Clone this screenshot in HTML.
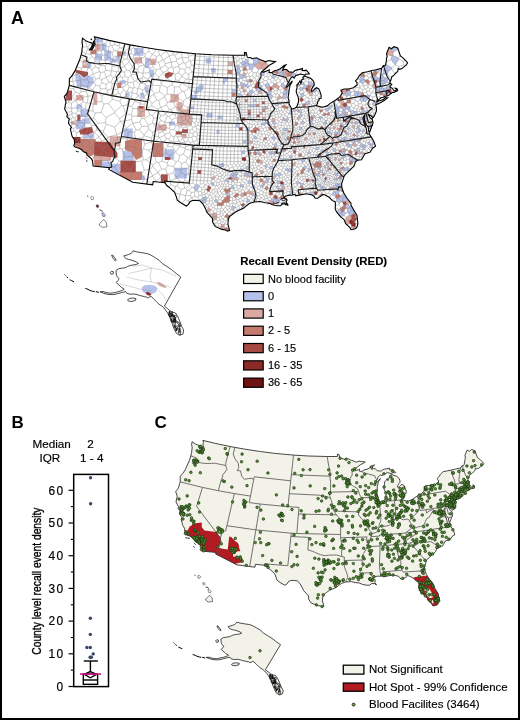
<!DOCTYPE html>
<html><head><meta charset="utf-8"><style>html,body{margin:0;padding:0;background:#fff;width:520px;height:720px;overflow:hidden}</style></head>
<body><svg width="520" height="720" viewBox="0 0 520 720" style="position:absolute;left:0;top:0;will-change:transform">
<rect x="1" y="1" width="518" height="718" fill="#fff" stroke="#000" stroke-width="2"/>
<g font-family="Liberation Sans, sans-serif">
<text x="11" y="23.7" font-size="18" font-weight="bold">A</text>
<text x="11.5" y="428.2" font-size="17" font-weight="bold">B</text>
<text x="154.5" y="428.2" font-size="17" font-weight="bold">C</text>
</g>
<path d="M82.5 38.3 84.7 39.9 86.3 41.1 88.7 42.1 90.5 42.6 92.3 43.1 92.4 44.4 92.1 46.3 90.6 48.6 88.9 50.3 90.5 49.8 92.1 49.4 93.1 47.7 94.1 46.0 95.0 44.7 94.8 42.3 94.7 40.3 95.2 38.9 94.4 36.7 109.0 40.4 124.9 43.8 130.2 44.9 140.9 46.8 157.5 49.5 173.9 51.6 195.5 53.7 212.3 54.7 233.0 55.3 244.5 55.3 244.5 52.4 246.3 52.8 247.0 56.4 247.5 57.3 250.9 57.8 252.0 58.7 253.9 58.2 256.7 57.9 258.7 59.1 260.4 59.8 263.2 60.8 265.5 61.8 268.5 60.5 271.6 61.1 275.5 61.6 273.4 63.1 270.1 64.7 267.4 67.0 264.4 69.5 261.9 71.7 263.6 72.1 265.9 71.3 268.1 70.6 269.2 69.9 269.1 72.4 271.7 72.6 274.4 70.7 277.5 70.0 279.7 68.9 282.2 67.2 284.0 65.5 285.9 64.9 284.4 66.7 283.1 68.3 282.7 70.3 284.6 69.3 286.6 69.5 288.8 71.7 291.7 72.1 293.2 72.2 295.0 70.5 296.8 69.9 299.5 69.4 302.5 68.6 302.2 70.5 304.5 70.6 306.2 70.2 307.6 71.6 309.0 73.3 309.3 73.9 307.6 74.0 305.9 74.2 304.7 75.2 302.4 74.5 300.0 74.0 298.1 74.9 295.8 75.5 294.1 78.0 292.8 76.6 291.4 77.4 290.1 79.1 288.6 82.6 287.2 84.4 286.5 87.1 288.1 86.1 289.4 84.2 291.0 82.4 292.3 80.8 291.6 83.1 290.1 84.8 289.7 87.4 289.0 90.3 288.9 92.9 288.2 96.4 288.2 98.4 289.1 100.7 289.0 102.4 289.1 104.0 290.7 107.0 291.4 108.5 292.5 108.9 295.2 107.9 296.9 106.7 297.5 104.8 298.5 102.2 298.6 99.3 297.9 96.1 296.5 93.4 296.2 90.7 297.1 87.6 296.8 85.0 298.4 83.3 300.0 80.8 300.8 83.4 301.5 81.8 301.8 79.7 303.5 78.9 302.8 77.5 304.7 75.9 306.4 76.7 308.6 77.6 310.3 78.0 312.9 80.4 314.1 83.0 314.2 85.2 313.1 86.6 311.6 89.1 311.7 91.4 313.6 90.4 314.9 88.7 316.6 87.7 318.8 88.9 320.2 92.2 321.1 95.3 321.1 98.3 319.3 98.5 318.9 100.5 317.8 101.4 317.5 103.3 316.3 105.6 318.5 106.3 321.1 107.1 323.6 107.0 327.2 105.9 329.9 103.6 332.2 102.1 336.1 99.7 338.0 98.3 340.3 96.3 342.3 92.9 340.9 90.3 344.0 89.0 349.4 88.8 353.5 87.7 355.6 86.0 357.2 85.0 356.9 82.4 355.5 80.9 357.6 78.7 359.3 75.7 362.3 72.7 367.4 71.7 371.1 70.8 376.0 69.7 381.6 68.3 383.4 65.6 384.9 65.8 385.7 64.3 386.5 60.1 386.4 58.6 387.2 56.4 386.5 53.9 389.1 47.3 391.4 48.8 394.0 46.7 397.7 48.0 400.4 56.0 403.2 58.1 406.1 61.0 407.6 62.9 406.3 65.0 403.9 66.9 401.9 68.6 399.7 69.3 398.2 68.5 397.8 71.3 395.9 73.0 394.0 75.1 391.8 76.9 390.7 80.7 390.0 81.5 390.0 83.1 391.8 84.4 390.1 86.3 390.2 87.5 391.9 87.9 393.2 89.5 394.0 90.8 395.5 90.7 396.7 89.4 395.2 88.2 396.8 88.4 397.7 90.5 395.9 91.4 393.8 92.5 392.2 92.5 391.3 93.6 390.1 94.1 389.4 94.8 387.1 96.0 385.6 96.3 383.3 97.3 380.8 97.8 379.4 99.1 377.0 101.0 376.4 102.1 378.0 101.2 381.0 100.3 383.3 99.6 385.1 97.8 387.6 97.8 384.2 100.6 380.3 102.8 378.0 103.9 375.9 104.4 375.8 105.2 376.3 107.2 376.4 108.8 376.5 110.7 375.2 114.1 374.0 116.4 372.7 118.0 371.6 116.1 369.1 115.0 367.8 113.7 368.9 115.8 370.5 118.3 372.1 119.2 372.9 121.7 373.0 122.6 372.5 125.3 371.8 126.2 370.9 128.7 369.7 132.1 369.3 132.8 368.7 130.7 368.2 126.9 365.9 124.2 364.5 120.6 364.3 116.8 364.8 114.7 363.1 117.4 363.2 120.9 364.7 124.5 365.8 126.6 366.6 130.4 367.1 133.8 369.5 134.2 371.1 136.9 373.9 141.4 375.5 146.3 372.6 148.2 369.9 152.3 364.9 153.7 361.5 159.7 357.5 160.3 355.4 161.9 354.1 166.0 349.9 170.2 346.3 173.4 344.8 175.2 344.0 176.5 342.6 180.9 341.6 183.8 341.8 187.2 342.5 189.4 343.8 193.0 346.8 198.0 351.0 203.1 350.9 205.0 353.3 209.2 357.0 215.5 357.9 223.7 357.0 226.9 355.7 228.6 352.8 229.5 350.9 229.7 349.7 227.3 345.7 223.7 343.9 219.4 340.9 217.1 337.7 213.4 336.3 211.6 335.2 208.7 335.4 204.9 335.3 201.9 332.1 200.4 329.2 197.3 325.2 195.1 323.0 194.4 321.7 195.5 319.7 196.9 317.6 198.2 315.1 198.3 314.2 196.7 312.2 195.0 306.3 193.8 301.4 194.6 298.9 195.3 295.7 195.9 294.9 194.3 292.8 195.0 291.7 195.3 289.2 195.1 286.1 196.0 284.3 197.1 283.7 198.1 285.9 198.3 287.1 200.1 286.1 202.1 288.2 205.4 285.9 203.6 282.6 203.9 280.5 205.6 276.9 205.7 272.5 204.8 268.8 203.0 265.2 202.8 260.1 201.5 254.0 202.0 249.3 203.6 247.1 205.2 243.5 208.2 238.4 210.5 235.5 212.0 232.5 214.3 229.5 216.5 228.3 219.5 227.9 224.1 228.9 227.8 229.6 230.4 227.7 231.2 225.4 230.0 221.7 229.4 218.7 228.0 215.1 226.4 212.6 222.2 212.5 218.4 209.7 215.3 206.9 212.2 205.6 209.1 203.0 204.1 199.7 200.7 195.4 200.3 192.5 200.5 190.2 201.5 188.5 204.4 186.2 206.0 184.1 204.7 180.7 202.7 177.3 200.2 176.3 196.7 174.6 192.3 170.7 188.6 166.9 185.5 164.9 182.8 153.2 181.5 152.7 184.9 132.7 182.3 108.7 169.4 109.7 167.8 93.1 166.1 92.8 163.5 92.5 160.7 91.0 158.4 87.6 155.6 86.9 155.2 86.7 153.2 83.2 151.6 82.0 150.0 79.7 148.5 74.7 146.9 73.8 145.7 74.7 143.3 74.2 139.5 72.1 136.4 71.5 133.8 70.4 128.8 71.5 127.4 70.5 126.0 68.6 123.5 68.7 121.2 69.4 119.1 67.8 117.7 66.8 116.7 67.5 114.5 64.7 108.9 65.3 105.1 66.0 102.0 64.3 96.4 66.4 94.1 67.3 92.4 68.8 87.2 69.3 85.4 69.4 78.7 72.2 75.4 75.0 70.9 76.7 66.7 79.5 60.3 81.1 54.8 82.0 51.4 82.0 49.5 82.6 45.3 82.0 42.0 82.5 38.3Z" fill="#fff"/>
<path d="M242.6 140.1l0 0l0 3.2l3.6 0l0-0.1l0-3.1zM246.2 130.4l3.3 0l0.1-2.6l-0.6-0.6l-2.9 0l0 0zM235.7 127.2l3.4 0.1l0.1-0.1l0-3.1l-1.6-0.8l-1.9 0.8zM239 109.8l0.3 0l0.3-0.1l0.9-2.6l-1.3-0.5l-0.7 0.6l0.4 2.6zM237 117.5l-0.7 2.6l1.3 0.8l1.3-0.8l-0.6-2.6zM250.8 117.4l-0.1-2.6l-2.9 0.1l0 0l0.1 2.5l2.9 0zM262.2 109.3l2.9-0.1l0 0l-0.1-2.6l-2.9 0.1l0 0zM250.6 107l0 0l0-2.6l-2.8 0.1l-0.1 0l0.1 2.6zM250.6 104.4l0 0l0 2.6l2.9 0l0 0l0-2.6zM253.5 104.4l0 2.6l2.9-0.1l0 0l-0.1-2.6l-2.8 0.1zM238.4 102l0.8-2.6l0 0l-2.8 0l0.9 2.6zM253.4 99.2l0 2.6l2.9-0.1l0 0l-0.1-2.6l-2.8 0.1zM235.9 93.1l0.3-0.3l0.3-1.7l-1.2-1.8l-3.5-0.1l0 0l0 3.8zM227.6 81.6l0.1-0.1l0-3.6l-0.2-0.3l-4.1 0.5l-0.1 3.3zM341.1 213.2l0.4-0.9l-1.4-3.6l-1.7 0.5l-1.4 3.3l0.7 0.9l0.8 0.9zM331.8 105.7l0-0.1l-1.6-0.2l-2 1.7l-0.1 1l0.8 0.9l1.5 0.1l1.6-2.3zM344.9 110.4l1.1-1.5l-0.4-1.7l-2.2-0.6l-1.3 1.7l0.8 2zM256.2 152.1l0.5 2.1l1.7 0.2l1-1.8l-0.4-1.1zM203.1 203l2.6-0.1l0.7-2.1l-0.3-0.9l-1.3-0.4l-2.4 1zM388.1 71.5l3.6-2.4l0.2-1.3l-5.5-3.1l-2.1 4.8zM313.8 114.7l-1.9 1.4l1.7 2l1.9-0.8l0-0.7zM248.3 59.4l-2.5-0.2l-1.9 2.4l1.1 1.5l3.4-0.2zM253.7 64l0.9 0.7l4.1-2l0.3-3.5l-0.3-0.1l-2-1.2l-2.8 0.3l-0.9 0.3zM364.3 79.3l-0.2-2.1l-3.5-1.2l-1.1 3.8l0.4 0.7zM324.4 172.6l-1 0.4l1 2.3l0.5 0.2l1.4-1.9zM296.1 110.1l-2.6-1.5l-0.5 2.6l1.8 0.8l1.3-1.4zM242.4 78.3l0.4-0.6l0-2.3l-0.4-0.6l-2.5-0.7l-0.4 0.6l0.1 3.7zM384.3 100.5l3.3-2.7l-2.5 0l-1.5 1.5zM295.7 74.1l-3.2-1.1l-1.7 3.3l0.8 1l1.2-0.7l1.3 1.4l1.7-2.5l0.7-0.2zM283.1 98.5l2.4-0.1l0.7-0.6l0.3-3.6l-3.1 0l-1.1 3.3l0.1 0.4zM360.2 153.6l0.2-1.5l-1-1.1l-1.9 0.1l-0.3 0.6l0.4 2.1l2 0.4zM255.3 187.7l-0.8-2.8l-1.6-0.1l-1.3 2.3l1.3 1.7l1.5-0.1zM379.9 89.1l3-1l-0.5-2.1l-3.1-0.8l-1 0.7zM300.8 97.2l0.1 0.2l1.1 0.1l2.5-2l-1-2.3l-2.8 0.3zM346.4 135l1.9-0.3l0.5-1.1l-0.5-0.8l-1.8-0.7l-1 0.9l-0.1 0.7zM277.3 174.4l-2.7-0.9l-0.3 0.1l-0.6 2.5l1.5 1.5l2.3-2.3zM240.6 93l-2.3 0.8l0.5 2.7l0.4 0.3l2.8-0.7l0.4-0.4zM346.5 96.8l3.1-1.5l-3.1-3.6l-1.7 3.1zM363.8 101.1l1.7 0.7l2.1-2.4l-2.9-2.5l-1.4 0.9zM271 94.3l-2.9 0.6l-0.4 0.4l1 3.3l0.4 0.5l2.2 0l1.2-2.3l-0.2-1.4zM254.7 66.1l-0.1-1.4l-0.9-0.7l-4.5-0.2l-0.6 1.4l0.9 4.1l2.2 1zM372.6 141.4l-0.7 2.8l0.4 0.2l2.5-0.1l-0.9-2.9l-0.2-0.3zM244.2 64.7l-2 0.3l-0.6 1.4l1.5 1.9l2.2-1.5zM356.3 123.9l0.9 0.4l1.5-1.5l-0.3-0.6l-1.8-0.8l-0.7 0.4zM341.1 149.6l0.8 2.2l2-0.4l0.2-3.1l-2.7 0.6zM310.2 191.9l-0.5 1l0.1 1.6l2.4 0.5l1.4 1.2l1.1-1.2l-0.8-3l-0.5-0.3zM317 178.3l-0.8 0.3l-0.6 1.8l0.4 0.4l2.3-0.4l0-1.2zM373.5 101.8l-1.2 2.2l1.1 1.8l0.1 0l2.3-0.8l0.1-0.6l0.4-0.1l-0.1-0.7zM327.5 131l-0.2 2.3l1.5 0.6l0.1-0.1l0.9-2.6l0 0zM237.8 174.3l0.3-1.2l-2.3-1.9l-1.5 1.9l0.4 1.5l2.1 0.5zM301 122.3l0 1.1l1.9 1l2.2-1.7l-2.5-2.4zM321.9 156.9l-0.8-1.2l-1.2 0.4l-0.3 1.7l1.3 0.7zM393.5 52l4.6-2.9l-0.4-1.1l-3.7-1.3l-2.6 2.1l-2.3-1.5l-0.2 0.3zM257.9 92.1l2.2-1.6l-0.8-2.4l-1.2-0.4l-2 1.4l-0.2 1.5zM352.9 158.3l-1.1 2.8l1.2 1l2.3-0.2l0.1-3.3l0-0.1zM380.9 81.6l0.4-1l-0.6-2.1l-0.9-0.7l-1.7 0.2l-1.2 2l0.8 1.5l2.7 0.4zM381.3 80.6l2.8-0.3l1.2-2.3l-1.9-1.1l-2.7 1.6zM297.5 136.6l-0.9-1.5l-1.3-0.1l-1.2 1.3l0 0.6l1.3 1.4l0.3 0l1.6-1.2zM338.7 194.1l0.7-3.1l-1.1-0.8l-3.5 1.2l1.5 3.3zM339.3 107.9l-0.2-1l-2.9-1.9l-1.2 3.5l1.2 1.2l2.8-1.3zM390.6 88.3l0.1-0.2l-0.5-0.6l0 0l0 0l-1.2-1.3l-2.4 0.3l-0.6 1.2l1.6 2.3zM346.9 125.7l1.8-1.7l-0.4-1.2l-2.5-0.2l-0.1 0l-0.4 1.5zM302.5 159.2l2.3 1.3l1.5-2.1l-2.5-1.9l-0.7 0.2zM343.8 128.6l-0.3-2l-0.4-0.5l-0.2 0l-1.7 1.7l0.7 1.7zM351.7 114.4l0.8-0.1l1.6-1.3l0.1-1.5l-0.9-1.1l-2.6 0.5l-0.6 0.7l0.8 2.4zM258.1 87.7l1.2 0.4l2.4-1.2l0.2-0.7l-2.2-2.4l-2 1.8zM308.8 100.8l-2.7 1.3l-0.4 1.3l0.6 1.1l1.6 0.8l2.1-1.4l-0.3-2.5zM193.7 187.7l1.7 3.3l1.6 0l2.4-4.7l-0.3-0.9l-2.6-0.9l-1.1 0.4zM345.1 170.5l2.5 0.3l0.3-3.3l-0.1-0.2l-0.3-0.1l-2.9 0.7zM269.5 86.2l-0.3-2.3l-1.7-1l-2.8 2.1l1.5 2.5zM390.2 87.5l-0.1-1.2l1.7-1.9l-1.8-1.3l0-0.4l-0.4 0.1l-0.6 3.4zM390.7 88.1l0.6-0.3l-1.1-0.3zM359.7 145.6l0.5 1.6l2.6-0.3l0.1-0.1l0-2l-0.9-1.2l-1 0zM265 122.8l0.7 0.9l1.1 0l1.4-2l-0.6-1.5l-2.1-0.3l-0.1 0.1zM315.8 173.4l-1.4 0.9l0.6 1.9l1.6-0.5l-0.3-2zM364.6 118.3l2.5 0.2l0.4-0.8l-0.5-1.6l-2.4 0.3l-0.3 0.6l0 0.6zM364.7 96.9l2.9 2.5l0.7-0.1l1.8-3.6l0-0.1l-2.5-0.8l-2.8 1.9zM270 166.6l-0.6 1l0.3 1.3l0.5 0.3l3.3-0.6l0.1-0.5l-1.1-2zM342.3 201.5l1-3.7l-2-1.8l-0.3 0l-2.3 2.5l2.5 3.2l1-0.1zM361.9 135.5l-1.1 1.6l0 0.8l0.5 0.5l2.3-0.9l0.4-1.5zM324.8 152l1.7 2.5l1.5-0.5l0.5-1.5l-1.2-1.3l-2.1-0.1zM274.7 146.4l1.4 0.3l1-0.6l-0.4-3.1l-0.2-0.1l-3 1.3zM350.7 110.9l-0.7-3.5l-2.5 1.9l1.3 2.3l1.3 0zM311.1 86.6l1.6 0.7l0.4-0.7l1.1-1.4l-0.1-1.3l-1.5-0.1l-1.7 2zM229.7 195.2l-0.6-3l-0.4 0l-2.8 1.6l-0.1 0.3l1 2.2l2.7-0.7zM336.6 114.5l1.7-1.9l0-0.1l-2.1-2.3l-1.9 2.4l0.6 1.2zM288.1 130.7l-0.3-2.1l-0.9-0.5l-1.2 0.4l-0.2 1.9l0 0.1l2.2 0.7zM335.4 183.7l0 1.2l1.4 1.2l1.4-2.4l-0.3-0.4l-1.6-0.4zM352.2 140.1l-1.3 1.4l1.9 2.1l1.9-1.1l0-0.1l-0.5-1.6l-0.9-0.7zM340.8 114.6l-2.3 1.8l0.2 0.7l2.3 0.9l1.1-0.6l0.4-0.8l-1.5-2zM312.2 92.1l0.3 0.2l2.8-0.1l1.3-1.4l-0.1-0.4l-2-1.2l-0.9 1.2l-1.4 0.7zM348.9 213.4l2.9-3.4l-2.3-2.1l-2.1 0.9l0.1 3.9zM344.1 137.7l0.4 1.7l0.5 0.3l1.7-0.4l0.8-1l-0.2-0.8l-1.4-0.8l-1.5 0.3zM370.8 77l1.8 3.5l0.3 0.1l1.1-0.8l0.9-3.5l-3-1.6zM240.2 66.7l-1.6-1.4l-1.6 0l-0.5 0.6l0.6 3.2l2.2 0.1zM386 82.8l-1.9-2.5l-2.8 0.3l-0.4 1l2.6 2.6l1.8-0.4zM249.5 91.6l-1.5 0.7l-0.2 1l1.7 2.7l1 0.1l0.7-0.4l0.5-2.2zM270.8 90.9l-1.1-0.4l-1.3 0.3l-0.3 4.1l2.9-0.6l0.3-2.5zM248.6 65.2l0.6-1.4l-0.8-0.9l-3.4 0.2l-0.8 1.6l1.1 2.1l0.4 0.1zM249.4 184.1l2.3-1.1l0-0.9l-0.7-1l-1.7-0.7l-1.4 0.4l-0.1 2.2zM328.9 154.8l-0.9-0.8l-1.5 0.5l-0.6 1.3l0.7 1.2l2.1-0.2zM349.5 214.9l1.3 0.8l2.7-2.1l-0.2-3.5l-1.5-0.1l-2.9 3.4zM311.2 124.6l2.1-0.6l-1.1-2.6l-2.6 1.1l-0.1 0.6zM336.7 180.2l0.5 0l1.5-1.2l-0.5-1.1l-1.4-0.4l-0.6 0.6l0.2 1.9zM274.1 78.7l1.3-2.1l-2.2-1.7l-1.6 1.2l0.5 2zM351.4 138.6l-1.4-0.2l-0.6 0.4l0 2.7l1.5 0l1.3-1.4zM278.1 106l0.5-1.7l-1-2.2l-2.8 2.1l0.7 1.6zM337.6 137.2l-0.9 1.1l0.9 1.8l1.2 0.2l0.3-0.3l-0.1-2.6zM360.7 120.1l1.2-0.6l0.3-2.3l-0.6-0.4l-1.8 0.3l-0.2 0.4l0.3 2.3zM377 90.4l-1.2 3.5l0.1 0.2l3.4-0.4l0.8-2.1l-0.7-1.5zM341.3 139.6l0.8 0.9l0.5 0.1l1.9-1.2l-0.4-1.7l-2.5 0.2zM369.9 128.9l0.2-2.5l-1.5-0.5l-0.9 0.5l0.5 0.5l0.3 1.9zM320.6 119.3l1.9-1l-0.4-1.8l-3 0.2l-0.3 0.8l0.3 1.1zM357.3 127.4l1.8 0.3l1.3-1.6l-0.7-0.8l-2.1 0.1l-0.5 1.2zM324.7 186.6l-2-0.1l-0.4 2.1l1.4 2.2l0.6-0.1l1.9-1.6l-0.2-0.8zM323.8 180.2l-0.1 1.7l0.8 0.5l1.4-0.5l-0.2-2l-0.9-0.4zM204.1 197.5l0.7 2l1.3 0.4l1.4-2.2l-2.2-1.5zM325.8 128.4l-0.4-1.6l-2.3 0.5l0 1.3l1.9 0.7zM302.6 185.9l1.1-1.8l-0.2-0.4l-3.3-0.6l0.5 2.9zM301.6 81.4l-0.1 0.4l-0.7 1.6l-0.1-0.4l-0.4 1.4l3.9 0.5l0.1-0.1l-0.1-2.4zM362.1 109.9l-0.1 1.7l1.1 0.9l0.4 0l1.4-1.2l-1.1-2.2zM359.7 81.9l3.2 2l2.1-2.4l-0.1-1.5l-0.6-0.7l-4.4 1.2zM281.1 142.9l-0.6 0.9l0.1 0.7l2.2 0.4l1-1.2l-0.1-1l-0.1-0.1zM373.5 114.4l-1.3 1.2l-0.2 1.1l0.7 1.3l1.3-1.6l0.7-1.4zM289.5 191.4l0.4 3.1l2.6-1.1l0.3-0.8l-2.6-1.8zM337.1 132.4l-1.7-1l-0.9 0.9l0.2 2l2.8-0.3l0-0.1zM254.2 91.7l-2.2-1.9l-2.1 0.7l-0.4 1.1l2.2 1.9l2.2-1zM287.2 121.9l1.2-2.4l-0.6-1.7l-0.1-0.1l-2.4 1.5l-0.2 1.3l0.9 1.6zM271.1 154.4l0.6-0.5l0.1-2.3l-1.3-0.4l-1.6 0.9l-0.1 1.5l0.9 0.8zM274.1 202.4l2.2-0.2l0.7-2.5l-0.2-0.6l-2.1-0.4l-1.7 2.9zM342.9 126.1l0.2 0l0.7-1.4l-1.2-1.6l-1.6 0l-0.5 0.6l0.1 1.1zM273 201.6l1.7-2.9l-1.1-1.3l-2.3 1l-0.3 1.5l1.9 1.7zM247 170.1l1.2-0.5l0.6-2.5l-0.9-0.8l-1.7 0.3l-0.8 1.7zM312.8 140.4l-1.6 1.4l1.7 1.8l1.7-1.8zM275.7 138.7l-0.1-1.2l-2.1-1.6l-1.8 1.6l0 0.2l0.5 1.4l2 0.9zM278.6 172.7l-1.3 1.7l0.2 0.9l1.6 1.4l2.5-2.1l-1.1-1.8zM241.6 82.3l-0.8 0.1l-0.7 2.8l1.1 0.8l1.3-0.1l1.2-2.2zM232.2 185.2l-2.2 2.9l0.3 0.3l3.7 0.6l0.3-0.9l-1-2.6zM245.5 86.4l1.7 1.5l1.3-0.3l1.1-1.4l-2.1-2.2l-1.9 0.6zM283.4 88.7l0.3 0.1l1.3-2.8l-1.9-2.9l-1.3 0.2l-1 2.6zM344.1 211.5l-2.6 0.8l-0.4 0.9l2.1 2.4l1 0l1.6-2.7zM303.2 88.9l-0.4-1l-2.6-1l-0.9 2.2l1 1.4l2.4-0.6zM282.2 159l0.4 2.2l2.7-0.9l0.3-1.6l-1.9-0.7zM300.1 117.4l1.7-1l0.4-1.7l-0.9-1.2l-2.8 2.1l0.2 0.9zM364.3 131.6l0.1-1.6l-0.9-0.9l-1.8 2l0.8 1.3zM298.5 139l1.2-0.1l0.6-1l-0.8-1.6l-2 0.3l-0.2 0.5zM338.3 190.2l1.1 0.8l0.9-0.2l1.8-2.7l-0.3-0.9l-0.1-0.7l-1.5-0.1l-2.5 1.2zM383.4 76.9l-0.5-2.9l-2.7 0.3l-0.4 3.5l0.9 0.7zM236.4 77.8l-0.6 0.4l0.1 3.5l0.7 0.6l2.5-1l0.4-2.8zM343.3 197.8l3.1-0.5l-2.6-4.3l-0.1-0.2l-0.3 0l-2.1 3.2zM314.5 186.3l0.9-2.2l-0.2-0.4l-1-0.3l-1.7 1.8l0.8 1.3zM335 120.1l0.9-1.7l-0.6-1l-1.9-0.2l-0.4 1.5l0.7 1zM336.2 178.1l-1.7-0.1l-0.8 1l-0.2 0.8l0.5 0.4l2.4-0.2zM318.3 167.5l-0.5 0.4l0 1l2.4 1l0.2-2.1zM353.3 210.1l0.4-0.2l-0.4-0.7l-1.9-3.4l-1.7 0.9l-0.2 1.2l2.3 2.1zM272.7 123.6l1.8 1.4l1.9-1.7l-1.7-2.1l-2.2 0.5zM217.9 200.3l-2-1l-1.4 1l0.3 1.8l2.6 0.4l0.3-0.3zM268.3 180.4l-1.9-0.3l-1.5 1.3l0.7 1.2l1.7 0.7l1.5-1.3zM253.8 138.3l1.2 0.8l1.9-0.8l-0.3-1.2l-2.3-1.2l-0.3 0.1zM271.8 151.6l-0.1 2.3l2.9 0.7l0.3-0.5l-1-2.3l-1.7-0.4zM284.5 89.7l-1.8 3.4l0.7 1.1l3.1 0l0.2-0.2l-0.4-3.8zM345.6 142.4l0.7 3l2.6-1.6l0-1.9l-0.9-0.2zM360.5 129.1l-0.8-0.1l-1.1 1.1l0 1.1l0.6 0.7l2.1-1zM290.1 110.8l-1.4 2.6l0.2 0.5l2.1 0.8l1.1-1l0.1-2zM337.2 173.6l0-0.1l-1.7-1.1l-1.2 0.5l-0.2 1.2l1.4 0.6zM279 186.5l-1.6-0.9l-1.7 1.1l0.5 1.1l2.1 1.1l0.5-0.4zM341.7 186.5l-0.1-2l-1.2-1.3l-2 0.6l1.8 2.6zM305.3 88.9l1.7-2.2l-0.1-1l-2.6-0.9l-0.1 0.1l-1.4 3l0.4 1zM278.5 73.3l1.2 2.5l2.9 0.7l0.6-3.5l-0.8-1.1zM263.1 89.1l-1.4-2.2l-2.4 1.2l0.8 2.4l1.3 0.4zM342.1 113l-1.1 1.6l1.5 2l1.5-0.2l0.8-1.8l-0.3-1zM317.8 176.2l0 0l2 0.6l0.9-2l-0.8-1.1l-1.2 0zM385.5 91.6l-1.8-0.8l-1.2 1.2l0.3 2.8l0.3 0.1l2.8-0.8zM308.6 82.1l-0.1 0.1l-0.5 2.6l2.9 1l1.7-2l-1.4-1.9zM324.4 122.2l2 1.5l0.1 0l0.4-3.4l-1.7 0zM266.4 164.3l-2.2 1.5l1.6 2.6l1.6-1.4l-0.5-2.6zM318.1 173.1l-1.8 0.6l0.3 2l1.2 0.5l0.9-2.5zM312.5 127.7l-1.9-1.2l-1.1 0.3l-0.5 0.9l1.5 1.9l2-1.6zM359.7 119.9l-1.3 2.3l0.3 0.6l1.3 0.6l1.3-0.6l0.1-0.2l-0.7-2.5l-0.8-0.3zM309 167.9l-1.2 0.8l0 2.4l0.9 0.5l0.2 0l1.4-1l0.3-1.8zM264.8 71.7l-1.2 0.4l-1.5-0.3l-1.2 2.1l1.5 1.5l1.5 0zM263 70.2l-0.6 1.1l1.1-1zM352.2 157.5l-2.5 0l-0.8 2.1l0.9 1.5l2 0l1.1-2.8zM289.1 157.8l2.1 1.5l1-1.2l-0.2-2.2l-0.6-0.6l-1.9 0.4zM246.4 201.8l0.4 0.6l0.5 0.1l2.2-1.1l0-1.6l-2.3-1.3zM347.5 153.8l0.4 2.3l1.6 0.8l1.3-3l-2.2-1.3zM354.4 137.6l-0.6 0.4l-0.5 2.1l0.9 0.7l1.7-1.7zM307.6 152.8l0.3 1.3l2.4-0.2l0.3-1.5l-1.6-1.3zM322.3 188.6l0.4-2.1l-0.1-0.2l-1.8-0.5l-0.8 0.7l0.2 1.7zM340 180.5l1.7-0.7l-0.5-2l-2.1 1.3zM346.3 208.5l1.1 0.3l2.1-0.9l0.2-1.2l-1.2-2l-1.9-0.3l-1.4 1.1zM362.9 146.8l2.4 0.6l1.3-0.9l0-0.4l-1.3-1.6l-2.4 0.3zM319 148.7l-0.1-0.9l-2.5-0.6l-1.4 1.4l0.4 0.8l2.3 0.6zM262.7 122.7l-1.1 1l-0.1 0.5l0.2 0.7l3.1 0.4l0.9-1.6l-0.7-0.9zM343.5 154.6l1.3-0.4l0.4-0.5l-0.4-1.7l-0.9-0.6l-2 0.4l-0.3 0.5l0.1 1.2zM346.3 145.4l-0.1 0.2l1.7 1.5l1.6-0.3l0.4-2l-1-1zM280 183.2l0.3-1.8l-0.3-0.4l-2.8-0.3l-0.5 2.4l1.1 0.8zM348.5 117.6l-1.4 0.4l-0.1 1.9l1.7 0.7l1.1-1.1zM239.7 73.1l-2.9-1.1l-1.5 2.2l1.3 1.2l2.9-0.7l0.4-0.6zM323.8 166.4l0.3 1.5l1.4 0.5l0.6-0.4l-0.8-2.5l-1 0zM379.9 89.1l-1.6-3.2l-0.9-0.1l-2.4 2.4l2 2.2l2.4-0.3zM231 174.3l2.6 1.5l1.1-1.2l-0.4-1.5l-1.6-0.6l-1.7 1.6zM283.8 186.1l0.1-1.4l-0.2-0.3l-3.2-0.5l-0.1 2l1.5 1.3zM296 149.7l-0.1-0.2l-1.7-1.5l-1.9 0.8l0.7 1.9l0.2 0.1l2.5-0.4zM341.3 157.8l0 0.7l2.2 1l0.7-2l-1.5-1.1l-0.7 0.2zM301.4 109.9l-0.4-0.4l-1.8 0.5l-0.7 2l2.8 1.4l0.1-0.3zM343.3 197.8l-1 3.7l3.6 0.1l2.1-2.2l-1.2-1.4l-0.4-0.7zM240.8 70.6l-1.5-1.4l-2.2-0.1l-0.9 0.9l0.6 2l2.9 1.1zM357.7 91.8l0.3 4l1.8 0.8l2.6-4l-0.1-0.1l-4.2-1zM277.5 203.7l0.6 0l1.6-1.6l0-1.5l-2.7-0.9l-0.7 2.5zM279.7 200.6l1.4-1.1l-1.2-2.1l-2.3 0.2l-0.8 1.5l0.2 0.6zM321.4 161.9l0.1-0.1l-1.7-1.6l-0.9 0.1l-0.4 1.3l0.4 1zM383.7 90.8l-0.3-2.4l-0.5-0.3l-3 1l-0.5 1l0.7 1.5l2.4 0.4zM342 169.6l0 0.3l2.1 1.5l0.3 0l0.7-0.9l-0.5-2.6l-0.3-0.2zM290.2 146.2l1.7 1l1.3-1.4l-0.2-0.8l-2.2-0.1zM278.4 73.2l0.1 0.1l3.9-1.4l0.1-0.8l-2.3-2.6l-0.5 0.4l-2.2 1.1l-0.1 0.1zM359.2 131.9l-0.6-0.7l-2.6 0.5l-0.1 0.5l1.7 2l1.7-1.8zM353.8 138l-1.5-0.3l-0.9 0.9l0.8 1.5l1.1 0zM286.9 90l-0.6 0.2l0.4 3.8l1.9 0.2l0.3-1.3l0.1-2.4zM236.8 175.1l-2.1-0.5l-1.1 1.2l-0.3 2l0.9 0.5l2.8-1.2zM320.8 185.8l-0.2-1.5l-0.3-0.4l-2.1 0.2l0 0.1l0.5 2.1l1.3 0.2zM344 116.4l1.1 0.9l1.2 0l1.1-2.4l-2.6-0.3zM382.4 86l1.1-1.8l-2.6-2.6l-0.5 0.3l-1.1 3.3zM283.1 149.4l-2.7-0.5l-0.4 0.2l0.8 3l2.2-0.2l0.5-0.5zM360.2 112.2l-0.1 1.7l1.7 0.8l1.3-2.2l-1.1-0.9zM228.1 178.5l-1.9 0.2l-1.6 2.2l3.6 1.3l0.2-0.3l0.3-2.4zM390 94.2l0.1-0.1l1.2-0.5l0.9-1.1l1.6 0l0.3-0.1l-0.2-0.3l-2.2-0.9l-2.4 1.6l-0.1 0.2zM354.2 140.8l0.5 1.6l2.8-1.2l0.3-0.8l-1.4-1.3l-0.5 0zM326.7 171.6l1.7 0.1l0.2-1.9l-0.5-0.5l-2.2 1.5zM392.7 55.3l-0.7 0.6l-1 3.7l4 5.1l0.3 0l3.5-5.5l-0.3-1.3zM368.2 144.6l1.9 0.1l0.9-0.5l-1.5-2.7l-2 1.2zM356.3 123.9l-0.4-2.1l-0.9-0.1l-1.3 1.1l1.1 1.8zM331.3 128.1l-0.7-0.8l-2.2 0.3l-0.1 0.5l1.9 2.2l0.3-0.2zM309 181l0.8 0.7l2-0.6l0-1.8l-2.5 0.1l-0.3 0.1zM357.7 91.8l-3.1-0.7l-0.6 4.2l2 1.3l2-0.8zM323.7 152.7l1.1-0.7l0.4-0.9l-0.4-1l-2.9-0.3l-0.9 0.6l-0.1 1.2zM342.6 140.6l1.2 2.1l1.7-0.4l-0.5-2.6l-0.5-0.3zM330.4 160l0.9-1.9l-1.2-1l-1 0.1l-0.3 2.4zM266.8 123.7l1.6 1.8l1.4-1l-0.1-2.2l-1.5-0.6zM330.9 142.2l0.1 1.3l1 0.9l0.8 0l0.7-2.8l-1.7-0.7zM304.7 165.7l-1.6 1.7l1.9 1.6l1.3-1.1l-0.1-1.5zM231 174.3l-0.8 0.9l0 1.5l2.2 1.3l0.9-0.2l0.3-2zM318.3 155.2l-0.1-0.7l-0.9-0.7l-2.3 1.1l1 2.1l0.4 0.2l0.9-0.4zM357.4 111.8l-0.7-0.8l-2.5 0.5l-0.1 1.5l1.8 1.3l1.4-1zM370.8 126.1l-0.7 0.3l-0.2 2.5l0.7 0.7l0.3-0.9l0.9-2.3zM288.4 169.1l-1.7-1.3l-1.4 1.4l0.2 1.2l2.5 0.7zM337.8 118.7l0.1 0l0.8-1.6l-0.2-0.7l-1.7-1.2l-1.5 2.2l0.6 1zM357.8 140.4l-0.3 0.8l0.8 1.8l2.2 0.1l-0.4-2.2l-2.1-0.6zM353.3 210.1l0.2 3.5l2.1 0.9l0.6-0.3l-2.5-4.3zM341.1 213.2l-2.6 1.1l2.4 2.8l0.6 0.5l1.7-2zM285.5 130.4l0.2-1.9l-1.3-0.7l-1.5 0.8l-0.1 1.6l0.4 0.4zM336.8 186.1l0.2 1.1l0.7 0.4l2.5-1.2l-1.8-2.6l-0.2-0.1zM297.1 184.7l3.1-1.6l0-0.1l-2.3-2.1l-1.5 0.8l-0.2 1.6zM235.4 207.6l-0.3-0.6l-2.3-1l-1.2 0.8l0.1 2.8l1.7 0.7l0-0.1zM367.5 120.4l-0.4-1.9l-2.5-0.2l-0.2 0.5l0.1 1.6l2.2 0.5zM359.4 151l0.8-1.7l-0.5-1.4l-2.6 0.1l-0.4 1.2l0.8 1.9zM236 87.8l2.3-0.3l0.7-2l-2.5-1.5l-1.3 1.5zM245.5 172.3l-1.5 1.1l-0.1 2.5l0.4 0.3l1.4-0.1l1.7-2.6l-1.2-1.3zM287.4 138.9l-0.5-0.4l-2.2 0.6l-0.1 0.1l0.2 0.9l1.3 0.8l1.4-0.8zM359.7 100l2.2 2.1l1.9-1l-0.5-3.3l-2.9-0.3zM335.6 170.5l0.1 0.2l1.6 0.4l0.9-1.6l-1.5-1.2zM357.7 137.1l0.9-1.7l-1-1l-2.2 1.2l-0.1 0.4l1.9 1.2zM312.2 121.4l0.3-1.3l-1.6-0.8l-2 0.7l-0.3 0.8l1 1.7zM333.6 185.8l-0.6 1.5l0.5 1l3.5-1.1l-0.2-1.1l-1.4-1.2zM323.2 122.6l0.3 2l1.7 0.2l1.2-1.1l-2-1.5zM337.4 153.1l-0.3 1.8l0.4 0.7l2.1-0.1l0.3-0.4l-1.4-2.2zM377.7 72.6l0.3 0l3.1-3.5l-0.3-0.6l-4.8 1.2l-1.4 0.3l0.1 0.3zM374 79.8l2.9 0.2l1.2-2l-2.3-2l-0.9 0.3zM253.6 193.9l-0.9 1.5l0.1 0.1l2.1 1.2l1.4-2.2l-0.1-0.6zM243.1 169.2l-2.1-0.6l-1.6 1.2l0.5 2l1.1 0.4l2.1-1.8zM338.5 130.7l-1.4 1.7l0.4 1.5l1.8 0.2l0.1 0l0.8-2.1l-0.3-1.2l-0.6-0.3zM288.4 171.8l2.1 0.3l0.7-0.7l-0.1-2.5l-1.5-0.5l-1.2 0.7l-0.4 2zM211.4 182l-0.7 1.7l1.8 1.9l1.6-0.2l-0.3-2.6zM349.9 144.8l-0.4 2l1.6 1.4l1.6-3l-0.2-0.7zM338.3 112.6l-1.7 1.9l0.2 0.7l1.7 1.2l2.3-1.8zM336.5 149.9l-1-1.6l-2.6 0.3l-0.3 0.9l0.7 1.6l2.2 0.7zM222.9 164.5l-3.7-0.2l-0.4 0.5l1.9 2.9l2.1-1.3l0.3-1.7zM301.9 127.1l-2.1-0.2l-0.3 0.1l0.1 2.7l0.8 0.2l1.7-0.9zM347.6 129.6l0.9 0.3l1.6-1.3l-1.2-1.5l-0.6 0l-0.9 2zM250.8 172.7l-2.9 1l1.3 3.1l0.5 0.2l1-0.2l0.7-0.8l-0.1-3.2zM198.5 199.6l-0.5 0.9l1.7 0.2l2.9 2.9l0.5-0.6l-0.7-2.5l-1.3-0.8zM369.8 147.6l2.8 0.7l0-0.1l0.1-0.1l-0.4-3.7l-0.4-0.2l-0.9 0l-0.9 0.5zM362.7 149.7l0.2 0.4l2.2-0.6l0.2-2.1l-2.4-0.6l-0.1 0.1zM358.7 159.4l-3.3-0.8l-0.1 3.3l0.1 0.1l0-0.1l2.1-1.6l1.5-0.2zM345.5 111.9l-0.6-1.5l-2-0.1l-1.1 1.2l0.3 1.5l2.4 0.6zM328.8 163.7l0.4-1.2l-1-0.9l-1.8 0.7l-0.2 0.7l0.2 0.4l2.1 0.5zM254.6 176.3l-0.1-0.2l-3.1-0.1l-0.7 0.8l1.7 2l1-0.1zM367 109.8l-1.3 1.5l0.7 1.1l1.6 0.3l0.9-0.6l-0.1-1.3zM356.4 139.1l1.4 1.3l0.2-0.1l1.1-1.9l-1.4-1.3l-0.5 0.1zM387.4 77.5l-2.1 0.5l-1.2 2.3l1.9 2.5l1.6-0.6zM334.8 191.4l-1-0.5l-2.1 3.7l3.7 1.6l0.9-1.5zM241.8 154l2.7-0.4l0.7-2.2l-1.1-1.1l-2.9 1zM202.8 197.3l-1.7 2.4l1.3 0.8l2.4-1l-0.7-2zM344.2 157.5l1.5-0.5l-0.9-2.8l-1.3 0.4l-0.8 1.8zM328 111.3l0.9-2.3l-0.8-0.9l-2.6 0.7l-0.6 0.8l0.8 1.2zM385.5 91.6l2-1.3l0.1-0.3l-1.6-2.3l-2.6 0.7l0.3 2.4zM331.6 153.1l-1.2 1.6l0.5 1.2l1.6 0.3l0.7-1.6l-1.6-1.5zM336.6 176.5l1.3-1.3l-0.5-1.4l-0.2-0.2l-1.7 1.1l0.1 1.2zM243.9 61.6l-1.1-0.4l-2.1 1.5l1.5 2.3l2-0.3l0.8-1.6zM243.5 186.8l0-1.7l-2.7-1.2l-1 1.7l0.6 1.3l2.6 0.3zM339 108.4l-2.8 1.3l0 0.5l2.1 2.3l1.6-1.5zM245.9 80.8l1.8 2l1.8-0.8l-0.3-2.3l-2.8 0.3zM242.8 75.4l0 2.3l3.2 0.1l0.5-0.9l-1-1.8zM347.9 167.5l-0.3 3.3l0.7 0.8l1.6-1.4l1.1-1zM329 141.5l-0.6 0.9l0.4 1.7l2.2-0.6l-0.1-1.3zM328.9 133.8l2.7 0.6l0.2-0.2l0.2-1.2l-2.2-1.8zM370.1 126.4l0.7-0.3l0.1-1.7l-1.6-1.2l-0.7 0.6l0 2.1zM338.7 198.5l-2.2 0.1l-0.1 2.5l2.9 2.3l1.9-1.7zM372.2 115.6l-1.8-1.7l-1.3 1.1l2.5 1.1l0.4 0.6zM387.6 74.4l0.5-2.9l-3.8-2l-0.7 0.3l-0.6 4.1zM320.6 172.3l2.2 0.2l-0.1-2.5l-2.4 0.1l-0.3 0.9zM354 229.1l1.7-0.5l1.1-1.4l-1.4-0.8l-1.3 0.7zM242.5 85.9l1.4 1.1l1.6-0.6l0.1-1.8l-1.3-0.9l-0.6 0zM305 161.3l-0.2-0.8l-2.3-1.3l-1.4 0.9l1 2.8zM260.8 186.9l2.2 0.7l0.7-2.6l-1-0.5l-2.5 1.1zM342.2 176l2.4-0.5l0.2-0.3l0.3-0.4l-2.2-1.1l-1.1 1.5zM266.5 177.9l-0.2 0.1l0.1 2.1l1.9 0.3l1.2-1.7l-0.4-0.9zM356.9 129l1.7 1.1l1.1-1.1l-0.6-1.3l-1.8-0.3l-0.6 0.9zM243 206.6l-0.7-0.1l-1.6 3l2.8-1.3l0.6-0.4zM347.4 114.9l-1.1 2.4l0.8 0.7l1.4-0.4l0.5-1l-0.5-1.3l-1-0.4zM278.8 188.5l-0.5 0.4l-0.1 1l1.8 2.2l0.2-0.2l1.3-3l0-0.1zM350 107.4l0.1-0.3l-3.1-1.4l-1.4 1.5l0.4 1.7l1.5 0.4zM314.3 163.5l-1.4-1l-1.7 1.4l2.1 1.1zM351 117l-2-0.4l-0.5 1l1.3 1.9l0.7-0.2zM282.6 161.2l-0.4-2.2l-1.6-0.7l-0.8 2.1l2.2 1.8zM283.8 134.8l1-1.9l-1.5-0.7l-0.8 0.5l-0.2 2.2zM316.5 90.4l0.8-2.3l-0.7-0.4l-1.7 1l-0.4 0.5zM349.6 90.5l-3.2 0.9l0.1 0.3l3.1 3.6l0.5 0.1l1.1-3.4zM337.4 173.8l2.7-0.3l0.2-0.5l-1.2-1.3l-1.4 0.3l-0.5 1.5l0 0.1zM95.8 37.3l0 5.4l6.9 0l0-3.9l-5.9-1.5zM100.4 43.5l0 6.9l6.1 0l0-6.9zM95 53.5l0 6.9l7 0l0-6.9zM104.2 50.4l0 10l7 0l0-10zM109.6 58.8l0 3.9l6.2 0l0-3.9zM115.8 55.8l0 5.4l3.8 0l0-5.4zM122.7 52l0 3.8l3.1 0l0-3.8zM85.8 62.7l0 5.3l5.4 0l0-5.3zM75.8 82l1.5 4.5l12.3 1.5l3.9-4.5l0-6.2l-5.5-1.5l-7.6 0l-5.4-3.1zM119.6 80.4l0 3.8l6.2 0l0-3.8zM125 92.7l0 4.6l4.6 0l0-4.6zM134.2 48l0 7.8l9.3 0l0-7.8zM140.4 92.7l0 5.3l3.8 0l0-5.3zM145 58l0 10l4.6 0l0-10zM149.6 69.6l0 7.7l4.6 0l0-7.7zM205.8 58l0 5.5l5.4 0l0-5.5zM211.2 68l0 4.7l4.6 0l0-4.7zM194.2 94.2l2.8 0l2-2.2l4-2l1.2-5l-3.2-0.8l-3 1.8l-3.8 5zM191.2 95l0 3.8l6.1 0l0-3.8zM222.7 79.6l0 4.6l2.3 0l0-4.6zM145 86.5l0 6.2l3.8 0l0-6.2zM76.5 104.6l0 4.6l5.5 0l0-4.6zM80.4 109.2l0 7.8l7.6 0l0-7.8zM75.8 120l0 9.2l9.2 0l0-9.2zM82 118.5l0 4.5l7.6 0l0-4.5zM83.5 133.5l0 5l10.7 0l0-5zM111.2 167.7l0-6.2l-9.2 0l0 5.5l6.6 0.7zM123.5 128.5l0 8.5l9.2 0l0-8.5zM122.7 150.8l0 12.2l10.8 0l0-12.2zM120.4 173.8l0-10l-9.2 0l0 7l5.6 3zM138.8 175.4l0 4.6l6.2 0l0-4.6zM125 129.2l0 7.8l7.7 0l0-7.8zM178.8 119.2l0 6.2l4.7 0l0-6.2zM168.8 121.5l0 3.9l6.2 0l0-3.9zM164.2 149.2l0 10l10 0l0-10zM178.8 167.7l0 7.7l8.5 0l0-7.7zM174.6 167.7l0 10.8l12.4 0l0-10.8zM206.5 113l0 4.7l6.2 0l0-4.7zM190.4 106.2l0 3l3.8 0l0-3zM217.3 115.4l0 3.8l5.4 0l0-3.8zM216.5 130l0 3.8l3.1 0l0-3.8zM220.4 163l0 4l3.8 0l0-4z" fill="#b4c1ea"/><path d="M262.8 120l2.6 0l0.1-0.1l-0.1-2.9l-2.9 0.1l0 0l0.1 2.7zM262.4 114.5l0 0l-0.1-2.6l-2.9 0.1l0 0l0.1 2.6zM267.7 109.1l0.3-0.5l-0.5-2.1l-2.5 0.1l0 0l0.1 2.6zM228 61.6l0 0.1l-0.1 4l4.7 0.2l0.1-0.1l0-4.1zM269.9 86.6l-0.4-0.4l-3.3 1.3l0 0.1l2 3.2l0.2 0l1.3-0.3zM213.7 216.5l0.5 0.3l2.7-0.6l0.2-1.7l-0.8-1.4l-2.3-0.2l0 0zM339.1 106.9l0.2 1l2.8 0.4l1.3-1.7l-0.9-2.4l-1.3-0.1zM243.9 72.1l-1.5 2.7l0.4 0.6l2.7-0.3l0.5-1.3zM266.1 62.8l-4 1.8l-0.5 4.2l1.4 1.4l0.5 0.1l0.9-0.8l3-2.5l1.6-1.3zM282.3 97.5l-3.1-2.4l-2.3 3l0.3 1.7l0.1 0.1l5.1-2zM345.9 217.5l0.1 2.3l3 1l2.3-1.7l0.3-1.3l-0.8-2.1l-1.3-0.8zM326.4 163.4l-0.6 1.7l2.2 1l0.2 0l0.3-2.2zM376.1 83.6l-2.2-0.5l-1.6 2.5l0.8 2l0.8 0.6l1.1 0l2.4-2.4zM344.8 114.6l2.6 0.3l0.1 0l0-2.5l-2-0.5l-1 1.7zM252.7 191.9l-0.9-0.5l-1.1 0.3l-0.8 2.3l2.8 1.4l0.9-1.5zM216.9 216.2l-2.7 0.6l0.5 2.9l1.6 0.2l1.1-2.9zM254.7 66.1l3.7 3.5l3.2-0.8l0.5-4.2l-3.4-1.9l-4.1 2zM271 199.9l-1.9 0.8l1 2.9l0.5 0.3l2.3-2.3zM392 55.9l0.7-0.6l0.8-3.3l-4.6-4.4l-2.4 6.3l0.1 0.6zM214.4 176.2l-3.2 1.5l-0.1 0l0.6 2l2.2 0l1.3-2.2l-0.3-1.1zM278.6 89.7l0.9-3.3l-2.4-1.3l-1.5 2l2.3 2.8zM352.8 143.6l-0.3 0.9l0.2 0.7l2 1.4l1.5-0.2l0.6-1.4l-2.1-2.5zM282.6 76.5l0.7 1.1l0.5 0.2l3.6-1.2l-0.4-3l-0.1-0.1l-3.7-0.5zM329.9 186.9l-1.7 2.6l1.2 1.1l3.9-0.5l0.2-1.8l-0.5-1l-1.1-0.4zM278.5 135.5l-0.4 0.2l0.8 2.9l1.9-0.5l-0.2-1.9zM351.9 126.8l1.5 1.7l0.8 0.1l0.3-0.2l0.1-2.5l-0.2-0.3l-1.9 0.1l-0.6 0.5zM211.1 209.8l-2.5-2.1l-0.5 0.3l-0.9 3.4l2.6 0.4l1.4-1.8zM346.1 91.1l-0.2-2.2l-1.9 0.1l-3.1 1.3l0.6 1.2zM238.3 178.3l-1.3-1.2l-2.8 1.2l0.4 1.3l2.8 1.2l1.1-1.8zM362.2 154.6l1.9-0.8l0-0.5l-1.4-1.9l-2.3 0.7l-0.2 1.5zM327.3 151.2l1.6-2.4l0-0.1l-2.1-1.1l-0.4 0l-1.2 1.1l-0.4 1.4l0.4 1zM224.1 226.8l-3.4 0.2l0 0.1l-0.5 1.6l1.5 0.7l2.6 0.5l0.4-2zM311.9 95.8l0.8-0.8l-0.2-2.7l-0.3-0.2l-3.6 0.8l1 2.5zM300.6 192.4l-1.9 0.7l-0.5 2.2l0 0.1l0.7-0.1l2.5-0.7l1.2-0.2l-0.4-0.9zM248.7 190.1l-2.6 2.3l0.7 1.1l3.1 0.5l0 0l0.8-2.3zM348.5 204.7l1.6-2.7l-2.1-2.6l-2.1 2.2l0.7 2.8zM336.4 157.5l-1.3-0.2l-0.4 0.2l-0.3 2.6l0.8 0.6l1.4-0.8zM281.5 188.8l0 0.1l2 1l1.4-0.8l-0.1-2.1l-1-0.9l-1.9 1.1zM353.3 122.8l-1.3-1.8l-1.2 1.2l0.2 1.1l1.3 0.4zM362.2 117.2l-0.3 2.3l1.3 0.4l-0.1-2.5l0.1-0.1zM364.6 118.3l-0.3-0.7l0.1 1.2zM322.6 136l-0.6 0.9l1.3 1.4l1.2-0.4l0.1-1.5l-0.4-0.4zM278.2 189.9l-2.5 1.5l0.6 1.2l3.3 0.4l0.4-0.9zM263 170.8l-2.9-0.2l-0.1 0.4l0.8 2.4l1.4 0.5l1.5-1.1l0.1-0.7zM247 177.5l2.2-0.7l-1.3-3.1l-0.5-0.2l-1.7 2.6zM351.9 153.7l-1.1 0.2l-1.3 3l0.2 0.6l2.5 0l0.9-3zM349.4 223.3l-0.4-2.5l-3-1l-1.5 1l1.2 2.9l1.4 1.3zM258.7 62.7l3.4 1.9l4-1.8l0.1-1.3l-0.7 0.3l-2.3-1l-2.8-1l-1.4-0.6zM354.1 227.1l-2.7-1.2l-1.3 2.1l0.8 1.7l1.9-0.2l1.2-0.4zM271.6 119.8l0.4 1.6l0.5 0.3l2.2-0.5l0.8-1.3l-0.5-1.5l-2.6-0.2zM271.8 179.3l2.5-0.2l0.9-1.5l0 0l-1.5-1.5l-1.4 0.4zM275.6 87.1l1.5-2l-0.2-1.5l-3.5-0.1l-0.3 2l2.4 1.6zM263.2 180.8l-1.1 0.9l0.6 2.8l1 0.5l0.5-0.1l1.4-2.3l-0.7-1.2zM258.2 93.7l3.8 0.1l0.4-0.6l-1-2.3l-1.3-0.4l-2.2 1.6zM221.1 224l-0.4 3l3.4-0.2l0.4-2.1zM275.5 87.1l-2.4-1.6l-1.7 1.2l1.5 2.2l0.6 0.1zM298.5 139l-1.2-1.9l-1.6 1.2l1.3 1.9l0.6 0.1zM283.2 73l3.7 0.5l-0.2-3.9l-0.1-0.1l-1.9-0.2l-2.2 1.8l-0.1 0.8zM291.8 165.4l0.9 1l2.4-0.8l0.3-2.6l-0.2-0.4l-3.6 1.2zM306 140.4l1.7-1.1l-0.6-1.8l-1.2-0.3l-1.1 0.5l-0.5 1.9l0.3 0.4zM332.6 121.5l0.1 0.5l1.9 0.4l0.9-1.4l-0.5-0.9l-1.3-0.4zM342.5 104.2l1.6-1.5l-1.2-2.8l-2.7 0.2l-1 1.2l0.1 0.9l1.9 1.9zM258.4 154.4l1.3 1.9l0.5 0l1.2-1l-0.1-2l-1.9-0.7zM338.4 160.6l1 0.4l1.3-0.7l0.3-1.4l-2.2 0l-0.6 1.4zM262.5 161.2l-1.5-1.1l-0.9 0.2l-1.6 2.3l2.7 1.4l0.8-0.2l0.7-1.6zM294.4 133.5l-2.1 0.4l-0.6 0.8l0 0.1l2.4 1.5l1.2-1.3zM310.9 134.9l-0.2-1.8l-2.3-0.3l-0.4 1.4l0.6 1.2zM233.5 181.6l1.1-2l-0.4-1.3l-0.9-0.5l-0.9 0.2l-1.1 1.5l0.7 2.2zM271.7 181.1l-1 1.3l0.4 1.6l1.2 0.4l2.2-1.3l-0.4-1.1zM313.1 170.3l1.8 0.8l0.7-1.6l-1-1.6l-0.1 0l-1.6 0.8zM243.8 195.8l-0.4-2.7l-1.7-0.2l-1.5 2.1l1.3 1.9l1.8-0.5zM319.9 173.7l0.7-1.4l-0.6-1.3l-2 0.6l0.1 1.5l0.6 0.6zM285.1 120.5l0.2-1.3l-1.7-1.6l-0.4 0.1l-1.2 2.2l0.3 0.7zM339.1 171.7l1.2 1.3l1-0.7l-0.1-1.5l-1.6-0.4zM355.6 214.5l-0.3 2.8l1.8 1.4l0.3 0l-0.4-3.2l-0.8-1.3zM355.2 152.1l2-0.4l0.3-0.6l-0.8-1.9l-2.5 0.5l-0.3 1.2zM339.6 170.4l1.6 0.4l0.8-0.9l0-0.3l-1.7-1.7l-0.1 0l-1.2 1.6zM343.4 121.8l0.8-0.2l0.4-2l-1.4-0.3l-1.1 1.3zM297.4 117.6l0 1.7l1.2 0.8l1.6-1.3l-0.1-1.4l-1.4-0.9zM297.2 176l0.5 0.4l1-0.3l1.1-2.2l-1.9-0.8l-1.3 1zM242.9 91.4l1.3 1l2.2-1l-0.4-1.9l-2.5-0.4l-0.2 0.1zM333.4 126.7l-0.5 1.5l0.8 1.1l0.7 0.2l1.2-1.6l-0.6-1.8zM213.6 220.4l1.1-0.7l-0.5-2.9l-0.5-0.3l-1.2 0.2l-0.8 0.9l0.8 0.8l0.1 1.9zM241 88.5l2.3 0.7l0.2-0.1l0.4-2.1l-1.4-1.1l-1.3 0.1zM295.8 146.2l-1.4 0.4l-0.2 1.4l1.7 1.5l0.7-2.7zM298 140.9l-0.3 1.6l0.6 0.8l1.2-0.4l0.6-1.8zM249.4 143.2l0.8 0.9l2.2-0.8l0.3-2.2l-0.2-0.2l-2.8-0.3zM287 73.6l4.1-1.6l-2.3-0.3l-2.1-2.1l0.2 3.9zM339.2 128.3l-1.4-0.6l-0.6 0.4l-0.2 1.5l1.5 1.1l0.8-0.2zM377.7 102.1l-1.5 1.5l0.1 0.7l1.7-0.4l1.1-0.5zM328 166.1l-1.1 1.9l1.2 1.3l1.1-1.5l-0.4-1.5l-0.6-0.2zM347.3 149.9l-3.2-1.7l0 0.1l-0.2 3.1l0.9 0.6l2.7-1.8zM343.4 95l1.4-0.2l1.7-3.1l-0.1-0.3l-0.3-0.3l-4.6 0.4l0.8 1.4l-0.2 0.4zM299.2 110l-1.7-1.5l-1.4 1.6l0 0.5l2 1.6l0.4-0.2zM319 158l0.6-0.2l0.3-1.7l-1.6-0.9l-1 1.6zM273.8 128.4l2.2-0.1l0.4-1.4l-1.9-1.4l-1.2 1.4zM210.5 214.2l2 2.5l1.2-0.2l0.3-3.6zM95 43.5l0 6.9l5.4 0l0-6.9zM82.7 59.6l0 3.9l3.8 0l0-3.9zM82.7 64.2l0 3.8l5.3 0l0-3.8zM134.2 57.3l0 6.2l7.8 0l0-6.2zM149.6 58.8l0 6.2l6.2 0l0-6.2zM170.4 94.2l0 7.8l8.4 0l0-7.8zM178 102l0 3l4 0l0-3zM75.8 95l0 5.4l7.7 0l0-5.4zM93.5 92.7l0 12.3l3.8 0l0-12.3zM71 121.5l0 3.1l5.5 0l0-3.1zM93.5 154.6l0 6.2l17.7 0l0-6.2zM109.6 136.2l0 10l10.8 0l0-10zM137.3 106l0 11l7.7 0l0-11zM169.6 100l0 2.3l8.4 0l0-2.3zM176.5 103l0 7.8l6.1 0l0-7.8zM180.4 109.2l0 4.6l8.4 0l0-4.6zM177.3 113.8l0 11.6l14.7 0l0-11.6zM157.3 124.6l0 6.2l9.2 0l0-6.2zM182 133.8l0 3.9l4.5 0l0-3.9z" fill="#dba9a3"/><path d="M239.2 103.3l-0.9 1.3l0.9 1.4l1.8-1.5zM250.7 112.2l0 0l0-2.6l-2.9 0.1l0 0l0 2.6zM265.2 111.8l0 0l-0.1-2.6l-2.9 0.1l0 0l0.1 2.6zM256.3 104.3l0.1 2.6l2.8-0.1l0.1 0l-0.1-2.6l-2.9 0.1zM244.9 101.9l2.8 0l0 0l0-2.6l-2.8 0l0 0zM235.9 93.1l-4.1-0.1l-0.1 0l0 3.8l3.6 0.1zM232.5 70l-4.7-0.1l-0.1 0.1l-0.1 4l4.8 0.2l0.1-0.1zM369.8 81.4l-1.8-1.9l-3.1 0.5l0.1 1.5l3.3 3l0.2-0.1zM237 196.6l0.7 0l1.7-1.7l-1.5-1.8l-2.1 0.5l-0.1 0.6zM347.2 100l-0.7 2.8l0.2 0.2l4 0.2l0.2-3.9zM349 116.6l2 0.4l0.2-0.2l0.5-2.4l-0.8-0.4l-2.4 1.3zM217.4 202.5l-0.3 2.7l0.5 0.5l3-0.2l-0.1-2.5l-2.8-0.8zM248.2 151.7l-0.5 2.9l2.9 0.5l0.9-2.3l-1.3-1.5zM281.1 195.3l-1.2 2.1l1.2 2.1l1 0.1l1.5-1.7l0.1-0.2l-1.6-2.3zM299.7 85.8l0.4-1.3l-1.9-1l-1.4 1.5l0.2 1.5zM352.3 164.2l0.7-2.1l-1.2-1l-2 0l-0.8 2.1l1.1 1.9l0 0zM287 73.6l0.4 3l0.2 0.1l3.2-0.4l1.7-3.3l-0.6-0.9l-0.2 0l-0.6-0.1zM281.5 188.9l-1.3 3l3.4 0.2l-0.1-2.2zM340.1 208.7l1.4 3.6l2.6-0.8l0.3-2.1l-3.2-1.8l-0.4 0.1zM335.7 142.8l-0.9 2.2l1.5 1.1l0.1 0l1.9-2l-0.2-1.1l-1.7-0.5zM249.2 79.7l0.3 2.3l1.1 0.6l2.2-1.4l-0.5-1.2l-2.4-1.1zM273.5 72.7l3.5 1.2l1.4-0.7l-1-3.1l-3 0.6l-1.4 1zM371.9 74.7l3 1.6l0.9-0.3l1.9-3.4l-3-2.3l-2.9 4.3zM318.9 162.8l-1.4 0.9l-0.1 1.2l1.6 0.6l0.4-0.2l0.4-1zM339.1 141.8l1.7 0.6l1.3-1.9l-0.8-0.9l-2.2 0.4l-0.3 0.3zM310.4 116.8l0.5 2.5l1.6 0.8l0.3-0.1l0.8-1.9l-1.7-2l-0.4-0.1zM272.3 147.9l0.6 1l2.9 0.9l0.3-3.1l-1.4-0.3zM294.1 136.9l-1.9 1.1l0.1 1.2l1.7 0.9l1.4-1.8zM268.4 188.1l-1.3-1.9l-0.9 0.1l-1.4 2.2l0.5 0.9l1.5 0.7l0.8-0.3zM299.5 136.3l0.7-1.1l-1-1.3l-2 0.1l-0.6 1.1l0.9 1.5zM301.7 170.2l-1.1 0.4l0.1 2.9l1.1 0.7l2-1l-0.5-2.3zM314.2 166.2l1.6-1l-0.8-1.8l-0.7 0.1l-1 1.5l0.2 0.7zM363.3 97.8l1.4-0.9l0.1-0.2l-1.5-3.7l-0.9-0.4l-2.6 4l0.6 0.9zM335.4 196.2l0.1 1.6l1 0.8l2.2-0.1l2.3-2.5l-2.3-1.9l-2.4 0.6zM332 125.3l0.6-0.9l-0.3-1.7l-2.4 0.3l0.2 1.7l1 0.8zM308 84.8l-1.1 0.9l0.1 1l1.9 2.4l1.1-0.2l1.1-2.3l-0.2-0.8zM383.1 94.9l0.2 2.4l0 0l2.3-1l1.3-0.3l-0.5-1.6l-0.5-0.3zM328.1 169.3l0.5 0.5l2.1 0.2l0.3-0.1l0.2-0.3l-0.4-1.5l-1.6-0.3l-1.1 1.5zM230.3 188.4l-0.3-0.3l-0.4-0.2l-2.4 1.5l-0.1 1.1l1.6 1.7l0.4 0l1.2-0.8zM265.6 136.8l-1.9 1.1l-0.2 2.3l3.1-0.4l0.1-2.1zM339.9 130.8l2-1.1l0-0.2l-0.7-1.7l-1-0.2l-1 0.7l0.1 2.2zM289.9 132.7l0.9-1.6l-0.6-0.6l-2.1 0.2l-0.4 0.5l0.1 1.3zM220.5 203l0.1 2.5l0.6 0.5l2.3-0.8l0.4-2.5l-1.7-1.2zM229.6 215.4l-0.9-0.2l-1.8 2.8l0.8 1.9l0.6 0.2l0-0.6l1.2-3l0.7-0.5zM246.8 193.5l-0.7-1.1l-1.4-0.3l-1.3 1l0.4 2.7l2.5 0zM295.7 142.5l-0.3-1l-1.3-0.9l-1.6 1.8l1 1.5l1.8-0.3zM287.7 86.3l-1.2 0.8l0.4-1.5l-1.9 0.4l-1.3 2.8l0.8 0.9l1.8 0.5l0.6-0.2l1.3-3.1zM224.7 227.9l-0.4 2l1.1 0.1l2.1 1.1l0.8-2l-1.3-1.5zM233.5 196.6l2.3 1.4l1.2-1.4l-1.3-2.4l-2.2 2.1zM323 176.2l1.4-0.9l-1-2.3l-0.3-0.1l-1.5 1.8zM247.1 69.8l-1.4-2.9l-0.4-0.1l-2.2 1.5l-0.3 1.9l0.9 0.7l3.2-0.9zM290.1 139.9l-0.7-1.7l-2 0.7l0.1 1.2l1 0.7zM227.8 199.1l-1.5 1.4l-0.2 1.7l0.5 0.4l2.2 0l1.3-2l-0.7-1.1zM320.7 138.9l-1-0.1l-1.2 2l0.2 0.7l1.3 0.2l1.1-0.6l0.1-1.8zM249.9 130.8l2.3 2.6l1.4-1.1l0.2-2.5l-0.3-0.3zM289.7 137.5l-0.6-1l-1.6-0.1l-0.7 0.7l0.1 1.4l0.5 0.4l2-0.7zM259.3 180.2l0.9 1.7l1.9-0.2l1.1-0.9l-0.2-1.2l-2.4-1.5zM275.3 161.6l0.8-1.6l-1-1.3l-1.8 0.4l-0.9 2.6zM363.9 72.4l-1.6 0.3l-2.2 2.2l0.5 1.1l3.5 1.2l0.8-1zM255.4 126.5l-2 2.3l0.1 0.7l0.3 0.3l2.5 0.3l0.8-2.1zM364.6 116.4l2.4-0.3l0.3-0.7l-1.5-1.5l-1.2 0.3l-0.4 1l0.1 0.3l0.5-0.8l-0.3 1.3zM277 152.8l0.3-1l-0.5-1.2l-0.9-0.6l-2 1.8l1 2.3zM258.5 162.6l1.6-2.3l-1.8-1.3l-1.8 1l0.2 2.2l1.5 0.5zM304.4 107.4l1.9-2.9l-0.6-1.1l-3.5 0.5l0.8 2.8zM343.7 166.8l-0.6-0.1l-2.8 1.2l1.7 1.7l2.3-1.9zM321.2 166.8l-1.8-1.5l-0.4 0.2l-0.7 2l2.1 0.3l0.9-0.7zM362.2 106.2l-1.4 1l0.1 2l1.2 0.7l1.7-0.8l0.1-0.4zM285.3 151.3l1-1.3l-0.8-1.5l-1.8-0.3l-0.6 1.2l0.4 2zM343.2 131.8l2.3 1.2l1-0.9l-0.1-1l-1.6-1l-1.6 1.3zM310 88.9l-1.1 0.2l-1.3 2.4l0.7 1.2l0.3 0.2l3.6-0.8l0-1l-0.5 0.3l0-1.3zM244.7 55.9l2.1-0.6l-0.5-2.5l-1.8-0.4l0 2.9l-0.5 0zM224.3 197.7l0 1l2 1.8l1.5-1.4l-1-2.7zM301.7 189.2l1.3-0.1l0.8-1l-1.2-2.2l-1.9 0.1l-0.7 1zM296.9 125.5l1.1-1.8l-0.7-1.2l-1.8-0.3l-0.2 0.2l-0.4 3l0.1 0.1zM222.2 201.5l1.7 1.2l2.2-0.5l0.2-1.7l-2-1.8l-2.2 2.2zM328.3 112.2l-1.8 1.9l0.1 0.5l1.2 1l1.9-0.2l-0.4-2.8zM359.1 138.4l-1.1 1.9l2.1 0.6l1.5-1.3l-0.3-1.2l-0.5-0.5zM313.9 174.1l0.5 0.2l1.4-0.9l-0.5-1.7l-0.2-0.2l-1.6 1.3zM341.2 177.7l0.8-0.6l0.2-1.1l-0.4-0.8l-1.3-0.5l-1.3 1.2l0 0.5zM368.9 131.2l0.4 1.6l0.4-0.7l0.5-1.4zM273.8 131.6l0.6 2.5l1.4-0.2l1.4-2.2l-0.6-1l-2.5 0.3zM256.7 154.2l-0.5-2.1l-1-0.8l-0.5 0l-1.5 1.6l0.7 1.8l2 0.5zM270.9 127.4l-2.4-0.4l0.4 3.1l1.8 0.2l0.6-0.9zM355.4 135.6l-0.9-2.2l-0.2 0l-1.4 1.1l-0.1 1.1l1.9 0.9l0.6-0.5zM348.6 152.6l2.2 1.3l1.1-0.2l0.4-2l-1.9-1.9l-1.9 1zM365.3 134l1.9-0.2l-0.1 0l-0.3-2.4l-1.6 0.9zM258.1 174.5l-0.9-1.4l-0.5-0.2l-2.1 1.9l-0.1 1.3l0.1 0.2l2.3 1zM339.1 179.1l2.1-1.3l0-0.1l-2-1.3l-1 1.5l0.5 1.1zM274.1 202.4l-1.1-0.8l-0.1 0l-2.3 2.3l1.9 0.9l1.4 0.3zM317.5 163.7l-1.7-1.3l-0.8 1l0.8 1.8l0.7 0.3l0.9-0.6zM328.8 159.6l0.3-2.4l-0.4-0.4l-2.1 0.2l0 0.3l0.9 2.2l0.9 0.2zM369.5 122.3l-0.2 0.9l1.6 1.2l1.4-0.9l-0.9-1.8l-0.6-0.1zM226.8 196.3l0 0.1l1 2.7l1.6 0.4l1-2.2l-0.9-1.7zM353 119.6l0.3-1.9l-2.1-0.9l-0.2 0.2l-0.5 2.3l1.6 0.8zM249.5 96l-1.7-2.7l-1.6 1.4l0.3 1.7l1.2 0.6zM228.3 229.1l-0.8 2l0.2 0.1l1.9-0.8l-0.4-1.6zM334.7 134.3l-0.3 0.3l0.3 1.8l2.3-0.5l0.5-1.9zM299.1 153.4l-0.8 1.5l0.7 1.8l3.2-0.4l-0.8-3zM314.5 167.9l0.1 0l2.2-0.7l-0.3-1.7l-0.7-0.3l-1.6 1zM224.3 191l0.6 0.3l2.2-0.8l0.1-1.1l-1.6-1.5l-1.6 1.6zM284 105l-1.9 1l-0.4 1.1l3 1.5l0.3-0.1l0.6-2.3l-0.5-0.9zM285 108.5l2.4 0.6l1.2-2l-0.5-0.7l-2.5-0.2zM340.6 164.9l0.8-0.2l1.4-1.8l-0.2-0.7l-2.6 0.1l-0.4 0.8zM227.3 214l-0.4-0.1l-2.2 2.3l0.2 0.8l2 1l1.8-2.8zM331.4 166.4l1-1.1l-0.8-1.9l-1.4 1.1l0 1.3zM331.5 139.5l0.3 1.4l1.7 0.7l0.4-0.1l0.8-1.5l0-0.3l-2.1-1zM323.7 113.2l-1.1 1.8l0.1 0.2l2.2 0.8l1.7-1.4l-0.1-0.5l-1.5-1.1zM340.4 120.5l0-0.1l-2.5-1.7l-0.1 0l-0.7 2.5l0.7 0.8zM333.8 168l0.1 0.1l2.2-0.2l-0.1-1.7l-1.9-0.8zM321.7 192.8l-2.7 3.2l0.3 1.1l0.4-0.2l2-1.4l1.1-1zM348.3 122.8l0.6-1.1l-0.2-1.1l-1.7-0.7l-0.3 0.2l-0.9 2.5zM334.4 154.5l0.5 0.6l2.2-0.2l0.3-1.8l-1.8-1.2zM318.9 162.6l-0.4-1l-2.3 0l-0.4 0.4l0 0.4l1.7 1.3l1.4-0.9zM313.8 188.9l-0.7-2l-1.9 0.9l0.3 1.3l1.8 0.4zM339 152.3l2.6 0l0.3-0.5l-0.8-2.2l-2.3 0.6zM315.7 134.3l0.1-0.3l-0.6-1.5l-2.3 0.2l-0.1 0.1l0.3 1.9l1.3 0.4zM321.9 164.6l-0.8-0.6l-1.3 0.3l-0.4 1l1.8 1.5zM382.5 92l-2.4-0.4l-0.8 2.1l1.1 1.2l2.4-0.1zM317.4 164.9l-0.9 0.6l0.3 1.7l1 0.7l0.5-0.4l0.7-2zM341.2 207.6l3.2 1.8l1.9-0.9l-1.1-3l-1.4-0.1zM263.6 176.5l0.4 1.4l2.3 0.1l0.2-0.1l-0.2-2.3l-0.7-0.6zM321.4 161.9l-2.5 0.7l0 0.2l0.9 1.5l1.3-0.3zM366.2 123.4l-0.6-0.1l0.3 0.9l0.2 0.2zM363.3 125.4l0.9 0.5l1-0.4l-0.5-1l-0.6-1.4zM340.3 190.8l3.1 2l0.3 0l-1.2-3.4l-0.4-1.3zM257.1 128l-0.8 2.1l0.3 0.4l2.7 0.4l0.1 0l0.2-1.3l-1.3-1.8zM366.1 127.8l-0.3-1.2l-0.6-1.1l-1 0.4l0.4 1.8zM319.2 110.2l1.2 2.2l2.2-0.9l0.3-1.4l-3.2-0.9zM303.1 167.4l-0.3 0.1l-1.1 2.7l1.6 0.7l1.7-1l0-0.9zM225.9 193.8l2.8-1.6l-1.6-1.7l-2.2 0.8zM90.4 54.2l6.1 0l0-4.6l-5.2 0l-0.8 0.2l-0.1 0zM117.3 51.2l0 5.3l4.3 0l0-5.3zM117.3 82.7l0 5.3l3.9 0l0-5.3zM89.6 157l5.4-3.2l0.8-14.6l-21.8-0.7l0.1 0.9l0.1 0.1l0.5 3.8l0 0.2l0.3 2.7l1 1.1l3.7 1.2l2.3 1.5l1.2 1.6l3.5 1.6l0.2 2l0.7 0.4l1.2 1zM94.2 160l0 6.2l7.8 0l0-6.2zM125 150l6 2l5 8l6-3l0-17.8l-11 0l-6 1.8zM142 180l0-8.5l-22.4 0l0 3.8l8.8 4.7zM152.7 143l0 14l10.8 0l0-14zM161.2 174.6l0 5.4l6.1 0l0-5.4z" fill="#c47a6c"/><path d="M242.6 127.2l-3.4 0l-0.1 0.1l0 3.1l3.5 0.1l0.1-0.1zM242 117.5l0 0l0 3.2l2.9-0.1l0-3.1zM259.5 114.6l-2.9 0.1l0 0l0 2.6l2.9-0.1l0.1 0zM247.8 112.3l0 2.6l2.9-0.1l0 0l0-2.6l-2.9 0.1zM261.9 101.5l0.1 2.6l2.9-0.1l0 0l-0.1-2.6l-2.8 0.1zM197.6 170.4l-0.1 0.1l-0.2 3.2l3.5 0.3l0.1-0.1l0.2-3.2zM321.1 155.7l0.4-0.9l-1.2-1.7l-2.1 1.4l0.1 0.7l1.6 0.9zM276.8 199.1l0.8-1.5l-0.5-1.8l-1.5-0.9l-1.8 0.6l-0.2 1.9l1.1 1.3zM231.3 179.5l1.1-1.5l-2.2-1.3l-2 1.6l-0.1 0.2l0.6 1zM324.8 179.5l0.9 0.4l1-0.4l0.3-1.6l-1.3-1.2l-1.2 1.7zM254 87.4l2.1 1.7l2-1.4l-0.4-2.1l-2.2-1zM269 193.4l0.3 1.2l0.8 0.6l2.7-0.5l-0.1-2.1l-2-1.3l-0.5 0.2zM306.1 179.1l-0.3 2l1.2 1.1l2-1.2l0-1.5l-0.9-0.7zM351.6 217.8l3.7-0.5l0.3-2.8l-2.1-0.9l-2.7 2.1zM343.4 106.6l2.2 0.6l1.4-1.5l-0.3-2.7l-0.2-0.2l-2.4-0.1l-1.6 1.5zM345.8 122.6l0.9-2.5l-2-0.6l-0.1 0.1l-0.4 2l1.5 1zM279.1 134.1l-1.2-2.2l-0.7-0.2l-1.4 2.2l1.9 1.8l0.4 0l0.4-0.2zM262.5 150.7l-0.2 1.7l2.3 1.4l0.8-0.3l0.4-1.8l-1.8-1.9zM346.1 91.1l0.3 0.3l3.2-0.9l0.5-1.9l-0.7 0.2l-3.5 0.1zM340.2 100.1l2.7-0.2l0.7-1.2l-1.1-2l-2.7 0l-0.1 0.1zM323.1 127.3l-1.1-1.2l-0.2-0.1l-1.6 1.1l-0.3 2.1l2.7 0l0.5-0.6zM304 148.4l0.6-0.2l1.2-2.8l-0.5-0.5l-0.7 0l-1.7 1.4zM306.9 91.4l0.7 0.1l1.3-2.4l-1.9-2.4l-1.7 2.2zM300.2 100.9l1.4 1l2.2-1.9l-1.8-2.5l-1.1-0.1l-0.9 1.3zM376.9 80l-2.9-0.2l-1.1 0.8l1 2.5l2.2 0.5l1.6-2.1zM293.2 150.8l0.2 2.3l1.9 0.8l0.9-2.7l-0.5-0.8zM210.1 189l-2.6-0.6l-1.3 0.9l1.5 2.3l1.6-0.1zM386.4 94.4l2.8-1.4l0.1-0.2l-1.8-2.5l-2 1.3l0.4 2.5zM357.6 153.8l-0.4-2.1l-2 0.4l-0.8 2.4l1.6 1.1zM351.3 219.1l3.5 3.1l2.3-3.5l-1.8-1.4l-3.7 0.5zM245.2 204.5l-2-1.3l-2.5 1.5l1.6 1.8l0.7 0.1l2.2-2zM342.9 126.1l-2.3-1.3l-0.8 0.9l0.4 1.9l1 0.2zM251.9 146.5l-0.5 2.6l1.6 0.2l1.6-1.9l-1.2-1.3zM255.5 84.6l2.2 1l2-1.8l0.1-1.2l-2.9-1.3l-1.5 3.1zM272.9 88.9l-1.5-2.2l-1.5-0.1l-0.2 3.9l1.1 0.4zM391.7 91.2l-1.1-2.9l-3 1.7l-0.1 0.3l1.8 2.5zM211 188.5l0-1l-2.1-1.9l-1 0.4l-0.4 2.4l2.6 0.6zM366.2 123.4l0.1-0.1l0.4-2.4l-2.2-0.5l0 0.2l1.1 2.7zM363.5 122.3l0.6 0.8l-0.5-1.3zM314.4 180.5l-0.8-1.1l-1.7-0.2l-0.1 0.1l0 1.8l1.3 0.9l0.1 0zM256.6 130.5l-0.3-0.4l-2.5-0.3l-0.2 2.5l2.5 1zM345.2 205.5l1.4-1.1l-0.7-2.8l-3.6-0.1l-0.1 0.1l1.6 3.8zM75.8 72.7l3.8 1.5l4.6 3.1l3.8-2.3l0-3l-12.5-2.3l-0.3 0.7zM165 77.5l3 0.5l4-2l1.5-3l-4.5-1l-4 1.5zM65.8 100.4l6.2 0l0-10l-4.1 0l-0.6 2l-0.9 1.7l-0.6 0.7zM77.3 114.6l0 6.2l3.1 0l0-6.2zM80.4 134.6l7.6 0l5.5-2.3l-1.5-5.3l-7 0.7l-6.2 2.8zM94.2 155.5l23.3 2.2l0-4.7l-7.5-11l-15.8-0.5zM120.4 160.8l0 11.5l15.4 0l0-11.5zM138.8 106.2l0 2.3l4.7 0l0-2.3zM175.8 131.5l0 3.1l6.2 0l0-3.1zM182 129.2l0 3.8l6 0l0-3.8zM165 157l0 3l5.4 0l0-3zM160.8 174.6l0 7.7l6.9 0l0-7.7zM198 157l0 3l4 0l0-3zM198 170l0 3l3.2 0l0-3z" fill="#a84a44"/><path d="M349 220.8l0.4 2.5l1.8 1.4l3.6-2.4l0-0.1l-3.5-3.1zM283.8 183l-1.7-2.1l-1.8 0.5l-0.3 1.8l0.5 0.7l3.2 0.5zM322.9 139.1l0.6 1.5l0.7 0.1l1.5-1.4l0-0.6l-1.2-0.8l-1.2 0.4zM242.1 157.5l-0.3 0.5l0.3 2.2l2 0.9l2.1-0.7l-0.6-3.4zM351.2 224.7l0.2 1.2l2.7 1.2l1.3-0.7l0.4-3l-1-1.1zM314.7 195l2.2-0.3l1-3.1l-2.7-0.4l-1.3 0.8zM80.4 143l0-6l-7.7 0l0 0.2l1.5 2.3l0.5 3.5z" fill="#8c2a27"/>
<path d="M68.1 97.6l-3.5 0M71.4 108.1l-6.5-0.4M68.9 102.2l-3.4 1.7M71.7 111.7l-5.3 0.6M68.7 115.6l-1.3-0.8M67.5 91.7l2.1 4.4M68.1 97.6l0.8 4.6M69.6 96.1l-1.5 1.5M68.3 88.8l5.3-0.2M68.5 118.3l0.2-2.7M68.6 122.6l3.4-0.2M68.7 118.5l2.4 0.3M71.9 114l-3.2 1.6M71.5 103.2l-2.6-1M69.4 81.7l3.5-0.4M69.6 96.1l2.6 0M71 126.7l1.4-3.3M72.2 122l-1.1-3.2M71.1 118.8l1.3-1.4M71.3 132.7l2.7-1.9M71.4 127.5l2.3 1.4M71.4 108.1l0.3 0.4M71.4 108.1l0.1-4.9M71.5 103.2l3.9-2.2M72.3 113l-0.6-1.3M71.7 108.5l0 3.2M71.7 108.5l5-0.9M72.4 117.4l-0.5-3.4M71.9 114l0.4-1M72 75.7l0.6 0.5M72 122.4l0.4 1M72 122.4l0.2-0.4M75.4 120.2l-3.2 1.8M72.2 96.1l3.2 4.9M75.2 92.1l-3 4M75.7 113.4l-3.4-0.4M76.9 125.4l-4.5-2M74.8 118.1l-2.4-0.7M72.6 76.2l0.3 5.1M77.5 74.5l-4.9 1.7M72.9 81.3l0.1 0M74.2 87.4l-1.2-6.1M80.3 80.1l-7.3 1.2M73.2 138.1l2.6-0.5M73.6 88.6l1.6 3.5M73.6 88.6l0.6-1.2M74 130.8l-0.3-1.9M73.7 128.9l3.2-3.5M74 130.8l2.9 1.8M80.5 85.4l-6.3 2M78.5 143.2l-4 3.4M75.4 120.2l-0.6-2.1M74.8 118.1l2.2-2.5M79.6 93.4l-4.4-1.3M78.8 121.8l-3.4-1.6M75.4 101l0.4 0.1M75.5 69.7l2 4.8M77 115.6l-1.3-2.2M75.7 113.4l2.2-2.7M75.8 137.6l1.7 1.2M75.8 137.6l1.1-5M75.8 101.1l2.5 3.4M75.8 101.1l4.6-4.5M81.2 68.1l-4.6-1.1M77.9 110.7l-1.2-3.1M76.7 107.6l1.6-3.1M76.9 132.6l3.3-1.4M77.2 125.4l-0.3 0M77 115.6l3.3 1.3M77.2 125.4l3.2 3.6M77.2 125.4l1.6-3.3M77.5 138.8l1 4.4M77.5 138.8l5.3-2M77.5 74.5l2.1 1M77.9 110.7l3.2 0.7M78.3 104.5l1.1 0.1M78.5 143.2l3.6 0.9M78.8 122.1l0-0.3M78.8 121.8l1.5-4.9M84.7 123.6l-5.9-1.5M83.5 108.6l-4.1-4M83.3 101.9l-3.9 2.7M79.6 93.4l0.8 3.2M79.6 93.4l1.4-1.5M79.6 60l3.4 2.4M79.6 75.5l0.8 4.5M81.9 73.3l-2.3 2.2M85 56.2l-5 2.4M80.2 131.2l3.4 2.8M80.4 129l-0.2 2.2M80.3 80.1l0.4 5.1M80.4 80l-0.1 0.1M82.1 116l-1.8 0.9M84.6 125.9l-4.2 3.1M82.3 97.6l-1.9-1M87.4 79.6l-7 0.4M81 91.9l-0.5-6.5M80.5 85.4l0.2-0.2M87.3 86.7l-6.6-1.5M86 91.2l-5 0.7M82.1 116l-1-4.6M83.5 108.6l-2.4 2.8M81.2 68.1l0.7 5.2M83 66.8l-1.8 1.3M81.7 149.7l1.5-4M81.9 73.3l3.8 0.1M85.7 53.6l-3.8-2.1M82.1 144.1l1.1 1.6M84.2 139.6l-2.1 4.5M85.4 41.2l-3.3 1.5M84.9 116.6l-2.8-0.6M83.3 101.9l-1-4.3M88 96.2l-5.7 1.4M86.9 46.6l-4.6 0.7M82.8 136.8l1.4 2.8M82.8 136.8l0.8-2.8M83 66.8l0-4.4M83 62.4l4.8-1.5M83 66.8l5.2 1.3M89 146.1l-5.8-0.4M86.7 103.2l-3.4-1.3M85.2 108.4l-1.7 0.2M83.6 134l2.1-0.7M88.4 140.3l-4.2-0.7M84.6 125.9l3.2 4.2M84.9 123.8l-0.3 2.1M84.7 123.6l0.2 0.2M85.2 117l-0.5 6.6M90 123.2l-5.1 0.6M84.9 116.6l0.3 0.4M88.7 111.1l-3.8 5.5M85 56.2l2.8 4.6M85.7 53.6l-0.7 2.6M91.4 119.3l-6.2-2.3M88.7 111.1l-3.5-2.7M85.2 108.4l1.5-5.2M85.4 41.2l1.5 5.4M85.7 40.6l-0.3 0.6M91 147.9l-5.4 4.8M85.7 73.4l2.6 3.1M88.2 68.1l-2.5 5.3M85.7 53.6l0 0M85.7 53.6l2.3-5.5M85.7 53.6l5.4 1M85.7 133.3l5.1 4.2M87.8 130.1l-2.1 3.2M88 96.2l-2-5M86 91.2l1.8-3.2M86.7 103.2l0.9-0.4M87.4 46.8l-0.5-0.2M87.8 88l-0.5-1.3M88.9 82.2l-1.6 4.5M88 48.1l-0.6-1.3M91.8 42.9l-4.4 3.9M88.9 82.2l-1.5-2.6M87.4 79.6l0.9-3.1M87.6 102.8l5.6 1.3M87.6 102.8l0.4-6.6M93 89.7l-5.2-1.7M90.4 129.5l-2.6 0.6M87.8 60.9l1.6 2.2M87.8 60.9l0-0.1M91.7 56.5l-3.9 4.3M88 96.2l0 0M92.5 95.9l-4.5 0.3M88 48.1l2.2 0.9M88.2 68.1l0.3-0.2M88.3 76.5l4.6-2M89 146.1l-0.6-5.8M88.4 140.3l2.4-2.6M88.5 67.9l3.2 1.6M89.4 63.1l-0.9 4.8M88.7 111.1l4.1-0.2M88.9 82.2l5.3 0.1M91 147.8l-2-1.7M89.4 63.1l5-0.5M90 123.2l1.6 2.4M91.4 119.3l-1.4 3.9M90.4 129.5l3.6 2.8M91.6 125.6l-1.2 3.9M90.8 137.7l0-0.2M94 132.3l-3.2 5.2M94.5 139.9l-3.7-2.2M95.2 156l-4.2-8.1M91 147.8l0 0.1M91 147.8l4.3-2.9M91.1 54.6l0.6 1.9M91.1 54.6l1.6-3.1M91.4 119.3l2.3-1.4M91.5 49.6l0.3 0.1M96.5 125.1l-4.9 0.5M93.1 73.9l-1.4-4.4M91.7 69.5l3.7-2.5M91.7 56.5l2.7 1.4M95.2 156l-3.5 3.5M91.8 49.7l0.9 1.8M92 49.4l-0.2 0.3M92 43l0.3 0.3M92.5 95.9l2.8 5.9M94.3 92.9l-1.8 3M92.7 51.5l4.2 0.2M92.8 110.9l2.3 2.1M92.8 110.9l0.4-6.8M95.9 79l-3-4.5M92.9 74.5l0.2-0.6M93 89.7l1.3 3.2M93 89.7l2.7-4.5M99.5 71.6l-6.4 2.3M93.2 104.1l2.1-2.3M98.1 123.2l-4.4-5.3M93.7 117.9l1.4-4.9M94 132.3l0.2 0M94.2 132.3l4.8 4.3M96.7 129.8l-2.5 2.5M94.2 82.3l1.5 2.9M94.2 82.3l1.7-3.3M99.1 92.9l-4.8 0M94.4 57.9l0.4 4.2M97.4 56.3l-3 1.6M95.4 67l-1-4.4M94.8 62.1l-0.4 0.5M95.3 144.9l-0.8-5M94.5 139.9l4.4-2.9M94.6 45.3l2.7 0.2M99.3 62l-4.5 0.1M94.9 39.7l3-0.5M101.3 112.4l-6.2 0.6M95.2 156l3.5-0.3M95.3 144.9l5.5 0.8M101.8 101.7l-6.5 0.1M95.4 67l3.1 1.1M95.7 85.2l3.6 0.8M95.9 79l3.7-0.6M96.5 125.1l0.2 4.7M96.5 125.1l1.6-1.9M96.7 129.8l6.8 1.2M96.9 51.7l0.5 4.6M97.8 50.9l-0.9 0.8M97.3 45.5l0.5 5.4M97.3 45.5l0.3-0.2M97.4 56.3l3.6 1.5M97.9 39.2l-0.3 6.1M97.6 45.3l5.6-0.1M97.8 50.9l3.5 0.3M97.9 39.2l1.2-1.3M105.5 122.6l-7.4 0.6M99.5 71.6l-1-3.5M100.6 65.5l-2.1 2.6M98.7 155.7l3.7 4.8M98.7 155.7l4.3-5.4M101.6 141l-2.7-4M98.9 137l0.1-0.4M103.6 132.4l-4.6 4.2M102 96l-2.9-3.1M99.1 92.9l1.5-4.1M100.6 88.8l-1.3-2.8M99.3 86l2.7-3.2M100.6 65.5l-1.3-3.5M101.3 58.9l-2 3.1M100.5 72.3l-1-0.7M99.6 78.4l1.8 1.2M99.6 78.4l0.9-6.1M100.2 166.8l2.2-6.3M104.2 72l-3.7 0.3M105.2 65.7l-4.6-0.2M100.6 88.8l5.4-0.1M100.8 145.7l2.4 2.6M101.6 141l-0.8 4.7M101 57.8l0.3 1.1M101 57.8l1.8-2.6M101.1 38.4l2.3 6.3M105.2 61.1l-3.9-2.2M106 117.6l-4.7-5.2M104.1 103.9l-2.8 8.5M102.8 55.2l-1.5-4M103.2 49.2l-1.9 2M102 82.8l-0.6-3.2M106.2 77.5l-4.8 2.1M107.7 137.9l-6.1 3.1M104.1 103.9l-2.3-2.2M102 96l-0.2 5.7M102 82.8l4.1 1.6M102 96l5.1-3.2M102.4 160.5l5.7 0.1M107 54.7l-4.2 0.5M103 150.3l8.4 5.9M103 150.3l0.2-2M108.6 145.5l-5.4 2.8M103.2 49.2l4.9 2.4M103.3 45.3l-0.1 3.9M103.2 45.2l0.1 0.1M103.4 44.7l-0.2 0.5M103.3 45.3l5.7 1.5M108.4 40.2l-5 4.5M103.5 131l0.1 1.4M106.4 124.1l-2.9 6.9M108.2 137l-4.6-4.6M104.1 103.9l4.2-0.3M106.4 76.8l-2.2-4.8M104.2 72l1.5-1.7M105.2 65.7l0.5 4.6M106.4 64.2l-1.2 1.5M105.2 61.1l1.2 3.1M108.2 57.3l-3 3.8M106.4 124.1l-0.9-1.5M106 117.6l-0.5 5M111.4 70.9l-5.7-0.6M114.6 112.7l-8.6 4.9M107.4 90.2l-1.4-1.5M106 88.7l0.1-4.3M106.1 84.4l2.7-2.2M106.2 77.5l2.6 4.7M106.4 76.8l-0.2 0.7M110.9 64.1l-4.5 0.1M106.4 124.1l8.2 3.1M106.4 76.8l4.3-1.5M108.2 57.3l-1.2-2.6M107 54.7l1.3-2.6M112.2 97.8l-5.1-5M107.1 92.8l0.3-2.6M111.7 88.7l-4.3 1.5M107.7 137.9l0.9 7.6M108.2 137l-0.5 0.9M108.3 52.1l-0.2-0.5M109 46.8l-0.9 4.8M109.9 166.4l-1.8-5.8M111.4 156.2l-3.3 4.4M108.2 137l8.4-2.1M112.6 59l-4.4-1.7M112.2 52.3l-3.9-0.2M108.3 103.6l6.5 8.1M108.3 103.6l4-4.4M110.1 145.7l-1.5-0.2M108.8 167.7l1.1-1.3M108.8 40.3l2.1 5.2M111 82.4l-2.2-0.2M110.9 45.5l-1.9 1.3M109.9 166.4l5.1 0.5M110.1 145.7l4.8 4.6M117.4 138.8l-7.3 6.9M113.1 77.5l-2.4-2.2M110.7 75.3l0.7-4.4M110.9 45.5l1 0.2M112.1 66l-1.2-1.9M112.8 60.1l-1.9 4M112.2 83.6l-1.2-1.2M111 82.4l2.1-4.9M111.7 70.7l-0.3 0.2M111.4 156.2l0.6-0.2M116.7 71.8l-5-1.1M112.1 66l-0.4 4.7M113.4 89.7l-1.7-1M112.2 83.6l-0.5 5.1M111.9 45.7l2.4 5M114.2 44.5l-2.3 1.2M112 156l7.2 5M114.9 150.3l-2.9 5.7M117.6 66.1l-5.5-0.1M112.3 99.2l-0.1-1.4M112.2 97.8l1.5-2.5M113.3 57.9l-1.1-5.6M112.2 52.3l2.1-1.6M116 83.5l-3.8 0.1M112.3 99.2l7.6 2.1M112.8 60.1l-0.2-1.1M113.3 57.9l-0.7 1.1M118.6 62.3l-5.8-2.2M115 77.2l-1.9 0.3M118.6 55.3l-5.3 2.6M113.7 95.3l-0.3-5.6M113.4 89.7l3.8-0.6M113.7 95.3l5.1-2.1M114.2 44.5l4.8 1.6M114.8 41.6l-0.6 2.9M116.8 50.9l-2.5-0.2M114.6 112.7l5.1 6M114.6 112.7l0.2-1M114.6 127.2l2 7.5M120.2 121.4l-5.6 5.8M114.8 111.7l7-6.1M114.9 150.3l5.2-1.9M118.4 173.8l-3.4-6.9M115 166.9l4.2-5.9M117.3 78.6l-2.3-1.4M115 77.2l1.7-5.4M117.9 88l-1.9-4.5M116 83.5l1.7-1.6M116.6 134.9l0.9 2M116.6 134.9l0-0.2M116.6 134.7l10-4.8M118.1 71.3l-1.4 0.5M118.6 55.3l-1.8-4.4M119.6 47.7l-2.8 3.2M118.8 93.2l-1.6-4.1M117.9 88l-0.7 1.1M117.7 81.9l-0.4-3.3M120.5 76.7l-3.2 1.9M117.4 138.8l2.7 9.6M117.5 136.9l-0.1 1.9M126.9 139.2l-9.4-2.3M117.6 66.1l1.1 2M118.6 62.3l-1 3.8M120.9 82.6l-3.2-0.7M117.9 88l4.4-0.9M118.1 174.5l0.3-0.7M119.3 72.1l-1.2-0.8M118.7 68.1l-0.6 3.2M127.3 168.9l-8.9 4.9M118.6 62.3l0.4-0.3M118.6 55.3l0.7 0.4M118.7 68.1l6-1.5M120 93.8l-1.2-0.6M119 46.1l0.6 1.6M119.7 42.7l-0.7 3.4M119 62l3.1 0.2M119.3 55.7l-0.3 6.3M119.2 161l3.2-0.5M120.5 76.7l-1.2-4.6M124.8 71.9l-5.5 0.2M121.2 55.5l-1.9 0.2M122 48.2l-2.4-0.5M119.7 118.7l0.5 2.7M119.7 118.7l6-5.1M121.8 105.6l-1.9-4.3M121.5 97.7l-1.6 3.6M121.5 97.7l-1.5-3.9M120 93.8l3.8-3.6M122.2 149.2l-2.1-0.8M120.2 121.4l0.3 0.1M120.5 121.5l6.2 6.4M131.4 119.6l-10.9 1.9M122.5 77.5l-2-0.8M122.3 87.1l-1.4-4.5M120.9 82.6l2.1-2M121.2 55.5l3.1 3.8M121.2 55.5l3.6-3.3M121.5 97.7l4.8-1.5M123.1 105.9l-1.3-0.3M122 48.2l2.7 3M122 48.2l3.6-4.2M124.7 65.9l-2.6-3.7M124.3 59.3l-2.2 2.9M122.2 149.2l2.4 7.8M127.9 145.7l-5.7 3.5M122.6 87.2l-0.3-0.1M127.3 168.9l-4.9-8.4M124.6 157l-2.2 3.5M123 80.6l-0.5-3.1M122.5 77.5l2.2-1.6M123.8 90.2l-1.2-3M122.6 87.2l4.9-3M123 80.6l4.6 1.6M125.7 113.6l-2.6-7.7M123.1 105.9l3.8-0.9M123.8 90.2l3 1.5M127.3 59l-3 0.3M131.9 156.4l-7.3 0.6M124.7 66.6l1.9 3.5M124.7 65.9l0 0.7M124.7 75.9l3.5 1.7M124.7 75.9l0.1-4M124.7 65.9l4.3-3.7M124.8 52.2l-0.1-1M124.7 51.2l3.8-2.6M127.5 54.5l-2.7-2.3M126.6 70.1l-1.8 1.8M125.7 113.6l5.6 1.4M126.3 96.2l2.8 2.2M126.3 96.2l0.5-4.5M126.6 129.9l1.8 1.9M126.7 127.9l-0.1 2M129.5 70.5l-2.9-0.4M126.7 127.9l6-4.8M126.8 91.7l0.2 0M131.6 106.7l-4.7-1.7M126.9 105l2.2-6.6M126.9 139.2l1 6.5M126.9 139.2l0.4-0.4M127 91.7l5 0.8M127 91.7l2.1-4.3M127.3 138.8l1.1-7M135.4 137.8l-8.1 1M127.3 59l1.8 1.5M127.3 59l0.2-4.5M130.5 170l-3.2-1.1M129.1 87.4l-1.6-3.2M127.5 84.2l0.4-1.6M127.5 54.5l3.8-1M127.6 82.2l0.3 0.4M128.2 77.6l-0.6 4.6M127.8 44.4l0.7 4.2M127.9 145.7l7.2 2.1M133.4 82.3l-5.5 0.3M131 75.5l-2.8 2.1M134.4 132.2l-6-0.4M131.1 49.4l-2.6-0.8M129 62.2l3.3 3.8M129 62.2l0.1-1.7M133.2 58.6l-4.1 1.9M133.2 88.1l-4.1-0.7M129.1 98.4l1.9-0.5M129.5 70.5l1.8 4.1M129.5 70.5l2.7-2.7M132.1 172.5l-1.8 8.5M132.1 172.5l-1.6-2.5M135.9 161.5l-5.4 8.5M134.5 99.6l-3.5-1.7M131 97.9l1.3-4.9M134.4 81.2l-3.4-5.7M131.3 74.6l-0.3 0.9M131.1 49.4l0.2 4.1M133.3 48l-2.2 1.4M133.7 55.1l-2.4-1.6M132 116.3l-0.7-1.3M132.9 108.5l-1.6 6.5M131.3 74.6l5-0.5M131.4 119.6l1.3 3.5M131.4 119.6l0.6-3.3M132.9 108.5l-1.3-1.8M131.6 106.7l3.4-5.4M135.9 161.5l-4-5.1M135.4 148.1l-3.5 8.3M132.3 93l-0.3-0.5M132 92.5l1.2-4.4M132 116.3l8.2-0.7M132.1 172.5l9.9 1M137.5 69.7l-5.3-1.9M132.2 67.8l0.1-1.8M136.1 62.8l-3.8 3.2M136.8 93.8l-4.5-0.8M132.7 123.1l0.3 0.2M138.6 108.6l-5.7-0.1M136 130l-3-6.7M139.8 122.1l-6.8 1.2M133.2 45.4l0.1 2.6M133.2 88.1l0.9-0.7M133.2 58.6l3 2.5M133.2 58.6l0.5-3.5M133.3 48l3.1 1.4M133.4 82.3l0.7 5.1M134.4 81.2l-1 1.1M137.5 53.1l-3.8 2M137.8 88.5l-3.7-1.1M136 80.8l-1.6 0.4M135.4 137.8l-1-5.6M136 130l-1.6 2.2M135 101.3l-0.5-1.7M137.9 95.8l-3.4 3.8M140.1 103.3l-5.1-2M135.1 147.8l0.3 0.3M136.3 138.7l-1.2 9.1M142.3 149.5l-6.9-1.4M136.3 138.7l-0.9-0.9M141.7 161.2l-5.8 0.3M139.4 129.7l-3.4 0.3M136 80.8l3.6 3.4M136 80.8l1.5-2M136.1 62.8l3.4 3.3M136.2 61.1l-0.1 1.7M140.5 58.8l-4.3 2.3M136.3 138.7l6.5-1M137.5 78.8l-1.2-4.7M136.3 74.1l2-2.1M136.4 49.4l1.1 3.7M138.9 46.5l-2.5 2.9M137.9 95.5l-1.1-1.7M136.8 93.8l1-5.3M137.5 78.8l4.5-0.6M137.9 53.2l-0.4-0.1M137.5 69.7l0.8 2.3M139.5 66.1l-2 3.6M137.8 88.5l0.6-0.3M137.9 95.8l3.2 3.4M137.9 95.5l0 0.3M140.7 58.4l-2.8-5.2M137.9 53.2l4.2-1.7M142.1 93.6l-4.2 1.9M143 73.3l-4.7-1.3M142.7 89.9l-4.3-1.7M139.6 84.2l-1.2 4M138.6 108.6l2.5 3.2M138.6 108.6l1.8-4.6M144 135l-4.6-5.3M141.8 126.4l-2.4 3.3M143.5 65l-4 1.1M139.6 84.2l3.2-1.2M139.8 122.1l2 4.3M141.8 118.2l-2 3.9M140.4 104l-0.3-0.7M140.1 103.3l1-4.1M141.8 118.2l-1.6-2.6M141.1 111.8l-0.9 3.8M140.4 104l4 0.2M140.5 58.8l3 6.2M140.5 58.8l0.2-0.4M144.9 56.8l-4.2 1.6M144.3 98.1l-3.2 1.1M141.1 111.8l6.4-2.2M144.2 170.1l-2.5-8.9M141.7 161.2l1.3-1.3M148.1 126.2l-6.3 0.2M141.8 183.5l2.3-4.4M141.8 118.2l2.4 0.4M144.1 179.1l-2.1-5.6M142 173.5l2.2-3.4M142.8 83l-0.8-4.8M142 78.2l1-1.4M142.1 93.6l2.4 2.1M142.1 93.6l0.6-3.7M145.2 54l-3.1-2.5M142.1 51.5l1.1-4.3M142.3 149.5l0.7 10.4M142.3 149.5l0.9-0.6M142.7 89.9l1.6-0.7M144.8 144.2l-2-6.5M144 135.8l-1.2 1.9M144.9 84l-2.1-1M146.3 159.8l-3.3 0.1M143 73.3l0 3.5M143.1 73.2l-0.1 0.1M148.1 79.1l-5.1-2.3M144.4 65.7l-1.3 7.5M149.1 72.7l-6 0.5M149 150.2l-5.8-1.3M143.2 148.9l1.6-4.7M143.5 65l0.7 0.2M144 135.8l7.1 2M144 135.8l0-0.8M144 135l4.6-5.7M144.1 179.1l1.9 0.1M144.2 65.2l0.2 0.5M149 60l-4.8 5.2M144.2 118.6l4.5 6.6M150.3 114.9l-6.1 3.7M149.5 169.4l-5.3 0.7M144.3 98.1l1.8 1.8M144.3 98.1l0.2-2.4M147.1 91.2l-2.8-2M144.3 89.2l1.3-3.7M148.1 107.9l-3.7-3.7M144.4 104.2l1.7-4.3M149.8 68.6l-5.4-2.9M144.5 95.7l2.5-1.4M144.8 144.2l6.5-2.5M145.6 85.5l-0.7-1.5M144.9 84l3.2-4.3M144.9 56.8l4.1 3.2M144.9 56.8l0.3-2.8M145.2 54l3.8-2.7M152.1 86.1l-6.5-0.6M152.8 184.3l-6.8-5.1M146 179.2l6.6-3.2M146.1 99.9l3.1-0.3M153.1 164.9l-6.8-5.1M152.1 155.3l-5.8 4.5M147 94.3l3.5 2M147.1 91.2l-0.1 3.1M147.1 91.2l4.8-1.4M147.5 109.6l2.8 5.3M148.1 107.9l-0.6 1.7M148.1 107.9l3.5-2.3M148.1 79.7l0-0.6M148.1 79.1l2.7-3.3M152.5 83.7l-4.4-4M148.6 129.3l-0.5-3.1M148.1 126.2l0.6-1M148.6 129.3l4 2.8M148.7 125.2l3.7-2.1M149 51.3l-0.3-3.2M152.1 155.3l-3.1-5.1M149 150.2l4.2-3M152.3 54.4l-3.3-3.1M149 60l0.1-0.1M149.1 72.7l1.8 2.2M149.8 68.6l-0.7 4.1M153.2 62.9l-4.1-3M152.3 54.4l-3.2 5.5M151.9 103.6l-2.7-4M150.5 96.3l-1.3 3.3M149.5 169.4l3.2 6.4M149.5 169.4l3.1-2.6M152.7 66.9l-2.9 1.7M152.3 115.8l-2-0.9M154 94.4l-3.5 1.9M154.3 79.6l-3.5-3.8M150.9 74.9l-0.1 0.9M155.2 73.4l-4.3 1.5M151.1 137.8l0.7 3M151.1 137.8l1.6-2.3M153.2 147.2l-1.9-5.5M151.3 141.7l0.5-0.9M151.6 105.6l6.3 3.7M151.6 105.6l0.3-2M151.8 140.8l4.2 0.2M154.3 93.7l-2.4-3.9M151.9 89.8l0.2-3.7M156.8 100l-4.9 3.6M152.8 85.3l-0.7 0.8M154.8 155.9l-2.7-0.6M152.3 115.8l1.2 2.2M157.8 109.6l-5.5 6.2M152.3 54.4l0.2 0M152.4 123.1l0.9 0.6M153.5 118l-1.1 5.1M156.4 56.5l-3.9-2.1M156.6 49.3l-4.1 5.1M152.8 85.3l-0.3-1.6M154.3 79.6l-1.8 4.1M152.6 166.8l5.6 5.1M152.6 166.8l0.5-1.9M152.6 132.1l0.1 3.4M152.6 132.1l3.8-1.8M152.6 176l3.3 5.1M152.7 175.8l-0.1 0.2M156.4 69.8l-3.7-2.9M153.2 62.9l-0.5 4M152.7 175.8l5.4-3.3M152.7 135.5l5.7 1.2M160.2 85.5l-7.4-0.2M156.3 162.3l-3.2 2.6M156.1 61.8l-2.9 1.1M153.2 147.2l4 0.7M153.3 123.7l5.4 0.1M153.3 123.7l3.4 5.6M159.5 118.2l-6-0.2M156.8 100l-2.8-5.6M154.3 93.7l-0.3 0.7M154.3 93.7l5.2-1.9M154.3 79.6l4.4-1.2M154.8 155.9l1.5 6.4M154.8 155.9l2.6-2.1M155.2 73.4l3.6 3.7M156.4 69.8l-1.2 3.6M155.8 181.8l0.1-0.7M155.9 181.1l5.1-4.1M159.1 146.3l-3.1-5.3M156 141l3-3.5M158.3 62.4l-2.2-0.6M156.1 61.8l0.3-5.3M156.3 162.3l2.1 0.4M159.7 55.2l-3.3 1.3M156.4 130.3l2.4 2.4M156.7 129.3l-0.3 1M156.4 69.8l3.8-1M160.3 127l-3.6 2.3M158.6 100.5l-1.8-0.5M157.4 153.8l-0.2-5.9M157.2 147.9l1.9-1.6M157.4 153.8l5.2 1.1M160.7 116.1l-2.9-6.5M157.8 109.6l0.1-0.3M160.6 107.6l-2.7 1.7M158 49.5l1.7 5.7M158.1 172.5l2.9 4.5M158.2 171.9l-0.1 0.6M158.2 171.9l3.5-3M158.3 62.4l2.2 5.7M158.3 62.4l4.5-2.7M158.4 162.7l3.3 6.2M158.4 162.7l3.6-1.7M158.4 136.7l0.6 0.8M158.8 132.7l-0.4 4M158.6 100.5l2 7M164.4 97l-5.8 3.5M161.3 82.8l-2.6-4.4M158.8 77.1l-0.1 1.3M158.7 123.8l1.6 3.2M160.8 120.4l-2.1 3.4M163.1 131.6l-4.3 1.1M162.9 73.4l-4.1 3.7M159 137.5l0.3 0.1M159.1 146.3l0.2-0.1M165.7 148.7l-6.4-2.5M159.3 146.2l2.6-4.7M161.9 141.5l-2.6-3.9M164.7 135.4l-5.4 2.2M159.5 91.8l5.1 3.9M159.5 91.8l0.7-6.3M159.5 118.2l1.3 2.2M160.7 116.1l-1.2 2.1M159.7 55.2l1.1 0.4M160.2 85.5l0.9-0.8M163 72.6l-2.8-3.8M160.2 68.8l0.3-0.7M160.8 127.1l-0.5-0.1M165.1 65.1l-4.6 3M165.8 113.7l-5.2-6.1M160.6 107.6l0-0.1M160.6 107.5l5.8-2.6M160.7 116.1l5.1-1.8M160.8 120.4l4 1.6M163.2 130.4l-2.4-3.3M164.7 123.9l-3.9 3.2M162.8 59.7l-2-4.1M160.8 55.6l5.2-4.4M161 177l1.2 0.3M167.4 87.6l-6.3-2.9M161.3 82.8l-0.2 1.9M167.5 78.5l-6.2 4.3M161.7 168.9l3.8 0.1M164.6 141.2l-2.7 0.3M162 161l5.1 1.9M162 161l0.6-6.1M164.1 181.1l-1.9-3.8M162.2 177.3l5.1-3.7M162.6 154.9l3.3-1.8M162.8 59.7l0.5 0.2M167.5 78.5l-4.6-5.1M162.9 73.4l0.1-0.8M167.6 70.5l-4.6 2.1M164.9 134.3l-1.8-2.7M163.2 130.4l-0.1 1.2M166.9 127.8l-3.7 2.6M163.3 59.9l2.2 3.6M163.3 59.9l6-3.9M163.3 182.6l0.8-1.5M164.1 181.1l5.8 0.4M164.4 97l3 5.4M164.6 95.7l-0.2 1.3M167.7 145.9l-3.1-4.7M166.1 138.5l-1.5 2.7M167 93.9l-2.4 1.8M166.1 138.5l-1.4-3.1M164.9 134.3l-0.2 1.1M164.7 123.9l2.2 3.9M164.7 123.9l0.3-1.6M164.8 122l0.2 0.3M167.3 116.1l-2.5 5.9M169.5 132.7l-4.6 1.6M165 122.3l5.9 0.5M168.1 68.5l-3-3.4M165.5 63.5l-0.4 1.6M165.5 63.5l5.8-1.4M165.5 169l1.8 4.6M165.5 169l2.3-3.5M165.7 148.7l0.2 4.4M165.7 148.7l2-2.3M165.8 114.3l1.5 1.8M165.8 113.7l0 0.6M165.8 113.7l3.5-4.5M169.7 155.6l-3.8-2.5M166 50.6l0 0.6M169.3 55.9l-3.3-4.7M168.6 138.8l-2.5-0.3M169.3 109.2l-2.9-4.3M166.4 104.9l1-2.5M166.9 127.8l2.6 0.8M167 93.9l7 0.7M167.4 87.6l-0.4 6.3M167.1 162.9l0.7 2.6M169.9 157.9l-2.8 5M167.3 116.1l1.8 0.4M167.3 173.6l1.4 0.7M167.4 87.6l4.7-2.9M173.3 101.7l-5.9 0.7M167.5 78.5l0.3 0M171.1 74.1l-3.5-3.6M167.6 70.5l0.5-2M167.7 145.9l0 0.5M170.2 141.4l-2.5 4.5M167.7 146.4l4.8 0.7M167.8 78.5l4.3 4.6M171.1 74.1l-3.3 4.4M173.6 166.6l-5.8-1.1M171.8 66.9l-3.7 1.6M170.2 141.4l-1.6-2.6M171.5 135.9l-2.9 2.9M168.7 186.9l1.9-2.3M170.2 181l-1.5-6.7M172.8 173.1l-4.1 1.2M169.1 116.5l2.7 3.6M172.8 114l-3.7 2.5M169.3 56l2 6.1M169.3 55.9l0 0.1M172.9 54.6l-3.6 1.3M171.4 109.5l-2.1-0.3M171.5 135.9l-2-3.2M169.5 132.7l1-3M169.5 128.6l1 1.1M170.9 122.8l-1.4 5.8M169.7 155.6l0.2 2.3M175.7 152.2l-6 3.4M176.2 161.8l-6.3-3.9M170.6 184.6l-0.7-3.1M169.9 181.5l0.3-0.5M177.4 178.1l-7.2 2.9M170.2 141.4l3.3-0.1M174.2 129.4l-3.7 0.3M170.6 184.6l4.8 1.8M171.6 122.3l-0.7 0.5M171.1 74.1l2.6-0.6M171.4 62.2l-0.1-0.1M171.4 62.2l0.4 4.7M176.2 61.2l-4.8 1M172.8 114l-1.4-4.5M171.4 109.5l4.2-2.6M174.1 136.6l-2.6-0.7M171.6 122.3l4.2 2.2M171.8 120.1l-0.2 2.2M173.2 67.9l-1.4-1M176 117.7l-4.2 2.4M172.1 84.7l0-1.6M175.5 80l-3.4 3.1M174.5 86.9l-2.4-2.2M172.5 147.1l3.2 4.8M172.5 147.1l1.7-2.7M177.4 177.4l-4.6-4.3M174.7 168.7l-1.9 4.4M172.8 114l2.5 0.7M172.9 54.6l1.9 0.7M172.9 54.6l0.3-3.1M173.2 67.9l0.5 5.6M173.2 67.9l5.5-1.5M175.6 106.9l-2.3-5.2M176 97.2l-2.7 4.5M173.5 141.3l0.6 0.8M174.1 136.6l-0.6 4.7M173.6 166.6l1.1 2.1M176.2 161.8l-2.6 4.8M175.1 74.1l-1.4-0.6M174 94.6l1.8 1.8M174 94.6l0.5-7.7M174.1 142.1l0.1 2.3M174.1 142.1l4.8-1M174.1 136.6l1.6-0.7M174.2 129.4l2.3 2.3M174.2 129.4l1.7-4.2M174.2 144.4l5.3 1.2M174.4 192.1l1-5.7M174.5 86.9l4.9 0M180.8 169.9l-6.1-1.2M174.8 55.3l2 4.2M179.8 52.2l-5 3.1M174.9 193.2l5 0.9M175.1 74.1l0.4 5.9M178.4 73.1l-3.3 1M175.3 114.7l0.7 3M179.4 110.6l-4.1 4.1M175.4 186.4l1.6-0.6M179.1 80.3l-3.6-0.3M179.5 108.5l-3.9-1.6M175.7 152.2l0-0.3M175.7 151.9l4.1-5.6M179.7 155.3l-4-3.1M175.7 135.9l1.7 0.9M175.7 135.9l0.8-4.2M175.8 124.5l0.1 0.7M177.8 122.2l-2 2.3M176 97.2l-0.2-0.8M175.8 96.4l6.2-5.1M180 127.2l-4.1-2M176 97.2l7.4 4M177.3 118.5l-1.3-0.8M176.2 61.2l2.7 3.9M176.2 61.2l0.6-1.7M178.3 160.9l-2.1 0.9M178.2 131.3l-1.7 0.4M182 57.4l-5.2 2.1M177 185.8l4.4 3.7M177 185.8l2.5-4.6M177.3 118.5l0.5 3.7M177.3 118.5l3.7-1.3M178.9 141.1l-1.5-4.3M177.4 136.8l3.8-0.9M177.4 178.1l0-0.7M181.2 172.7l-3.8 4.7M179.5 181.2l-2.1-3.1M177.8 122.2l4 0.6M181 132.2l-2.8-0.9M178.2 131.3l1.8-4.1M178.3 160.9l3.1 2.5M179.7 155.3l-1.4 5.6M178.4 73.1l3.4 2.6M178.4 73.1l1.4-4.5M178.6 201.2l1.3-7.1M179.8 68.6l-1.1-2.2M178.7 66.4l0.2-1.3M183.3 62.7l-4.4 2.4M178.9 141.1l0.4 0.2M179.1 80.3l2.3 3.5M179.1 80.3l2.8-4.2M179.9 142.6l-0.6-1.3M179.3 141.3l3.1-2.8M179.4 110.6l1.7 6.4M179.4 110.6l0.2-0.4M182 91.3l-2.6-4.4M179.4 86.9l2-3.1M179.6 110.2l-0.1-1.7M179.5 108.5l3.8-3.3M179.5 181.2l3.8 0.4M179.8 146.3l-0.3-0.7M179.5 145.6l0.4-3M179.6 110.2l5.8 3.4M179.7 155.3l3.7-0.9M185 148l-5.2-1.7M184.8 69.3l-5-0.7M179.9 194.1l0 0M179.9 142.6l4.7-0.4M185.3 195.7l-5.4-1.6M179.9 194.1l1.5-4.6M181.5 126.8l-1.5 0.4M181.2 172.7l-0.4-2.8M180.8 169.9l0.6-0.8M181 132.2l0.6 3M183.1 130.8l-2.1 1.4M182.6 120.8l-1.6-3.6M181.1 117l-0.1 0.2M181.1 117l4.2-1.1M181.2 135.9l1.2 2.6M181.6 135.2l-0.4 0.7M185.4 175l-4.2-2.3M184.6 188l-3.2 1.5M181.4 52.3l0.6 5.1M181.4 163.4l0 5.7M181.4 169.1l6.8-1M181.4 163.4l4.3-1.2M181.4 83.8l1.3-0.2M182.9 128l-1.4-1.2M181.5 126.8l0.5-3.6M181.6 203.3l3.7-3.6M184.9 135l-3.3 0.2M181.8 75.7l0.1 0.4M185.3 72.5l-3.5 3.2M181.8 122.8l0.2 0.4M182.6 120.8l-0.8 2M181.9 76.1l4.1 3.2M182 91.3l2 0.4M185.4 124l-3.4-0.8M182.4 57.8l-0.4-0.4M182.4 138.5l1.1 0.4M182.4 57.8l0.9 4.9M188.2 57.5l-5.8 0.3M182.6 120.8l3.3-1.1M182.7 83.6l6.1 3.9M186 79.3l-3.3 4.3M183.1 130.8l-0.2-2.8M182.9 128l3.3-1.1M183.1 130.8l2.5 1.1M183.3 181.6l1.3 6.4M184.6 180.8l-1.3 0.8M183.3 62.7l1.9 0.8M183.3 105.2l4.3 2.2M183.4 101.2l-0.1 4M183.4 101.2l3.2-3M183.4 154.4l4.3 3.3M183.4 154.4l1.9-5.3M183.5 138.9l1.1 3.3M183.5 138.9l2.7-1.8M184 91.7l2.6 6.5M188.9 87.8l-4.9 3.9M187.7 181.3l-3.1-0.5M184.6 180.8l0.8-5.8M185.7 188.4l-1.1-0.4M185.2 142.5l-0.6-0.3M185.3 72.5l-0.5-3.2M184.8 69.3l1.8-1.8M184.9 135l1.3 2.1M185.8 132.5l-0.9 2.5M185 148l0.3 1.1M185 148l0.5-1.1M186.6 67.5l-1.4-4M189.2 60.6l-4 2.9M185.5 146.9l-0.3-4.4M188 140.9l-2.8 1.6M185.9 119.7l-0.6-3.8M185.3 115.9l0.2-0.3M185.3 199.7l0-4M185.3 195.7l0.3-0.2M188.9 74.3l-3.6-1.8M190.9 150.4l-5.6-1.3M188.1 200.7l-2.8-1M185.4 113.6l0.1 2M185.4 113.6l2.8-2.9M188.2 174l-2.8 1M185.4 124l0.8 2.9M187.9 121.6l-2.5 2.4M185.5 115.6l3.3 0.6M185.5 146.9l4.6-2.1M185.6 131.9l0.2 0.6M185.6 131.9l2-2.6M190.4 196l-4.8-0.5M185.6 195.5l1.6-5.2M188.8 166.4l-3.1-4.2M185.7 162.2l2-4.5M185.7 188.4l1.5 1.9M189.6 184.7l-3.9 3.7M185.8 132.5l3.1 1M185.9 119.7l1.8 1.2M188.6 79.1l-2.6 0.2M186.2 126.9l0.9 0.5M188.1 137.7l-1.9-0.6M186.6 98.2l1.2-0.1M189.2 67.7l-2.6-0.2M187.6 129.3l-0.5-1.9M190.5 125.1l-3.4 2.3M189 190.5l-1.8-0.2M187.3 52.9l1.4 3.5M187.8 107.7l-0.2-0.3M190.6 104.6l-3 2.8M189.9 130.3l-2.3-1M187.7 157.7l0.7-0.1M187.7 120.9l0.2 0.7M187.7 120.9l1.8-2.6M187.7 181.3l1.9 2.7M189.4 179.8l-1.7 1.5M187.8 107.7l5.8 0.6M188.2 110.7l-0.4-3M190.5 101.1l-2.7-3M189.1 97.3l-1.3 0.8M187.9 121.6l2.4 1.7M190.6 142.7l-2.6-1.8M188 140.9l0.1-3.2M188.1 200.7l1.2 2.3M191.8 197.8l-3.7 2.9M188.9 137.2l-0.8 0.5M189.9 176.6l-1.7-2.6M188.2 174l0.5-0.8M188.2 57.5l1 3.1M188.7 56.4l-0.5 1.1M188.9 169.9l-0.7-1.8M188.2 168.1l0.6-1.5M188.2 110.7l0.8 0.6M188.4 157.6l2.5 2.5M189.5 156.7l-1.1 0.9M188.6 79.1l0.5 0.4M188.9 74.3l-0.3 4.8M194 54.7l-5.3 1.7M193.7 173.6l-5-0.4M188.7 173.2l0.2-3.3M188.8 87.5l0.1 0.3M189.1 79.5l-0.3 8M188.8 166.4l0 0.2M188.8 166.4l2.5-2.9M194.2 167l-5.4-0.4M189.5 118.3l-0.7-2.1M188.8 116.2l1.2-1.3M192 71.9l-3.1 2.4M188.9 133.5l0 3.7M190 132.6l-1.1 0.9M188.9 137.2l2.8 0.1M188.9 87.8l0.2 0M188.9 169.9l5.1 0.4M191.3 192.5l-2.3-2M192 187.6l-3 2.9M193.3 111.7l-4.3-0.4M189 111.3l1 3.6M191.1 91.2l-2-3.4M189.1 87.8l1.4-0.5M194.5 98.8l-5.4-1.5M190.9 95l-1.8 2.3M191.9 79.6l-2.8-0.1M190.3 61.1l-1.1-0.5M192 71.9l-2.8-4.2M189.2 67.7l2.2-2.5M189.4 179.8l3.7 0.3M189.9 176.6l-0.5 3.2M189.5 156.7l5.6 0.5M191.2 153.6l-1.7 3.1M189.5 118.3l3.1 0.3M192 187.6l-2.4-2.9M189.6 184.7l0-0.7M189.6 184l3.4-1M189.9 176.6l3.5 0.3M190 132.6l-0.1-2.3M192.2 128.9l-2.3 1.4M192.9 133.7l-2.9-1.1M190 114.9l2.9 0.3M190.1 144.8l1.3 1.6M190.1 144.8l0.5-2.1M191.4 65.2l-1.1-4.1M194.5 59.8l-4.2 1.3M190.3 123.3l0.2 1.8M192.4 121.9l-2.1 1.4M191.8 197.7l-1.4-1.7M190.4 196l0.9-3.5M190.5 125.1l2.2 2.2M190.5 87.3l5.9 0.6M193.7 83.8l-3.2 3.5M190.5 101.1l3.7 0.4M190.5 101.1l0.1 3.5M190.6 104.6l3.3 0.3M190.6 142.7l2.5-1.1M191.2 153.6l-0.3-3.2M190.9 150.4l0.3-0.2M190.9 160.1l3.9 0.4M190.9 160.1l0.4 3.4M190.9 95l4.8 0.5M190.9 95l0.2-3.8M191.1 91.2l5 0.5M191.4 146.4l-0.2 3.8M193.3 149.8l-2.1 0.4M195.3 153.9l-4.1-0.3M194.6 191.9l-3.3 0.6M191.3 163.5l3.2 0.3M191.4 146.4l2.9-0.5M194.1 65.5l-2.7-0.3M191.7 137.3l1.4 4.3M193.1 136.1l-1.4 1.2M193 200.4l-1.2-2.6M191.8 197.8l0-0.1M191.8 197.7l3-1.4M191.9 79.6l0.3 0.2M194.1 76.2l-2.2 3.4M192.3 72l-0.3-0.1M192 187.6l1.7 0.1M197.1 80.3l-4.9-0.5M192.2 79.8l1.5 4M194.3 132l-2.1-3.1M192.2 128.9l0.5-1.6M192.8 72.3l-0.5-0.3M192.3 72l2.9-3.6M194.6 122.5l-2.2-0.6M192.4 121.9l0.2-3.3M192.7 118.5l-0.1 0.1M195.6 126.5l-2.9 0.8M196.4 118.8l-3.7-0.3M192.7 118.5l0.2-3.3M192.8 72.3l5.6 0.6M192.8 72.3l1.3 3.9M192.9 133.7l0.2 2.4M192.9 133.7l1.4-1.7M193 115.1l-0.1 0.1M193 183l2.4 1.9M193.1 180.1l-0.1 2.9M196.7 115.4l-3.7-0.3M193.3 111.7l-0.3 3.4M193.1 136.1l3.3 0.8M193.2 180.1l-0.1 0M193.4 141.7l-0.3-0.1M196.7 180.3l-3.5-0.2M193.4 176.9l-0.2 3.2M193.4 111.7l-0.1 0M195.6 151l-2.3-1.2M193.3 149.8l1.6-2.7M193.4 111.7l3.6 0.3M193.4 111.7l0.2-3.4M193.4 141.7l1.3 2.6M193.4 141.7l3.1-1.6M193.4 176.9l0.1-0.1M193.5 176.8l3.5 0.3M193.5 176.8l0.2-3.2M193.6 108.3l0.1-0.1M196.8 84.1l-3.1-0.3M197.3 108.6l-3.6-0.4M193.9 104.9l-0.2 3.3M193.7 173.6l0.1-0.1M195.4 191l-1.7-3.3M193.7 187.7l1.7-2.8M197.3 173.8l-3.5-0.3M193.8 173.5l0.2-3.2M193.9 104.9l0.1-0.1M194 170.2l0 0.1M194 54.7l0.7 1.2M194.1 53.5l-0.1 1.2M194 104.8l3.6 0.3M194 104.8l0.2-3.3M197.5 170.5l-3.5-0.3M194.2 167l-0.2 3.2M195.2 68.4l-1.1-2.9M195.4 64.2l-1.3 1.3M194.1 76.2l3.3 0.6M194.3 167l-0.1 0M194.2 101.5l0.1-0.1M194.9 147.1l-0.6-1.2M194.7 144.3l-0.4 1.6M194.3 132l1.7-0.2M194.3 167l3.5 0.2M194.3 167l0.2-3.2M194.3 101.4l3.6 0.3M194.5 98.8l-0.2 2.6M194.5 98.8l1.1-1.1M194.5 163.8l0.1-0.1M194.7 60l-0.2-0.2M194.7 55.9l-0.2 3.9M194.8 196.3l-0.2-4.4M194.6 191.9l0.8-0.9M194.6 122.5l1.1 3.9M196.2 121.3l-1.6 1.2M194.6 163.7l3.4 0.3M194.8 160.5l-0.2 3.2M194.7 144.3l2.8 0M194.7 55.9l5.2 0.5M194.7 60l4.8 0.5M195.4 64.2l-0.7-4.2M194.9 160.4l-0.1 0.1M194.8 196.3l3.1 1.2M194.9 160.4l3.4 0.3M195.1 157.2l-0.2 3.2M197.1 147.7l-2.2-0.6M195.1 157.2l0-0.1M198.5 157.4l-3.4-0.3M195.3 153.9l-0.2 3.2M198.8 68.7l-3.6-0.3M195.3 153.9l0.1-0.1M197 191l-1.6 0M195.4 153.8l3.4 0.3M195.6 151l-0.2 2.8M196.5 184.5l-1.1 0.4M199.1 64.6l-3.7-0.4M195.6 97.7l2.5 1.6M195.6 97.7l0.1-2.2M195.6 151l1.7-0.9M195.6 126.5l1.4 2.5M195.7 126.4l-0.1 0.1M195.7 126.4l1.9-1M195.7 95.5l0.1-0.1M195.8 95.4l4.4 0.3M195.8 95.4l0.3-3.7M196 131.8l1.3 1.2M197 129l-1 2.8M196.1 91.7l0.1-0.1M196.2 91.6l4.3 0.3M196.2 91.6l0.2-3.7M196.2 121.3l2.1 1.3M196.4 118.8l-0.2 2.5M196.4 118.8l0 0M196.4 136.9l0.7 2.2M196.4 136.9l1.1-1.5M196.4 87.9l0.1-0.1M200.1 119.1l-3.7-0.3M196.4 118.8l0.3-3.4M199.1 185.4l-2.6-0.9M196.7 180.3l-0.2 4.2M200.8 88.2l-4.3-0.4M196.8 84.1l-0.3 3.7M196.5 140.1l1.9 3.2M196.5 140.1l0.6-1M196.7 115.4l0-0.1M200.4 115.6l-3.7-0.3M196.7 115.3l0.3-3.3M196.8 180.3l-0.1 0M196.9 84l-0.1 0.1M196.8 180.3l3.6 0.2M196.8 180.3l0.2-3.2M196.9 84l4.2 0.4M197.1 80.3l-0.2 3.7M197 111.9l0 0.1M200.4 129.3l-3.4-0.3M197 177.1l0.1-0.1M200.7 112.2l-3.7-0.3M197 111.9l0.3-3.3M198.1 191.7l-1.1-0.7M199.4 186.3l-2.4 4.7M199.9 139.2l-2.8-0.1M200.6 177.3l-3.5-0.3M197.3 173.8l-0.2 3.2M197.1 147.7l0.2 2.4M197.1 147.7l0.6-0.6M197.2 80.2l-0.1 0.1M197.2 80.2l4.3 0.4M197.4 76.8l-0.2 3.4M197.3 173.7l0 0.1M197.3 108.6l0-0.1M197.5 135.4l-0.2-2.4M200.2 131.9l-2.9 1.1M197.3 150.1l1.8 0.8M200.8 174l-3.5-0.3M197.3 173.7l0.2-3.2M200.9 108.8l-3.6-0.3M197.3 108.5l0.3-3.4M198.2 76.1l-0.8 0.7M197.5 144.3l0.2 2.8M197.5 144.3l0.9-1M197.5 135.4l3 0.3M197.5 170.5l0.1-0.1M197.6 105.1l0-0.1M197.6 170.4l3.5 0.3M197.6 170.4l0.2-3.2M197.6 125.4l3.1 0.9M197.6 125.4l0.7-2.8M197.6 105l3.6 0.3M197.6 105l0.3-3.3M199.6 147.1l-1.9 0M197.8 167.2l0 0M201.3 167.4l-3.5-0.2M198 164l-0.2 3.2M197.9 101.6l0 0.1M198.5 199.6l-0.6-2.1M198.8 196l-0.9 1.5M201.5 101.9l-3.6-0.3M198.1 99.3l-0.2 2.3M198 200.5l0.5-0.9M198.1 163.9l-0.1 0.1M198.1 99.3l2-1.5M201.5 164.2l-3.4-0.3M198.3 160.7l-0.2 3.2M198.1 191.7l0.7 4.3M198.1 191.7l2.8-0.3M198.2 76.1l3.6 1.2M198.4 72.9l-0.2 3.2M198.4 160.6l-0.1 0.1M198.3 122.6l1.6-0.6M201.8 160.9l-3.4-0.3M198.5 157.4l-0.1 3.2M198.4 72.9l0.1-0.1M198.4 143.3l0.7 0.1M198.5 199.6l2.6 0.1M198.5 72.8l4.7 0.4M198.5 72.8l0.3-4.1M198.5 157.4l0.1-0.1M198.6 157.3l3.4 0.3M198.6 157.3l0.2-3.2M198.8 68.7l0.1-0.1M198.9 154.1l-0.1 0M198.8 196l2.9-0.7M203.6 69l-4.7-0.4M199.1 64.6l-0.2 4M202.3 154.3l-3.4-0.2M198.9 154.1l0.2-3.2M199.1 150.9l1-0.5M199.4 186.3l-0.3-0.9M199.1 185.4l1.1-1.2M199.2 64.5l-0.1 0.1M199.1 143.4l1.4 2M200.5 142.3l-1.4 1.1M199.2 64.5l4.7 0.4M199.2 64.5l0.3-4M199.4 186.3l1.9 1.2M199.5 60.5l0.1-0.1M200.6 148.4l-1-1.3M200.5 145.4l-0.9 1.7M199.6 60.4l4.7 0.4M199.9 56.4l-0.3 4M200 56.3l-0.1 0.1M200.5 142.3l-0.6-3.1M199.9 139.2l0.3-0.2M199.9 122l1.5 1M200.1 119.1l-0.2 2.9M200 56.3l4.6 0.4M200.2 53.9l-0.2 2.4M200.1 97.8l1.6 1.7M200.1 97.8l0.1-2.1M200.1 119.1l0.1-0.1M202.5 151.4l-2.4-1M200.6 148.4l-0.5 2M200.4 180.5l-0.2 3.7M200.2 184.2l3.6-0.5M200.2 119l3.6 0.3M200.2 119l0.2-3.4M200.3 95.6l-0.1 0.1M200.9 132.6l-0.7-0.7M200.4 129.4l-0.2 2.5M200.2 139l3.1 0.3M200.6 135.8l-0.4 3.2M204.7 96l-4.4-0.4M200.3 95.6l0.2-3.7M200.4 180.5l0 0M200.5 115.6l-0.1 0M200.4 129.3l0 0.1M200.7 126.3l-0.3 3M200.4 129.4l3.6 0.2M204 180.7l-3.6-0.2M200.4 180.5l0.2-3.2M204.1 115.8l-3.6-0.2M200.5 115.6l0.2-3.4M200.5 135.7l0.1 0.1M200.5 135.7l0.4-3.1M200.6 91.9l-0.1 0M203.1 142.5l-2.6-0.2M203 145.3l-2.5 0.1M200.6 177.3l0.1-0.1M202.5 147.9l-1.9 0.5M205 92.2l-4.4-0.3M200.8 88.2l-0.2 3.7M200.6 135.8l3 0.2M200.7 126.3l0.2-0.1M200.7 112.1l0 0.1M204.2 177.4l-3.5-0.2M200.8 174l-0.1 3.2M200.7 112.1l3.7 0.3M200.7 112.1l0.2-3.3M200.9 88.1l-0.1 0.1M200.8 174l0.1-0.1M204.3 126.4l-3.4-0.2M200.9 126.2l0.5-3.2M200.9 191.4l0.8 0.8M200.9 191.4l1-1.9M204.4 174.2l-3.5-0.3M200.9 173.9l0.2-3.2M205.2 88.4l-4.3-0.3M201.1 84.4l-0.2 3.7M200.9 132.6l2.9 0.2M200.9 108.8l0.1-0.1M201 108.7l3.6 0.3M201 108.7l0.2-3.4M202.4 200.5l-1.3-0.8M201.1 199.7l1.7-2.4M201.1 170.7l0-0.1M204.6 170.9l-3.5-0.3M201.3 167.4l-0.2 3.2M201.2 84.3l-0.1 0.1M201.2 105.3l0.1 0M201.2 84.3l4.3 0.3M201.5 80.6l-0.3 3.7M201.3 187.5l0.6 2M204.4 186.5l-3.1 1M201.3 105.3l3.6 0.2M201.5 101.9l-0.2 3.4M201.4 167.4l-0.1 0M203.7 122.5l-2.3 0.5M201.4 167.4l3.4 0.2M201.5 164.2l-0.1 3.2M201.5 80.6l0.1-0.1M201.5 101.9l0.1-0.1M201.5 164.2l0.1-0.1M201.6 80.5l4.2 0.3M201.8 77.3l-0.2 3.2M205.1 102.1l-3.5-0.3M201.6 101.8l0.1-2.3M205.1 164.3l-3.5-0.2M201.8 160.9l-0.2 3.2M204.3 192.2l-2.6 0M201.7 192.2l0.2 2.8M204.5 98.2l-2.8 1.3M201.7 195.3l1.1 2M201.7 195.3l0.2-0.3M203.1 76.2l-1.3 1.1M201.9 160.8l-0.1 0.1M205.3 161l-3.4-0.2M201.9 160.8l0.1-3.2M201.9 189.5l3 0.3M201.9 195l3.3-0.6M202 157.6l0.1-0.1M202.1 157.5l3.4 0.3M202.3 154.3l-0.2 3.2M202.3 154.3l0-0.1M202.3 154.2l3.4 0.3M202.3 154.2l0.2-2.8M203.1 203l-0.7-2.5M204.8 199.5l-2.4 1M202.5 151.4l2-1.3M202.5 147.9l2.1 2.1M202.5 147.9l0.5-2.5M203.1 203l-0.5 0.6M202.8 197.3l1.3 0.2M203 145.3l0 0.1M203.1 142.5l-0.1 2.8M203 145.4l2 0.5M203.1 76.2l3 1.5M203.2 73.2l-0.1 3M205.7 202.9l-2.6 0.1M203.1 142.5l0.1-0.1M203.2 142.4l3.5 0.2M203.2 142.4l0.1-3.1M203.3 73.1l-0.1 0.1M203.3 73.1l4.8 0.3M203.6 69l-0.3 4.1M203.3 139.3l0.1-0.1M203.4 139.2l3.5 0.2M203.6 136l-0.2 3.2M203.7 68.9l-0.1 0.1M203.6 136l0 0M207.1 136.2l-3.5-0.2M203.6 136l0.2-3.2M203.7 68.9l4.7 0.4M203.9 64.9l-0.2 4M203.7 122.5l0.8 0.6M203.8 119.3l-0.1 3.2M203.8 132.8l0.1 0M203.8 183.7l1.1 1.1M203.8 183.7l0.2-3M203.8 119.3l0.1-0.1M207.3 133l-3.4-0.2M204 129.6l-0.1 3.2M203.9 64.9l0.1-0.1M203.9 119.2l3.7 0.3M204.1 115.8l-0.2 3.4M204 180.6l0 0.1M204 64.8l4.7 0.4M204 64.8l0.3-4M204 206l1.5-0.1M204.1 129.6l-0.1 0M204 180.6l3.6 0.3M204.2 177.4l-0.2 3.2M204.1 115.8l0.1 0M204.1 129.6l3.4 0.2M204.3 126.4l-0.2 3.2M204.8 199.5l-0.7-2M204.1 197.5l1.2-1.3M204.2 115.8l3.6 0.2M204.4 112.4l-0.2 3.4M204.3 177.4l-0.1 0M204.3 60.8l0.1-0.1M204.3 177.4l3.5 0.2M204.3 177.4l0.1-3.2M204.3 126.4l0 0M205.4 193.9l-1.1-1.7M204.3 192.2l0.6-2.4M204.3 126.4l3.5 0.2M204.5 123.1l-0.2 3.3M209 61l-4.6-0.3M204.6 56.7l-0.2 4M204.4 112.4l0-0.1M204.4 186.5l1.2 2.7M204.9 184.8l-0.5 1.7M204.4 174.2l0.1-0.1M204.4 112.3l3.7 0.3M204.4 112.3l0.2-3.3M208 174.3l-3.5-0.2M204.6 170.9l-0.1 3.2M204.5 123.1l2.9-0.4M205.3 99.4l-0.8-1.2M204.7 96l-0.2 2.2M205.9 151.3l-1.4-1.2M204.5 150.1l0.1-0.1M205.6 148.4l-1 1.6M204.7 56.6l-0.1 0.1M204.6 109l0.1-0.1M204.7 170.8l-0.1 0.1M204.8 95.9l-0.1 0.1M204.7 108.9l3.6 0.3M204.7 108.9l0.2-3.4M204.7 56.6l4.6 0.3M204.8 54.2l-0.1 2.4M208.2 171l-3.5-0.2M204.8 167.6l-0.1 3.2M204.8 95.9l4.4 0.3M205 92.2l-0.2 3.7M206.1 199.9l-1.3-0.4M204.9 167.5l-0.1 0.1M204.9 105.5l0 0M204.9 189.8l0.7-0.6M204.9 167.5l3.5 0.3M204.9 167.5l0.2-3.2M204.9 184.8l0.3 0M204.9 105.5l3.6 0.2M204.9 105.5l0.2-3.4M205 92.1l0 0.1M205 145.9l0.6 2.5M205 145.9l1.6-1M205 92.1l4.4 0.3M205.2 88.4l-0.2 3.7M205.1 164.3l0 0M205.1 102.1l0.1-0.1M208.6 164.5l-3.5-0.2M205.1 164.3l0.2-3.3M205.3 196.2l-0.1-1.8M205.4 193.9l-0.2 0.5M208.8 102.3l-3.6-0.3M205.3 99.4l-0.1 2.6M207.9 186l-2.7-1.2M205.2 184.8l2.3-2.3M205.2 88.4l0.1-0.1M205.3 161l0 0M207.5 197.7l-2.2-1.5M205.3 208.5l1.1-0.8M205.3 88.3l4.4 0.3M205.3 88.3l0.2-3.7M209 99l-3.7 0.4M205.3 161l3.5 0.2M205.3 161l0.2-3.2M206.7 193.6l-1.3 0.3M205.5 205.9l0.9 1.8M206.5 204l-1 1.9M205.6 157.7l-0.1 0.1M205.5 84.6l0.1-0.1M209 157.9l-3.4-0.2M205.7 154.5l-0.1 3.2M208.6 147.8l-3 0.6M206.2 189.3l-0.6-0.1M205.6 84.5l4.3 0.3M205.8 80.8l-0.2 3.7M205.7 154.5l0.1-0.1M205.7 202.9l0.8 1.1M205.7 202.9l0.7-2.1M205.8 154.4l3.4 0.2M205.8 154.4l0.1-3.1M205.8 80.8l0.1-0.1M205.9 80.7l4.3 0.3M206.1 77.7l-0.2 3M208.7 151l-2.8 0.3M206.1 77.7l1.8-1.3M206.4 200.8l-0.3-0.9M206.1 199.9l1.4-2.2M206.2 189.3l1.5 2.3M206.2 189.3l1.3-0.9M206.4 207.7l1.7 0.3M206.4 200.8l2.9 0.3M207.5 204.2l-1-0.2M209.2 146.7l-2.6-1.8M206.7 142.6l-0.1 2.3M206.7 211.7l0.5-0.3M206.7 193.6l2.5 1.7M206.7 193.6l1-2M206.7 142.6l0.1 0M206.8 142.6l3.5 0.2M206.8 142.6l0.1-3.2M207 139.4l-0.1 0M207 139.4l3.5 0.2M207.1 136.2l-0.1 3.2M207.2 136.2l-0.1 0M210.7 136.4l-3.5-0.2M207.2 136.2l0.1-3.2M207.2 211.4l2.6 0.4M207.2 211.4l0.9-3.4M207.3 133l0.1-0.1M207.4 132.9l3.5 0.3M207.4 132.9l0.1-3.1M207.4 122.7l0.6 0.5M207.6 119.5l-0.2 3.2M207.5 204.2l1.3 3M209.4 203.3l-1.9 0.9M207.5 197.7l0.5-0.2M207.5 182.5l1.9 1.8M207.5 182.5l0.1-1.6M207.5 188.4l2.6 0.6M207.9 186l-0.4 2.4M207.6 129.7l-0.1 0.1M207.7 180.8l-0.1 0.1M207.7 119.4l-0.1 0.1M211 129.9l-3.4-0.2M207.8 126.6l-0.2 3.1M207.7 180.8l3.3 0.2M207.8 177.6l-0.1 3.2M207.7 119.4l3.6 0.2M207.7 119.4l0.1-3.4M207.7 191.6l1.6-0.1M207.8 126.6l0-0.1M207.8 177.6l0.1-0.1M207.8 126.5l3.4 0.2M208 123.2l-0.2 3.3M207.8 116l0.1 0M207.9 177.5l3.2 0.2M207.9 177.5l0.1-3.2M208.9 185.6l-1 0.4M207.9 116l3.7 0.2M207.9 116l0.2-3.4M207.9 76.4l2.5 1.6M207.9 76.4l0.2-3M209.8 199.1l-1.8-1.6M209.2 195.3l-1.2 2.2M208 123.2l3.2-0.2M208.1 174.3l-0.1 0M210.8 174.4l-2.7-0.1M208.2 171l-0.1 3.3M208.1 112.5l0 0.1M208.1 208l0.5-0.3M208.1 73.4l0.1 0M211.8 112.8l-3.7-0.3M208.1 112.5l0.2-3.3M208.2 171l0.1 0M208.2 73.4l4.8 0.3M208.4 69.3l-0.2 4.1M208.3 171l2.8 0.1M208.3 171l0.1-3.2M208.3 109.2l0.1-0.1M212 109.3l-3.6-0.2M208.4 109.1l0.1-3.4M208.4 167.8l0-0.1M208.4 69.3l0.1-0.1M211.5 167.9l-3.1-0.2M208.6 164.5l-0.2 3.2M208.5 69.2l4.7 0.3M208.5 69.2l0.2-4M208.6 105.7l-0.1 0M208.6 164.4l0 0.1M212.2 105.9l-3.6-0.2M208.8 102.3l-0.2 3.4M211.1 209.8l-2.5-2.1M208.8 207.2l-0.2 0.5M208.7 151l-0.1-3.2M209.2 147l-0.6 0.8M208.6 164.4l3.5 0.2M208.6 164.4l0.2-3.2M208.8 65.1l-0.1 0.1M209.4 151.4l-0.7-0.4M208.8 102.2l0 0.1M208.8 161.2l0-0.1M208.8 65.1l4.7 0.3M209 61l-0.2 4.1M211.4 205.4l-2.6 1.8M212.4 102.5l-3.6-0.3M209 99l-0.2 3.2M212 161.3l-3.2-0.2M209 157.9l-0.2 3.2M208.9 185.6l2.1 1.9M208.9 185.6l0.5-1.3M209 98.9l0 0.1M209 157.8l0 0.1M209.1 60.9l-0.1 0.1M209 98.9l3.6 0.9M209 98.9l0.2-2.7M212.1 158l-3.1-0.2M209 157.8l0.2-3.2M209.1 60.9l4.6 0.4M209.1 60.9l0.2-4M209.2 96.1l0 0.1M209.2 195.3l0.3-0.1M209.2 154.6l0 0M209.2 147l0-0.3M210.2 145.4l-1 1.3M209.2 147l3.1 1.9M213.6 96.4l-4.4-0.3M209.4 92.4l-0.2 3.7M209.2 154.6l3.1 0.1M209.4 151.4l-0.2 3.2M210.4 192.5l-1.1-1M210.1 189l-0.8 2.5M209.4 203.3l-0.1-2.2M209.7 200.6l-0.4 0.5M209.3 56.9l0.1-0.1M209.3 214.9l1.1-0.8M209.4 151.4l2.9-0.6M209.4 203.3l2.2 1.3M209.4 56.8l4.6 0.3M209.5 54.5l-0.1 2.3M209.4 184.3l1.3-0.6M209.5 92.3l-0.1 0.1M209.5 195.2l1.4 0.5M210.4 192.5l-0.9 2.7M209.5 92.3l4.4 0.3M209.7 88.6l-0.2 3.7M209.7 88.6l0-0.1M209.7 88.5l4.4 0.3M209.7 88.5l0.2-3.7M211.9 201.1l-2.2-0.5M209.8 199.1l-0.1 1.5M212.1 197.7l-2.3 1.4M209.8 211.8l0.6 2.3M209.8 211.8l1.4-1.8M210 84.8l-0.1 0M210 84.8l4.3 0.2M210.2 81l-0.2 3.8M211 188.5l-0.9 0.5M210.2 81l0.1 0M210.2 145.4l3.6 0.5M210.2 145.4l0.1-2.6M210.3 81l4.2 0.2M210.3 81l0.1-3M210.3 142.8l0-0.1M213.9 142.9l-3.6-0.2M210.5 139.6l-0.2 3.1M211.8 192.2l-1.4 0.3M212.8 76.6l-2.4 1.4M210.4 214.1l0.1 0.1M210.5 139.5l0 0.1M212.5 216.7l-2-2.5M210.5 214.2l3.5-1.3M210.5 139.5l3.5 0.2M210.7 136.4l-0.2 3.1M210.7 136.4l0-0.1M210.7 183.7l1.8 1.9M210.7 183.7l0.7-1.7M210.7 136.3l3.5 0.2M210.7 136.3l0.2-3.1M211.2 177.7l-0.4-3.3M211 174.2l-0.2 0.2M210.9 133.2l0-0.1M212.1 197.7l-1.2-2M213.5 193.7l-2.6 2M214.4 133.3l-3.5-0.2M211 129.9l-0.1 3.2M211 174.2l2.5 0.2M211 174.2l0.3-2.9M211 188.5l1.5 1M211 187.5l0 1M211 181l0.4 1M211.7 179.7l-0.7 1.3M211 187.5l1.5-1.9M211 129.9l0.1 0M214.6 130.1l-3.5-0.2M211.1 129.9l0.1-3.2M211.1 209.8l0.1 0.2M212.6 207.8l-1.5 2M211.3 171.3l-0.2-0.2M211.7 168.2l-0.6 2.9M211.1 177.7l0.6 2M211.2 177.7l-0.1 0M211.2 210l2.2 1.2M211.2 177.7l3.2-1.5M211.4 123.2l-0.2-0.2M211.3 119.6l-0.1 3.4M211.3 126.7l-0.1 0M213.7 171.6l-2.4-0.3M214.7 126.9l-3.4-0.2M211.4 123.2l-0.1 3.5M211.4 119.6l-0.1 0M211.4 182l2.4 0.8M211.4 205.4l1.2 2.4M211.4 205.4l0.2-0.8M215.1 119.8l-3.7-0.2M211.4 119.6l0.2-3.4M214.9 123.3l-3.5-0.1M211.5 167.9l0.2 0.3M212.2 164.7l-0.7 3.2M211.6 116.1l0 0.1M215.3 116.3l-3.7-0.2M211.8 112.8l-0.2 3.3M211.6 204.6l1.2-0.7M211.7 179.7l2.2 0M212.5 216.7l-0.8 0.9M214.6 168.7l-2.9-0.5M211.8 112.7l0 0.1M213.5 193.7l-1.7-1.5M211.8 192.2l0.7-2.7M211.8 112.7l3.7 0.2M211.8 112.7l0.2-3.4M211.9 201.1l0.9 2.8M213.1 199.7l-1.2 1.4M212 109.3l0 0M212 161.3l0.1 3.3M212 161.3l0.4-0.3M215.7 109.5l-3.7-0.2M212.2 105.9l-0.2 3.4M212.5 197.8l-0.4-0.1M212.1 164.6l0.1 0.1M212.4 161l-0.3-3M212.1 158l0.5-0.5M212.2 105.8l0 0.1M212.2 105.8l3.6 0.2M212.2 105.8l0.2-3.3M214.4 164.9l-2.2-0.2M212.3 154.7l0.3 2.8M212.3 154.7l0.6-0.6M212.3 150.8l0.6 3.3M212.3 150.8l0.1-0.2M212.3 148.9l0.1 1.7M214.2 146.6l-1.9 2.3M212.4 102.5l0.1-0.1M215.6 161.1l-3.2-0.1M212.4 150.6l3.7 0.2M216 102.6l-3.5-0.2M212.6 99.8l-0.1 2.6M212.5 189.5l1.5-0.1M213.1 199.7l-0.6-1.9M212.5 197.8l2.7-1.4M213.7 216.5l-1.2 0.2M212.5 185.6l1.6-0.2M213.6 220.4l-1-0.1M213.6 98.6l-1 1.2M214.3 207.8l-1.7 0M212.6 157.5l3.2 0.2M213 203.9l-0.2 0M212.8 76.6l1.9 1.6M213 73.7l-0.2 2.9M212.9 154.1l3 0.2M213 73.6l0 0.1M214.9 205.4l-1.9-1.5M214.8 202.1l-1.8 1.8M213 73.6l4.8 0.3M213.2 69.5l-0.2 4.1M213.1 199.7l1.4 0.6M213.3 69.4l-0.1 0.1M213.3 69.4l4.7 0.3M213.5 65.4l-0.2 4M213.4 211.2l0.6 1.7M215.3 208.9l-1.9 2.3M213.5 65.4l0.1-0.1M214.4 176.2l-0.9-1.8M213.5 174.4l0.8-1.9M213.6 193.7l-0.1 0M214.4 223.3l-0.9 0.5M213.6 98.6l2.6 1.6M213.6 98.6l0-2.2M213.6 65.3l4.7 0.3M213.7 61.3l-0.1 4M214.4 223.3l-0.8-2.9M213.6 220.4l1.1-0.7M213.6 193.7l1.5 1.9M213.6 193.7l1.4-1.8M213.7 96.3l-0.1 0.1M214.3 172.5l-0.6-0.9M214.6 168.7l-0.9 2.9M214.2 216.8l-0.5-0.3M213.7 216.5l0.3-3.6M213.7 96.3l4.4 0.3M213.7 96.3l0.2-3.7M213.7 61.3l0.1-0.1M213.8 145.9l0.4 0.7M213.8 145.9l0.1-3M214.1 185.4l-0.3-2.6M215.3 181.4l-1.5 1.4M213.8 61.2l4.7 0.2M214 57.1l-0.2 4.1M213.9 92.6l0-0.1M213.9 142.9l0 0M213.9 179.7l1.4 1.7M213.9 179.7l1.3-2.2M213.9 142.9l3.6 0.1M214 139.7l-0.1 3.2M218.3 92.8l-4.4-0.3M213.9 92.5l0.2-3.7M214 212.9l0 0M214 57.1l0.1-0.1M216.3 213.1l-2.3-0.2M215 191.9l-1-2.5M214 189.4l0.8-0.7M214.1 139.7l-0.1 0M214.1 57l4.6 0.3M214.1 57l0.1-2.3M214.2 88.7l-0.1 0.1M214.1 139.7l3.5 0.1M214.1 139.7l0.1-3.2M214.1 185.4l1.1 0.6M218.5 89l-4.3-0.3M214.3 85l-0.1 3.7M216.3 147.1l-2.1-0.5M214.7 219.7l-0.5-2.9M216.9 216.2l-2.7 0.6M214.2 136.5l0.1-0.1M214.3 172.5l2 0M214.3 136.4l3.5 0.2M214.4 133.3l-0.1 3.1M215.3 208.9l-1-1.1M214.9 205.4l-0.6 2.4M214.3 85l0.1-0.1M214.4 133.3l0-0.1M214.4 84.9l4.3 0.3M214.4 84.9l0.1-3.7M214.4 176.2l0.5 0.2M215.6 223.6l-1.2-0.3M214.4 133.2l3.5 0.2M214.4 133.2l0.2-3.1M214.4 164.9l0.5 3.7M215.5 164.3l-1.1 0.6M214.5 200.3l0.3 1.8M214.5 200.3l1.4-1M214.5 81.2l0.1 0M214.6 130l0 0.1M214.6 81.2l4.3 0.2M214.7 78.2l-0.1 3M214.6 130l3.5 0.2M214.6 130l0.1-3.1M214.9 168.6l-0.3 0.1M214.7 219.7l1.6 0.2M217.7 76.9l-3 1.3M214.8 126.8l-0.1 0.1M214.8 188.7l2.4 0.8M215.2 186l-0.4 2.7M218.2 127l-3.4-0.2M214.9 123.3l-0.1 3.5M217.4 202.5l-2.6-0.4M214.9 168.6l1.2 0.2M215.2 177.5l-0.3-1.1M214.9 176.4l2.6-1.5M217.1 205.2l-2.2 0.2M214.9 123.3l0.1-0.1M218.4 123.5l-3.4-0.3M215 123.2l0.1-3.4M215 191.9l2.3 0.1M215.2 119.7l-0.1 0.1M215.1 195.6l0.1 0.8M215.1 195.6l2.6-2.2M215.2 186l1-0.4M215.2 177.5l2.2 1.6M218.9 119.9l-3.7-0.2M215.2 119.7l0.1-3.4M215.6 196.7l-0.4-0.3M216.8 209.1l-1.5-0.2M215.3 116.3l0.1 0M216 181.4l-0.7 0M219 116.4l-3.6-0.1M215.4 116.3l0.1-3.4M215.5 112.9l0-0.1M217.8 165.1l-2.3-0.8M215.6 161.1l-0.1 3.2M219.2 113l-3.7-0.2M215.7 109.5l-0.2 3.3M215.6 161.1l0.1 0M215.6 196.7l3 0.2M215.6 196.7l0.3 2.6M215.8 226.7l-0.2-3.1M215.6 223.6l1.5-0.8M215.7 109.5l0-0.1M215.7 161.1l3.6 0.1M215.7 161.1l0.1-3.4M219.3 109.6l-3.6-0.2M215.7 109.4l0.1-3.4M215.8 157.7l0-0.1M219.4 157.8l-3.6-0.2M215.8 157.6l0.1-3.3M215.9 106l-0.1 0M215.9 106l3.6 0.1M216 102.6l-0.1 3.4M215.9 154.3l0.1-0.1M215.9 199.3l2 1M216 154.2l3.6 0.2M216 154.2l0.1-3.4M216 181.4l0.8 0.9M216 181.4l1.4-2.3M216 102.6l0.1-0.1M219.7 102.7l-3.6-0.2M216.1 102.5l0.1-2.3M216.2 150.8l-0.1 0M216.1 168.8l0.9 2.5M217.1 168.2l-1 0.6M219.7 150.9l-3.5-0.1M216.3 147.1l-0.1 3.7M216.2 100.2l1.9-1.6M217 185.8l-0.8-0.2M216.8 182.3l-0.6 3.3M216.3 172.5l1.2 2.4M217 171.3l-0.7 1.2M217.4 146.6l-1.1 0.5M217.1 214.5l-0.8-1.4M217.1 211.8l-0.8 1.3M217.2 220.8l-0.9-0.9M216.3 219.9l1.1-2.9M216.5 227.1l1.8-1.3M216.8 209.1l0.3 2.7M217.5 208.6l-0.7 0.5M219.1 182.4l-2.3-0.1M216.9 216.2l0.5 0.8M217.1 214.5l-0.2 1.7M217 185.8l1.8 2.4M219.4 184.6l-2.4 1.2M217 171.3l2.2-0.1M220.4 211.7l-3.3 0.1M218.4 223.7l-1.3-0.9M217.1 222.8l0.1-2M219.8 214.2l-2.7 0.3M217.6 205.7l-0.5-0.5M217.1 205.2l0.3-2.7M217.1 168.2l2.5 0.7M217.8 165.1l-0.7 3.1M217.2 220.8l2.7-0.8M217.3 192l-0.1-2.5M217.2 189.5l1.6-1.1M217.3 192l0.4 0.4M217.4 146.6l2.5 0.6M217.4 146.6l0.1-3.6M217.4 179.1l0.9-0.2M217.4 202.5l0.3-0.3M218.8 217.4l-1.4-0.4M217.5 143l0 0M217.5 208.6l2.4 0.5M217.5 208.6l0.1-2.9M218.7 176.4l-1.2-1.5M217.5 174.9l0 0M220.1 173l-2.6 1.9M221 143.1l-3.5-0.1M217.6 139.8l-0.1 3.2M217.7 139.8l-0.1 0M217.6 205.7l3-0.2M217.7 139.8l3.5 0.1M217.8 136.6l-0.1 3.2M219.4 195.6l-1.7-2.2M217.7 193.4l0-1M219.1 78.2l-1.4-1.3M217.8 73.9l-0.1 3M220.5 203l-2.8-0.8M217.9 200.3l-0.2 1.9M217.7 192.4l2.9-0.9M217.8 136.6l0 0M218.8 164.8l-1 0.3M217.8 136.6l3.5 0.1M217.9 133.4l-0.1 3.2M217.9 73.8l-0.1 0.1M222.7 74l-4.8-0.2M218 69.7l-0.1 4.1M217.9 133.4l0.1-0.1M217.9 200.3l0.8-0.6M218 133.3l3.4 0.2M218 133.3l0.1-3.1M218 69.7l0.1-0.1M218.1 130.1l0 0.1M218.1 98.6l1.7 1.7M218.1 96.6l0 2M218.1 130.1l3.5 0.2M218.2 127l-0.1 3.1M218.1 69.6l4.8 0.3M218.1 69.6l0.2-4M218.1 96.6l0.1-0.1M218.2 96.5l4.4 0.2M218.3 92.8l-0.1 3.7M218.3 126.9l-0.1 0.1M218.3 65.5l0 0.1M218.3 126.9l3.4 0.2M218.4 123.5l-0.1 3.4M218.3 225.8l2.4 1.3M218.4 223.7l-0.1 2.1M220.1 179.9l-1.8-1M218.3 178.9l0.4-2.5M218.4 92.7l-0.1 0.1M223.1 65.7l-4.8-0.2M218.3 65.5l0.2-4.1M218.4 123.5l0.4-0.3M218.4 223.7l2.2-0.4M222.8 92.9l-4.4-0.2M218.4 92.7l0.1-3.7M218.6 61.4l-0.1 0M218.6 88.9l-0.1 0.1M223.2 61.6l-4.6-0.2M218.6 61.4l0.1-4.1M218.6 88.9l4.3 0.2M218.6 88.9l0.1-3.7M218.7 199.7l-0.1-2.8M218.6 196.9l0.8-0.7M218.7 199.7l2.4 0.2M221.1 176.2l-2.4 0.2M218.8 57.2l-0.1 0.1M218.7 85.2l0.1-0.1M218.8 123.2l3 0.6M218.8 123.2l0.1-3.3M223.1 85.3l-4.3-0.2M218.9 81.4l-0.1 3.7M223.4 57.5l-4.6-0.3M218.9 54.9l-0.1 2.3M220.6 190.1l-1.8-1.7M218.8 188.2l0 0.2M220.8 186.4l-2 1.8M218.8 164.8l1.9 2.9M218.8 164.8l0.4-0.5M219.9 220l-1.1-2.6M220.6 216.3l-1.8 1.1M218.9 119.8l0 0.1M219 81.3l-0.1 0.1M218.9 119.8l3.7 0.2M218.9 119.8l0.1-3.4M223.3 81.5l-4.3-0.2M219 81.3l0.1-3.1M219 116.4l0.1 0M222.6 77.2l-3.5 1M222.7 116.5l-3.6-0.1M219.1 116.4l0.1-3.4M219.4 184.6l-0.3-2.2M220.4 181l-1.3 1.4M219.2 112.9l0 0.1M219.2 164.3l3.7 0.2M219.2 164.3l0.1-3.1M220.2 172.4l-1-1.2M219.2 171.2l0.4-2.3M222.9 113.1l-3.7-0.2M219.2 112.9l0.1-3.3M219.3 161.2l0.1 0M219.3 109.6l0.1-0.1M219.4 161.2l3.6 0.1M219.4 157.8l0 3.4M221.4 197.2l-2-1M219.4 196.2l0-0.6M223 109.7l-3.6-0.2M219.4 109.5l0.1-3.4M221.9 193.3l-2.5 2.3M219.4 184.6l1.1 0.6M219.4 157.8l0.1-0.1M219.6 106.1l-0.1 0M223.1 157.9l-3.6-0.2M219.5 157.7l0.1-3.3M219.6 106.1l3.6 0.1M219.6 106.1l0.1-3.4M219.6 168.9l0.9-0.6M219.6 154.4l0-0.1M223.2 154.4l-3.6-0.1M219.7 150.9l-0.1 3.4M219.7 102.7l0 0M223.3 102.8l-3.6-0.1M219.7 102.7l0.1-2.4M219.8 150.9l-0.1 0M219.8 214.2l0.8 2.1M220.5 212.9l-0.7 1.3M219.8 100.3l2.8-1.3M223.4 151l-3.6-0.1M219.9 147.2l-0.1 3.7M219.9 220l0 0M219.9 209.1l0.5 2.5M219.9 209.1l1.4-1.2M221 146.7l-1.1 0.5M219.9 220l1.2 2M219.9 220l2.1-1.4M220.4 181l-0.3-1.1M220.1 179.9l1.4-1.8M220.1 173l1.7 2.3M220.1 173l0.1-0.6M220.2 228.7l0.5-1.6M220.2 172.4l2.4-1.1M220.4 211.7l0.1 1.2M220.4 211.7l0-0.1M220.4 211.6l3.4-0.9M220.4 181l0.9 0.4M220.5 185.2l0.3 1.2M222 183.8l-1.5 1.4M222.7 170.2l-2.2-1.9M220.7 167.7l-0.2 0.6M220.5 212.9l2.5 1.1M220.6 205.5l-0.1-2.5M220.5 203l1.7-1.5M220.6 191.5l0-1.4M222.4 188.7l-1.8 1.4M220.6 205.5l0.6 0.5M221.8 192.7l-1.2-1.2M220.6 223.3l0.5 0.7M221.1 222l-0.5 1.3M221.2 216.4l-0.6-0.1M220.7 227.1l0-0.1M220.7 167.7l2.1-1.3M220.7 227l0.4-3M220.7 227l3.4-0.2M220.8 186.4l1.4 0.6M223.5 147.3l-2.5-0.6M221 143.1l0 3.6M221.1 143.1l-0.1 0M222.1 200.9l-1-1M221.4 197.2l-0.3 2.7M222.8 221.5l-1.7 0.5M221.1 143.1l3.5 0.1M221.1 143.1l0.1-3.2M221.1 224l3.4 0.7M221.5 178.1l-0.4-1.9M221.8 175.3l-0.7 0.9M221.2 139.9l0 0M221.2 206l0.1 1.9M221.2 206l2.3-0.8M222 218.6l-0.8-2.2M223.2 215.2l-2 1.2M224.7 140l-3.5-0.1M221.2 139.9l0.1-3.2M221.3 207.9l2.3 1.3M221.3 136.7l0.1 0M221.3 181.4l0.7 2.4M221.3 181.4l2.8-0.6M224.9 136.8l-3.5-0.1M221.4 133.5l0 3.2M222.9 196.7l-1.5 0.5M221.5 133.4l-0.1 0.1M223.2 178.4l-1.7-0.3M225 133.6l-3.5-0.2M221.6 130.3l-0.1 3.1M221.6 130.2l0 0.1M221.6 130.2l3.5 0.2M221.6 130.2l0.1-3.1M221.8 127l-0.1 0.1M225.2 127.1l-3.4-0.1M221.8 123.8l0 3.2M221.8 175.3l0.7-0.1M221.9 193.3l-0.1-0.6M221.8 192.7l2.5-1.7M221.8 123.8l0.7-0.6M223 194.5l-1.1-1.2M223.3 219l-1.3-0.4M222 183.8l1.6 0.5M222.2 201.5l-0.1-0.6M224.3 198.7l-2.2 2.2M222.2 187l0.2 1.7M223.3 186.3l-1.1 0.7M223.9 202.7l-1.7-1.2M224 189.5l-1.6-0.8M222.5 175.2l2 1.2M224 172.5l-1.5 2.7M225.3 123.9l-2.8-0.7M222.5 123.2l0.1-3.2M224 172.5l-1.4-1.2M222.6 171.3l0.1-1.1M223.4 100.1l-0.8-1.1M222.6 99l0-2.3M222.7 119.9l-0.1 0.1M223.4 78.1l-0.8-0.9M222.7 74l-0.1 3.2M222.7 96.6l-0.1 0.1M222.7 170.2l1.9-1.6M226.4 120.1l-3.7-0.2M222.7 119.9l0-3.4M222.7 96.6l4.4 0.2M222.8 92.9l-0.1 3.7M222.8 73.9l-0.1 0.1M222.8 116.5l-0.1 0M227.6 74.1l-4.8-0.2M222.8 73.9l0.1-4M222.8 92.9l0-0.1M226.5 116.6l-3.7-0.1M222.9 113.1l-0.1 3.4M222.8 166.4l1.8 2.2M222.8 166.4l0.3-1.7M222.8 221.5l2 2M223.6 219.8l-0.8 1.7M227.2 93l-4.4-0.2M222.8 92.8l0.1-3.7M222.9 69.8l0 0.1M222.9 113.1l0-0.1M224.3 197.7l-1.4-1M222.9 196.7l0.1-2.2M222.9 164.5l0.2 0.2M222.9 164.5l0.1-3.2M222.9 113l3.7 0.2M222.9 113l0.1-3.3M222.9 89.1l0.1-0.1M227.7 70l-4.8-0.2M223.1 65.7l-0.2 4.1M225.8 194.1l-2.8 0.4M223.2 215.2l-0.2-1.2M224.7 211.7l-1.7 2.3M223 161.3l0.1 0M223 89l4.4 0.2M223 89l0.1-3.7M223 109.7l0.1-0.1M226.7 161.4l-3.6-0.1M223.1 161.3l0-3.4M223.1 65.7l0-0.1M223.1 109.6l3.6 0.1M223.1 109.6l0.1-3.4M223.2 85.2l-0.1 0.1M226.7 164.8l-3.6-0.1M223.1 157.9l0.1-0.1M227.8 65.8l-4.7-0.2M223.1 65.6l0.1-4M224.7 216.2l-1.5-1M223.2 106.2l0 0M227.5 85.4l-4.3-0.2M223.3 81.5l-0.1 3.7M226.8 157.9l-3.6-0.1M223.2 154.4l0 3.4M223.2 178.4l0.9 2.4M223.2 178.4l1.3-1.6M226.8 106.3l-3.6-0.1M223.3 102.8l-0.1 3.4M223.2 61.6l0.1-0.1M223.3 154.4l-0.1 0M223.3 81.4l0 0.1M223.3 102.8l0-0.1M223.3 219l0.3 0.8M224.9 217l-1.6 2M226.9 154.5l-3.6-0.1M223.4 151l-0.1 3.4M223.3 61.5l4.7 0.2M223.4 57.5l-0.1 4M227.6 81.6l-4.3-0.2M223.4 78.1l-0.1 3.3M225.6 187.2l-2.3-0.9M223.6 184.3l-0.3 2M223.3 102.7l3.6 0.2M223.4 100.1l-0.1 2.6M223.4 150.9l0 0.1M227.5 77.6l-4.1 0.5M223.4 100.1l3.6-0.5M223.5 57.4l-0.1 0.1M223.4 150.9l3.6 0.2M223.5 147.3l-0.1 3.6M223.5 57.4l4.6 0.2M223.5 55l0 2.4M224.6 146.7l-1.1 0.6M223.5 205.2l2.1 1.6M223.5 205.2l0.4-2.5M224.4 183.8l-0.8 0.5M223.8 210.7l-0.2-1.5M223.6 209.2l1.9-2.1M226.1 220.6l-2.5-0.8M224.7 211.7l-0.9-1M226.1 202.2l-2.2 0.5M225 172.6l-1-0.1M224.3 191l-0.3-1.5M225.6 187.9l-1.6 1.6M224.1 180.8l0.3 0.2M224.1 226.8l0.6 1.1M224.1 226.8l0.4-2.1M224.3 198.7l2 1.8M224.3 197.7l0 1M224.3 229.9l0.4-2M224.3 197.7l2.5-1.3M224.9 191.3l-0.6-0.3M224.4 183.8l0-2.8M224.6 180.9l-0.2 0.1M224.4 183.8l1.5 0.6M224.5 224.7l0.4-0.6M224.5 176.8l0-0.4M225.9 175.4l-1.4 1M226.2 178.7l-1.7-1.9M224.6 146.7l2.5 0.7M224.6 146.7l0-3.5M224.6 180.9l3.6 1.3M224.6 180.9l1.6-2.2M224.6 168.6l0.6 0M224.6 143.2l0.1 0M224.9 217l-0.2-0.8M224.7 216.2l2.2-2.3M224.7 211.7l0 0M224.7 211.7l2.7-1.7M228.2 143.3l-3.5-0.1M224.7 143.2l0-3.2M226.9 213.9l-2.2-2.2M224.7 227.9l2.3-0.3M224.8 140l-0.1 0M228.3 140.1l-3.5-0.1M224.8 140l0.1-3.2M224.8 223.5l0.1 0.6M226.1 220.6l-1.3 2.9M224.9 136.7l0 0.1M224.9 217l2 1M228.4 136.8l-3.5-0.1M225 133.6l-0.1 3.1M224.9 224.1l3 0.3M225.9 193.8l-1-2.5M227.1 190.5l-2.2 0.8M225 133.5l0 0.1M225 133.5l3.5 0.1M225.1 130.4l-0.1 3.1M225 172.6l0.9 2.8M225 172.6l1.2-0.9M225.1 130.4l0-0.1M225.1 130.3l3.5 0.1M225.2 127.1l-0.1 3.2M225.2 127.1l0 0M226.5 169.9l-1.3-1.3M227.1 165.3l-1.9 3.3M225.2 127.1l3.5 0.1M225.3 123.9l-0.1 3.2M225.3 123.9l1-0.7M225.5 207.1l2 2.4M225.5 207.1l0.1-0.3M225.6 206.8l1.1-0.9M227.2 189.4l-1.6-1.5M225.6 187.9l0-0.7M226.2 186.5l-0.6 0.7M225.8 194.1l1 2.2M225.9 193.8l-0.1 0.3M227.1 175.5l-1.2-0.1M225.9 184.4l0.3 2.1M225.9 184.4l2.2-1.3M228.7 192.2l-2.8 1.6M227.7 219.9l-1.6 0.7M226.6 202.6l-0.5-0.4M226.3 200.5l-0.2 1.7M228.4 186.5l-2.2 0M226.2 178.7l1.9-0.2M226.2 171.7l1.7 1M226.2 171.7l0.3-1.8M226.3 200.5l1.5-1.4M228.8 124l-2.5-0.8M226.4 120.1l-0.1 3.1M226.4 120l0 0.1M226.4 120l3.7 0.1M226.5 116.6l-0.1 3.4M229.1 169.1l-2.6 0.8M226.5 116.6l0 0M226.5 116.6l3.7 0.1M226.5 116.6l0.1-3.4M226.6 113.2l0-0.1M230.3 113.2l-3.7-0.1M226.6 113.1l0.1-3.4M228.8 202.6l-2.2 0M226.7 205.9l-0.1-3.3M227.1 165.3l-0.4-0.5M226.7 164.8l0-3.4M226.8 109.7l-0.1 0M226.8 161.3l-0.1 0.1M226.7 205.9l2.5 0.3M230.4 109.8l-3.6-0.1M226.8 106.3l0 3.4M230.4 161.4l-3.6-0.1M226.8 161.3l0-3.4M227.8 199.1l-1-2.7M226.8 196.3l0 0.1M226.9 157.9l-0.1 0M226.8 196.3l2.7-0.7M226.9 106.3l-0.1 0M230.5 158l-3.6-0.1M226.9 154.5l0 3.4M226.9 106.3l3.6 0.1M226.9 106.3l0-3.4M226.9 218l0.8 1.9M226.9 218l1.8-2.8M226.9 154.5l0.1 0M227.3 214l-0.4-0.1M226.9 102.9l0.1-0.1M230.6 154.6l-3.6-0.1M227 154.5l0-3.4M230.6 102.9l-3.6-0.1M227 102.8l0-3.2M227 151.1l0.1-0.1M228.3 229.1l-1.3-1.5M227 227.6l1.3-2M227 99.6l0.1-0.1M230.7 151.1l-3.6-0.1M227.1 151l0-3.6M230.6 100.3l-3.5-0.8M227.1 99.5l0-2.7M227.1 175.5l1.1 2.8M227.8 174.8l-0.7 0.7M227.1 190.5l1.6 1.7M227.1 190.5l0.1-1.1M227.7 165.5l-0.6-0.2M228.2 146.8l-1.1 0.6M227.1 96.8l0.1-0.1M231.6 96.9l-4.4-0.2M227.2 93l0 3.7M229.6 187.9l-2.4 1.5M227.2 93l0.1-0.1M227.3 92.9l4.4 0.1M227.3 92.9l0.1-3.7M227.3 214l1.4 1.2M227.3 214l1.5-2.3M227.4 89.1l0 0.1M228.8 211.7l-1.4-1.7M227.4 210l0.1-0.5M231.8 89.2l-4.4-0.1M227.5 85.4l-0.1 3.7M227.5 85.3l0 0.1M227.7 77.9l-0.2-0.3M227.5 77.6l0.1-3.5M227.5 209.5l1.5-0.9M227.5 231.1l0.8-2M227.5 85.3l4.4 0.2M227.5 85.3l0.1-3.7M227.6 74l0 0.1M227.6 81.6l0.1-0.1M232.4 74.2l-4.8-0.2M227.6 74l0.1-4M232 81.7l-4.3-0.2M227.7 77.9l0 3.6M229.4 168.4l-1.7-2.9M230.4 164.3l-2.7 1.2M227.8 69.9l-0.1 0.1M227.7 219.9l0.6 0.2M227.7 77.9l4.4 0.1M227.8 199.1l1.6 0.4M227.8 69.9l4.7 0.1M227.8 69.9l0-4.1M230.2 175.2l-2.4-0.4M227.8 174.8l0.1-2.1M227.8 65.8l0.1-0.1M227.9 172.7l1.6-0.5M227.9 65.7l4.7 0.2M228 61.7l-0.1 4M228 61.7l0-0.1M228 61.6l4.7 0.1M228 61.6l0.1-4M228.9 184.3l-0.8-1.2M228.2 182.2l-0.1 0.9M228.2 57.5l-0.1 0.1M228.1 178.5l0.6 1M228.1 178.5l0.1-0.2M228.2 182.2l0.2-0.3M230.7 147.4l-2.5-0.6M228.2 143.3l0 3.5M228.2 178.3l2-1.6M228.2 57.5l4.6 0.1M228.2 55.1l0 2.4M228.2 143.3l0.1-0.1M228.3 229.1l0.9-0.3M231.8 143.3l-3.5-0.1M228.3 143.2l0-3.1M228.3 140.1l0.1-0.1M231.9 140.1l-3.5-0.1M228.4 136.8l0 3.2M228.5 136.8l-0.1 0M228.4 181.9l3.3 0.1M228.4 181.9l0.3-2.4M229.6 187.9l-1.2-1.4M228.9 184.3l-0.5 2.2M232 136.9l-3.5-0.1M228.5 133.6l0 3.2M228.5 133.6l0 0M228.5 133.6l3.5 0.1M228.5 133.6l0.1-3.2M228.6 130.4l0 0M232.1 130.5l-3.5-0.1M228.7 127.2l-0.1 3.2M229.6 215.4l-0.9-0.2M228.7 127.2l0 0M231.3 179.5l-2.6 0M228.7 127.2l3.5 0M228.8 124l-0.1 3.2M228.7 192.2l0.4 0M228.8 211.7l1-0.1M228.8 124l1.3-0.7M229.8 204l-1-1.4M230.1 200.6l-1.3 2M228.9 184.3l2.8 0.4M231.1 209.8l-2.1-1.2M229 208.6l0.3-2.4M229.1 192.2l0.6 3M229.1 192.2l1.2-0.8M229.1 169.1l0.9 1.5M229.4 168.4l-0.3 0.7M229.2 206.2l0.1 0M229.8 204l-0.6 2.2M231.6 206.8l-2.3-0.6M232.4 167.1l-3 1.3M230.1 200.6l-0.7-1.1M229.4 199.5l1-2.2M231 174.1l-1.5-1.9M230 170.6l-0.5 1.6M230.4 197.3l-0.9-1.7M229.7 195.2l-0.2 0.4M230 188.1l-0.4-0.2M229.6 215.4l0.6 0.6M229.6 215.4l1.5-2.1M232.1 194.6l-2.4 0.6M232.5 203.7l-2.7 0.3M231.1 213.3l-1.3-1.7M229.8 211.6l1.3-1.8M230 188.1l0.3 0.3M230 188.1l2.2-2.9M232.2 170.8l-2.2-0.2M230.1 123.3l2.1 0.8M230.1 123.3l0-3.2M230.1 120.1l0.1 0M232.7 200.9l-2.6-0.3M233.9 120.1l-3.7 0M230.2 116.7l0 3.4M230.2 175.2l0 1.5M230.2 175.2l0.8-0.9M230.3 116.6l-0.1 0.1M230.2 176.7l2.2 1.3M230.3 188.4l3.7 0.6M230.3 188.4l0 3M230.3 191.4l1.4 0.4M230.3 116.6l3.6 0.1M230.3 113.2l0 3.4M230.3 113.2l0 0M230.3 113.2l3.7 0.1M230.3 113.2l0.1-3.4M232.5 197.6l-2.1-0.3M230.4 164.3l1.5 1M230.4 164.3l0-2.9M230.4 109.8l0-0.1M230.5 161.4l-0.1 0M230.4 109.7l3.7 0.1M230.4 109.7l0.1-3.3M234.1 161.5l-3.6-0.1M230.5 158l0 3.4M230.5 106.4l0-0.1M230.5 158l0-0.1M234.1 106.4l-3.6-0.1M230.5 106.3l0.1-3.4M230.5 157.9l3.7 0.1M230.5 157.9l0.1-3.3M230.6 102.9l0 0M230.6 154.6l0-0.1M234.2 103l-3.6-0.1M230.6 102.9l0-2.6M234.2 154.6l-3.6-0.1M230.6 154.5l0.1-3.4M231.6 99.1l-1 1.2M230.7 151.1l0 0M234.3 151.1l-3.6 0M230.7 151.1l0-3.7M231.8 146.8l-1.1 0.6M231 174.3l2.6 1.5M231 174.3l0-0.2M232.7 172.5l-1.7 1.6M231.1 213.3l1.8-0.2M231.7 209.6l-0.6 0.2M231.3 179.5l0.7 2.2M232.4 178l-1.1 1.5M231.7 209.6l-0.1-2.8M232.8 206l-1.2 0.8M234.3 100.6l-2.7-1.5M231.6 99.1l0-2.2M231.7 96.8l-0.1 0.1M231.7 96.8l3.6 0.1M231.7 93l0 3.8M231.7 182l0 2.7M232 181.7l-0.3 0.3M231.8 93l-0.1 0M232.2 185.2l-0.5-0.5M231.7 209.6l1.7 0.7M231.7 191.8l0.8 1.4M231.7 191.8l2.5-2M235.9 93.1l-4.1-0.1M231.8 89.2l0 3.8M231.8 146.8l2.6 0.7M231.8 146.8l0-3.5M231.8 89.2l0 0M231.8 143.3l0.1 0M231.8 89.2l3.5 0.1M231.8 89.2l0.1-3.7M231.9 165.3l0.5 1.8M234.1 163.5l-2.2 1.8M235.4 143.3l-3.5 0M231.9 140.1l0 3.2M231.9 140.1l0 0M231.9 85.5l0-0.1M235.5 140.1l-3.6 0M232 136.9l-0.1 3.2M231.9 85.4l3.3 0.1M232 81.7l-0.1 3.7M232 136.8l0 0.1M232 81.7l0-0.1M233.5 181.6l-1.5 0.1M235.5 136.9l-3.5-0.1M232 136.8l0-3.1M232 133.7l0.1-0.1M232 81.6l3.9 0.1M232 81.6l0.1-3.6M235.6 133.7l-3.5-0.1M232.1 130.5l0 3.1M232.4 77.6l-0.3 0.4M232.1 194.6l1.4 1.7M232.5 193.2l-0.4 1.4M232.1 130.5l0-0.1M235.6 130.5l-3.5-0.1M232.1 130.4l0.1-3.2M232.2 127.2l0 0M232.2 185.2l1.1 0.3M235.7 127.3l-3.5-0.1M232.2 124.1l0 3.1M232.2 170.8l0.5 1.7M233.7 169.1l-1.5 1.7M233.9 123.3l-1.7 0.8M233.3 167.7l-0.9-0.6M232.4 178l0.9-0.2M232.4 77.6l3.4 0.6M232.4 74.2l0 3.4M232.4 74.2l0.1-0.1M232.9 200.7l-0.4-3.1M232.5 197.6l1-1M232.5 74.1l2.8 0.1M232.5 70l0 4.1M232.5 203.7l0.3 2.3M233 203l-0.5 0.7M232.5 193.2l2.9 0M232.5 70l0.1 0M236.2 70l-3.6 0M232.6 65.9l0 4.1M232.7 65.8l-0.1 0.1M234.3 173.1l-1.6-0.6M236.5 65.9l-3.8-0.1M232.7 65.8l0-4.1M233 203l-0.3-2.1M232.7 200.9l0.2-0.2M232.8 61.7l-0.1 0M235.1 207l-2.3-1M236.5 61.8l-3.7-0.1M232.8 57.6l0 4.1M232.9 57.6l-0.1 0M233.4 213.6l-0.5-0.5M232.9 213.1l0.5-2.8M232.9 200.7l2.9-0.9M232.9 57.6l3 0M232.9 55.3l0 2.3M233 203l2.8 0.7M233.7 169.1l-0.4-1.4M236 165.9l-2.7 1.8M234.3 188.1l-1-2.6M233.3 185.5l0.8-0.6M233.3 177.8l0.9 0.5M233.3 177.8l0.3-2M233.4 210.3l0-0.1M236.2 211.7l-2.8-1.5M235.4 207.6l-2 2.6M235.8 198l-2.3-1.4M233.5 196.6l0-0.3M235.7 194.2l-2.2 2.1M234.5 182.7l-1-1.1M234.6 179.6l-1.1 2M233.6 175.8l1.1-1.2M233.7 169.1l2 1.1M235.7 124.1l-1.8-0.8M233.9 120.1l0 3.2M233.9 120.1l0 0M233.9 120.1l2.4 0M233.9 120.1l0-3.4M233.9 116.7l0.1 0M234 189l0.2 0.8M234 189l0.3-0.9M234 116.7l1.9 0M234 116.7l0-3.4M234 113.3l0.1-0.1M234.1 113.2l1.9 0.1M234.1 113.2l0-3.4M234.1 109.8l0 0M237 185.1l-2.9-0.2M234.5 182.7l-0.4 2.2M234.1 163.5l1.9 1.6M234.1 161.5l0 2M234.1 109.8l2.3 0M234.1 106.4l0 3.4M234.1 161.5l0.1-0.1M234.1 106.4l0.1 0M234.2 161.4l3.6 0.1M234.2 161.4l0-3.4M234.6 179.6l-0.4-1.3M234.2 178.3l2.8-1.2M234.2 158l0 0M234.2 189.8l0.8 0.7M236.1 106.4l-1.9 0M234.2 106.4l0-3.4M234.2 103l0-0.1M234.2 158l3.7 0M234.2 158l0-3.4M234.2 154.6l0.1-0.1M234.2 102.9l1.9 0M234.3 100.6l-0.1 2.3M236 99.1l-1.7 1.5M237.9 154.6l-3.6-0.1M234.3 151.1l0 3.4M234.3 151.1l0 0M236.9 187.2l-2.6 0.9M234.3 173.1l0.4 1.5M234.3 173.1l1.5-1.9M234.3 151.1l3.6 0M234.3 151.1l0.1-3.6M235.4 146.9l-1 0.6M237.3 182.2l-2.8 0.5M234.6 179.6l2.8 1.2M234.7 174.6l2.1 0.5M235.4 193.2l-0.4-2.7M238 189.9l-3 0.6M235.1 207l0.3 0.6M235.1 207l0.7-3.3M236 87.8l-0.8-2.3M236.5 84l-1.3 1.5M235.6 97.2l-0.3-0.3M235.9 93.1l-0.6 3.8M236.6 75.4l-1.3-1.2M236.8 72l-1.5 2.2M235.3 89.3l1.2 1.8M235.3 89.3l0.7-1.5M238 147.5l-2.6-0.6M235.4 143.3l0 3.6M235.4 143.3l0 0M235.8 193.6l-0.4-0.4M235.4 207.6l0.2 0M239 143.3l-3.6 0M235.4 143.3l0.1-3.2M235.5 140.1l0 0M239 140.1l-3.5 0M235.5 140.1l0-3.2M235.5 136.9l0 0M239.1 136.9l-3.6 0M235.6 133.7l-0.1 3.2M235.6 133.6l0 0.1M237.3 209.4l-1.7-1.8M238.7 206.1l-3.1 1.5M239.1 133.7l-3.5-0.1M235.6 133.6l0-3.1M235.6 130.4l0 0.1M235.6 97.2l0.4 1.9M238.8 96.5l-3.2 0.7M239.1 130.5l-3.5-0.1M235.7 127.3l-0.1 3.1M235.7 127.2l0 0.1M235.7 170.2l0.1 1M237.7 168.9l-2 1.3M239.1 127.3l-3.4-0.1M235.7 127.2l0-3.1M237.6 123.3l-1.9 0.8M237 196.6l-1.3-2.4M235.8 193.6l-0.1 0.6M235.8 199.8l0-1.8M235.8 198l1.2-1.4M235.8 193.6l2.1-0.5M235.9 81.7l-0.1-3.5M236.4 77.8l-0.6 0.4M238.1 173.1l-2.3-1.9M235.8 199.8l1 2.9M235.8 199.8l0 0M235.8 203.7l0.8-0.4M235.8 199.8l3-0.2M235.9 57.6l1.2 3.7M237.9 56.2l-2 1.4M235.9 81.7l0.7 0.6M235.9 93.1l0.3-0.3M237 117.5l-1.1-0.8M235.9 116.7l1.3-1.8M236.4 99.4l-0.4-0.3M236 113.3l1.2 1.6M236 113.3l1.1-1M236 87.8l2.3-0.3M236 165.9l0-0.8M237.8 163.4l-1.8 1.7M237.7 167.2l-1.7-1.3M237.4 104.5l-1.3-1.6M236.1 102.9l1.2-0.9M236.1 106.4l1 0.7M236.1 106.4l1.3-1.9M236.2 70l0.6 2M237.1 69.1l-0.9 0.9M236.2 92.8l2.1 1M236.2 92.8l0.3-1.7M237.6 120.9l-1.3-0.8M236.3 120.1l0.7-2.6M236.4 77.8l3.1 0.7M236.4 77.8l0.2-2.4M237.1 112.3l-0.7-2.5M236.4 109.8l0.1-0.1M239.2 99.4l-2.8 0M236.4 99.4l0.9 2.6M236.5 65.9l0.6 3.2M237 65.3l-0.5 0.6M236.5 91.1l2.9-1.2M236.5 61.8l0.5 3.5M236.5 61.8l0.6-0.5M239 85.5l-2.5-1.5M236.6 82.3l-0.1 1.7M236.5 109.7l2.4 0.1M237.1 107.1l-0.6 2.6M236.6 82.3l2.5-1M236.6 75.4l2.9-0.7M238.9 205.6l-2.3-2.3M236.6 203.3l0.2-0.6M236.8 72l2.9 1.1M236.8 202.7l2.6-0.9M236.8 175.1l0.2 2M237.8 174.3l-1 0.8M236.9 187.2l1.4 2.1M237.4 185.6l-0.5 1.6M237 117.5l1.3 0M237.3 209.4l-0.3 1.9M237 65.3l1.6 0M237 177.1l1.3 1.2M237.4 185.6l-0.4-0.5M237.3 182.2l-0.3 2.9M237.7 196.6l-0.7 0M237.1 107.1l1.4 0.1M238.5 61l-1.4 0.3M237.1 112.3l1.3 0M237.1 69.1l2.2 0.1M238.2 114.9l-1 0M239.9 209.1l-2.6 0.3M238.4 102l-1.1 0M237.5 181.9l-0.2 0.3M238.3 104.6l-0.9-0.1M237.4 185.6l2.4 0M237.5 181.9l-0.1-1.1M237.4 180.8l1.1-1.8M237.5 181.9l3.1 1M237.6 123.3l1.6 0.8M237.6 120.9l0 2.4M237.6 120.9l1.3-0.8M237.7 168.9l0-1.7M237.7 167.2l2.1-1.3M239.5 198.6l-1.8-2M239.4 194.9l-1.7 1.7M239.4 169.8l-1.7-0.9M237.8 174.3l2.8 1.7M237.8 174.3l0.3-1.2M237.8 163.4l0-1.9M237.8 161.5l0.1-0.1M237.8 163.4l1.9 1.5M237.9 161.4l0-3.4M237.9 158l0 0M240.9 161.4l-3 0M237.9 56.2l1.6 2.8M238.2 55.3l-0.3 0.9M237.9 154.6l0 3.4M237.9 154.6l0-0.1M241.8 158l-3.9 0M239.4 194.9l-1.5-1.8M238.7 191.7l-0.8 1.4M237.9 154.5l0-3.4M238 151.1l-0.1 0M241.5 154.6l-3.6-0.1M238 147.5l0 3.6M239 146.9l-1 0.6M241.1 151.1l-3.1 0M238.7 191.7l-0.7-1.8M238 189.9l0.3-0.6M239.9 171.8l-1.8 1.3M239.1 116.3l-0.9-1.4M238.2 114.9l0.9-1.3M239.6 89.3l-1.3-1.8M238.3 87.5l0.7-2M238.3 104.6l0.9 1.4M239.2 103.3l-0.9 1.3M239.7 188.7l-1.4 0.6M238.3 178.3l0.2 0.7M238.3 178.3l2.3-2.3M238.3 93.8l0.5 2.7M240.6 93l-2.3 0.8M238.9 120.1l-0.6-2.6M238.3 117.5l0.8-0.6M239.1 113l-0.7-0.7M238.4 112.3l0.6-2.5M239.2 102.7l-0.8-0.7M238.4 102l0.8-2.6M238.5 179l3.4 0.9M238.5 107.2l0.4 2.6M238.5 107.2l0.7-0.6M238.5 61l2.1 1.7M239.5 59l-1 2M240.2 66.7l-1.6-1.4M238.6 65.3l2-2.6M238.7 191.7l2.3 0.2M238.7 206.1l1.2 3M238.7 206.1l0.2-0.5M239.2 96.8l-0.4-0.3M238.8 199.6l0.6 2.2M239.5 198.6l-0.7 1M238.9 120.1l0.5 0M238.9 205.6l1.8-0.9M239 109.8l-0.1 0M239 146.9l0-3.6M239 143.3l0 0M239 146.9l2.1 0.4M240.1 85.2l-1.1 0.3M239.3 109.8l-0.3 0M239 143.3l0-3.2M239 140.1l0.1 0M242.6 143.3l-3.6 0M239.1 140.1l0-3.2M239.1 136.9l0 0M242.6 140.1l-3.5 0M239.1 116.3l0 0.6M239.1 116.3l1.8-1.4M239.1 116.9l1.4 0.6M239.1 81.3l1.7 1.1M239.1 81.3l0.4-2.8M239.1 133.7l0 3.2M239.1 133.7l0 0M242.6 136.9l-3.5 0M239.1 113.6l0-0.6M239.1 113l1.5-0.7M240.9 114.9l-1.8-1.3M239.1 130.5l0 3.2M239.1 130.4l0 0.1M242.6 133.7l-3.5 0M239.1 130.4l0-3.1M239.2 127.2l-0.1 0.1M239.1 130.4l3.5 0.1M239.2 106l0 0.6M239.2 106l1.8-1.5M239.2 106.6l1.3 0.5M239.2 124.1l0 3.1M241.3 123.3l-2.1 0.8M242.6 127.2l-3.4 0M239.2 103.3l0-0.6M240.8 102l-1.6 0.7M239.2 103.3l1.8 1.2M239.2 99.4l0 0M239.2 99.4l0 0M240.8 102l-1.6-2.6M239.2 99.4l0-2.6M239.2 96.8l2.8-0.7M242 99.4l-2.8 0M239.3 69.2l1.5 1.4M240.2 66.7l-0.9 2.5M240.6 112.3l-1.3-2.5M239.6 109.7l-0.3 0.1M241.7 120.9l-2.3-0.8M239.4 120.1l1.1-2.6M240.2 195l-0.8-0.1M239.4 201.8l0.6 0.3M239.4 169.8l0.5 2M241 168.6l-1.6 1.2M239.4 89.9l1.5 2.1M239.4 89.9l0.2-0.6M239.5 198.6l1.4-0.4M239.5 74.7l0.1 3.7M239.5 74.7l0.4-0.6M239.5 59l2.5-0.3M239.6 78.4l-0.1 0.1M242.4 78.3l-2.8 0.1M242 109.7l-2.4 0M239.6 109.7l0.9-2.6M241 88.5l-1.4 0.8M239.7 164.9l0.1 1M239.7 164.9l1.6-1.5M239.7 73.1l0.2 1M240.8 70.6l-1.1 2.5M239.7 188.7l1.8 1.2M239.7 188.7l0.7-1.8M240.8 166.6l-1-0.7M239.8 185.6l0.6 1.3M240.8 183.9l-1 1.7M241 172.2l-1.1-0.4M242.4 74.8l-2.5-0.7M240.6 209.5l-0.7-0.4M240.7 204.7l-0.7-2.6M242.6 200.6l-2.6 1.5M241.2 86l-1.1-0.8M240.1 85.2l0.7-2.8M240.2 195l1.3 1.9M240.2 195l1.5-2.1M241.6 66.4l-1.4 0.3M240.4 186.9l2.6 0.3M240.5 117.5l1.5 0M242 107.1l-1.5 0M240.6 176l0.6-0.1M240.6 93l1.8 2.7M240.9 92l-0.3 1M240.6 62.7l0.1 0M240.6 112.3l1.4 0M240.6 182.9l0.2 1M240.6 182.9l1.3-1.6M240.7 204.7l0 0M240.7 209.5l1.6-3M242.2 65l-1.5-2.3M242.8 61.2l-2.1 1.5M242.3 206.5l-1.6-1.8M243.2 203.2l-2.5 1.5M242 102l-1.2 0M240.8 70.6l2-0.4M243.5 185.1l-2.7-1.2M240.8 82.4l0.8-0.1M241 168.6l-0.2-2M240.8 166.6l2.1-0.6M240.9 198.2l1.7 2.4M240.9 198.2l0.6-1.3M242.9 91.4l-2 0.6M240.9 114.9l1.1 0M241.3 163.4l-0.4-2M242.1 160.2l-1.2 1.2M241 168.6l2.1 0.6M241 172.2l0.5 0.8M241 172.2l2.1-1.8M241 191.9l0.7 1M241.5 189.9l-0.5 2M243.3 89.2l-2.3-0.7M241 88.5l0.2-2.5M241 104.5l1 0.1M241.1 151.1l0.1 0.2M241.1 147.3l0 3.8M241.1 147.3l1.5-0.5M241.2 175.9l0 0.1M241.5 173l-0.3 2.9M242 179.7l-0.8-3.7M243.9 175.9l-2.7 0.1M242 58.7l-0.8-3.4M241.8 154l-0.6-2.7M244.1 150.3l-2.9 1M242.5 85.9l-1.3 0.1M241.3 163.4l2.3 1.2M241.3 123.3l1.3 1.1M241.3 123.3l0.4-2.4M241.5 173l2.5 0.4M241.5 189.9l1.2-0.4M242.1 157.5l-0.6-2.9M241.5 154.6l0.3-0.6M241.5 196.9l1.8-0.5M241.6 66.4l1.5 1.9M242.2 65l-0.6 1.4M241.6 82.3l2.1 1.4M243 80.1l-1.4 2.2M243.4 193.1l-1.7-0.2M241.7 120.9l0.3-0.2M242.1 160.2l-0.3-2.2M241.8 158l0.3-0.5M244.5 153.6l-2.7 0.4M241.9 181.3l0-1.4M241.9 179.9l0.1-0.2M241.9 181.3l2.6 1.2M242 58.7l0 0M242 120.7l0-3.2M242 117.5l0 0M242 114.9l0 2.6M242 114.9l0 0M242 120.7l2.9-0.1M242 114.9l0-2.6M242 112.3l0 0M242 117.5l2.9 0M242 112.3l0-2.6M242 109.7l0 0M244.9 114.9l-2.9 0M242 109.7l0-2.6M242 107.1l0 0M244.9 112.3l-2.9 0M242 104.6l0 2.5M242 104.5l0 0.1M244.9 109.7l-2.9 0M242 102l0 2.5M242 102l0.1-0.1M244 178.9l-2 0.8M244.9 107.1l-2.9 0M242 58.7l0.8 2.5M244.4 57.8l-2.4 0.9M242.1 101.9l-0.1-2.5M242 99.4l0.1-0.1M242 104.5l2.9 0M242.1 99.3l-0.1-3.2M242 96.1l0.4-0.4M244.9 101.9l-2.8 0M244.9 99.3l-2.8 0M244.1 161.1l-2-0.9M242.1 157.5l3.5-0.5M242.2 65l2-0.3M242.3 206.5l0.7 0.1M242.4 74.8l0.4 0.6M242.4 74.8l1.5-2.7M242.4 78.3l0.6 1.8M242.8 77.7l-0.4 0.6M242.5 95.7l-0.1 0M243.9 87l-1.4-1.1M242.5 85.9l1.2-2.2M244.9 97.3l-2.4-1.6M244.2 94.1l-1.7 1.6M242.6 143.3l0 3.5M242.6 143.3l0 0M242.6 143.3l0-3.2M242.6 140.1l0 0M242.6 200.6l0.5 0.1M242.6 140.1l0-3.2M242.6 136.9l0 0M242.6 146.8l1.5 0.7M242.6 133.7l0 3.2M242.6 133.6l0 0.1M242.6 143.3l3.6 0M242.6 133.6l0-3.1M242.6 130.5l0.1-0.1M242.6 140.1l3.6 0M242.6 127.2l0.1 3.2M242.6 127.2l0.1 0M242.6 136.9l3.6 0M242.7 127.2l-0.1-2.8M242.6 124.4l2.1-0.6M246.1 133.6l-3.5 0M246.1 130.4l-3.4 0M242.7 127.2l3.4 0M242.7 189.5l1.7 1.1M242.7 189.5l0.3-2.3M242.8 70.2l0.9 0.7M243.1 68.3l-0.3 1.9M242.8 61.2l1.1 0.4M242.8 77.7l3.2 0.1M242.8 75.4l0 2.3M242.8 75.4l2.7-0.3M244.2 92.4l-1.3-1M242.9 91.4l0.4-2.2M242.9 166l1.1 2.3M242.9 166l0.7-1.4M243 206.6l1.1 1.2M243 206.6l2.2-2M245.5 80.9l-2.5-0.8M243.5 186.8l-0.5 0.4M243.1 68.3l2.2-1.5M243.1 169.2l0 1.2M243.1 169.2l0.9-0.9M243.1 170.4l2.4 1.9M243.2 203.2l-0.1-2.5M243.1 200.7l0.4-0.1M245.2 204.5l-2-1.3M243.5 89.1l-0.2 0.1M243.3 196.4l1.3 2.3M243.8 195.8l-0.5 0.6M243.4 193.1l0.4 2.7M243.4 193.1l1.3-1M243.5 185.1l0 1.7M244.8 183.7l-1.3 1.4M246 89.5l-2.5-0.4M243.5 89.1l0.4-2.1M243.5 186.8l2.9 0.9M243.5 200.6l2.9 1.2M243.5 200.6l1.1-1.9M243.6 164.6l0.5-0.3M244.3 83.7l-0.6 0M243.9 72.1l-0.2-1.2M243.7 70.9l3.2-0.9M243.8 195.8l2.5 0M243.9 87l1.6-0.6M243.9 61.6l1.1 1.5M245.8 59.2l-1.9 2.4M244.3 176.2l-0.4-0.3M244 173.4l-0.1 2.5M243.9 72.1l2.1 1.7M246.3 179.9l-2.3-1M244 178.9l0.3-2.7M244 55.3l0.7 0.6M244 168.3l1.4 0M244 173.4l1.5-1.1M244.8 164.5l-0.7-0.2M244.1 164.3l0-3.2M245.2 151.4l-1.1-1.1M244.1 147.5l0 2.8M244.4 147.4l-0.3 0.1M246.2 160.4l-2.1 0.7M244.2 94.1l2 0.6M244.2 92.4l0 1.7M246.4 91.4l-2.2 1M244.2 64.7l1.1 2.1M244.2 64.7l0.8-1.6M245.7 176.1l-1.4 0.1M245.6 84.6l-1.3-0.9M245.5 80.9l-1.2 2.8M244.4 57.8l1.4 1.4M244.4 57.8l0.3-1.9M244.7 192.1l-0.3-1.5M244.4 190.6l2-2.6M244.4 147.4l2.9 1.2M246.2 145.2l-1.8 2.2M244.8 183.7l-0.3-1.2M246.4 180.1l-1.9 2.4M246.5 155.7l-2-2.1M245.2 151.4l-0.7 2.2M244.6 198.7l2.5-0.4M244.7 192.1l1.4 0.3M246.8 55.3l-2.1 0.6M246.1 124.9l-1.4-1.1M244.7 123.8l0.5-2.9M244.8 183.7l1.3 0.4M246.2 166.6l-1.4-2.1M247.2 163.3l-2.4 1.2M244.9 101.9l0-2.6M244.9 99.3l0 0M244.9 97.3l0 2M246.5 96.4l-1.6 0.9M244.9 101.9l0 2.6M244.9 101.9l0 0M244.9 107.1l0-2.6M244.9 104.5l0 0M244.9 109.7l0-2.6M244.9 107.1l0 0M244.9 109.7l0 2.6M244.9 109.7l0 0M244.9 112.3l0 2.6M244.9 112.3l0 0M247.7 99.3l-2.8 0M244.9 114.9l0 2.6M244.9 114.9l0 0M244.9 101.9l2.8 0M244.9 120.6l0-3.1M244.9 117.5l0 0M244.9 104.5l2.8 0M244.9 107.1l2.9 0M244.9 109.7l2.9 0M244.9 112.3l2.9 0M244.9 114.9l2.9 0M247.8 117.5l-2.9 0M244.9 120.6l0.3 0.3M245 63.1l3.4-0.2M245.2 151.4l2.1-0.3M245.2 204.5l0 0.1M245.2 204.5l1.6-2.1M245.2 204.6l1.1 1.3M246.6 120.9l-1.4 0M245.3 66.8l0.4 0.1M247 170.1l-1.6-1.8M246.2 166.6l-0.8 1.7M247.2 87.9l-1.7-1.5M245.5 86.4l0.1-1.8M245.9 80.8l-0.4 0.1M246.5 76.9l-1-1.8M245.5 75.1l0.5-1.3M245.5 172.3l0.7-0.1M246.2 160.4l-0.6-3.4M245.6 157l0.9-1.1M247.5 84l-1.9 0.6M245.7 66.9l1.4 2.9M248.6 65.2l-2.9 1.7M247 177.5l-1.3-1.4M247.4 173.5l-1.7 2.6M245.8 59.2l2.5 0.2M245.9 80.8l1.8 2M245.9 80.8l0.5-0.8M246 89.5l0.4 1.9M247.2 87.9l-1.2 1.6M246.4 80l-0.4-2.2M246 77.8l0.5-0.9M246 73.8l1.3-0.6M246.1 124.9l0 2.3M246.1 124.9l2.1-1.3M246.2 130.4l-0.1-3.2M246.1 127.2l0 0M246.2 133.6l-0.1-3.2M246.1 130.4l0.1 0M246.2 136.8l-0.1-3.2M246.1 133.6l0.1 0M246.1 184.1l0.9 2.3M246.1 184.1l1.7-1.1M249 127.2l-2.9 0M246.1 192.4l0.7 1.1M246.1 192.4l2.6-2.3M246.2 136.9l0 3.1M246.2 136.8l0 0.1M246.5 96.4l-0.3-1.7M246.2 94.7l1.6-1.4M249.5 130.4l-3.3 0M246.2 143.2l0-3.1M246.2 140l0 0.1M246.2 133.6l2.4 0M246.2 145.2l0-1.9M246.2 143.3l0-0.1M246.2 136.8l3 0M249.4 140l-3.2 0M248.7 146.6l-2.5-1.4M249.4 143.2l-3.2 0M247.2 160.9l-1-0.5M247.4 173.5l-1.2-1.3M246.2 172.2l0.8-2.1M247.9 166.3l-1.7 0.3M246.3 179.9l0.1 0.2M246.3 179.9l0.7-2.4M247.4 197l-1.1-1.2M246.8 193.5l-0.5 2.3M246.4 180.1l1.5 0.7M246.4 187.7l0 0.3M247 186.4l-0.6 1.3M249.2 79.7l-2.8 0.3M246.4 91.4l1.6 0.9M246.8 202.4l-0.4-0.6M246.4 201.8l0.8-3.3M248.6 189.9l-2.2-1.9M249.6 158.3l-3.1-2.4M246.5 155.9l0-0.2M246.5 96.4l1.2 0.6M246.5 76.9l2.8-0.5M247.7 154.6l-1.2 1.1M248.2 123.6l-1.6-2.7M246.6 120.9l1.3-1M246.8 202.4l0.5 0.1M249.9 194l-3.1-0.5M246.9 70l0.4 3.2M247.1 69.8l-0.2 0.2M249.2 176.8l-2.2 0.7M248.2 169.6l-1.2 0.5M249 185.8l-2 0.6M247.2 198.5l-0.1-0.2M247.1 198.3l0.3-1.3M249.5 69.3l-2.4 0.5M249.5 199.8l-2.3-1.3M247.2 160.9l0 2.4M249.3 160.2l-2.1 0.7M247.2 87.9l1.3-0.3M248.3 164.2l-1.1-0.9M248.2 151.7l-0.9-0.6M247.3 151.1l0-2.5M248.8 73.8l-1.5-0.6M247.3 202.5l1.2 1.7M249.5 201.4l-2.2 1.1M248.7 147.6l-1.4 1M249.3 196.3l-1.9 0.7M247.9 173.7l-0.5-0.2M247.5 84l2.1 2.2M247.7 82.8l-0.2 1.2M247.7 99.3l0-2.3M249.5 96l-1.8 1M247.7 82.8l1.8-0.8M247.7 99.3l0 2.6M247.7 99.3l0 0M247.8 104.5l-0.1-2.6M247.7 101.9l0 0M250.5 99.3l-2.8 0M247.7 104.5l0.1 2.6M247.8 104.5l-0.1 0M247.7 101.9l2.9 0M250.6 155.1l-2.9-0.5M247.7 154.6l0.5-2.9M249.4 184.1l-1.6-1.1M247.9 180.8l-0.1 2.2M247.8 109.7l0-2.6M247.8 107.1l0 0M247.8 104.5l2.8-0.1M247.8 109.7l0 2.6M247.8 109.7l0 0M250.6 107l-2.8 0.1M247.8 93.3l1.7 2.7M248 92.3l-0.2 1M247.8 114.9l0-2.6M247.8 112.3l0 0M250.7 109.6l-2.9 0.1M247.8 114.9l0.1 2.5M247.8 114.9l0 0M250.7 112.2l-2.9 0.1M247.9 119.9l-0.1-2.4M247.9 117.4l-0.1 0.1M250.7 114.8l-2.9 0.1M247.9 117.4l2.9 0M250 120.5l-2.1-0.6M249.2 176.8l-1.3-3.1M247.9 173.7l2.9-1M249.3 180.4l-1.4 0.4M248.8 167.1l-0.9-0.8M247.9 166.3l0.4-2.1M249.5 91.6l-1.5 0.7M249.7 170.2l-1.5-0.6M248.8 167.1l-0.6 2.5M248.2 151.7l2-0.4M249.4 123.8l-1.2-0.2M248.3 59.4l0.1 3.5M249.6 57.6l-1.3 1.8M248.3 164.2l1.7-0.3M248.4 62.9l0.8 0.9M249.9 90.5l-1.4-2.9M249.6 86.2l-1.1 1.4M249.6 134.6l-1-1M248.6 133.6l1.2-2.8M248.6 65.2l0.9 4.1M249.2 63.8l-0.6 1.4M248.7 190.1l-0.1-0.2M250.7 187.2l-2.1 2.7M248.7 190.1l2 1.6M251 149.3l-2.3-1.7M248.7 146.6l0 1M248.7 146.6l1.5-1.6M249.3 76.4l-0.5-2.6M251.9 70.9l-3.1 2.9M248.8 167.1l1.6-0.2M249 127.2l0.6 0.6M249.6 124l-0.6 3.2M249 185.8l1.7 1.4M249.4 184.1l-0.4 1.7M249.2 136.8l0.9 1M249.2 136.8l0.4-2.2M249.2 63.8l4.5 0.2M249.5 82l-0.3-2.3M249.2 79.7l0.7-0.8M249.7 177l-0.5-0.2M251.3 198l-2-1.7M249.3 196.3l0.6-2.3M249.3 180.4l1.7 0.7M249.7 177l-0.4 3.4M249.7 76.7l-0.4-0.3M250.5 161.9l-1.2-1.7M249.3 160.2l0.5-1.1M251.7 183l-2.3 1.1M249.4 140l0.3 0.6M250.1 137.8l-0.7 2.2M250.2 144.1l-0.8-0.9M249.4 143.2l0.3-2.6M249.6 124l-0.2-0.2M249.4 123.8l0.6-3.3M249.5 82l1.1 0.6M249.8 130.8l-0.3-0.4M249.5 130.4l0.1-2.6M249.5 91.6l2.2 1.9M249.9 90.5l-0.4 1.1M249.5 199.8l0 1.6M251.4 198.2l-1.9 1.6M249.5 96l1 0.1M251 202.3l-1.5-0.9M249.5 69.3l2.2 1M250.8 85.8l-1.2 0.4M251.8 127.3l-2.2 0.5M249.8 159.1l-0.2-0.8M250.8 155.6l-1.2 2.7M249.6 134.6l2.5-0.6M249.6 124l2.3 0.2M249.7 177l1-0.2M249.7 170.2l1.1 2.5M249.7 170.2l1.7-1.5M252.5 140.9l-2.8-0.3M249.9 78.9l-0.2-2.2M252.6 75.9l-2.9 0.8M249.9 130.8l-0.1 0M249.8 159.1l2.7-0.2M252.2 133.4l-2.3-2.6M249.9 130.8l3.6-1.3M252.3 80l-2.4-1.1M252 89.8l-2.1 0.7M249.9 194l0 0M249.9 194l2.8 1.4M249.9 194l0.8-2.3M251.5 165.3l-1.5-1.4M250 163.9l0.5-2M250.8 120.1l-0.8 0.4M250.1 137.8l0.7-0.1M251.9 146.5l-1.7-1.5M250.2 145l0-0.9M251.5 152.8l-1.3-1.5M250.2 151.3l0.8-2M250.2 144.1l2.2-0.8M251.4 168.7l-1-1.8M250.4 166.9l1.1-1.6M253.1 162.1l-2.6-0.2M250.6 99.2l-0.1-3.1M250.5 96.1l0.7-0.4M250.6 101.8l-0.1-2.5M250.5 99.3l0.1-0.1M250.9 85.4l-0.3-2.8M250.6 82.6l2.2-1.4M253.4 99.2l-2.8 0M250.6 101.9l0 2.5M250.6 101.9l0-0.1M250.6 101.8l2.8 0M250.8 155.6l-0.2-0.5M251.5 152.8l-0.9 2.3M250.6 104.4l0 2.6M250.6 104.4l0 0M250.6 104.4l2.9 0M250.7 109.6l-0.1-2.6M250.6 107l0 0M250.6 107l2.9 0M250.7 109.6l0 2.6M250.7 109.6l0 0M250.7 176.8l1.7 2M250.7 176.8l0.7-0.8M250.7 191.7l1.1-0.3M250.7 109.6l2.8 0M250.7 112.2l0 2.6M250.7 112.2l0 0M253.6 112.2l-2.9 0M250.8 117.4l-0.1-2.6M250.7 114.8l0 0M251.6 187.1l-0.9 0.1M253.6 114.8l-2.9 0M252.8 87.5l-2-1.7M250.8 85.8l0.1-0.4M250.8 117.4l0 2.7M250.8 117.4l0 0M250.8 117.4l2.9 0M250.8 137.7l1.8 1.2M250.8 137.7l2.2-2.2M252.5 120.7l-1.7-0.6M250.8 172.7l0.5 0.1M252.7 156.3l-1.9-0.7M250.9 85.4l2.8-1.7M251.4 149.1l-0.4 0.2M251 202.3l0.2 0.7M251 202.3l2.1-2.4M251 181.1l0.7 1M251 181.1l1.4-2.3M251.2 95.7l2.1 0.9M251.2 95.7l0.5-2.2M251.4 176l-0.1-3.2M251.3 172.8l0.9-0.3M251.4 198.2l-0.1-0.2M251.3 198l1.5-2.5M251.4 198.2l1.5 1.1M254.5 176.1l-3.1-0.1M251.4 168.7l1.4 0.3M251.4 149.1l1.6 0.2M251.4 149.1l0.5-2.6M251.5 165.3l0.9-0.1M253.2 152.9l-1.7-0.1M251.6 187.1l1.3 1.7M252.9 184.8l-1.3 2.3M251.7 183l1.2 1.8M251.7 182.1l0 0.9M251.7 93.5l2.2-1M251.7 182.1l2.5-0.9M251.9 70.9l-0.2-0.6M254.7 66.1l-3 4.2M251.8 191.4l0.9 0.5M251.8 191.4l1.1-2.6M251.8 127.3l1.6 1.5M252.3 124.6l-0.5 2.7M251.9 124.2l0.4 0.4M252.5 120.7l-0.6 3.5M251.9 146.5l1.5-0.4M253.2 72.4l-1.3-1.5M252 89.8l2.2 1.9M252 89.8l0.8-2.3M253 135.5l-0.9-1.5M252.2 133.4l-0.1 0.6M254.6 174.8l-2.4-2.3M252.3 172.4l-0.1 0.1M253.6 132.3l-1.4 1.1M254.5 124.6l-2.2 0M252.3 172.4l0.5-3.4M255.8 171.4l-3.5 1M252.8 81.2l-0.5-1.2M254.1 77.3l-1.8 2.7M253.9 144.1l-1.5-0.8M252.7 141.1l-0.3 2.2M252.4 178.8l1-0.1M252.4 165.2l1.1 0.6M252.4 165.2l0.7-3.1M252.5 140.9l0.2 0.2M252.6 138.9l-0.1 2M252.5 158.9l0.9 1.1M252.5 158.9l0.7-1.4M252.5 120.7l1.3-0.4M254.1 77.3l-1.5-1.4M252.6 75.9l0.6-3.5M252.6 138.9l1.2-0.6M254.7 141l-2 0.1M252.7 191.9l0.9 2M252.7 191.9l3.1-0.7M253.2 157.5l-0.5-1.2M253.9 154.7l-1.2 1.6M252.8 195.5l-0.1-0.1M252.7 195.4l0.9-1.5M253 81.4l-0.2-0.2M252.8 195.5l2.1 1.2M254 87.4l-1.2 0.1M253.5 168.7l-0.7 0.3M252.9 188.8l1.5-0.1M253.1 199.9l-0.2-0.6M252.9 199.3l2.1-1.9M252.9 184.8l1.6 0.1M253 135.5l1 0.5M253 81.4l0.7 2.3M256.4 80.6l-3.4 0.8M254.7 151.3l-1.7-2M254.6 147.4l-1.6 1.9M253 58.5l0.7 5.5M253.1 162.1l0.1-0.1M253.1 199.9l1 0.8M255.6 157.4l-2.4 0.1M256.2 72.8l-3-0.4M253.2 152.9l0.7 1.8M254.7 151.3l-1.5 1.6M255.7 162.8l-2.5-0.8M253.4 160l-0.2 2M253.4 99.2l-0.1-2.6M254.2 96.2l-0.9 0.4M253.4 178.7l1.1 1.1M254.6 176.3l-1.2 2.4M253.4 101.8l0-2.6M253.4 99.2l0 0M256.2 99.1l-2.8 0.1M253.4 160l2.5-0.5M253.4 101.8l0.1 2.6M253.4 101.8l0 0M254.6 147.4l-1.2-1.3M253.4 146.1l0.5-2M253.5 129.5l-0.1-0.7M253.4 128.8l2-2.3M253.4 101.8l2.9-0.1M253.8 168l-0.3-2.2M255.2 164.9l-1.7 0.9M253.5 107l0-2.6M253.5 104.4l0 0M255.8 171.2l-2.3-2.5M253.5 168.7l0.3-0.7M256.3 104.3l-2.8 0.1M253.8 129.8l-0.3-0.3M253.5 107l0.1 2.5M253.5 107l0 0M253.5 107l2.9-0.1M253.6 112.1l-0.1-2.5M253.6 109.5l-0.1 0.1M253.6 109.5l2.8 0M253.6 132.3l2.5 1M253.8 129.8l-0.2 2.5M253.6 112.2l0.1 2.5M253.6 112.1l0 0.1M253.6 112.1l2.9 0M253.6 193.9l2.6 0M253.6 114.8l0.1 2.5M253.7 114.7l-0.1 0.1M253.7 114.7l2.9 0M253.8 120.3l-0.1-2.9M253.7 117.3l0 0.1M253.7 117.3l2.9 0M253.7 83.7l1.7 0.7M254.6 64.7l-0.9-0.7M254.5 120.7l-0.7-0.4M253.8 129.8l2.5 0.3M253.8 138.3l1.2 0.8M253.8 138.3l0.2-2.3M253.8 168l3-0.2M253.9 92.5l1.1 1.8M254.2 91.7l-0.3 0.8M254.5 144l-0.6 0.1M253.9 154.7l2 0.5M254.3 135.9l-0.3 0.1M256.1 89.1l-2.1-1.7M254 87.4l1.5-2.8M254.1 200.7l0.2 1.3M254.1 200.7l2.3-0.7M254.4 77.3l-0.3 0M255.9 90.6l-1.7 1.1M256.2 97.2l-2-1M254.2 96.2l0.8-1.9M254.2 181.2l2 1.8M254.2 181.2l0.3-1.4M256.6 137.1l-2.3-1.2M256.2 133.5l-1.9 2.4M254.4 77.3l2 3.3M254.4 77.3l2-1.1M254.4 188.7l1.4 2.5M255.3 187.7l-0.9 1M254.5 144l1.8 0.9M255.4 141.6l-0.9 2.4M254.5 124.6l0.8 0.6M254.9 121.3l-0.4 3.3M254.5 184.9l0.8 2.8M255.7 184.1l-1.2 0.8M254.5 176.1l0.1 0.2M254.6 174.8l-0.1 1.3M254.9 121.3l-0.4-0.6M254.5 120.7l2.2-1.6M254.5 179.8l2.3-0.7M254.6 176.3l2.3 1M254.6 147.4l1.5 0M256.7 172.9l-2.1 1.9M254.7 66.1l-0.1-1.4M258.7 62.7l-4.1 2M258.4 69.6l-3.7-3.5M255.4 141.6l-0.7-0.6M255 139.1l-0.3 1.9M254.7 151.3l0.5 0M255 197.4l-0.1-0.7M254.9 196.7l1.4-2.2M254.9 121.3l2.9 1M257.8 94.5l-2.8-0.2M256.9 138.3l-1.9 0.8M256.9 198.4l-1.9-1M255.2 151.3l1 0.8M256.7 148.8l-1.5 2.5M255.2 164.9l2 1.5M255.2 164.9l0.5-2.1M255.3 125.2l0.1 1.3M257.6 124.3l-2.3 0.9M255.3 187.7l2.1 0.1M255.5 84.6l-0.1-0.2M256.9 81.3l-1.5 3.1M255.4 126.5l1.7 1.5M257.3 141.6l-1.9 0M257.7 85.6l-2.2-1M255.6 157.4l0.3 2.1M256.1 156.7l-0.5 0.7M255.7 184.1l2.3 2.1M255.7 184.1l0.5-1.1M255.7 162.8l1-0.6M256.1 191.4l-0.3-0.2M255.8 171.4l0.9 1.5M255.8 171.2l0 0.2M255.8 171.2l1.6-2M255.9 155.2l0.2 1.5M256.7 154.2l-0.8 1M255.9 159.5l0.6 0.5M257.9 92.1l-2-1.5M256.1 89.1l-0.2 1.5M256.1 89.1l2-1.4M256.2 133.5l-0.1-0.2M256.6 130.5l-0.5 2.8M256.6 147.8l-0.5-0.4M256.1 147.4l0.2-2.5M258.4 157.3l-2.3-0.6M256.1 191.4l0.6 1.2M258 189l-1.9 2.4M256.2 97.2l0 1.9M258 95.7l-1.8 1.5M256.7 154.2l-0.5-2.1M256.2 152.1l2.8-0.6M257.9 134.1l-1.7-0.6M256.4 76.2l-0.2-3.4M257.4 72.1l-1.2 0.7M256.3 101.7l-0.1-2.6M256.2 99.1l0 0M256.3 194.5l-0.1-0.6M256.7 192.6l-0.5 1.3M259 99l-2.8 0.1M256.2 183l0.3-0.2M256.3 104.3l0-2.6M256.3 101.7l0 0M259.1 101.6l-2.8 0.1M256.4 106.9l-0.1-2.6M256.3 104.3l0 0M257.3 144.3l-1 0.6M258.1 195.9l-1.8-1.4M259.2 104.2l-2.9 0.1M256.6 130.5l-0.3-0.4M256.3 130.1l0.8-2.1M256.4 106.9l0 2.6M256.4 106.9l0 0M256.4 106.9l2.8-0.1M258.6 77l-2.2-0.8M256.4 200l1.1 1.7M256.4 200l0.5-1.6M256.4 80.6l0.1 0M256.4 109.5l0.1 2.6M256.4 109.5l0 0M256.4 109.5l2.9-0.1M256.7 162.2l-0.2-2.2M258.3 159l-1.8 1M256.5 80.6l0.4 0.7M259.1 77.7l-2.6 2.9M256.5 112.1l0.1 2.6M256.5 112.1l0 0M256.5 112.1l2.9-0.1M259.3 183l-2.8-0.2M256.5 182.8l0.7-3.2M256.6 114.7l0 2.6M256.6 114.7l0 0M256.6 114.7l2.9-0.1M256.6 137.1l0.3 1.2M256.6 137.1l1.4-1.9M256.7 148.8l-0.1-1M256.6 147.8l2.2-0.8M256.7 119.1l-0.1-1.8M256.6 117.3l0 0M256.6 117.3l2.9-0.1M259.3 130.9l-2.7-0.4M256.7 172.9l0.5 0.2M258 120l-1.3-0.9M256.7 162.2l1.5 0.5M256.7 154.2l1.7 0.2M259.4 150.4l-2.7-1.6M259.1 192.5l-2.4 0.1M257.4 169.2l-0.6-1.4M256.8 167.8l0.4-1.4M257.2 179.6l-0.4-0.5M256.9 177.4l-0.1 1.7M256.9 138.3l0 0.1M256.9 198.4l0.1-0.1M259.8 82.6l-2.9-1.3M256.9 177.3l0 0.1M258.1 174.5l-1.2 2.8M256.9 138.4l0.6 3.1M259.9 138.2l-3 0.2M256.9 177.4l3.5 0M257 198.3l2.8 0.8M257 198.3l1.1-2.4M257.1 128l1.2-0.2M259.3 180.2l-2.1-0.6M258.1 174.5l-0.9-1.4M257.2 173.1l2.8-2.1M257.2 166.4l0.9-0.5M259.6 145.1l-2.3-0.8M257.3 141.6l0 2.7M257.3 141.6l0.2-0.1M257.4 187.8l0.6 1.2M258 186.2l-0.6 1.6M259.7 74l-2.3-1.9M258.4 69.6l-1 2.5M257.4 169.2l2.2 0.5M259.1 141.4l-1.6 0.1M257.6 124.3l1.3 2.5M257.6 124.3l0.2-0.3M258.1 87.7l-0.4-2.1M259.7 83.8l-2 1.8M257.8 124l0-1.7M257.8 122.3l0.4-0.6M258 95.7l-0.2-1.2M258.2 93.7l-0.4 0.8M261.5 124.2l-3.7-0.2M258 135.2l-0.1-1.1M257.9 134.1l0.6-0.4M258.2 93.7l-0.3-1.6M260.1 90.5l-2.2 1.6M259 96.6l-1-0.9M260.3 137.1l-2.3-1.9M258 186.2l1.8-0.8M259.7 189.4l-1.7-0.4M258 120l0.2 1.7M258 120l1.6-1.1M259.6 166.2l-1.5-0.3M258.1 165.9l0.1-3.2M258.1 87.7l1.2 0.4M259.5 195.7l-1.4 0.2M258.1 174.5l1.2 0.1M258.5 162.6l-0.3 0.1M262 93.8l-3.8-0.1M258.2 121.7l1.9-0.1M259.6 129.6l-1.3-1.8M258.3 127.8l0.6-1M260.1 160.3l-1.8-1.3M258.4 157.3l-0.1 1.7M261.6 68.8l-3.2 0.8M258.4 157.3l1.3-1M259.7 156.3l-1.3-1.9M258.4 154.4l1-1.8M261.2 164l-2.7-1.4M260.1 160.3l-1.6 2.3M261.8 134.3l-3.3-0.6M259.3 130.9l-0.8 2.8M259.1 77.7l-0.5-0.7M258.6 77l1.1-3M262.1 64.6l-3.4-1.9M258.7 62.7l0.3-3.5M260.3 148.7l-1.5-1.7M258.8 147l0.8-1.9M261.4 126.4l-2.5 0.4M259 96.6l0 2.4M261.8 96.1l-2.8 0.5M259.4 152.6l-0.4-1.1M259.4 150.4l-0.4 1.1M259.1 101.6l-0.1-2.6M259 99l0 0M261.9 98.9l-2.9 0.1M259.1 77.7l1.4 0.6M260.1 194.6l-1-2.1M259.1 192.5l1.5-1.9M259.1 141.4l1 1.3M260.4 139.5l-1.3 1.9M259.2 104.2l-0.1-2.6M259.1 101.6l0 0M259.1 101.6l2.8-0.1M259.3 106.8l-0.1-2.6M259.2 104.2l0 0M262 104.1l-2.8 0.1M259.3 109.4l-0.1-2.6M259.3 106.8l-0.1 0M262.1 106.7l-2.8 0.1M259.3 183l0.5 2.4M259.3 183l0.9-1.1M259.3 174.6l1.3 2.3M259.3 174.6l1.5-1.2M259.3 88.1l0.8 2.4M259.3 88.1l2.4-1.2M259.4 112l-0.1-2.6M259.3 109.4l0 0M259.4 130.9l-0.1 0M262.2 109.3l-2.9 0.1M260.2 181.9l-0.9-1.7M259.3 180.2l1.3-2.1M260.3 149.8l-0.9 0.6M259.4 112l0.1 2.6M259.4 112l0 0M259.4 112l2.9-0.1M261.3 153.3l-1.9-0.7M259.4 130.9l1.7 0.6M259.4 130.9l0.2-1.3M259.5 114.6l0.1 2.6M259.5 114.6l0 0M262.4 114.5l-2.9 0.1M260.8 197.8l-1.3-2.1M260.1 194.6l-0.6 1.1M259.5 117.2l0.1 1.7M259.5 117.2l0.1 0M259.6 117.2l2.9-0.1M259.6 145.1l0 0M259.6 118.9l1.4 1.1M259.6 145.1l2.2 0.6M260.1 142.7l-0.5 2.4M260.6 167.7l-1-1.5M259.6 166.2l1.6-2.2M259.6 169.7l0.5 0.9M259.6 169.7l1-2M262 127.9l-2.4 1.7M260.9 73.9l-1.2 0.1M260.6 190.6l-0.9-1.2M260.8 186.9l-1.1 2.5M259.7 156.3l0.5 0M261.9 86.2l-2.2-2.4M259.7 83.8l0.1-1.2M259.9 201.5l-0.1-2.4M259.8 199.1l1-1.3M259.8 82.6l0 0M259.8 185.4l0.4 0.2M259.8 82.6l0.8-4.2M263 82.2l-3.2 0.4M259.9 138.2l0.5 1.3M259.9 138.2l0.4-1.1M260.8 173.4l-0.8-2.4M260 171l0.1-0.4M262.7 194.2l-2.6 0.4M260.1 170.6l2.9 0.2M260.1 142.7l2.6-0.3M260.1 160.3l0.9-0.2M260.1 90.5l1.3 0.4M260.1 121.6l1.5 2.1M260.1 121.6l0.9-1.6M260.8 186.9l-0.6-1.3M262.7 184.5l-2.5 1.1M260.2 156.3l1.2 1.9M260.2 156.3l1.2-1M262.1 181.7l-1.9 0.2M260.3 149.8l2.2 0.9M260.3 149.8l0-1.1M261.7 136.1l-1.4 1M261.9 147.3l-1.6 1.4M260.4 139.5l2.9 0.8M260.4 177.4l0.2 0.7M260.6 176.9l-0.2 0.5M260.5 78.3l0.1 0.1M260.5 78.3l1.9-2.9M260.6 167.7l1.6-0.2M263 179.6l-2.4-1.5M260.6 78.4l2.8 1M260.6 176.9l1.7-1M261.3 190.7l-0.7-0.1M263 187.6l-2.2-0.7M260.8 173.4l1.4 0.5M261.6 197.8l-0.8 0M260.9 73.9l1.5 1.5M262.1 71.8l-1.2 2.1M261 120l1.6-0.2M262.5 161.2l-1.5-1.1M261.4 158.2l-0.4 1.9M261.1 131.5l0.7 2.8M261.1 131.5l2.2-1.1M261.2 164l0.8-0.2M263 192.1l-1.7-1.4M263.2 188l-1.9 2.7M261.4 155.3l-0.1-2M262.3 152.4l-1 0.9M262 127.9l-0.6-1.5M261.7 124.9l-0.3 1.5M263.7 155.6l-2.3-0.3M261.4 158.2l3-0.8M262.4 93.2l-1-2.3M263.1 89.1l-1.7 1.8M261.7 124.9l-0.2-0.7M261.5 124.2l0.1-0.5M261.6 68.8l1.4 1.4M262.1 64.6l-0.5 4.2M261.6 123.7l1.1-1M263.1 199.5l-1.5-1.7M263.4 196.1l-1.8 1.7M261.7 86.9l1.4 2.2M261.7 86.9l0.2-0.7M261.7 124.9l3.1 0.4M263.7 137.9l-2-1.8M261.7 136.1l0.4-1.5M261.9 98.9l-0.1-2.8M261.8 96.1l0.4-0.5M261.9 147.3l-0.1-1.6M263 144.8l-1.2 0.9M262.1 134.6l-0.3-0.3M261.9 98.9l0.1 2.6M261.9 98.9l0 0M264.7 98.8l-2.8 0.1M261.9 86.2l2.4-1.3M262 104.1l-0.1-2.6M261.9 101.5l0.1 0M263.9 148.5l-2-1.2M264.8 101.4l-2.8 0.1M263.1 128.6l-1.1-0.7M262 104.1l0.1 2.6M262 104.1l0 0M263.4 165.8l-1.4-2M262 163.8l0.7-1.6M262 104.1l2.9-0.1M262.2 95.6l-0.2-1.8M262.4 93.2l-0.4 0.6M262.1 64.6l4-1.8M262.7 184.5l-0.6-2.8M263.2 180.8l-1.1 0.9M264.2 133.9l-2.1 0.7M262.2 109.3l-0.1-2.6M262.1 106.7l0 0M265 106.6l-2.9 0.1M264.6 96.5l-2.4-0.9M262.2 109.3l0.1 2.6M262.2 109.3l0 0M262.2 167.5l1.3 2M262.2 167.5l1.2-1.7M262.2 173.9l0.1 2M262.2 173.9l1.5-1.1M262.2 109.3l2.9-0.1M263.1 199.5l-0.9 2.5M262.3 111.9l0.1 2.6M262.3 111.9l0 0M265.2 111.8l-2.9 0.1M262.3 175.9l1.3 0.6M264.6 153.8l-2.3-1.4M262.5 150.7l-0.2 1.7M263 70.2l-0.6 1.1M264.8 92.7l-2.4 0.5M262.5 117.1l-0.1-2.6M262.4 114.5l0 0M265.3 114.4l-2.9 0.1M262.4 75.4l1.5 0M262.5 150.7l1.5-0.9M262.5 161.2l0.2 1M262.5 161.2l1.9-1.7M262.5 117.1l0.1 2.7M262.5 117.1l0 0M262.5 117.1l2.9-0.1M262.8 120l-0.2-0.2M263.4 196.1l-0.7-1.9M262.7 194.2l0.6-1.6M263.7 185l-1-0.5M262.7 142.4l0.3 2.4M263.3 141.4l-0.6 1M262.7 122.7l2.3 0.1M262.7 122.7l0.1-2.7M265.6 162.7l-2.9-0.5M262.8 120l2.6 0M263.2 188l-0.2-0.4M263.7 185l-0.7 2.6M264.8 145.3l-1.8-0.5M263.2 180.8l-0.2-1.2M263 179.6l1-1.7M263 192.1l0.3 0.5M265.3 189.4l-2.3 2.7M263 82.2l1.3 2.7M263 82.2l0.9-1.7M263.5 70.3l-0.5-0.1M263 170.8l0.8 1.3M263 170.8l0.5-1.3M264.9 199.1l-1.8 0.4M263.1 128.6l0.2 1.8M265.5 127.3l-2.4 1.3M263.1 89.1l1.2 0.1M264.8 188.5l-1.6-0.5M263.2 180.8l1.7 0.6M263.3 192.6l2.6 0.5M263.3 141.4l0-1.1M263.3 140.3l0.2-0.1M263.3 141.4l2.7 1.5M264.4 131.4l-1.1-1M263.9 80.5l-0.5-1.1M265 76.5l-1.6 2.9M264 196.2l-0.6-0.1M263.4 165.8l0.8 0M263.5 140.2l0.2-2.3M266.6 139.8l-3.1 0.4M265.8 168.6l-2.3 0.9M264 177.9l-0.4-1.4M263.6 176.5l2-1.5M264.2 184.9l-0.5 0.1M263.7 137.9l1.9-1.1M263.7 155.6l0.7 1.8M263.7 155.6l0.9-1.8M265.5 174.5l-1.8-1.7M263.7 172.8l0.1-0.7M267.1 170.9l-3.3 1.2M263.9 148.5l0.2 0.7M263.9 148.5l1.2-2.7M266.9 80.8l-3-0.3M263.9 75.4l1.1 1.1M264.8 71.7l-0.9 3.7M265.8 151.7l-1.8-1.9M264 149.8l0.1-0.6M266.3 178l-2.3-0.1M264 196.2l1.2 2.5M266.1 195.5l-2.1 0.7M265.4 201.2l-1.4 1.3M264.1 149.2l3.3-0.7M265.8 168.4l-1.6-2.6M264.2 165.8l2.2-1.5M265.6 134.7l-1.4-0.8M264.2 133.9l0.2-2.5M264.2 184.9l2 1.4M264.2 184.9l1.4-2.3M265.2 91.8l-0.9-2.6M264.3 89.2l1.9-1.6M264.7 85l-0.4-0.1M264.4 157.4l0.2 0.2M264.4 159.5l1.9 1.4M264.6 157.6l-0.2 1.9M264.4 131.4l2.3-0.8M264.6 96.5l0.1 2.3M266.7 95.1l-2.1 1.4M265.4 153.5l-0.8 0.3M266.9 157.3l-2.3 0.3M264.7 85l1.5 2.5M264.7 85l2.8-2.1M264.7 98.8l0.1 2.6M264.7 98.8l0 0M268.7 98.6l-4 0.2M266.7 95.1l-1.9-2.4M265.2 91.8l-0.4 0.9M264.8 188.5l0.5 0.9M266.2 186.3l-1.4 2.2M264.9 104l-0.1-2.6M264.8 101.4l0 0M268 101.3l-3.2 0.1M265.5 127.3l-0.7-2M264.8 125.3l0.9-1.6M264.8 145.3l0.3 0.5M266 142.9l-1.2 2.4M264.9 104l0.1 2.6M264.9 104l0 0M268.3 103.8l-3.4 0.2M264.9 199.1l0.5 2.1M264.9 199.1l0.3-0.4M265.6 182.6l-0.7-1.2M264.9 181.4l1.5-1.3M266.9 76.5l-1.9 0M265 106.6l0.1 2.6M265 106.6l0 0M265.7 123.7l-0.7-0.9M265 122.8l0.4-2.8M267.5 106.5l-2.5 0.1M265.2 111.8l-0.1-2.6M265.1 109.2l0 0M267.7 109.1l-2.6 0.1M265.1 145.8l1 0.3M265.2 91.8l3-1M265.3 114.4l-0.1-2.6M265.2 111.8l0 0M265.2 198.7l2.2-0.5M265.2 111.8l2.3-0.1M265.3 189.4l1.5 0.7M265.3 114.4l0.1 2.6M265.3 114.4l0 0M268.2 114.2l-2.9 0.2M267.7 73l-2.3-1.5M265.5 119.9l-0.1-2.9M265.4 117l0 0M268.4 116.8l-3 0.2M265.4 201.2l1.8 0.2M265.4 153.5l1.3 0.8M265.4 153.5l0.4-1.8M265.5 119.9l-0.1 0.1M265.5 127.3l0.5 0.2M265.6 175l-0.1-0.5M267.8 172.3l-2.3 2.2M265.5 119.9l2.1 0.3M265.6 162.7l0.8 1.6M266.3 160.9l-0.7 1.8M265.6 134.7l0 2.1M265.6 134.7l0.9-0.3M266.3 175.6l-0.7-0.6M265.6 182.6l1.7 0.7M265.6 136.8l1.1 0.9M266.8 123.7l-1.1 0M267.4 151l-1.6 0.7M265.8 168.6l1.3 1.9M265.8 168.6l0-0.2M265.8 168.4l1.6-1.4M266.1 195.5l-0.2-2.4M265.9 193.1l0.7-0.5M266 142.9l0.8-0.2M266 127.5l0.7 3.1M266 127.5l2.3-0.8M266.1 146.1l1.3 2.4M268.8 144.6l-2.7 1.5M267 196l-0.9-0.5M266.1 62.8l2.9 2.9M266.2 61.5l-0.1 1.3M266.2 87.6l2 3.2M266.2 87.5l0 0.1M269.5 86.2l-3.3 1.3M266.2 186.3l0.9-0.1M266.5 177.9l-0.2-2.3M266.3 175.6l2-0.2M266.3 160.9l0.7-0.2M266.3 178l0.1 2.1M266.3 178l0.2-0.1M266.4 180.1l1.9 0.3M266.4 164.3l0.5 0.1M266.5 177.9l2.6-0.1M268.8 135.5l-2.3-1.1M266.5 134.4l1.4-2.2M269 193.4l-2.4-0.8M266.8 190.1l-0.2 2.5M266.6 139.8l0.7 0.7M266.6 139.8l0.1-2.1M266.7 130.6l0.9 0.4M266.7 154.3l0.4 2.8M266.7 154.3l2.1-0.7M266.7 137.7l1.5-0.4M266.7 95.1l1 0.2M266.8 142.7l2.1 1.5M267.3 140.5l-0.5 2.2M268.4 125.5l-1.6-1.8M266.8 123.7l1.4-2M266.8 190.1l0.8-0.3M266.9 76.5l0.9 0.9M267.7 73l-0.8 3.5M267.5 82.9l-0.6-2.1M268.2 79l-1.3 1.8M267.4 167l-0.5-2.6M268.4 164l-1.5 0.4M266.9 157.3l0.8 1.5M267.1 157.1l-0.2 0.2M267 196l0.4 2.2M269.3 194.6l-2.3 1.4M268.7 161.8l-1.7-1.1M267.7 158.8l-0.7 1.9M267.1 186.2l1.3 1.9M267.8 185l-0.7 1.2M267.1 157.1l1.9-0.7M267.8 172.3l-0.7-1.4M267.1 170.5l0 0.4M269.7 168.9l-2.6 1.6M267.2 202.9l0-1.5M268.4 200.5l-1.2 0.9M267.3 140.5l1.6-0.2M267.8 185l-0.5-1.7M267.3 183.3l1.5-1.3M269.4 167.6l-2-0.6M267.5 198.3l-0.1-0.1M268.9 152.1l-1.5-1.1M267.4 151l0.5-2.3M267.4 148.5l0.5 0.2M267.5 198.3l0.9 2.2M267.5 198.3l2.6-1.1M269.2 83.9l-1.7-1M268 108.6l-0.5-2.1M268.5 105.2l-1 1.3M268.3 114l-0.8-2.3M268.2 110.7l-0.7 1M267.6 131l0.3 1.2M267.6 131l1.3-0.9M267.6 189.8l2.6 1.7M268.4 188.1l-0.8 1.7M268.2 121.7l-0.6-1.5M268.9 118.7l-1.3 1.5M270.1 159.3l-2.4-0.5M269.6 72.7l-1.9 0.3M267.7 109.1l0.5 1.6M268 108.6l-0.3 0.5M267.7 95.3l1 3.3M267.7 95.3l0.4-0.4M267.8 77.4l0.4 1.6M270.5 75.8l-2.7 1.6M270.2 185.1l-2.4-0.1M268.7 172.8l-0.9-0.5M270.3 133.6l-2.4-1.4M268.2 148.6l-0.3 0.1M270.4 108.2l-2.4 0.4M268.4 103.7l-0.4-2.4M269.1 99.1l-1.1 2.2M268.4 90.8l-0.3 4.1M268.1 94.9l2.9-0.6M268.2 137.3l1.2 1.1M268.2 137.3l0.6-1.8M268.4 116.8l-0.2-2.6M268.2 114.2l0.1-0.2M270.3 79.6l-2.1-0.6M269.9 149.1l-1.7-0.5M269.4 145.6l-1.2 3M269.7 122.3l-1.5-0.6M268.2 90.8l0.2 0M268.2 110.7l2.6 0.4M269.3 176.7l-1-1.3M268.3 175.4l0.6-2.3M268.3 126.7l0.2 0.3M268.4 125.5l-0.1 1.2M268.3 180.4l0.5 1.6M268.3 180.4l1.2-1.7M268.5 105.2l-0.2-1.4M268.4 103.7l-0.1 0.1M268.3 114l3-0.6M268.8 117.2l-0.4-0.4M268.4 164l0.8 0.4M268.7 161.8l-0.3 2.2M268.4 200.5l0.7 0.2M268.4 103.7l2.8-0.5M268.4 90.8l1.3-0.3M269.9 187.9l-1.5 0.2M269.8 124.5l-1.4 1M271.3 106.9l-2.8-1.7M268.5 127l2.4 0.4M268.9 130.1l-0.4-3.1M268.7 172.8l0.2 0.3M268.7 172.8l1.9-1.6M270.3 160.9l-1.6 0.9M269.1 99.1l-0.4-0.5M269.6 135.1l-0.8 0.4M268.9 118.7l-0.1-1.5M271.8 116l-3 1.2M268.8 153.6l0.9 0.8M268.9 152.1l-0.1 1.5M270.7 182.4l-1.9-0.4M269.4 145.6l-0.6-1M268.9 144.2l-0.1 0.4M268.9 144.2l1.8-1.8M271.6 119.8l-2.7-1.1M268.9 130.1l1.8 0.2M268.9 140.3l1.6 1.2M268.9 140.3l0.5-1.9M268.9 173.1l2.1 1.1M268.9 152.1l1.6-0.9M269 156.4l2 1.4M269 156.4l0.7-2M269.3 194.6l-0.3-1.2M269 193.4l1.2-1.9M269.5 178.7l-0.4-0.9M269.1 177.8l0.2-1.1M269.1 200.7l1 2.9M269.1 200.7l1.9-0.8M269.1 99.1l2.2 0M270 166.6l-0.8-2.2M272.1 163.4l-2.9 1M269.2 83.9l0.3 2.3M269.2 83.9l2.4-1.7M269.3 194.6l0.8 0.6M271 175.8l-1.7 0.9M269.4 138.4l2.3-0.7M271.4 146.4l-2-0.8M269.7 168.9l-0.3-1.3M269.4 167.6l0.6-1M269.5 178.7l2.1 0.7M269.5 86.2l0.4 0.4M271.7 137.5l-2.1-2.4M270.3 133.6l-0.7 1.5M269.6 72.7l0.9 3.1M269.8 72.5l-0.2 0.2M269.7 168.9l0.5 0.3M271.1 154.4l-1.4 0M269.7 90.5l1.1 0.4M269.9 86.6l-0.2 3.9M269.7 122.3l0.1 2.2M269.7 122.3l2.3-0.9M269.8 124.5l1.6 0.4M269.9 149.1l0.6 2.1M269.9 149.1l2.2-1.3M269.9 187.9l1.3 2.1M270.5 187l-0.6 0.9M271.4 86.7l-1.5-0.1M270 166.6l2.5-0.5M270.1 159.3l0.2 1.6M271 157.8l-0.9 1.5M270.1 197.2l1.2 1.2M270.1 197.2l0-2M270.1 195.2l2.7-0.5M270.5 187l-0.3-1.9M271.1 184l-0.9 1.1M270.2 169.2l0.4 2M270.2 169.2l3.3-0.6M270.7 191.3l-0.5 0.2M270.8 133.4l-0.5 0.2M270.3 79.6l1.3 2.6M272.1 78.1l-1.8 1.5M272.2 161.9l-1.9-1M270.4 108.2l0.4 2.9M270.4 108.2l0.9-1.3M270.7 142.4l-0.2-0.9M270.5 141.5l1.7-2.4M270.5 151.2l1.3 0.4M271.6 76.1l-1.1-0.3M273.1 187.2l-2.6-0.2M270.6 203.9l2.3-2.3M272.2 171.9l-1.6-0.7M270.7 182.4l0.4 1.6M271.7 181.1l-1 1.3M270.7 130.3l0.6 1.5M270.7 130.3l0.6-0.9M270.7 142.4l1.5 0.6M272.7 192.6l-2-1.3M271.2 190l-0.5 1.3M270.8 133.4l2.8 1.6M270.8 133.4l0.5-1.6M270.8 111.1l0.3 0.3M270.8 90.9l0.5 0.9M272.9 88.9l-2.1 2M270.9 127.4l0.4 2M271.8 126.5l-0.9 0.9M271 199.9l1.9 1.7M271.3 198.4l-0.3 1.5M271 94.3l1.3 1.1M271 94.3l0.3-2.5M271 157.8l0.6-0.2M271 175.8l0-1.6M272.6 173l-1.6 1.2M272.3 176.5l-1.3-0.7M271.8 157l-0.7-2.6M271.7 153.9l-0.6 0.5M272.3 184.4l-1.2-0.4M271.3 113.4l-0.2-2M273.5 109.9l-2.4 1.5M273 189.1l-1.8 0.9M272.1 105.3l-0.9-2.1M272.6 101l-1.4 2.2M272.6 100.6l-1.3-1.5M271.3 99.1l1.2-2.3M271.4 113.5l-0.1-0.1M273.6 197.4l-2.3 1M271.6 106.8l-0.3 0.1M271.3 91.8l2.5 0.3M271.3 131.8l2.5-0.2M271.3 129.4l2.1-0.3M271.9 115.8l-0.5-2.3M274.4 113l-3 0.5M271.4 86.7l1.5 2.2M271.4 86.7l1.7-1.2M271.4 146.4l0.7 1.4M271.4 146.4l1.5-2.4M271.4 124.9l0.4 1.6M272.7 123.6l-1.3 1.3M273.3 159.1l-1.7-1.5M271.8 157l-0.2 0.6M272 121.4l-0.4-1.6M271.6 119.8l0.8-1.6M271.6 106.8l2.2 1.4M271.6 106.8l0.5-1.5M271.6 76.1l0.5 2M271.6 76.1l1.6-1.2M271.7 181.1l-0.1-1.7M271.6 179.4l0.2-0.1M271.6 82.2l0.8 0.2M271.7 137.7l0.5 1.4M271.7 137.5l0 0.2M271.7 181.1l2.4 0.9M271.7 153.9l2.9 0.7M271.7 153.9l0.1-2.3M273.5 135.9l-1.8 1.6M273.3 126.9l-1.5-0.4M271.8 179.3l0.5-2.8M271.8 179.3l2.5-0.2M271.8 116l0.6 2.2M271.9 115.8l-0.1 0.2M271.8 151.6l0.4-0.2M274.8 155.6l-3 1.4M275 115.7l-3.1 0.1M272 121.4l0.5 0.3M272.1 163.4l0.7 1M272.2 161.9l-0.1 1.5M274.1 78.7l-2-0.6M272.1 147.8l0.2 0.1M274.6 104.2l-2.5 1.1M272.4 161.7l-0.2 0.2M273.9 151.8l-1.7-0.4M272.9 148.9l-0.7 2.5M272.6 173l-0.4-1.1M273.6 169.2l-1.4 2.7M272.9 144l-0.7-1M272.2 143l2-2.2M272.2 139.1l2 0.9M272.3 184.4l1.2 2.4M272.3 184.4l2.2-1.3M272.5 96.8l-0.2-1.4M272.3 95.4l2.3-1.8M273.7 176.1l-1.4 0.4M272.9 148.9l-0.6-1M272.3 147.9l2.4-1.5M272.4 82.4l1 1.1M274.5 79.9l-2.1 2.5M273.3 159.1l-0.9 2.6M275.3 161.6l-2.9 0.1M275 118.4l-2.6-0.2M273.6 168.1l-1.1-2M272.8 164.4l-0.3 1.7M272.5 96.8l3.3 0.2M272.7 123.6l-0.2-1.9M274.7 121.2l-2.2 0.5M274.6 104.2l-2-3.2M272.6 100.6l0 0.4M272.6 100.6l4.6-0.8M272.6 173l1.7 0.6M272.7 192.6l0.1 2.1M272.7 192.6l2.2-1.6M272.7 123.6l1.8 1.4M272.8 63.4l0.1-2.1M272.8 164.4l2.9-0.2M273.8 195.5l-1-0.8M275.8 149.8l-2.9-0.9M272.9 144l0.6 0.2M272.9 88.9l0.6 0.1M273 201.6l-0.1 0M273 71.7l0.5 1M274.8 190.6l-1.8-1.5M273 189.1l0.1-1.9M274.1 202.4l-1.1-0.8M274.7 198.7l-1.7 2.9M273.1 85.5l2.4 1.6M273.4 83.5l-0.3 2M273.5 186.8l-0.4 0.4M273.2 74.9l2.2 1.7M273.2 74.9l0.3-2.2M273.8 128.4l-0.5-1.5M274.5 125.5l-1.2 1.4M275.1 158.7l-1.8 0.4M273.4 83.5l3.5 0.1M273.4 129.1l0.7 1.9M273.8 128.4l-0.4 0.7M273.5 168.6l0.1 0.6M273.5 168.6l0.1-0.5M273.5 72.7l3.5 1.2M273.5 186.8l1.7-0.3M275.6 137.5l-2.1-1.6M273.6 135l-0.1 0.9M274.7 146.4l-1.2-2.2M276.5 142.9l-3 1.3M273.5 109.9l1.5 1.6M273.5 109.9l0.3-1.7M273.5 89l1.1 1.6M275.5 87.1l-2 1.9M273.6 135l0.8-0.9M273.6 197.4l1.1 1.3M273.8 195.5l-0.2 1.9M273.6 168.1l3-1.3M275.5 170.8l-1.9-1.6M275.2 177.6l-1.5-1.5M274.3 173.6l-0.6 2.5M274.4 134.1l-0.6-2.5M273.8 131.6l0.3-0.6M275.6 194.9l-1.8 0.6M274.5 107.9l-0.7 0.3M276 128.3l-2.2 0.1M274.6 93.6l-0.8-1.5M273.8 92.1l0.8-1.5M273.9 205.1l0.2-2.7M273.9 151.8l1 2.3M275.9 150l-2 1.8M276.3 202.2l-2.2 0.2M274.1 78.7l0.4 1.2M275.4 76.6l-1.3 2.1M274.5 183.1l-0.4-1.1M274.1 182l0.9-1.5M276.6 130.7l-2.5 0.3M274.2 140.8l0-0.8M275.7 138.7l-1.5 1.3M276.5 142.9l-2.3-2.1M274.6 173.5l-0.3 0.1M275 180.5l-0.7-1.4M274.3 179.1l0.9-1.5M275.8 133.9l-1.4 0.2M275.4 114.7l-1-1.7M274.4 113l0.6-1.5M274.5 183.1l0.3 0.2M276 80.4l-1.5-0.5M274.5 125l0 0.5M274.5 125l1.9-1.7M276.4 126.9l-1.9-1.4M276.8 108.8l-2.3-0.9M275.5 105.8l-1 2.1M274.6 173.5l2.7 0.9M274.6 173.5l0.9-2.7M274.6 93.6l1.2 0.4M277.4 90.4l-2.8 0.2M274.6 154.6l0.2 1M274.9 154.1l-0.3 0.5M274.8 104.2l-0.2 0M276.8 199.1l-2.1-0.4M276.1 146.7l-1.4-0.3M276.4 123.3l-1.7-2.1M275.5 119.9l-0.8 1.3M274.8 155.6l0.7 0.9M274.8 104.2l0.7 1.6M277.6 102.1l-2.8 2.1M274.9 191l-0.1-0.4M274.8 190.6l1.4-2.8M275.2 186.5l-0.4-3.2M274.8 183.3l1.9-0.2M277 152.8l-2.1 1.3M274.9 191l0.8 0.4M275 180.5l2.1 0.1M275 115.7l0.6 1.5M275 115.7l0.4-1M275.5 119.9l-0.5-1.5M275.6 117.2l-0.6 1.2M276.5 111.3l-1.5 0.2M276.1 160l-1-1.3M275.1 158.7l0.4-2.2M275.2 186.5l0.5 0.2M275.2 177.6l0 0M275.2 177.6l2.3-2.3M277.1 178.8l-1.9-1.2M275.3 161.6l0.7 1.8M275.3 161.6l0.8-1.6M275.4 76.6l0.4-0.1M275.4 114.7l2.2-0.7M275.5 170.8l2-0.4M275.6 87.1l-0.1 0M277.8 120l-2.3-0.1M278.1 106l-2.6-0.2M277.9 156.4l-2.4 0.1M275.6 87.1l2.3 2.8M277.1 85.1l-1.5 2M277.1 195.8l-1.5-0.9M275.6 194.9l0.7-2.3M275.6 117.2l2.8 0M275.7 138.7l-0.1-1.2M277.7 135.7l-2.1 1.8M276.2 187.8l-0.5-1.1M275.7 186.7l1.7-1.1M275.7 164.2l1 1.8M276 163.4l-0.3 0.8M276.3 192.6l-0.6-1.2M275.7 191.4l2.5-1.5M275.7 138.7l2.4 1.1M275.8 97l1.1 1.1M275.8 97l0-3M275.8 94l1.2-0.6M275.9 150l-0.1-0.2M275.8 149.8l0.3-3.1M278.2 78l-2.4-1.5M277 73.9l-1.2 2.6M277.7 135.7l-1.9-1.8M275.8 133.9l1.4-2.2M276.8 150.6l-0.9-0.6M277.1 83.1l-1.1-2.7M276 80.4l2.3-1.7M276 163.4l2.3-0.9M276.8 129.7l-0.8-1.4M276.4 126.9l-0.4 1.4M277.3 160l-1.2 0M277.1 146.1l-1 0.6M276.2 187.8l2.1 1.1M277.5 203.7l-1.2-1.5M277 199.7l-0.7 2.5M279.6 193l-3.3-0.4M277.8 126.1l-1.4 0.8M277.6 123.5l-1.2-0.2M277.5 203.7l-1 1.9M276.5 142.9l0.2 0.1M276.5 111.3l0.2 0.1M276.8 108.8l-0.3 2.5M278.3 168.6l-1.7-1.8M276.7 166l-0.1 0.8M277.2 131.7l-0.6-1M276.8 129.7l-0.2 1M276.7 183.1l1.1 0.8M276.7 183.1l0.5-2.4M279.1 164.7l-2.4 1.3M276.7 143l0.4 3.1M277.7 142.3l-1 0.7M276.7 111.4l0.9 2.6M276.7 111.4l2.7-0.5M278.4 108.1l-1.6 0.7M276.8 199.1l0.2 0.6M277.6 197.6l-0.8 1.5M279.7 128.4l-2.9 1.3M277.3 151.8l-0.5-1.2M279.2 149l-2.4 1.6M276.9 83.6l0.2 1.5M277.1 83.1l-0.2 0.5M276.9 98.1l0.3 1.7M279.2 95.1l-2.3 3M278.5 154.8l-1.5-2M277.3 151.8l-0.3 1M277 93.4l2.1 1.2M277 93.4l0.4-3M277 73.9l1.4-0.7M279.7 200.6l-2.7-0.9M279.5 86.4l-2.4-1.3M277.8 146.3l-0.7-0.2M277.1 83.1l3.1-1.1M277.1 180.6l0.1 0.1M277.1 180.6l0-1.8M277.1 178.8l2.1-1.3M277.1 195.8l0.5 1.8M279.8 194l-2.7 1.8M277.2 99.8l0.1 0.1M280 181l-2.8-0.3M277.9 131.9l-0.7-0.2M277.3 174.4l0.2 0.9M278.6 172.7l-1.3 1.7M277.3 151.8l3.4 0.3M277.8 101.3l-0.5-1.4M277.3 99.9l5.1-2M278.3 160.8l-1-0.8M278.6 157.3l-1.3 2.7M277.4 70.1l1 3.1M277.4 90.4l0.5-0.5M277.4 185.6l1.6 0.9M277.4 185.6l0.4-1.7M279.1 176.7l-1.6-1.4M277.5 203.7l0.6 0M277.5 170.4l1.1 2.3M277.5 170.4l0.8-1.7M277.9 114.2l-0.3-0.2M277.6 123.5l0.6 1.2M278.7 121.7l-1.1 1.8M277.6 197.6l2.3-0.2M277.6 102.1l1 2.2M277.6 102.1l0.2-0.8M277.7 135.7l0.4 0M277.7 142.3l2.8 1.5M277.7 142.3l0.6-1.7M277.8 146.3l1.4 2.7M277.8 146.3l2.3-0.9M280 183.2l-2.2 0.7M277.8 101.3l3.9 0.8M277.8 126.1l1.9 2.3M277.8 126.1l0.4-1.4M277.8 120l0.8 0.9M278.4 117.2l-0.6 2.8M278.8 116.9l-0.9-2.7M279.5 113.3l-1.6 0.9M278.6 89.7l-0.7 0.2M278.6 157.3l-0.7-0.9M278.5 154.8l-0.6 1.6M277.9 131.9l1.2 2.2M277.9 131.9l2.5-1M280.4 205.6l-2.3-1.9M279.7 202.1l-1.6 1.6M278.3 140.6l-0.2-0.8M278.9 138.6l-0.8 1.2M278.1 135.7l0.8 2.9M278.1 135.7l0.4-0.2M278.1 106l0.7 1.3M278.6 104.3l-0.5 1.7M278.2 189.9l1.8 2.2M278.2 189.9l0.1-1M278.2 78l0.1 0.7M278.2 78l1.5-2.2M278.2 124.7l3 0.3M278.3 168.7l0-0.1M278.3 168.6l2.3-2.3M278.3 188.9l0.5-0.4M278.3 140.6l2.6 0.3M278.3 168.7l3.4 1.2M278.3 162.5l1 1M278.3 162.5l0-1.7M279.8 160.4l-1.5 0.4M278.3 78.7l1.8 1.4M278.4 108.1l1 2.8M278.8 107.3l-0.4 0.8M278.8 116.9l-0.4 0.3M278.4 73.2l0.1 0.1M279.7 75.8l-1.2-2.5M278.5 73.3l3.9-1.4M278.5 154.8l1.8-0.7M278.5 135.5l2.1 0.7M279.1 134.1l-0.6 1.4M279.8 90.2l-1.2-0.5M279.5 86.4l-0.9 3.3M278.6 104.3l2.4 0M278.6 172.7l1.9 0.1M280.3 157.7l-1.7-0.4M278.6 120.9l0.1 0.8M280.7 119.5l-2.1 1.4M278.7 121.7l2.9 0.9M281.4 107.3l-2.6 0M279.7 117l-0.9-0.1M278.8 188.5l2.7 0.3M279 186.5l-0.2 2M278.9 138.6l1.9-0.5M279 186.5l1.4-0.6M279.2 177.5l-0.1-0.8M279.1 176.7l2.5-2.1M279.1 164.7l1.5 1.6M279.3 163.5l-0.2 1.2M279.1 134.1l1.2-0.4M279.1 94.6l0.1 0.5M279.1 94.6l1.7-1.8M279.6 177.9l-0.4-0.4M279.2 95.1l3.1 2.4M279.2 149l0.8 0.1M282 162.6l-2.7 0.9M279.4 110.9l0.4 0.1M281.4 114.3l-1.9-1M279.8 111l-0.3 2.3M280.8 85.9l-1.3 0.5M282.1 177.9l-2.5 0M279.6 177.9l0.4 3.1M279.8 194l-0.2-1M279.6 193l0.4-0.9M279.7 200.6l0 1.5M279.7 200.6l1.4-1.1M279.7 128.4l0.7 2.5M279.7 128.4l0 0M279.7 128.4l1.2-0.8M282.1 203.5l-2.4-1.4M282.6 76.5l-2.9-0.7M279.7 117l1 2.5M279.7 117l1.3-0.7M281.5 110.6l-1.7 0.4M280.8 92.8l-1-2.6M283.4 88.7l-3.6 1.5M279.8 160.4l2.2 1.8M280.6 158.3l-0.8 2.1M279.8 194l1.3 1.3M279.9 197.4l1.2 2.1M279.9 197.4l1.2-2.1M280 181l0.3 0.4M280 192.1l0.2-0.2M280 149.1l0.8 3M280 149.1l0.4-0.2M280 183.2l0.5 0.7M280.3 181.4l-0.3 1.8M280.2 82l-0.1-1.9M283.3 77.6l-3.2 2.5M281.2 147.1l-1.1-1.7M280.1 145.4l0.5-0.9M280.2 191.9l3.4 0.2M280.2 191.9l1.3-3M281.8 83.3l-1.6-1.3M280.2 68.5l2.3 2.6M280.3 133.7l1.9 1.3M280.3 133.7l0.6-1.7M280.3 157.7l0.3 0.6M280.3 157.7l1.4-2M280.3 154.1l1.4 1.6M280.7 152.1l-0.4 2M280.3 181.4l1.8-0.5M280.4 148.9l2.7 0.5M280.4 148.9l0.8-1.8M280.4 185.9l1.5 1.3M280.5 183.9l-0.1 2M280.4 130.9l0.1 0.1M280.5 143.8l0.1 0.7M280.5 143.8l0.6-0.9M280.5 131l0.4 1M280.5 131l2.3-0.8M281.6 174.6l-1.1-1.8M280.5 172.8l1.4-2.1M280.5 183.9l3.2 0.5M280.8 138.1l-0.2-1.9M280.6 136.2l1.5-1M281.7 166.3l-1.1 0M280.6 144.5l2.2 0.4M280.6 158.3l1.6 0.7M280.7 119.5l1.3 0.4M280.7 152.1l0.1 0M280.8 152.1l2.2-0.2M280.8 138.1l0.9 0.5M282.7 93.1l-1.9-0.3M283.4 88.7l-2.6-2.8M281.8 83.3l-1 2.6M280.9 140.9l0.2 2M280.9 140.9l0.9-0.7M282.9 128.6l-2-1M280.9 127.6l0.5-2.3M280.9 132l1.6 0.7M283.2 117.7l-2.2-1.4M281 116.3l0.5-1.5M281 104.3l1.1 1.7M281 104.3l0.7-2.2M281.1 195.3l1 0.1M281.1 199.5l1 0.1M281.1 142.9l2.5-0.3M281.2 147.1l2.1-0.1M281.2 125l0.2 0.3M281.6 122.6l-0.4 2.4M281.4 107.3l0.1 3.3M281.4 107.3l0.3-0.2M281.5 114.8l-0.1-0.5M282.7 111.6l-1.3 2.7M284.2 125.6l-2.8-0.3M281.5 110.6l1.2 0.7M281.5 188.9l0-0.1M281.5 188.8l0.4-1.6M281.5 188.9l2 1M284.7 114.9l-3.2-0.1M281.9 174.8l-0.3-0.2M281.9 122.4l-0.3 0.2M281.9 139.1l-0.2-0.5M281.7 138.6l1.1-1.5M281.7 169.9l0.2 0.8M281.7 169.9l1.2-2.1M281.7 155.7l1.3-0.1M281.7 166.3l1.1 0.9M282.1 162.7l-0.4 3.6M281.7 107.1l3 1.5M281.7 107.1l0.4-1.1M281.7 102.1l1-0.6M283.5 141.6l-1.7-1.4M281.9 139.1l-0.1 1.1M281.8 83.3l1.3-0.2M281.9 170.7l2.3 1M285.2 123.4l-3.3-1M282.3 120.6l-0.4 1.8M283.8 186.1l-1.9 1.1M283 177l-1.1-2.2M281.9 174.8l2.7-1.5M284.6 139.2l-2.7-0.1M282 119.9l0.3 0.7M283.2 117.7l-1.2 2.2M282 162.6l0.1 0.1M282 162.2l0 0.4M282.6 161.2l-0.6 1M284.3 163.6l-2.2-0.9M282.1 180.9l1.7 2.1M282.4 180.5l-0.3 0.4M282.1 106l1.9-1M283.7 197.7l-1.6-2.3M284.3 193.3l-2.2 2.1M282.8 137.1l-0.7-1.9M282.1 135.2l0.1-0.2M282.1 199.6l1.1 2.1M282.1 199.6l1.5-1.7M282.1 203.5l0.1 0.7M282.1 203.5l1.1-1.8M282.1 177.9l0.3 2.6M282.1 177.9l0.9-0.9M282.2 135l0.1-0.1M282.6 161.2l-0.4-2.2M282.2 159l1.5-1M285.1 120.5l-2.8 0.1M282.5 132.7l-0.2 2.2M283.8 134.8l-1.5 0.1M282.3 97.5l0.1 0.4M283.4 94.2l-1.1 3.3M285.4 179.6l-3 0.9M283.1 98.5l-0.7-0.6M283.2 73l-0.8-1.1M282.5 71.1l-0.1 0.8M282.5 132.7l0.8-0.5M284.7 69.3l-2.2 1.8M283.3 77.6l-0.7-1.1M282.6 76.5l0.6-3.5M282.6 161.2l2.7-0.9M282.7 111.3l0 0.3M284.2 110.3l-1.5 1M282.7 93.1l0.7 1.1M282.7 93.1l1.8-3.4M285 113.9l-2.3-2.3M283.6 102.3l-0.9-0.8M282.7 101.5l0.4-3M283.4 146.7l-0.6-1.8M282.8 144.9l1-1.2M282.8 130.2l0.4 0.4M282.9 128.6l-0.1 1.6M282.8 137.1l1.6 0.1M282.8 167.2l0.1 0.6M284.2 166.2l-1.4 1M282.9 167.8l2.4 1.4M282.9 128.6l1.5-0.8M283 155.6l0.7 2.4M283 155.6l0.8-0.7M283.8 154.9l-0.8-3M283 151.9l0.5-0.5M283 177l1 0.1M283.1 83.1l1.9 2.9M284.7 81.7l-1.6 1.4M285.5 98.4l-2.4 0.1M283.1 149.4l0.4 2M283.1 149.4l0.6-1.2M283.2 117.7l0.4-0.1M286.9 73.5l-3.7-0.5M283.2 201.7l2 0M283.2 130.6l0.1 1.6M285.5 130.4l-2.3 0.2M284.8 132.9l-1.5-0.7M283.8 77.8l-0.5-0.2M283.7 148.2l-0.4-1.2M283.3 147l0.1-0.3M283.3 66.2l0.9 0.7M286.5 94.2l-3.1 0M285.4 145.7l-2 1M283.7 88.8l-0.3-0.1M285.3 151.3l-1.8 0.1M283.6 192.1l-0.1-2.2M284.9 189.1l-1.4 0.8M283.5 141.6l0.1 1M284.8 140.1l-1.3 1.5M286.8 102.3l-3.2 0M283.6 102.3l0.4 2.7M284.3 193.1l-0.7-1M285.3 119.2l-1.7-1.6M285 115.6l-1.4 2M283.7 142.7l-0.1-0.1M283.6 197.9l0.1 0.1M283.6 197.9l0.1-0.2M285.6 158.7l-1.9-0.7M284 197.5l-0.3 0.2M284.5 89.7l-0.8-0.9M283.7 88.8l1.3-2.8M283.8 143.7l-0.1-1M283.7 142.7l2.5-0.3M283.9 184.7l-0.2-0.3M283.8 183l-0.1 1.4M285.5 148.5l-1.8-0.3M283.8 134.8l1.1 1M284.8 132.9l-1 1.9M285.6 145.1l-1.8-1.4M284.8 187l-1-0.9M283.8 186.1l0.1-1.4M283.8 198.1l1.8 1.6M284.7 81.7l-0.9-3.9M287.4 76.6l-3.6 1.2M283.8 154.9l0.7 0M286.3 181l-2.5 2M286.6 184.2l-2.7 0.5M284 105l1.1 0.3M284 177.1l1.5 2M285.5 175.5l-1.5 1.6M284.4 127.8l-0.2-2.2M284.2 125.6l1-1M284.2 171.7l0.4 1.6M284.2 171.7l1.3-1.3M286.5 111.7l-2.3-1.4M284.2 110.3l0.5-1.7M286.6 166.5l-2.4-0.3M284.3 163.6l-0.1 2.6M286 196.1l-1.7-2.8M284.3 193.1l0 0.2M285.8 163.1l-1.5 0.5M284.3 193.1l2.2-0.8M285.7 128.5l-1.3-0.7M284.7 139.1l-0.3-1.9M284.4 137.2l0.6-0.7M284.5 89.7l1.8 0.5M284.5 154.9l1.7 1.8M284.5 154.9l2.3-1.6M284.8 140.1l-0.2-0.9M284.6 139.2l0.1-0.1M284.8 173.5l-0.2-0.2M284.7 139.1l2.2-0.6M284.7 81.7l3.4 0.4M284.7 108.6l0.3-0.1M285 115.6l-0.3-0.7M285 113.9l-0.3 1M285.1 132.8l-0.3 0.1M284.8 140.1l1.3 0.8M285.5 175.5l-0.7-2M284.8 173.5l2.9-0.7M284.8 187l0.1 2.1M284.8 187l2.9-0.4M284.9 135.8l0.1 0.7M286.1 134.7l-1.2 1.1M284.9 189.1l1.7 0.7M287.4 109.1l-2.4-0.6M285 108.5l0.6-2.3M286.8 137.1l-1.8-0.6M287.4 116.7l-2.4-1.1M285 86l1.9-0.4M286.7 112.6l-1.7 1.3M285.1 120.5l0.9 1.6M285.3 119.2l-0.2 1.3M285.6 106.2l-0.5-0.9M286.9 103.1l-1.8 2.2M285.1 132.8l0.6 0.3M285.5 130.5l-0.4 2.3M287.3 125.7l-2.1-1.1M285.2 124.6l0-1.2M286 122.1l-0.8 1.3M286.4 202.7l-1.2-1M285.6 199.7l-0.4 2M285.3 151.3l1.5 2M286.3 150l-1 1.3M287.7 117.7l-2.4 1.5M286.2 161.7l-0.9-1.4M285.3 160.3l0.3-1.6M285.5 170.4l-0.2-1.2M285.3 169.2l1.4-1.4M286.3 147.3l-0.9-1.6M285.4 145.7l0.2-0.6M285.4 179.6l0.9 1.4M285.5 179.1l-0.1 0.5M287.4 177.5l-1.9 1.6M285.5 130.4l0 0.1M285.7 128.5l-0.2 1.9M285.5 130.5l2.2 0.7M285.5 148.5l0.8 1.5M286.3 147.3l-0.8 1.2M285.5 175.5l1.3 0.3M285.5 170.4l2.5 0.7M287.2 101.5l-1.7-3.1M286.2 97.8l-0.7 0.6M286.5 199.3l-0.9 0.4M285.6 158.7l0.5-0.4M285.6 145.1l0.3-0.2M288.1 106.4l-2.5-0.2M286.1 134.7l-0.4-1.6M287.7 132.6l-2 0.5M286.9 128.1l-1.2 0.4M287.6 164.9l-1.8-1.8M285.8 163.1l0.4-1.4M285.9 144.9l2.1 0.3M285.9 144.9l0.5-2.2M286 203.7l0.4-1M287.2 121.9l-1.2 0.2M287.9 158.6l-1.8-0.3M286.1 158.3l0.1-1.6M286.1 134.7l1 0.3M286.1 140.9l0.1 1.5M286.1 140.9l1.4-0.8M286.2 142.4l0.2 0.3M288.3 161.3l-2.1 0.4M286.2 156.7l2.1-1.7M286.2 97.8l2 0M286.5 94.2l-0.3 3.6M286.3 150l1-0.1M286.7 181.2l-0.4-0.2M286.7 94l-0.4-3.8M286.3 90.2l0.6-0.2M286.3 147.3l0.9 0M286.4 202.7l0.1 0M288.2 142.8l-1.8-0.1M286.7 94l-0.2 0.2M286.7 112.6l-0.2-0.9M286.5 111.7l1.1-2M288.4 195.3l-1.9-3M286.5 192.3l0.6-0.8M287.1 191.5l-0.5-1.7M286.6 189.8l1.3-1.5M287.8 186.4l-1.2-2.2M287.3 182.7l-0.7 1.5M286.6 166.5l0.1 1.3M287.5 165.5l-0.9 1M286.7 94l1.9 0.2M286.7 167.8l1.7 1.3M286.7 69.6l0.2 3.9M287.3 182.7l-0.6-1.5M289.3 180l-2.6 1.2M286.7 112.6l2 0.8M287.7 153.5l-0.9-0.2M286.8 102.3l0.1 0.8M287.2 101.5l-0.4 0.8M286.9 138.5l-0.1-1.4M287.5 136.4l-0.7 0.7M286.8 175.8l0.6 1.7M286.8 175.8l1.2-1M288.4 104.7l-1.5-1.6M286.9 128.1l0.9 0.5M287.3 125.7l-0.4 2.4M287 73.6l-0.1-0.1M286.9 90l2.1 0.5M286.9 90l1.3-3.1M287.4 138.9l-0.5-0.4M287.4 76.6l-0.4-3M287 73.6l4.1-1.6M287.5 136.4l-0.4-1.4M287.1 135l0.9-0.9M287.1 191.5l2.4-0.1M287.2 121.9l1.3 0.8M288.4 119.5l-1.2 2.4M287.2 147.3l0.9 1.1M287.2 147.3l1-1.5M289.1 101.2l-1.9 0.3M289.2 151.6l-1.9-1.7M287.3 149.9l0.8-1.5M289.8 183.5l-2.5-0.8M287.3 125.7l1.6-0.5M287.4 116.7l0.3 1M287.4 116.7l1.5-2.8M287.4 138.9l0.1 1.2M287.4 138.9l2-0.7M288.3 177.8l-0.9-0.3M287.4 76.6l0.2 0.1M287.6 109.7l-0.2-0.6M288.6 107.1l-1.2 2M287.5 140.1l1 0.7M287.5 136.4l1.6 0.1M287.5 165.5l1.8 1M287.5 165.5l0.1-0.6M288.1 82.1l-0.6 1.9M287.6 164.9l1.6-1.5M288.8 81.4l-1.2-4.7M290.8 76.3l-3.2 0.4M287.6 109.7l2.5 1M287.7 186.6l0.2 1.7M287.7 186.6l0.1-0.2M287.7 132.6l0.3 1.5M287.8 132.5l-0.1 0.1M288.3 155l-0.6-1.5M289.2 151.6l-1.5 1.9M287.7 117.7l0.1 0.1M287.7 131.2l0.1 1.3M288.1 130.7l-0.4 0.5M288 174.8l-0.3-2M287.7 172.8l0.7-1M287.7 86.3l0.5 0.6M287.8 128.6l0.3 2.1M287.8 128.6l1.7-0.4M289.9 132.7l-2.1-0.2M288.7 186l-0.9 0.4M288.4 119.5l-0.6-1.7M287.8 117.8l3.6-0.6M287.9 188.3l2.4 1.1M288.6 160.8l-0.7-2.2M289.1 157.8l-1.2 0.8M288.4 171.8l-0.4-0.7M288.4 169.1l-0.4 2M288.2 145.8l-0.2-0.6M288 145.2l0.5-1.3M290 175.6l-2-0.8M288 134.1l1.7 0.9M288.1 106.4l0.5 0.7M288.4 104.7l-0.3 1.7M288.5 81.8l-0.4 0.3M288.1 148.4l1.4-0.1M290.2 130.5l-2.1 0.2M288.5 143.9l-0.3-1.1M288.2 142.8l0.4-0.6M288.2 145.8l1.6 0.7M289.8 86.8l-1.6 0.1M289.3 180l-1-2.2M290.2 176.3l-1.9 1.5M289.2 163.4l-0.9-2.1M288.3 161.3l0.3-0.5M289.5 155.7l-1.2-0.7M290.5 172.1l-2.1-0.3M289.3 104.3l-0.9 0.4M288.4 119.5l2 0.8M289.6 168.4l-1.2 0.7M288.6 142.2l-0.1-1.4M290.1 139.9l-1.6 0.9M288.5 143.9l2 0.3M288.9 125.2l-0.4-2.5M288.5 122.7l1.8-0.7M288.5 81.8l0.3 0.4M288.8 81.4l-0.3 0.4M288.6 107.1l0.4 0.1M288.6 160.8l2.6-0.5M291.3 142.2l-2.7 0M288.9 113.9l-0.2-0.5M288.7 113.4l1.4-2.6M290.8 186.8l-2.1-0.8M289.8 183.5l-1.1 2.5M289.2 81.3l-0.4 0.1M288.9 125.2l0.9 0.5M291 114.7l-2.1-0.8M289 107.2l1.7 1.9M289 107.2l1.4-0.8M289.1 136.5l0.6 1M289.7 135l-0.6 1.5M291.2 159.3l-2.1-1.5M289.1 157.8l0.4-2.1M289.2 151.6l0.4-0.1M289.2 163.4l2.1 0.1M289.3 166.5l0.3 1.9M291.8 165.4l-2.5 1.1M290.2 180.2l-0.9-0.2M289.4 138.2l0.7 1.7M289.7 137.5l-0.3 0.7M289.5 148.3l0.7 0.8M289.5 148.3l0.3-1.8M290 128.6l-0.5-0.4M289.5 128.2l0.3-2.5M289.9 194.5l-0.4-3.1M289.5 191.4l0.7-0.6M291.4 155.3l-1.9 0.4M289.6 168.4l1.5 0.5M289.6 195.1l0.3-0.6M289.6 151.5l0.7 0.3M289.6 151.5l0.6-2.4M289.7 137.5l1.8-0.1M290.5 134.5l-0.8 0.5M290.1 183.3l-0.3 0.2M289.8 146.5l0.4-0.3M290.9 125.5l-1.1 0.2M292.5 193.4l-2.6 1.1M290.5 134.5l-0.6-1.8M290.8 131.1l-0.9 1.6M290 128.6l0.2 1.9M290 128.6l2.5-0.5M290 83.5l0.6 0.8M290.2 176.3l-0.2-0.7M290 175.6l1.1-1.8M291 140.2l-0.9-0.3M291.9 184.3l-1.8-1M290.1 183.3l0.6-2.7M290.1 110.8l0-0.1M290.7 109.1l-0.6 1.6M290.1 110.8l2.1 0.9M291.3 177.2l-1.1-0.9M290.2 149.1l1.9-0.5M290.2 130.5l0.6 0.6M292.8 192.6l-2.6-1.8M290.5 189.9l-0.3 0.9M290.2 180.2l0.5 0.4M291.3 177.2l-1.1 3M291.9 147.2l-1.7-1M290.2 146.2l0.6-1.3M290.5 189.9l-0.2-0.5M290.8 186.8l-0.5 2.6M291.7 154.1l-1.4-2.3M290.3 151.8l2.7-1.1M292 123.2l-1.7-1.2M290.4 120.3l-0.1 1.7M290.4 120.3l1.3-0.9M293.5 189.2l-3 0.7M290.8 144.9l-0.3-0.7M290.5 144.2l0.8-2M291.7 134.7l-1.2-0.2M291.1 173.8l-0.6-1.7M290.5 172.1l0.7-0.7M290.7 109.1l1-0.5M290.7 180.6l2.4 0.2M291.6 77.3l-0.8-1M290.8 76.3l1.7-3.3M290.8 131.1l1.2 0M293 145l-2.2-0.1M291.4 186.5l-0.6 0.3M290.9 125.5l1.7 2.3M290.9 125.5l1.1-1.3M291 114.7l0.6 2.2M292.1 113.7l-1.1 1M291.4 142.2l-0.4-2M292.3 139.2l-1.3 1M293.6 174.6l-2.5-0.8M291.1 168.9l0.1 2.5M292.7 167.7l-1.6 1.2M291.2 160.3l0.3 0.4M291.2 160.3l0-1M292.2 158.1l-1 1.2M291.2 171.4l1.8 0M291.4 142.2l-0.1 0M291.3 163.5l0.3 0.3M291.5 160.7l-0.2 2.8M291.3 177.2l0.8 0M291.4 142.2l1.1 0.2M291.4 155.3l0.6 0.6M291.4 155.3l0.3-1.2M291.4 117.2l0.3 2.2M291.6 116.9l-0.2 0.3M291.4 186.5l2.5 1.2M291.4 186.5l0.5-2.2M291.5 137.4l0.7 0.6M291.7 134.8l-0.2 2.6M294.3 160.8l-2.8-0.1M291.6 116.9l3-0.2M291.8 165.4l-0.2-1.6M295.2 162.6l-3.6 1.2M291.7 119.4l1.1 0.6M291.7 134.7l0 0.1M291.7 134.7l0.6-0.8M291.7 154.1l1.7-1M291.7 134.8l2.4 1.5M291.8 165.4l0.9 1M291.9 184.3l1.3-0.5M291.9 147.2l0.2 1.4M291.9 147.2l1.3-1.4M292.5 73l-0.6-0.9M292 124.2l0-1M293.2 122l-1.2 1.2M294.9 125.4l-2.9-1.2M292 155.9l0.2 2.2M292 155.9l2.9 0M292 131.1l0.3 2.8M292 131.1l0.1-0.1M292.1 177.2l2.2 2.1M292.1 177.2l1.6-2.1M292.3 148.8l-0.2-0.2M292.1 113.7l3.1 0.6M292.1 113.7l0.1-2M294.8 132.1l-2.7-1.1M292.8 129.6l-0.7 1.4M292.3 139.2l-0.1-1.2M292.2 138l1.9-1.1M293 111.2l-0.8 0.5M295 158.7l-2.8-0.6M294 140.1l-1.7-0.9M293 150.7l-0.7-1.9M294.2 148l-1.9 0.8M294.4 133.5l-2.1 0.4M292.5 128.1l0.3 1.5M292.5 128.1l0.1-0.3M295.7 74.1l-3.2-1.1M293.2 194.9l-0.7-1.5M292.5 193.4l0.3-0.8M292.5 142.4l1 1.5M292.5 142.4l1.6-1.8M292.6 127.8l2-0.9M292.7 166.4l0 1.3M295.1 165.6l-2.4 0.8M294.5 169.2l-1.8-1.5M295.2 129.8l-2.4-0.2M293.3 192.3l-0.5 0.3M293.2 122l-0.4-2M294.6 119.2l-1.8 0.8M294.7 173.3l-1.7-1.9M294.5 169.2l-1.5 2.2M293 111.2l1.8 0.8M293 111.2l0.5-2.6M293 150.7l0.2 0.1M293.2 145.8l-0.2-0.8M293 145l0.5-1.1M293.3 183.6l-0.2-2.8M293.1 180.8l1-0.9M295.3 122.4l-2.1-0.4M293.2 183.8l1.7 3.1M293.2 183.8l0.1-0.2M293.4 153.1l-0.2-2.3M293.2 150.8l2.5-0.4M294.4 146.6l-1.2-0.8M295.6 193.2l-2.3-0.9M293.3 192.3l0.7-2.2M293.3 183.6l2.9-0.3M295.3 153.9l-1.9-0.8M293.5 108.6l0-0.1M296.1 110.1l-2.6-1.5M293.5 143.9l1.8-0.3M294 190.1l-0.5-0.9M293.9 187.7l-0.4 1.5M293.6 174.6l0.1 0.5M293.6 174.6l1.1-1.2M293.7 175.1l1.4 1.4M293.9 187.7l1-0.8M294 140.1l0.1 0.5M294 140.1l1.4-1.8M296.9 190.8l-2.9-0.7M294.1 140.6l1.3 0.9M294.1 136.9l1.3 1.4M294.1 136.3l0 0.6M294.1 136.3l1.2-1.3M296.4 181.7l-2.3-1.8M294.3 179.3l-0.2 0.6M294.2 148l1.7 1.5M294.2 148l0.2-1.4M294.3 179.3l0.3-0.3M294.3 160.8l0.9 1.8M295 158.7l-0.7 2.1M294.4 133.5l0.9 1.5M294.4 133.5l0.4-1.4M294.4 146.6l1.4-0.4M295 169.2l-0.5 0M294.6 179l0.5-2.5M297.5 178.5l-2.9 0.5M294.6 126.9l0.7 1.1M295 125.5l-0.4 1.4M294.6 116.7l0 2.5M294.6 116.7l0.1-0.1M295.7 119.9l-1.1-0.7M294.7 173.4l0-0.1M296.2 170.8l-1.5 2.5M296.6 174.1l-1.9-0.7M297.4 117.6l-2.7-1M294.7 116.6l0.6-2.2M295.2 114.3l-0.4-2.3M294.8 112l1.3-1.4M294.8 132.1l1-0.6M295.4 158.4l-0.5-2.5M295.7 154.7l-0.8 1.2M294.9 125.4l0.1 0.1M294.9 125.4l0.4-3M295.6 186.8l-0.7 0.1M295 158.7l0.4-0.3M296.9 125.5l-1.9 0M295 169.2l1.2 1.6M297 167l-2 2.2M297 167l-1.9-1.4M295.1 165.6l0.3-2.6M297.2 176l-2.1 0.5M295.2 114.3l0.1 0.1M295.2 194.8l0.5-0.6M295.9 130.8l-0.7-1M295.3 128l-0.1 1.8M295.4 163l-0.2-0.4M295.2 162.6l0 0M297.9 160.8l-2.7 1.8M296.6 135.1l-1.3-0.1M295.3 143.6l0.5 0.7M295.7 142.5l-0.4 1.1M295.7 154.7l-0.4-0.8M295.3 153.9l0.9-2.7M296.9 114.2l-1.6 0.2M295.3 122.4l0.2-0.2M297.1 128.1l-1.8-0.1M295.4 158.4l1.5 0.2M295.4 163l2.5 1.2M295.4 141.5l0.3 1M295.4 141.5l1.6-1.3M295.7 138.3l-0.3 0M297.3 122.5l-1.8-0.3M295.7 119.9l-0.2 2.3M295.6 186.8l2 3M297 185.6l-1.4 1.2M295.6 193.2l0.1 1M296.9 191.6l-1.3 1.6M295.7 119.9l1.7-0.6M295.7 138.3l1.3 1.9M295.7 138.3l1.6-1.2M295.7 154.7l2.6 0.2M295.7 74.1l0.8 1.2M295.7 74.1l2.2-4.4M295.7 142.5l2 0M296.2 151.2l-0.5-0.8M296 149.7l-0.3 0.7M298.2 195.3l-2.5-1.1M295.8 146.2l0.8 0.6M295.8 146.2l0-1.9M295.8 131.5l1.1 0.8M295.8 131.5l0.1-0.7M295.8 144.3l2.2 0.1M297.5 129.7l-1.6 1.1M295.9 149.5l0.1 0.2M295.9 149.5l0.7-2.7M296 149.7l2.6-0.7M296.1 110.1l0 0.5M296.1 110.1l1.4-1.6M298.1 112.2l-2-1.6M298.7 152.1l-2.5-0.9M297.6 171l-1.4-0.2M297.1 184.7l-0.9-1.4M296.4 181.7l-0.2 1.6M296.3 91.5l3.2 1.1M297.5 108.2l-1.2-1.1M297.9 180.9l-1.5 0.8M297.2 176l-0.6-1.9M297.9 173.1l-1.3 1M296.6 146.8l0.9-0.1M296.6 135.1l0.9 1.5M297.2 134l-0.6 1.1M299.3 89.1l-2.6 0M296.9 114.2l1.6 1.4M298.1 112.2l-1.2 2M296.9 191.6l0-0.8M297.6 189.8l-0.7 1M297.2 134l-0.3-1.7M296.9 132.3l1.7-0.4M296.9 125.5l1.2 1.4M298 123.7l-1.1 1.8M296.9 191.6l1.8 1.5M297.9 160.8l-1-2.2M296.9 158.6l2.1-1.9M297 140.2l0.6 0.1M297 185.6l2.5 1.4M297 185.6l0.1-0.9M299.7 85.8l-2.7 0.7M297.5 167l-0.5 0M297.1 128.1l0.4 1.6M298.1 126.9l-1 1.2M297.1 184.7l3.1-1.6M297.7 176.4l-0.5-0.4M297.2 134l2-0.1M297.3 122.5l0.7 1.2M297.3 122.5l1.3-1.9M298.5 139l-1.2-1.9M297.5 136.6l-0.2 0.5M297.4 119.3l0-1.7M297.4 117.6l1.3-1.1M297.4 119.3l1.2 0.8M297.5 108.5l1.7 1.5M297.5 108.2l0 0.3M299.5 106.7l-2 1.5M298.4 147.3l-0.9-0.6M297.5 146.7l0.7-1.9M298.4 179.5l-0.9-1M297.7 176.4l-0.2 2.1M299 130l-1.5-0.3M298.8 167.6l-1.3-0.6M297.5 167l0.4-2.8M297.5 95.4l2-2.6M299.5 136.3l-2 0.3M297.8 189.8l-0.2 0M298 140.9l-0.4-0.6M298.5 139l-0.9 1.3M297.6 171l0.3 2.1M299.4 169.9l-1.8 1.1M297.7 142.5l0.6 0.8M298 140.9l-0.3 1.6M298.7 176.1l-1 0.3M300.8 97.2l-3.1-1.4M297.8 104l1.6 0.8M297.8 189.8l2.6 0.8M299.5 187l-1.7 2.8M299.8 173.9l-1.9-0.8M297.9 164.2l1.2-0.7M297.9 180.9l2.3 2.1M298.4 179.5l-0.5 1.4M297.9 160.8l0.6 0.2M298.2 144.8l-0.2-0.4M298.3 143.3l-0.3 1.1M298 123.7l2.1 0.3M298 140.9l2.1 0.2M298.1 112.2l0.4-0.2M299.5 127l-1.4-0.1M298.2 195.4l0-0.1M298.7 193.1l-0.5 2.2M298.2 144.8l1.6 0.5M298.2 83.5l1.9 1M298.3 154.9l0.7 1.8M299.1 153.4l-0.8 1.5M298.3 143.3l1.2-0.4M298.4 179.5l1.7-0.4M298.6 149l-0.2-1.7M300.3 146.5l-1.9 0.8M298.5 139l1.2-0.1M299.1 163.5l-0.6-2.5M300.8 160l-2.3 1M300 98.7l-1.5 0.1M298.5 101.6l1.7-0.7M298.5 112l2.8 1.4M299.2 110l-0.7 2M298.5 115.6l0.2 0.9M301.3 113.5l-2.8 2.1M298.6 120.6l0-0.5M298.6 120.1l1.6-1.3M299.8 149.9l-1.2-0.9M298.6 131.9l0.8 0.8M299 130l-0.4 1.9M298.6 120.6l2.4 1.7M300.1 117.4l-1.4-0.9M300.6 192.4l-1.9 0.7M298.7 152.1l0.4 1.3M298.7 152.1l1.1-2.2M300.5 177.2l-1.8-1.1M298.7 176.1l1.1-2.2M298.8 167.6l0.6 2.3M300.9 166.2l-2.1 1.4M300.8 160l-1.8-3.3M299 156.7l0 0M299 156.7l3.2-0.4M299.6 129.7l-0.6 0.3M299.1 153.4l2.3-0.1M301.1 164.1l-2-0.6M299.2 110l1.8-0.5M300.2 135.2l-1-1.3M299.2 133.9l0.2-1.2M300.3 90.5l-1-1.4M299.3 89.1l0.9-2.2M299.4 169.9l1.2 0.7M299.5 106.7l-0.1-1.9M301.8 103.7l-2.4 1.1M301.4 132l-2 0.7M299.5 142.9l1.2 1.1M299.5 142.9l0.6-1.8M299.5 106.7l1.4 1.1M299.5 136.3l0.8 1.6M300.2 135.2l-0.7 1.1M299.5 187l0.5 0M299.5 92.8l0-0.2M300.3 90.5l-0.8 2.1M299.5 127l0.1 2.7M299.8 126.9l-0.3 0.1M300.7 93.5l-1.2-0.7M299.6 129.7l0.8 0.2M299.7 138.9l0.8 2M300.3 137.9l-0.6 1M300.2 86.9l-0.5-1.1M300.1 84.5l-0.4 1.3M299.8 126.9l2.1 0.2M300.1 124l-0.3 2.9M300.4 149.7l-0.6 0.2M300.7 173.5l-0.9 0.4M300.3 146.5l-0.5-1.2M299.8 145.3l0.9-1.3M301.7 189.2l-1.7-2.2M300.7 186l-0.7 1M300.2 100.9l-0.2-2.2M300.9 97.4l-0.9 1.3M300.2 118.8l-0.1-1.4M301.8 116.4l-1.7 1M300.1 84.5l0.2-0.1M300.5 140.9l-0.4 0.2M301.6 180.3l-1.5-1.2M300.1 179.1l0.4-1.9M301 123.4l-0.9 0.6M300.2 183l0 0.1M301.6 180.3l-1.4 2.7M300.2 183.1l0 0M300.2 100.9l1.4 1M302.6 120l-2.4-1.2M300.2 135.2l0.9-0.2M300.2 183.1l3.3 0.6M300.2 183.1l0.5 2.9M302.8 87.9l-2.6-1M300.3 90.5l2.4-0.6M301.7 138.1l-1.4-0.2M300.8 146.8l-0.5-0.3M304.2 84.9l-3.9-0.5M300.7 83l-0.4 1.4M302.6 152.1l-2.2-2.4M301.1 148.8l-0.7 0.9M300.6 192.4l-0.2-1.8M300.4 190.6l1.3-1.4M300.4 129.9l1 1.7M300.4 129.9l1.7-0.9M302.2 176.4l-1.7 0.8M300.5 140.9l0.8 0.1M300.6 170.6l0.1 2.9M300.6 170.6l1.1-0.4M300.6 192.4l1.6 1.1M301.8 174.2l-1.1-0.7M300.8 97.2l-0.1-3.7M303.5 93.2l-2.8 0.3M301.6 143.8l-0.9 0.2M302.6 185.9l-1.9 0.1M301.1 160.1l-0.3-0.1M300.8 97.2l0.1 0.2M300.8 146.8l0.3 2M300.8 146.8l1.3-0.7M300.9 107.8l0.1 1.7M300.9 107.8l2.1-1.1M302 97.5l-1.1-0.1M300.9 166.2l1.9 1.3M300.9 166.2l0.2-2.1M301 123.4l1.9 1M301 123.4l0-1.1M301 109.5l0.4 0.4M301 122.3l1.6-2M301 69l0 5.2M302.8 136.3l-1.7-1.3M301.1 135l1-1.8M301.1 164.1l0.8-0.6M301.1 148.8l2.7-0.1M301.1 160.1l1 2.8M301.1 160.1l1.4-0.9M301.3 113.4l0 0.1M301.3 113.4l0.1-0.3M302.2 114.7l-0.9-1.2M301.3 141l0.1 0.1M302.3 139.6l-1 1.4M301.4 132l0.7 1.2M301.4 132l0-0.4M301.4 109.9l0 3.2M301.4 109.9l2.6-0.2M301.4 131.6l1.8-1.1M303.7 142l-2.3-0.9M301.6 143.8l-0.2-2.7M302.2 156.3l-0.8-3M302.6 152.3l-1.2 1M301.4 113.1l3.2-1.7M301.6 81.4l2.6 1M301.8 103.7l-0.2-1.8M303.8 100l-2.2 1.9M301.8 143.9l-0.2-0.1M302.6 180.1l-1 0.2M303 189.1l-1.3 0.1M301.7 170.2l1.6 0.7M302.8 167.5l-1.1 2.7M301.7 138.1l0.6 1.5M302.9 136.7l-1.2 1.4M301.8 103.7l0.4 0.2M301.8 116.4l1.9 2.3M302.2 114.7l-0.4 1.7M302.1 146.1l-0.3-2.2M302.9 143.7l-1.1 0.2M302.2 176.4l-0.4-2.2M301.8 174.2l2-1M301.9 127.1l0.2 1.9M301.9 127.1l1.4-0.9M304.5 164.8l-2.6-1.3M301.9 163.5l0.2-0.6M303.8 100l-1.8-2.5M302 97.5l2.5-2M305 161.3l-2.9 1.6M302.1 129l1 0.5M302.1 133.2l1.2 0M302.1 146.1l0.8 0.2M302.2 176.4l0.2 0.1M304.1 114.9l-1.9-0.2M302.6 194.4l-0.4-0.9M303.8 190.8l-1.6 2.7M302.2 103.9l0.8 2.8M302.2 103.9l3.5-0.5M303.1 156.7l-0.9-0.4M302.3 139.6l2 0M303.1 179.2l-0.7-2.7M302.4 176.5l2.4-0.3M304.8 160.5l-2.3-1.3M302.5 159.2l0.6-2.5M303.8 188.1l-1.2-2.2M303.7 184.1l-1.1 1.8M302.6 152.1l0 0.2M304 150.1l-1.4 2M304.5 153.4l-1.9-1.1M305.1 122.7l-2.5-2.4M302.6 120.3l0-0.3M303.7 118.7l-1.1 1.3M302.6 180.1l1.2 1.2M302.6 180.1l0.5-0.9M303.8 92.4l-1.1-2.5M303.2 88.9l-0.5 1M302.8 136.3l0.1 0.4M302.8 136.3l1.2-1.5M302.8 167.5l0.3-0.1M302.8 87.9l0.4 1M302.8 87.9l1.4-3M302.9 136.7l1.9 1M302.9 124.4l0.4 1.8M302.9 124.4l2.2-1.7M304.6 144.9l-1.7-1.2M303.7 142l-0.8 1.7M304 148.4l-1.1-2.1M304.6 144.9l-1.7 1.4M304.9 79l-2 0.2M304.4 107.4l-1.4-0.7M303.8 190.8l-0.8-1.7M303 189.1l0.8-1M303.1 167.4l1.9 1.6M304.7 165.7l-1.6 1.7M303.1 129.5l0.1 1M304.5 128.3l-1.4 1.2M303.8 156.5l-0.7 0.2M303.1 179.2l2.3-0.8M305.3 88.9l-2.1 0M303.2 130.5l0.7 0.4M303.3 133.2l0.7 1.6M303.3 133.2l0.7-0.6M303.8 173.2l-0.5-2.3M305 169.9l-1.7 1M303.3 126.2l0.9 0.5M303.5 183.7l0.2 0.4M303.5 183.7l0.3-2.4M304.5 95.5l-1-2.3M303.5 93.2l0.3-0.8M304 141.9l-0.3 0.1M304.5 118.4l-0.8 0.3M303.7 184.1l0.9 0.2M304 150.1l-0.2-1.4M303.8 148.7l0.2-0.3M304.5 100.1l-0.7-0.1M306.3 158.4l-2.5-1.9M303.8 156.5l1.1-1.7M303.8 190.8l2.1 0.6M304.9 187.8l-1.1 0.3M306.9 91.4l-3.1 1M303.8 173.2l1.2 0.4M303.8 181.3l2-0.2M304 132.6l-0.1-1.7M303.9 130.9l1.9-0.6M304 109.7l0.6 1.7M304.7 108.1l-0.7 1.6M304.6 148.2l-0.6 0.2M305.9 151l-1.9-0.9M305.4 132.8l-1.4-0.2M304 134.8l1.6 0.2M305.6 143l-1.6-1.1M304.6 140l-0.6 1.9M304 76.5l0.9 2.5M305.4 74.3l-1.4 0.7M305.1 116.2l-1-1.3M304.1 114.9l1.4-1.8M304.2 84.9l0.1-0.1M304.2 126.7l0.3 1.6M304.2 126.7l1.9-0.8M304.3 84.8l-0.1-2.4M305.4 81.1l-1.2 1.3M304.3 139.6l0.3 0.4M304.8 137.7l-0.5 1.9M306.9 85.7l-2.6-0.9M304.7 108.1l-0.3-0.7M306.3 104.5l-1.9 2.9M304.9 154.8l-0.4-1.4M306 152l-1.5 1.4M305.6 118.9l-1.1-0.5M305.1 116.2l-0.6 2.2M306.1 102.1l-1.6-2M304.5 100.1l2.1-2.8M304.5 95.5l1 0.4M304.7 165.7l-0.2-0.9M304.5 164.8l1.6-1.9M304.5 128.3l1.1 0.8M305.8 186.4l-1.2-2.1M307 182.8l-2.4 1.5M305.3 144.9l-0.7 0M305.2 111.8l-0.6-0.4M306 140.4l-1.4-0.4M306.8 148.6l-2.2-0.4M304.6 148.2l1.2-2.8M306.6 108.5l-1.9-0.4M304.7 165.7l1.5 0.7M305.9 137.2l-1.1 0.5M304.8 176.2l0.6 0.6M305.2 173.8l-0.4 2.4M304.8 160.5l0.2 0.8M304.8 160.5l1.5-2.1M307.4 155l-2.5-0.2M305.1 79.2l-0.2-0.2M306.8 189.6l-1.9-1.8M304.9 187.8l0.9-1.4M306.7 171.2l-1.7-1.3M305 169.9l0-0.9M305 169l1.3-1.1M305 161.3l1 1M305 173.6l0.2 0.2M305 173.6l1.7-2.4M305.1 116.2l2.8-0.5M305.1 79.2l0.3 1.9M305.1 79.2l1.8-1M305.1 122.7l0.4 0M307.8 174.7l-2.6-0.9M305.2 111.8l0.3 1.3M307.5 110.6l-2.3 1.2M305.8 145.4l-0.5-0.5M305.6 143l-0.3 1.9M306.9 91.4l-1.6-2.5M307 86.7l-1.7 2.2M305.3 194l0.9-1.8M305.4 81.1l3.1 1.1M305.4 178.4l0.7 0.7M305.4 178.4l0-1.6M305.4 74.3l0.3 0.1M305.6 70.4l-0.2 3.9M305.4 176.8l2.5-0.6M305.9 134.6l-0.5-1.8M305.4 132.8l1.1-1M305.5 113.1l2.4 1.1M305.5 122.7l1.5 1.7M306.5 121.1l-1 1.6M305.5 95.9l1.1 1.4M308.3 92.7l-2.8 3.2M306.5 121.1l-0.9-2.2M307.9 117.9l-2.3 1M305.9 137.2l-0.3-2.2M305.6 135l0.3-0.4M305.8 130.3l-0.2-1.2M305.6 129.1l1.6-1.3M306.6 142.3l-1 0.7M305.7 103.4l0.6 1.1M305.7 103.4l0.4-1.3M305.8 181.1l1.2 1.1M305.8 181.1l0.3-2M306.5 145.5l-0.7-0.1M306.7 186.3l-0.9 0.1M305.8 130.3l0.4 0.3M307.1 137.5l-1.2-0.3M305.9 151l0.1 1M305.9 151l1.3-1.3M305.9 134.6l2.1-0.4M306.2 192.2l-0.3-0.8M306.8 189.6l-0.9 1.8M306 152l1.6 0.8M306 140.4l0.6 1.9M307.7 139.3l-1.7 1.1M306 162.3l0.1 0.6M308.1 160.9l-2.1 1.4M306.1 125.9l1.1 1.9M307 124.4l-0.9 1.5M306.1 102.1l2.7-1.3M306.1 179.1l2-0.3M307.8 164.1l-1.7-1.2M306.5 131.8l-0.3-1.2M306.2 130.6l1.8-0.8M306.3 167.9l-0.1-1.5M306.2 166.4l1.9-1M306.2 192.2l3.5 0.7M307.9 105.3l-1.6-0.8M306.6 158.4l-0.3 0M307.8 168.7l-1.5-0.8M306.5 145.5l1.1 1.5M306.5 145.5l2.3-1.7M308.6 120.8l-2.1 0.3M308.4 132.8l-1.9-1M308.3 160.3l-1.7-1.9M306.6 158.4l1.4-1.5M307.5 142.4l-0.9-0.1M306.6 108.5l1 1.8M308.3 106.8l-1.7 1.7M308 97.7l-1.4-0.4M306.7 171.2l1.1-0.1M306.7 186.3l2.1 1.4M306.7 186.3l1.2-2M306.8 148.6l0.4 1.1M307.6 147l-0.8 1.6M306.8 189.6l1.6-0.4M306.9 78.2l1.8 1.2M307.2 77l-0.3 1.2M307 86.7l-0.1-1M306.9 85.7l1.1-0.9M307.6 91.5l-0.7-0.1M307 182.8l0.9 1.5M307 182.8l0-0.6M307 124.4l0.6 0M308.9 89.1l-1.9-2.4M307 182.2l2-1.2M307.1 137.5l0.6 1.8M307.1 137.5l1.4-1M307.2 149.7l1.7 0.5M307.2 127.8l1 0.2M307.4 155l0.6 1.7M307.9 154.1l-0.5 0.9M307.5 142.4l1.3 1.4M308.8 140l-1.3 2.4M307.5 110.6l1.4 2.6M307.6 110.3l-0.1 0.3M307.6 91.5l0.7 1.2M307.6 91.5l1.3-2.4M309.7 146.9l-2.1 0.1M307.9 154.1l-0.3-1.3M307.6 152.8l1.4-1.7M307.6 110.3l1.9-0.7M307.6 124.4l1.9 2.4M309.5 123.1l-1.9 1.3M308.8 140l-1.1-0.7M307.8 164.1l0.3 1M307.8 164.1l1.5-1.8M308.7 171.6l-0.9-0.5M307.8 171.1l0-2.4M307.8 174.7l0.5 0.9M307.8 174.7l0.9-3.1M307.8 168.7l1.2-0.8M308.3 106.8l-0.4-1.5M307.9 105.3l2.1-1.4M308.4 116.6l-0.5-0.9M307.9 114.2l0 1.5M310.3 153.9l-2.4 0.2M308.1 178.8l-0.2-2.6M308.3 175.6l-0.4 0.6M309.1 184.5l-1.2-0.2M307.9 114.2l1-1M308.9 120l-1-2.1M307.9 117.9l0.5-1.3M309.1 130.8l-1.1-1M308 129.8l0.2-1.8M309.7 158.5l-1.7-1.6M308 156.9l0-0.2M308 134.2l0.6 1.2M308.4 132.8l-0.4 1.4M308 84.8l2.9 1M308 84.8l0.5-2.6M310.5 156.1l-2.5 0.6M308.8 98.8l-0.8-1.1M309.6 95.4l-1.6 2.3M308.1 165.4l0.9 1.4M308.1 165.1l0 0.3M309 179.5l-0.9-0.7M309.3 162.3l-1.2-1.4M308.3 160.3l-0.2 0.6M308.1 165.1l2.8-0.9M309 127.7l-0.8 0.3M308.3 160.3l1.3-0.6M309.8 175.7l-1.5-0.1M308.3 106.8l1.8 1M308.6 92.9l-0.3-0.2M308.4 132.8l0 0M308.4 132.8l0.7-2M308.4 189.2l1.6 2.1M308.8 187.7l-0.4 1.5M310.7 133.1l-2.3-0.3M310.4 116.8l-2-0.2M308.5 82.2l0.1-0.1M308.5 136.5l1.4 0.8M308.5 136.5l0.1-1.1M308.6 82.1l0.1-2.7M308.6 82.1l2.6-0.2M308.6 92.9l1 2.5M312.2 92.1l-3.6 0.8M310.9 134.9l-2.3 0.5M308.6 120.8l1 1.7M308.9 120l-0.3 0.8M308.7 171.6l0.2 0M308.7 79.4l1.9-1.2M308.8 98.8l0 2M308.8 98.8l3.1-0.9M308.8 143.8l0 0M308.8 143.8l0.9 3.1M308.8 143.8l0.9-0.4M308.8 187.7l1.1-0.6M308.8 100.8l0.9 0.6M309.4 140l-0.6 0M308.9 150.2l0.1 0.9M309.8 149.3l-0.9 0.9M310.6 112.9l-1.7 0.3M311.1 173.6l-2.2-2M308.9 171.6l1.4-1M310.9 119.3l-2 0.7M310 88.9l-1.1 0.2M309.8 181.7l-0.8-0.7M309 181l0-1.5M310.6 152.4l-1.6-1.3M309 167.9l1.6 0.9M309 167.9l0-1.1M309 127.7l1.5 1.9M309.5 126.8l-0.5 0.9M311.1 166.2l-2.1 0.6M309.3 179.4l-0.3 0.1M309.1 184.5l0.8 2M310.4 183.4l-1.3 1.1M309.1 130.8l1.3-0.5M309.3 179.4l1.3-2.6M311.8 179.3l-2.5 0.1M309.3 162.3l0.9 0.1M309.4 140l1.2 1.8M309.4 140l0.6-0.7M311.2 124.6l-1.7-1.5M309.6 122.5l-0.1 0.6M310.6 126.5l-1.1 0.3M309.5 109.6l1.4 1.6M310.1 107.8l-0.6 1.8M312.2 121.4l-2.6 1.1M309.6 159.7l1.2 0.6M309.7 158.5l-0.1 1.2M311.9 95.8l-2.3-0.4M309.7 192.9l0.1 1.6M309.7 192.9l0.5-1M309.7 158.5l1.7-1.1M310 103.9l-0.3-2.5M312.1 101l-2.4 0.4M311.9 144.8l-2.2-1.4M309.7 143.4l0.9-1.6M309.7 146.9l0.3 0.2M312.1 150.1l-2.3-0.8M310 147.1l-0.2 2.2M310.4 183.4l-0.6-1.7M309.8 181.7l2-0.6M309.8 175.7l0.8 1.1M311.1 174l-1.3 1.7M309.9 187.1l1.3 0.7M309.9 186.5l0 0.6M310 139.3l-0.1-2M309.9 137.3l1.7-0.7M312 185l-2.1 1.5M311.7 90.1l-1.7-1.2M310 88.9l1.1-2.3M310 139.3l1.8-0.3M310 103.9l1.5 0.8M310 147.1l0.9-0.3M310 191.3l0.2 0.6M311.5 189.1l-1.5 2.2M310.1 107.8l1.5-0.5M310.2 191.9l3.2-0.2M310.2 162.4l0.9 1.5M310.2 162.4l0.8-1.4M312.2 171.1l-1.9-0.5M310.3 170.6l0.3-1.8M310.3 153.9l0.6 0.9M310.3 153.9l0.3-1.5M311.2 183.7l-0.8-0.3M310.9 119.3l-0.5-2.5M310.4 116.8l1.1-0.8M310.8 130.7l-0.4-0.4M310.5 129.6l-0.1 0.7M310.5 129.6l2-1.6M311.4 157.4l-0.9-1.3M310.5 156.1l0.4-1.3M312.5 127.7l-1.9-1.2M311.2 124.6l-0.6 1.9M310.6 112.9l0.9 3.1M310.6 112.9l0.1-0.1M311.9 168.2l-1.3 0.6M312.5 151.6l-1.9 0.8M310.6 141.8l0.6 0M311.9 177.2l-1.3-0.4M310.7 133.1l0.2 1.8M311 132.8l-0.3 0.3M314.1 113.2l-3.4-0.4M310.7 112.8l0.2-1.6M310.8 160.3l0.2 0.7M312.3 159l-1.5 1.3M310.8 130.7l2.1 0M311 132.8l-0.2-2.1M311.7 135.5l-0.8-0.6M313.6 154.6l-2.7 0.2M311.1 86.6l-0.2-0.8M312.6 83.8l-1.7 2M310.9 164.2l0.2 2M311.1 163.9l-0.2 0.3M313.4 148.1l-2.5-1.3M311.9 144.8l-1 2M310.9 119.3l1.6 0.8M310.9 111.2l1.9-1.1M312.9 161.7l-1.9-0.7M311 132.8l1.8 0M311.1 163.9l0.1 0M311.1 174l0-0.4M311.1 173.6l1.2-1.1M311.1 86.6l1.6 0.7M311.1 174l1.5 0.8M311.1 166.2l0.6 0.5M312.6 83.8l-1.4-1.9M311.2 81.9l1-2.2M313.3 124l-2.1 0.6M311.2 187.8l0.3 1.3M311.2 187.8l1.9-0.9M311.2 183.7l0.8 1.3M311.2 183.7l1.9-1.7M311.2 141.8l1.7 1.8M311.2 141.8l1.6-1.4M311.2 163.9l2.1 1.1M312.9 162.5l-1.7 1.4M311.4 157.4l1.1 0.5M312 106.8l-0.5-2.1M311.5 104.7l1.5-1.3M311.5 189.1l1.8 0.4M311.9 116.1l-0.4-0.1M311.6 107.3l1.2 2.8M311.6 107.3l0.4-0.5M311.6 136.6l0.4 0.4M311.7 135.5l-0.1 1.1M311.7 166.7l0.2 1.5M311.7 166.7l1.8-1M313.1 134.7l-1.4 0.8M311.8 179.3l0 1.8M311.9 179.2l-0.1 0.1M311.8 139l1 0.8M311.8 139l0.2-2M311.8 181.1l1.3 0.9M311.9 144.8l0.9-0.4M313.6 118.1l-1.7-2M311.9 116.1l1.9-1.4M312.9 168.7l-1-0.5M313.6 179.4l-1.7-0.2M311.9 177.2l0 2M311.9 95.8l0 2.1M311.9 95.8l0.8-0.8M311.9 97.9l0.6 0.6M313 176.7l-1.1 0.5M312 137l2.5 0.4M312 185l0.5 0.2M312 106.8l1.6-0.1M312.5 151.6l-0.4-1.5M313.4 148.1l-1.3 2M312.1 101l0.7 0.5M312.5 98.5l-0.4 2.5M312.2 121.4l1.1 2.6M312.5 120.1l-0.3 1.3M312.2 92.1l0-1M312.3 172.5l-0.1-1.4M313.1 170.3l-0.9 0.8M312.5 92.3l-0.3-0.2M313.5 172.8l-1.2-0.3M312.3 159l1.4 1.8M312.3 159l0.2-1.1M312.7 95l-0.2-2.7M315.3 92.2l-2.8 0.1M313.7 152.3l-1.2-0.7M315.2 98.3l-2.7 0.2M312.5 157.9l0.4-0.2M312.8 120l-0.3 0.1M312.5 127.7l0 0.3M313.3 126.9l-0.8 0.8M312.5 185.2l0.8 1.3M312.5 185.2l1.7-1.8M312.5 128l1.3 1.7M314.1 83.9l-1.5-0.1M313 176.7l-0.4-1.9M312.6 174.8l1.3-0.7M315.6 95.9l-2.9-0.9M312.8 110.1l1.3 0.3M312.8 140.4l0-0.6M312.8 139.8l1.6-1.4M314 145.2l-1.2-0.8M312.8 144.4l0.1-0.8M312.8 132.8l0.3 1.9M312.9 132.7l-0.1 0.1M312.8 120l2.5 0.9M312.8 120l0.8-1.9M312.8 101.5l0.2 1.9M312.8 101.5l2.2-0.6M312.8 140.4l1.8 1.4M314.1 157.9l-1.2-0.2M313.6 154.6l-0.7 3.1M312.9 132.7l0-2M313.8 129.7l-0.9 1M312.9 161.7l0 0.8M313.7 160.8l-0.8 0.9M312.9 162.5l1.4 1M312.9 143.6l1.7-1.8M313.1 170.3l-0.2-1.6M314.5 167.9l-1.6 0.8M312.9 132.7l2.3-0.2M314.3 177l-1.3-0.3M313 103.4l1.9 0.7M314.9 171.1l-1.8-0.8M313.1 182l0.1 0M313.1 134.7l1.3 0.4M313.8 188.9l-0.7-2M313.3 186.5l-0.2 0.4M314.2 183.4l-1-1.4M314.4 180.5l-1.2 1.5M313.3 189.5l0.1 2.2M313.8 188.9l-0.5 0.6M313.3 126.9l1.9 0.1M313.3 126.9l0.1-2.9M313.3 124l0.1 0M313.3 165l0.2 0.7M314.3 163.5l-1 1.5M314.5 186.3l-1.2 0.2M313.4 124l1-0.1M313.5 148.1l-0.1 0M313.9 192l-0.5-0.3M314.2 166.2l-0.7-0.5M313.9 174.1l-0.4-1.3M315.1 171.5l-1.6 1.3M313.5 148.1l1.5 0.5M313.5 148.1l0.5-2.9M313.6 118.1l1.9-0.8M313.8 154.4l-0.2 0.2M313.6 106.7l1.8 2.4M313.6 106.7l1.5-1.4M313.6 196.2l1.1-1.2M313.6 179.4l0.8 1.1M314.3 177.1l-0.7 2.3M313.7 160.8l0.2 0M313.7 152.3l0.1 2.1M313.7 152.3l1.2-0.8M313.8 188.9l1.7 0M314.1 129.8l-0.3-0.1M313.8 114.7l1.7 1.9M313.8 114.7l0.3-1.5M313.8 154.4l1.2 0.5M314.4 174.3l-0.5-0.2M314.7 195l-0.8-3M315.2 191.2l-1.3 0.8M315.8 162l-1.9-1.2M314.8 159.4l-0.9 1.4M314.8 145.1l-0.8 0.1M314.6 112.8l-0.5-2.4M315.4 109.1l-1.3 1.3M314.1 129.8l1.5 1.1M314.1 129.8l1.5-1.8M314.1 113.2l0.5-0.4M314.1 157.9l0.7 1.5M314.1 157.9l1.9-0.9M314.5 167.9l-0.3-1.7M315.8 165.2l-1.6 1M315.2 183.7l-1-0.3M315 163.4l-0.7 0.1M314.3 177l0 0.1M314.3 177l0.7-0.8M316.2 178.6l-1.9-1.5M315.6 180.4l-1.2 0.1M315 176.2l-0.6-1.9M315.8 173.4l-1.4 0.9M314.4 135.1l0.1 2.3M315.7 134.3l-1.3 0.8M314.4 123.9l1.5 1.2M314.4 123.9l1.1-1.7M314.4 138.4l1.5 1.7M314.5 137.5l-0.1 0.9M314.5 137.5l0-0.1M315.3 186.8l-0.8-0.5M315.4 184.1l-0.9 2.2M316.5 90.4l-2-1.2M314.6 167.9l-0.1 0M317 137.2l-2.5 0.3M316.8 113.1l-2.2-0.3M314.6 167.9l1 1.6M314.6 167.9l2.2-0.7M314.6 141.8l0.4 0M316.9 194.7l-2.2 0.3M316.3 146.2l-1.5-1.1M314.8 145.1l1.1-1.8M314.8 159.4l1.7 0.1M317.1 152.4l-2.2-0.9M314.9 151.5l0.5-2.1M315.1 105.3l-0.2-1.2M316.1 102.6l-1.2 1.5M315.1 171.5l-0.2-0.4M314.9 171.1l0.7-1.6M315 100.9l1.1 1.7M315.7 99.1l-0.7 1.8M315 154.9l1 2.1M317.3 153.8l-2.3 1.1M315 163.4l0.8 1.8M315.8 162.4l-0.8 1M315.7 142.5l-0.7-0.7M315.9 140.1l-0.9 1.7M315 176.2l1.6-0.5M315 148.6l0.4 0.8M316.4 147.2l-1.4 1.4M316.9 106.1l-1.8-0.8M315.3 171.7l-0.2-0.2M315.2 191.2l2.7 0.4M315.2 191.2l0.3-2.3M315.8 134l-0.6-1.5M315.6 130.9l-0.4 1.6M315.2 183.7l0.2 0.4M316.3 182.4l-1.1 1.3M315.2 98.3l0.5 0.8M315.6 95.9l-0.4 2.4M315.2 127l0.4 1M315.2 127l0.8-1.2M315.3 120.9l0.2 1.3M316.3 119.9l-1 1M315.3 186.8l0.4 1.8M316.7 186.2l-1.4 0.6M316.4 95.4l-1.1-3.2M315.3 92.2l1.3-1.4M315.8 173.4l-0.5-1.7M315.3 171.7l2.3-0.4M315.4 149.4l2.3 0.6M315.4 184.1l1.3 0.7M315.4 109.1l0.2 0M315.5 122.2l2 0.4M315.5 117.3l0-0.7M315.5 116.6l2.1-2.6M315.5 117.3l0.1 0.1M315.7 188.8l-0.2 0.1M315.6 128l1.7 0.6M316.6 130.7l-1 0.2M316 180.8l-0.4-0.4M316.2 178.6l-0.6 1.8M315.6 169.5l1.9-0.2M315.6 95.9l0.8-0.5M315.6 109.1l2 1.7M317.1 107.4l-1.5 1.7M315.6 117.4l3.2 0.1M315.6 117.4l0.7 2.5M318.6 99.6l-2.9-0.5M318.6 190.9l-2.9-2.1M315.7 188.6l0 0.2M315.9 143.3l-0.2-0.8M315.7 142.5l2.9-0.8M317.2 136l-1.5-1.7M315.8 134l-0.1 0.3M317.6 187.6l-1.9 1M315.8 162.4l1.7 1.3M315.8 162l0 0.4M315.8 165.2l0.7 0.3M317.9 133.1l-2.1 0.9M315.8 173.4l0.5 0.3M315.8 162l0.4-0.4M317 139.7l-1.1 0.4M315.9 125.1l0.1 0.7M315.9 125.1l1.5-0.8M315.9 143.3l1.9 1.3M316 125.8l1.7 1M316.3 182.4l-0.3-1.6M318.3 180.4l-2.3 0.4M316 157l0.4 0.2M317.6 102.7l-1.5-0.1M316.2 178.6l0.8-0.3M316.2 161.6l2.3 0M316.5 159.5l-0.3 2.1M316.3 146.2l0.1 1M316.3 146.2l1.5-1.6M316.6 175.7l-0.3-2M316.3 173.7l1.8-0.6M316.3 119.9l1.6 0.2M317.8 182.8l-1.5-0.4M316.4 95.4l0.5-0.1M316.4 147.2l2.5 0.6M316.8 159.3l-0.4-2.1M316.4 157.2l0.9-0.4M316.5 90.4l0.1 0.4M317.3 88.1l-0.8 2.3M316.5 165.5l0.3 1.7M316.5 165.5l0.9-0.6M316.5 159.5l0.3-0.2M317.6 131.3l-1-0.6M316.6 130.7l0.7-2.1M316.6 90.8l1.6 0.6M316.6 175.7l1.2 0.5M316.7 184.8l0 1.4M318.2 184.2l-1.5 0.6M317.7 186.9l-1-0.7M316.8 159.3l1.4 0.2M317.6 114l-0.8-0.9M316.8 113.1l0.8-2.3M316.8 167.2l1 0.7M319 196l-2.1-1.3M316.9 194.7l1-3.1M316.9 95.3l2 1.9M316.9 95.3l1.9-1.6M316.9 106.1l0.2 1.3M317.2 105.9l-0.3 0.2M317 139.7l1.5 1.1M317.4 137.7l-0.4 2M317.4 137.7l-0.4-0.5M317.2 136l-0.2 1.2M317 178.3l1.3 0.9M317.8 176.2l-0.8 2.1M317.1 152.4l0.2 1.4M317.1 152.4l0.8-0.9M317.1 107.4l2.5 1.2M319.1 135l-1.9 1M317.3 153.8l0.9 0.7M317.4 128.5l-0.1 0.1M319 158l-1.7-1.2M318.3 155.2l-1 1.6M317.4 164.9l1.6 0.6M317.5 163.7l-0.1 1.2M319.9 129.2l-2.5-0.7M317.7 126.8l-0.3 1.7M317.4 124.3l1.2 0.6M317.5 122.6l-0.1 1.7M317.4 137.7l1.5 0.2M317.6 171.3l-0.1-2M317.8 168.9l-0.3 0.4M317.5 163.7l1.4-0.9M317.5 122.6l1.1-0.7M317.6 114l0.9 0.3M319 189.5l-1.4-1.9M317.6 187.6l0.1-0.7M317.6 171.3l0.4 0.3M317.6 110.8l1.6-0.6M317.6 131.3l0.3 1.8M319.7 130.6l-2.1 0.7M318.7 186.3l-1 0.6M318.6 126.3l-0.9 0.5M317.9 151.5l-0.2-1.5M319 148.7l-1.3 1.3M320.2 169.9l-2.4-1M317.8 167.9l0 1M317.8 176.2l0 0M317.8 176.2l0.9-2.5M317.8 167.9l0.5-0.4M317.8 176.2l2 0.6M317.8 144.6l0.5-0.1M318.2 184.1l-0.4-1.3M317.8 182.8l1.3-1.5M318.8 133.7l-0.9-0.6M318.6 190.9l-0.7 0.7M317.9 120.1l0.7 1.8M319.1 118.6l-1.2 1.5M317.9 151.5l2.6 0.5M318 171.6l0.1 1.5M320 171l-2 0.6M318.1 173.1l0.6 0.6M318.2 154.5l0.1 0.7M320.3 153.1l-2.1 1.4M318.2 184.2l0.5 2.1M318.2 184.1l0 0.1M318.2 91.4l0.6 2.3M318.2 91.4l1.3-0.8M318.2 184.1l2.1-0.2M318.9 160.3l-0.7-0.8M318.2 159.5l0.8-1.5M318.3 180.4l0-1.2M318.3 179.2l1.8-1.2M318.8 144.8l-0.5-0.3M318.6 141.7l-0.3 2.8M318.3 155.2l1.6 0.9M318.3 180.4l0.8 0.9M318.3 167.5l2.1 0.3M318.3 167.5l0.7-2M318.5 161.6l0.4 1M318.5 161.6l0.4-1.3M318.7 141.5l-0.2-0.7M319.7 138.8l-1.2 2M318.5 114.3l0.6 2.4M320 113.5l-1.5 0.8M318.6 126.3l0-1.4M320 124l-1.4 0.9M318.6 121.9l0 0M318.6 121.9l1.4 2.1M320.9 121.1l-2.3 0.8M320.2 127.1l-1.6-0.8M318.7 141.5l-0.1 0.2M319 100.1l-0.4-0.5M318.9 97.2l-0.3 2.4M318.8 190.8l-0.2 0.1M319.9 173.7l-1.2 0M320 141.7l-1.3-0.2M318.7 186.3l1.3 0.2M318.8 144.8l0.5 2.5M321 144.1l-2.2 0.7M318.8 93.7l2 0.5M321.8 192.3l-3-1.5M318.8 190.8l0.2-1.3M318.8 117.5l0.3 1.1M319.1 116.7l-0.3 0.8M318.8 133.7l0.3 1.3M320.5 132.3l-1.7 1.4M319.7 138.8l-0.8-0.9M318.9 137.9l1-1.9M318.9 162.8l0.9 1.5M318.9 162.6l0 0.2M319.8 160.2l-0.9 0.1M318.9 97.2l2.2-1.1M321.4 161.9l-2.5 0.7M318.9 147.8l0.1 0.9M319.3 147.3l-0.4 0.5M319.3 197.1l-0.3-1.1M319 196l2.7-3.2M319 148.7l2 1.7M319.4 165.3l-0.4 0.2M320.2 188.2l-1.2 1.3M319.6 157.8l-0.6 0.2M320.6 119.3l-1.5-0.7M319.1 135l0.7 0.5M319.2 181.3l-0.1 0M319.1 116.7l3-0.2M320.4 112.4l-1.2-2.2M319.2 110.2l0.5-1M320.4 182.3l-1.2-1M321.1 179.4l-1.9 1.9M322.1 146.8l-2.8 0.5M319.4 165.3l1.8 1.5M319.4 165.3l0.4-1M319.6 108.6l0.1 0.6M320.6 106.9l-1 1.7M319.6 157.8l1.3 0.7M319.9 156.1l-0.3 1.7M322.9 110.1l-3.2-0.9M319.7 130.6l0.8 1.1M319.9 129.2l-0.2 1.4M319.7 138.8l1 0.1M319.8 176.8l0.3 0.5M319.8 176.8l0.9-2M319.9 136l-0.1-0.5M319.8 135.5l2.1-1.2M319.8 160.2l1.7 1.6M320.9 158.7l-1.1 1.5M319.8 164.3l1.3-0.3M321.1 155.7l-1.2 0.4M320.7 174.8l-0.8-1.1M320.6 172.3l-0.7 1.4M319.9 129.2l0 0M319.9 129.2l2.7 0M320.2 127.1l-0.3 2.1M319.9 136l1.5 1.1M320 186.5l0.2 1.7M320.8 185.8l-0.8 0.7M320.5 124.1l-0.5-0.1M320.6 172.3l-0.6-1.3M320.3 170.1l-0.3 0.9M321 144.1l-1-2.4M320 141.7l1.1-0.6M320 113.5l2.6 1.5M320 113.5l0.4-1.1M320.1 178l0-0.7M322.8 176.8l-2.7 0.5M321.1 179.4l-1-1.4M322.3 188.6l-2.1-0.4M320.2 169.9l0.1 0.2M320.2 169.9l0.2-2.1M320.2 127.1l1.6-1.1M321.5 154.8l-1.2-1.7M320.5 152l-0.2 1.1M320.3 170.1l2.4-0.1M320.3 183.9l0.3 0.4M320.3 183.9l0.1-1.6M320.4 182.3l1.4-0.4M320.4 112.4l2.2-0.9M320.4 167.8l0.9-0.7M320.5 152l0.4-0.4M320.5 132.3l1.5 1.6M320.5 132.3l0-0.6M321.8 126l-1.3-1.9M322.1 122l-1.6 2.1M320.5 131.7l2.3-0.8M320.6 119.3l0.3 1.8M322.5 118.3l-1.9 1M322.8 172.5l-2.2-0.2M320.8 185.8l-0.2-1.5M320.6 184.3l2-0.6M320.7 138.9l0.5 0.4M320.7 138.9l0.7-1.8M321.6 174.7l-0.9 0.1M320.8 185.8l1.8 0.5M323.7 152.7l-2.8-1.1M321 150.4l-0.1 1.2M320.9 158.7l0-0.2M321.9 156.9l-1 1.6M322 121.9l-1.1-0.8M322.6 159.7l-1.7-1M321.9 149.8l-0.9 0.6M321 144.1l0.1 0.1M321.1 155.7l0.8 1.2M321.5 154.8l-0.4 0.9M321.1 164l0.8 0.6M321.4 161.9l-0.3 2.1M321.1 141.1l1.3 0.5M321.1 141.1l0.1-1.8M321.1 144.2l1.3 2.1M321.1 144.2l1.6-1.4M321.1 179.4l0.5 0.1M321.2 139.3l1.7-0.2M321.2 166.8l0.1 0.3M321.9 164.6l-0.7 2.2M321.4 167.1l-0.1 0M321.4 137.1l0.6-0.2M322.8 169l-1.4-1.9M323.8 166.4l-2.4 0.7M321.5 161.8l-0.1 0.1M323.2 154.4l-1.7 0.4M321.5 161.8l0.2 0M323 176.2l-1.4-1.5M323.1 172.9l-1.5 1.8M321.6 179.5l0.4 0.4M323.1 177.6l-1.5 1.9M321.7 161.8l1.7 1.7M321.7 161.8l1.1-1.3M321.7 192.8l1.1 1.7M321.8 192.3l-0.1 0.5M323.7 190.8l-1.9 1.5M321.8 126l0.2 0.1M321.8 181.9l0.8 0.5M321.8 181.9l0.2-2M323.5 157.1l-1.6-0.2M321.9 149.8l2.9 0.3M322.1 146.8l-0.2 3M322.6 136l-0.7-1.7M322 133.9l-0.1 0.4M323.3 164.4l-1.4 0.2M322 179.9l1.8 0.3M322.1 122l-0.1-0.1M323.6 119l-1.6 2.9M322 126.1l1.1 1.2M322 126.1l1.5-1.5M322 133.9l1.2-0.5M322 136.9l1.3 1.4M322 136.9l0.6-0.9M322.1 116.5l0.4 1.8M322.7 115.2l-0.6 1.3M322.1 122l1.1 0.6M322.3 146.7l-0.2 0.1M325.2 148.7l-2.9-2M322.3 146.7l0.1-0.4M322.3 188.6l1.4 2.2M322.3 188.6l0.4-2.1M322.4 146.3l1.1-0.7M322.4 107.1l1 2.6M322.7 142.8l-0.3-1.2M323.5 140.6l-1.1 1M323.6 119l-1.1-0.7M322.6 182.4l0 1.3M322.6 182.4l1.1-0.5M322.7 186.5l-0.1-0.2M322.6 186.3l0.6-2.1M322.6 159.7l0.2 0.8M322.6 159.7l1.1-1.7M323.7 113.2l-1.1-1.7M322.6 111.5l0.3-1.4M322.6 183.7l0.6 0.5M322.6 136l1.6 0M322.6 129.2l0.2 1.7M322.6 129.2l0.5-0.6M322.6 115l0.1 0.2M322.6 115l1.1-1.8M322.7 142.8l1.3 0.6M322.7 186.5l2 0.1M322.7 115.2l2.2 0.8M322.8 172.5l-0.1-2.5M322.7 170l0 0M325.2 170.2l-2.5-0.2M322.8 169l-0.1 1M322.8 169l1.3-1.1M323.1 172.9l-0.3-0.4M322.8 160.5l1.1 0.3M322.8 176.8l0.3 0.8M323 176.2l-0.2 0.6M322.8 130.9l0.2 0.1M323.5 140.6l-0.6-1.5M322.9 139.1l0.4-0.8M323.4 109.7l-0.5 0.4M323 131l0.2 2.4M323 131l2.2 0M323 176.2l1.4-0.9M323.4 173l-0.3-0.1M323.1 127.3l0 1.3M323.1 127.3l2.3-0.5M323.1 128.6l1.9 0.7M323.1 177.6l1.4 0.8M323.2 122.6l0.3 2M323.2 122.6l1.2-0.4M323.2 133.4l1.2 0.3M323.2 154.4l1.1 1.5M323.2 154.4l0.5-1.7M324.4 184.1l-1.2 0.1M323.3 164.4l1 1.1M323.3 164.4l0.1-0.9M324.5 137.9l-1.2 0.4M324.4 175.3l-1-2.3M323.4 173l1-0.4M323.4 109.7l1.5-0.1M323.4 163.5l0.9-0.8M323.5 124.6l1.7 0.2M323.5 157.1l0.2 0.9M324.3 155.9l-0.8 1.2M323.5 140.6l0.7 0.1M325.3 145.8l-1.8-0.2M324 143.4l-0.5 2.2M323.6 119l0 0M325.2 117.3l-1.6 1.7M323.6 119l1.6 1.3M323.7 113.2l1.3-0.2M323.7 158l1.3 0.6M323.7 152.7l1.1-0.7M323.7 190.8l0.6-0.1M324.5 182.4l-0.8-0.5M323.7 181.9l0.1-1.7M324.1 167.9l-0.3-1.5M323.8 166.4l0.5-0.9M323.8 180.2l1-0.7M323.9 160.8l0.4 1.9M325.4 160.3l-1.5 0.5M325.6 142.8l-1.6 0.6M324.1 167.9l1.4 0.5M324.6 136.4l-0.4-0.4M324.2 136l0.2-2.3M324.2 140.7l1.4 2M324.2 140.7l1.5-1.4M325.3 165.5l-1 0M324.3 155.9l1.6-0.1M324.3 162.7l1.9 0.3M324.3 190.7l2 3.1M324.3 190.7l1.9-1.6M324.4 172.6l1.9 1M324.4 172.6l1.1-2M326.4 123.7l-2-1.5M324.4 122.2l0.8-1.9M324.4 184.1l0.7 0.5M324.4 184.1l0.1-1.7M325.1 133.4l-0.7 0.3M324.4 175.3l0.5 0.2M324.8 179.5l-0.3-1.1M325.7 176.7l-1.2 1.7M325.7 138.7l-1.2-0.8M324.5 137.9l0.1-1.5M325.9 181.9l-1.4 0.5M324.6 136.4l1.9-0.6M324.7 186.6l1.3 1.7M325.1 184.6l-0.4 2M325.7 179.9l-0.9-0.4M324.8 150.1l0.4 1M325.2 148.7l-0.4 1.4M326.5 154.5l-1.7-2.5M324.8 152l0.4-0.9M324.9 109.6l0.8 1.2M325.5 108.8l-0.6 0.8M325.2 117.3l-0.3-1.3M326.6 114.6l-1.7 1.4M325.6 176.2l-0.7-0.7M324.9 175.5l1.4-1.9M324.9 106.6l0.6 2.2M325.3 130.9l-0.3-1.6M325.8 128.4l-0.8 0.9M325 158.6l0.4 1.7M325 158.6l1.6-1.3M326.5 114.1l-1.5-1.1M325 113l0.7-2.2M325.1 184.6l1.2-0.2M326.1 133.8l-1-0.4M325.2 131l-0.1 2.4M325.2 148.7l1.2-1.1M325.2 124.8l0.2 2M325.2 124.8l1.2-1.1M325.2 170.2l0.3 0.4M325.2 170.2l0.3-1.8M325.2 117.3l1.9 0.6M326.9 120.3l-1.7 0M327.3 151.2l-2.1-0.1M325.3 130.9l-0.1 0.1M325.3 165.5l0.8 2.5M325.8 165.1l-0.5 0.4M326.4 147.6l-1.1-1.8M326.2 144l-0.9 1.8M327.2 130.7l-1.9 0.2M325.4 126.8l0.4 1.6M325.4 126.8l0 0M325.4 126.8l2.5-0.3M325.4 160.3l0.4 0.1M325.5 108.8l2.6-0.7M325.5 168.4l0.6-0.4M325.9 170.8l-0.4-0.2M326.2 144l-0.6-1.2M325.6 142.8l0-0.1M326.2 142.2l-0.6 0.5M325.7 176.7l-0.1-0.5M325.6 176.2l2.3-0.7M325.7 176.7l1.3 1.2M328 111.3l-2.3-0.5M325.7 139.3l1 1.4M325.7 138.7l0 0.6M325.7 138.7l1.4-0.7M325.9 181.9l-0.2-2M325.7 179.9l1-0.4M326.3 193.8l-0.5 1.6M325.8 165.1l2.2 1M325.8 165.1l0.6-1.7M327.5 128.8l-1.7-0.4M325.8 160.4l0.6 1.9M325.8 160.4l1.7-0.9M325.9 155.8l0.7 1.2M326.5 154.5l-0.6 1.3M325.9 181.9l0.5 0.4M326.7 171.6l-0.8-0.8M328.1 169.3l-2.2 1.5M326.2 189.1l-0.2-0.8M326 188.3l1.2-2.4M326.9 168l-0.8 0M326.5 135.8l-0.4-2M327.3 133.3l-1.2 0.5M328.2 144.9l-2-0.9M326.2 189.1l2 0.4M326.4 163.4l-0.2-0.4M326.4 162.3l-0.2 0.7M328.4 142.4l-2.2-0.2M326.7 140.7l-0.5 1.5M326.3 184.4l0.5 0.3M326.3 184.4l0.1-2.1M326.3 173.6l0.1-0.1M326.3 193.8l2.8-0.6M326.4 163.4l2.1 0.5M326.4 147.6l0.4 0M327.7 174.1l-1.3-0.6M326.7 171.6l-0.3 1.9M326.5 123.7l-0.1 0M326.4 182.3l2-0.3M326.4 162.3l1.8-0.7M327 136.3l-0.5-0.5M326.6 114.6l-0.1-0.5M326.5 114.1l1.8-1.9M326.7 123.8l-0.2-0.1M326.5 123.7l0.4-3.4M326.5 154.5l1.5-0.5M326.6 157.3l0.9 2.2M326.6 157l0 0.3M326.6 114.6l1.2 1M326.6 157l2.1-0.2M327.4 179.8l-0.7-0.3M326.7 179.5l0.3-1.6M326.7 171.6l1.7 0.1M326.7 123.8l1.4 1.8M326.7 123.8l2.7-1.4M328.4 140.2l-1.7 0.5M326.8 147.6l2.1 1.1M326.8 147.6l1.4-2.7M327.2 185.9l-0.4-1.2M326.8 184.7l1.3-0.6M327.1 120.1l-0.2 0.2M326.9 168l1.2 1.3M326.9 168l1.1-1.9M327 136.3l0.1 1.7M328.5 135.7l-1.5 0.6M327 177.9l1-0.5M327.1 120.1l2.2 1.3M327.1 120.1l0.4-1.5M328.1 138.5l-1-0.5M327.1 105.9l1.1 1.2M327.1 117.9l0.4 0.7M327.1 117.9l0.7-2.3M327.2 130.7l0.3 0.3M327.5 128.8l-0.3 1.9M327.2 185.9l2.1 0.2M327.3 133.3l1.5 0.6M327.5 131l-0.2 2.3M327.3 151.2l1.2 1.3M328.9 148.8l-1.6 2.4M327.4 179.8l1.2 2.1M327.4 179.8l2.2-1M327.5 159.5l0.9 0.2M327.5 131l2.3 0.2M327.5 118.6l2.5-0.4M328.3 128.1l-0.8 0.7M327.7 174.1l0.3 1.2M327.7 174.1l1.4-1.5M327.8 115.6l1.9-0.2M328 177.4l-0.1-1.9M327.9 175.5l0.1-0.2M328.4 127.6l-0.5-1.1M327.9 126.5l0.2-0.9M328.3 112.2l-0.3-0.9M328.9 109l-0.9 2.3M328 177.4l1.4 0.6M328.9 154.8l-0.9-0.8M328.5 152.5l-0.5 1.5M328 166.1l0.2 0M328 175.3l1.9 0.3M330.1 124.7l-2 0.9M328.1 184.1l1.3 0.8M328.1 184.1l0.3-2.1M328.4 140.2l-0.3-1.7M328.1 138.5l1.7-0.9M328.1 169.3l0 0M329.2 167.8l-1.1 1.5M328.9 109l-0.8-0.9M328.2 107.1l-0.1 1M328.6 169.8l-0.5-0.5M330.2 105.4l-2 1.7M328.8 166.3l-0.6-0.2M328.2 166.1l0.3-2.2M328.2 161.6l1 0.9M328.4 159.7l-0.2 1.9M328.4 144.8l-0.2 0.1M328.2 189.5l1.2 1.1M328.2 189.5l1.7-2.6M328.3 112.2l1 0.4M328.3 128.1l1.9 2.2M328.3 128.1l0.1-0.5M329.1 172.6l-0.7-0.9M328.4 171.7l0.2-1.9M328.4 144.8l1.9 1.7M328.4 144.8l0.4-0.7M328.4 142.4l0.4 1.7M328.4 142.4l0.6-0.9M328.8 159.6l-0.4 0.1M328.6 181.9l-0.2 0.1M328.9 140.5l-0.5-0.3M330.6 127.3l-2.2 0.3M330.1 152.1l-1.6 0.4M328.5 135.7l1.5 1.1M328.5 135.7l0.3-1.8M328.8 163.7l-0.3 0.2M329 181.9l-0.4 0M328.6 169.8l2.1 0.2M329.1 157.2l-0.4-0.4M328.9 154.8l-0.2 2M329.2 167.8l-0.4-1.5M328.8 166.3l1.4-0.5M330.2 164.5l-1.4-0.8M329.2 162.5l-0.4 1.2M328.9 133.8l-0.1 0.1M330.4 160l-1.6-0.4M329.1 157.2l-0.3 2.4M328.8 144.1l2.2-0.6M328.9 140.5l0.1 1M328.9 140.5l2.3-1.1M328.9 148.8l0-0.1M328.9 148.7l1.5-2M331.6 134.4l-2.7-0.6M328.9 133.8l0.9-2.6M328.9 109l1.5 0.1M328.9 148.8l1.3 1M330.4 154.7l-1.5 0.1M329.9 182.7l-0.9-0.8M329.9 180.8l-0.9 1.1M329 141.5l1.9 0.7M329.1 172.6l0.6 0.1M330.6 195l-1.5-1.8M329.4 190.6l-0.3 2.6M330.1 157.1l-1 0.1M329.9 162.2l-0.7 0.3M330.8 168.1l-1.6-0.3M329.3 104.2l0.9 1.2M329.7 115.4l-0.4-2.8M329.3 112.6l2.8-0.8M329.3 121.4l0.1 1M329.3 121.4l1.3-1.2M329.3 186.1l0.6 0.8M329.3 186.1l0.1-1.2M329.4 190.6l3.9-0.5M330 184.3l-0.6 0.6M329.4 122.4l0.5 0.6M329.4 178l0.3 0.6M329.4 178l0.7-2.2M329.9 180.8l-0.3-2M329.6 178.8l0.1-0.2M330.6 116l-0.9-0.6M329.7 197.8l0.9-2.8M330.8 178.5l-1.1 0.1M330.2 173l-0.5-0.3M329.7 172.7l1-2.7M331.2 139.4l-1.4-1.8M329.8 137.6l0.2-0.8M329.8 131.2l0 0M329.8 131.2l0.4-0.9M332 133l-2.2-1.8M329.9 180.8l2 0M329.9 186.9l2 0M331.6 163.4l-1.7-1.2M329.9 162.2l0.8-1.8M329.9 175.6l0.2 0.2M330.2 173l-0.3 2.6M330 184.3l-0.1-1.6M331.9 182.5l-2 0.2M329.9 123l0.2 1.7M332.3 122.7l-2.4 0.3M330 118.2l0.7 1.2M330 118.2l0.6-2.2M331.4 135.8l-1.4 1M331.4 184.4l-1.4-0.1M330.1 152.1l1.5 1M330.2 149.8l-0.1 2.3M330.1 124.7l1 0.8M330.1 157.1l1.2 1M330.1 157.1l0.8-1.2M330.8 175.8l-0.7 0M330.2 164.5l0 1.3M331.6 163.4l-1.4 1.1M330.2 149.8l2.4-0.3M331.5 173.1l-1.3-0.1M330.2 130.3l0.3-0.2M331.4 166.4l-1.2-0.6M331.8 105.6l-1.6-0.2M330.3 146.5l0.1 0.2M330.3 146.5l1.7-2.1M332.7 148l-2.3-1.3M330.4 154.7l0.5 1.2M330.4 154.7l1.2-1.6M330.4 160l0.3 0.4M331.3 158.1l-0.9 1.9M332 111.1l-1.6-2M330.4 109.1l1.6-2.3M332.6 130.5l-2.1-0.4M331.3 128.1l-0.8 2M331.3 115.8l-0.7 0.2M331.3 128.1l-0.7-0.8M331.1 125.5l-0.5 1.8M330.6 195l1.1-0.4M330.6 120.2l2 1.3M330.7 119.4l-0.1 0.8M332.2 160.8l-1.5-0.4M330.7 119.4l2.3-0.7M331 169.9l-0.3 0.1M330.8 178.5l1.7 1.6M332 177.2l-1.2 1.3M332.1 177l-1.3-1.2M332.3 174.2l-1.5 1.6M331.2 169.6l-0.4-1.5M330.8 168.1l0.7-1.2M331 143.5l-0.1-1.3M330.9 142.2l0.9-1.3M330.9 155.9l1.6 0.3M332.5 171.7l-1.5-1.8M331 169.9l0.2-0.3M331 143.5l1 0.9M332 125.3l-0.9 0.2M331.2 169.6l2.5-0.7M331.2 139.4l0.3 0.1M331.3 158.1l1-0.2M331.3 128.1l1.6 0.1M332.8 116.3l-1.5-0.5M331.3 115.8l0.9-3.9M331.4 166.4l0.1 0.5M332.4 165.3l-1 1.1M331.9 186.9l-0.5-2.5M332.5 183.3l-1.1 1.1M331.4 135.8l1.5 1.4M331.6 134.4l-0.2 1.4M333.8 168l-2.3-1.1M331.8 140.9l-0.3-1.4M331.5 139.5l1.1-0.8M335.5 197.8l-4 1.9M331.5 173.1l0.8 1.1M332.5 171.7l-1 1.4M331.6 163.4l0.8 1.9M331.6 163.4l0 0M331.6 134.4l0.2-0.2M331.6 163.4l0.9-0.9M331.6 153.1l0 0M333.2 154.6l-1.6-1.5M331.6 153.1l1.7-2M331.7 194.6l3.7 1.6M333.8 190.9l-2.1 3.7M331.8 105.6l0 0.1M332.1 102.5l-0.3 3.1M334.4 134.6l-2.6-0.4M331.8 134.2l0.2-1.2M333.5 141.6l-1.7-0.7M331.8 105.7l0.2 1.1M335.9 104.7l-4.1 1M331.9 182.5l0.6 0.8M331.9 180.8l0 1.7M332.5 180.1l-0.6 0.7M333 187.3l-1.1-0.4M332.1 102.5l-0.2-0.2M332 133l0.7-0.8M332 111.1l0.1 0.7M332 111.1l2.3-2.6M332 125.3l1.4 1.4M332.6 124.4l-0.6 0.9M334.3 108.5l-2.3-1.7M332.8 144.4l-0.8 0M332 177.2l1.7 1.8M332 177.2l0.1-0.2M332.1 177l1.3-0.9M332.1 111.8l0.1 0.1M335 102.9l-2.9-0.4M334.3 112.6l-2.1-0.7M332.5 162.5l-0.3-1.7M332.2 160.8l0.9-0.7M332.6 124.4l-0.3-1.7M332.3 122.7l0.4-0.7M333.3 174.6l-1-0.4M333.1 160.1l-0.8-2.2M332.8 157.2l-0.5 0.7M332.4 165.3l1.7 0M332.5 180.1l1-0.3M332.5 183.3l0.5 0.1M333.3 171.6l-0.8 0.1M332.5 162.5l1.3 0.4M332.5 156.2l0.3 1M332.5 156.2l0.7-1.6M332.7 122l-0.1-0.5M332.6 121.5l1.1-1.8M334.7 139.7l-2.1-1M332.9 137.2l-0.3 1.5M332.6 149.5l0.7 1.6M332.9 148.6l-0.3 0.9M332.7 132.2l-0.1-1.7M333.7 129.3l-1.1 1.2M332.6 124.4l2.6-0.2M334.6 122.4l-1.9-0.4M332.7 132.2l1.8 0.1M332.9 148.6l-0.2-0.6M332.7 148l1.1-3M333.8 145l-1-0.6M332.8 144.4l0.7-2.8M332.8 116.3l0.6 0.9M332.8 116.3l2.1-2.5M334.7 157.5l-1.9-0.3M334.5 136.7l-1.6 0.5M332.9 128.2l0.8 1.1M332.9 128.2l0.5-1.5M335.5 148.3l-2.6 0.3M333.5 188.3l-0.5-1M333 187.3l0.6-1.5M333 183.4l0.6 2.4M333 183.4l0.3-0.2M333 118.7l0.7 1M333.4 117.2l-0.4 1.5M334.4 160.1l-1.3 0M333.2 154.6l1.2-0.1M334.3 172.9l-1-1.3M333.3 171.6l1-1.4M333.3 190.1l0.5 0.8M333.3 190.1l0.2-1.8M333.3 151.1l2.2 0.7M333.3 183.2l2.1 0.5M334.3 181.5l-1 1.7M333.3 174.6l0.1 1.5M334.1 174.1l-0.8 0.5M334.3 176.7l-0.9-0.6M333.4 126.7l1.6-0.6M335.3 117.4l-1.9-0.2M333.5 141.6l0.4-0.1M333.5 188.3l3.5-1.1M333.5 179.8l0.5 0.4M333.7 179l-0.2 0.8M333.6 185.8l1.8-0.9M334.3 170.2l-0.6-1.3M333.7 168.9l0.2-0.8M335 120.1l-1.3-0.4M334.5 178l-0.8 1M334.4 129.5l-0.7-0.2M333.8 162.9l0.8 1.3M333.8 162.9l1.5-1.8M334.8 191.4l-1-0.5M333.9 168.1l-0.1-0.1M333.8 168l0.3-2.6M334.8 145l-1 0M336.1 167.9l-2.2 0.2M335.7 142.8l-1.8-1.3M333.9 141.5l0.8-1.5M334 180.2l0.3 1.3M334 180.2l2.4-0.2M334.1 165.3l0 0.1M334.6 164.2l-0.5 1.1M334.1 174.1l1.4 0.6M334.3 172.9l-0.2 1.2M336 166.2l-1.9-0.8M335.6 170.5l-1.3-0.3M334.3 112.6l0.6 1.2M336.2 110.2l-1.9 2.4M334.3 172.9l1.2-0.5M335 108.5l-0.7 0M334.3 181.5l1.7 0.8M334.3 176.7l0.2 1.3M334.3 176.7l1.3-0.8M334.4 160.1l0.8 0.6M334.4 160.1l0.3-2.6M334.9 155.1l-0.5-0.6M334.4 154.5l1.2-2.6M334.4 129.5l0.9 0.9M334.4 129.5l1.2-1.6M334.7 136.4l-0.3-1.8M334.4 134.6l0.3-0.3M334.7 134.3l-0.2-2M335.4 131.4l-0.9 0.9M334.5 178l1.7 0.1M335.5 138.4l-1-1.7M334.7 136.4l-0.2 0.3M334.6 164.2l1.5-0.5M334.6 122.4l0.6 1.7M334.6 122.4l0.9-1.4M334.7 136.4l2.3-0.5M334.7 140l0-0.3M335.5 138.4l-0.8 1.3M335.1 157.3l-0.4 0.2M334.7 134.3l2.8-0.3M336.5 140.8l-1.8-0.8M334.8 191.4l1.5 3.3M338.3 190.2l-3.5 1.2M334.8 145l1.5 1.1M334.8 145l0.9-2.2M336.6 114.5l-1.7-0.7M335.1 157.3l-0.2-2.2M337.1 154.9l-2.2 0.2M335 108.5l1.2 1.2M335 108.5l1.2-3.5M335.6 127.9l-0.6-1.8M335.4 125.5l-0.4 0.6M335.5 121l-0.5-0.9M335.9 118.4l-0.9 1.7M335 102.9l0.9 1.8M335.7 100l-0.7 2.9M335.1 157.3l1.3 0.2M335.2 124.2l0.2 1.3M335.2 124.1l0 0.1M335.2 124.1l2.6-1.2M338.4 209.2l-3.2-1.5M335.2 160.7l0.1 0.4M335.2 160.7l1.4-0.8M335.3 161.1l1.1 1.5M335.3 130.4l0.1 1M335.3 130.4l1.7-0.8M336.4 201.1l-1.1 0.9M335.3 117.4l0.6 1M336.8 115.2l-1.5 2.2M339 204.3l-3.7 1.4M336.8 186.1l-1.4-1.2M335.4 184.9l0-1.2M335.4 131.4l1.7 1M335.5 197.8l-0.1-1.6M335.4 196.2l0.9-1.5M335.4 183.7l0.9-0.8M335.4 125.5l2.3 0.6M337.2 173.5l-1.7-1.1M335.7 170.7l-0.2 1.7M335.5 148.3l1 1.6M336.3 146.1l-0.8 2.2M337.1 121.2l-1.6-0.2M335.5 151.8l0.1 0.1M336.5 149.9l-1 1.9M335.5 174.7l0.1 1.2M337.2 173.6l-1.7 1.1M336.7 138.3l-1.2 0.1M335.5 197.8l1 0.8M335.7 170.7l-0.1-0.2M335.6 170.5l1.1-2.2M337.4 153.1l-1.8-1.2M335.6 127.9l1.6 0.2M336.6 176.5l-1-0.6M335.7 142.8l0.7-0.3M335.7 170.7l1.6 0.4M335.9 104.7l0.3 0.1M337.8 118.7l-1.9-0.3M336.1 167.9l-0.1-1.7M336 166.2l1.4-1.1M336 99.8l3.2 1.5M336.3 182.9l-0.3-0.6M336.7 180.2l-0.7 2.1M336.1 163.7l1.3 1.4M336.4 162.6l-0.3 1.1M336.1 167.9l0.6 0.4M336.2 178.1l0.2 1.9M336.8 177.5l-0.6 0.6M336.2 104.8l0 0.2M336.2 104.8l3.1-2.6M336.2 110.2l2.1 2.3M336.2 110.2l0-0.5M336.2 109.7l2.8-1.3M339.1 106.9l-2.9-1.9M337.9 183.3l-1.6-0.4M338.7 194.1l-2.4 0.6M336.4 146.1l-0.1 0M338.1 143l-1.7-0.5M336.5 140.8l-0.1 1.7M336.7 180.2l-0.3-0.2M336.4 157.5l0.2 2.4M336.4 157.5l0.7-0.3M336.4 146.1l2.2 1.3M336.4 146.1l1.9-2M336.4 201.1l2.9 2.3M336.5 198.6l-0.1 2.5M337.6 162.3l-1.2 0.3M336.5 149.9l1.5-0.2M336.5 140.8l1.1-0.7M336.5 198.6l2.2-0.1M336.6 159.9l1.6 0.4M336.6 114.5l0.2 0.7M336.6 114.5l1.7-1.9M336.6 176.5l0.2 1M337.9 175.2l-1.3 1.3M337.6 140.1l-0.9-1.8M336.7 138.3l0.9-1.1M337.2 180.2l-0.5 0M336.7 168.3l0 0M338 167l-1.3 1.3M338.2 169.5l-1.5-1.2M337 187.2l-0.2-1.1M336.8 186.1l1.4-2.4M336.8 177.5l1.4 0.4M336.8 115.2l1.7 1.2M337 135.9l0.6 1.3M337 135.9l0.5-1.9M337.7 187.6l-0.7-0.4M337 212.5l1.4-3.3M337 129.6l1.5 1.1M337.2 128.1l-0.2 1.5M337.1 154.9l0.4 0.7M337.1 154.9l0.3-1.8M337.1 132.4l0.4 1.5M337.1 132.4l1.4-1.7M337.1 121.2l0.7 0.8M337.8 118.7l-0.7 2.5M338.4 157.8l-1.3-0.6M337.5 155.6l-0.4 1.6M337.2 173.5l0 0.1M337.2 173.5l0.5-1.5M337.4 173.8l-0.2-0.2M338.4 181.7l-1.2-1.5M337.2 180.2l1.5-1.2M337.2 128.1l0.6-0.4M337.3 171.1l0.4 0.9M337.3 171.1l0.9-1.6M337.9 175.2l-0.5-1.4M340.1 173.5l-2.7 0.3M337.7 165.2l-0.3-0.1M337.4 153.1l1.1-0.2M339.6 155.5l-2.1 0.1M337.5 134l0-0.1M339.3 134.1l-1.8-0.2M337.6 162.3l0.9 1M338.4 160.6l-0.8 1.7M337.6 140.1l1.2 0.2M337.6 137.2l1.4 0.2M337.7 126.1l0.1 1.6M337.7 126.1l0.4-0.4M337.7 165.2l0 0M338.5 163.3l-0.8 1.9M337.7 172l1.4-0.3M340.1 165.4l-2.4-0.2M338 167l-0.3-1.8M338.3 190.2l-0.6-2.6M340.2 186.4l-2.5 1.2M337.8 127.7l1.4 0.6M337.8 122l0 0.9M340.4 120.5l-2.6 1.5M337.8 122.9l0.2 0.3M337.8 118.7l0.1 0M337.9 118.7l2.5 1.7M337.9 118.7l0.8-1.6M337.9 183.3l0.3 0.4M338.4 181.7l-0.5 1.6M339.2 175.9l-1.3-0.7M338.8 150.2l-0.8-0.5M338.6 147.4l-0.6 2.3M338 123.2l2.5 0.5M338 123.2l0.1 2.5M340.1 167.7l-2.1-0.7M338.1 125.7l1.7 0M338.3 144.1l-0.2-1.1M338.1 143l1-1.2M338.4 183.8l-0.2-0.1M338.2 177.9l0.5 1.1M339.2 176.4l-1 1.5M338.4 160.6l-0.2-0.3M338.8 158.9l-0.6 1.4M338.2 169.5l0.8 0M338.3 190.2l1.1 0.8M338.3 112.6l2.5 2M338.3 112.6l0-0.1M338.3 112.5l1.6-1.5M340 144.9l-1.7-0.8M338.4 183.8l1.8 2.6M340.4 183.2l-2 0.6M338.4 209.2l1.7-0.5M339.4 161l-1-0.4M339.9 181l-1.5 0.7M338.8 158.9l-0.4-1.1M339.6 157l-1.2 0.8M339.9 155.1l-1.4-2.2M339 152.3l-0.5 0.6M338.5 214.3l2.6-1.1M339.6 163.1l-1.1 0.2M338.5 130.7l0.8-0.2M338.5 116.4l0.2 0.7M338.5 116.4l2.3-1.8M340.2 147l-1.6 0.4M338.7 117.1l2.3 0.9M339.1 179.1l-0.4-0.1M338.7 194.1l2.3 1.9M339.4 191l-0.7 3.1M338.7 198.5l2.5 3.2M338.7 198.5l2.3-2.5M339 152.3l-0.2-2.1M341.1 149.6l-2.3 0.6M341 158.9l-2.2 0M339.1 141.8l-0.3-1.5M339.1 140l-0.3 0.3M341.6 152.3l-2.6 0M340.8 207.7l-1.8-3.4M339.3 203.4l-0.3 0.9M339 108.4l0.9 2.6M339.3 107.9l-0.3 0.5M339.6 170.4l-0.6-0.9M340.2 167.9l-1.2 1.6M339.1 140l-0.1-2.6M339 137.4l0.4-0.2M341.3 139.6l-2.2 0.4M339.1 141.8l1.7 0.6M339.3 107.9l-0.2-1M339.1 106.9l2.1-2.8M340 180.5l-0.9-1.4M341.2 177.8l-2.1 1.3M340.3 173l-1.2-1.3M339.1 171.7l0.5-1.3M339.2 128.3l0.1 2.2M339.2 128.3l1-0.7M339.2 175.9l0 0.5M340.5 174.7l-1.3 1.2M339.2 101.3l0.1 0.9M340.2 100.1l-1 1.2M341.2 177.7l-2-1.3M339.3 203.4l1.9-1.7M339.3 102.2l1.9 1.9M339.3 134.1l0.1 3.1M339.4 134.1l-0.1 0M339.3 107.9l2.8 0.4M339.9 130.8l-0.6-0.3M341.1 137.3l-1.7-0.1M341.9 134.9l-2.5-0.8M340.2 132l-0.8 2.1M340 162.3l-0.6-1.3M340.7 160.3l-1.3 0.7M340.3 190.8l-0.9 0.2M339.6 155.5l0 1.5M339.9 155.1l-0.3 0.4M341.2 170.8l-1.6-0.4M341.3 157.8l-1.7-0.8M340.6 164.9l-1-1.8M340 162.3l-0.4 0.8M339.7 96.8l0.5 3.3M339.8 125.7l0.4 1.9M339.8 125.7l0.8-0.9M339.8 96.7l2.7 0M339.9 111l1.9 0.5M340.2 132l-0.3-1.2M341.9 129.7l-2 1.1M340.7 182.1l-0.8-1.1M340 180.5l-0.1 0.5M339.9 155.1l0.6-0.1M342.6 162.2l-2.6 0.1M340.4 146.3l-0.4-1.4M340 144.9l1.3-1.6M341.7 179.8l-1.7 0.7M341.5 212.3l-1.4-3.6M340.1 208.7l0.7-1M340.2 167.9l-0.1-0.2M340.1 167.7l0-2.3M340.6 164.9l-0.5 0.5M340.1 173.5l0.4 1.2M340.1 173.5l0.2-0.5M341.4 148.9l-1.2-1.9M340.4 146.3l-0.2 0.7M341.7 186.5l-1.5-0.1M340.2 167.9l0.1 0M340.2 127.6l1 0.2M342.6 132.5l-2.4-0.5M342.9 99.9l-2.7 0.2M340.3 190.8l3.1 2M340.3 190.8l1.8-2.7M341.3 172.3l-1 0.7M340.3 167.9l1.7 1.7M343.1 166.7l-2.8 1.2M340.4 120.4l0 0.1M340.4 120.4l0.6-2.4M340.4 146.3l3.1-0.8M340.4 120.5l0.2 0.2M340.4 183.2l1.2 1.3M340.7 182.1l-0.3 1.1M342 156.6l-1.5-1.6M340.5 155l1.2-1.5M340.5 174.7l1.3 0.5M340.5 123.7l0.1 1.1M341 123.1l-0.5 0.6M341.4 164.7l-0.8 0.2M341 123.1l-0.4-2.4M340.6 120.7l1.5-0.1M342.9 126.1l-2.3-1.3M342.3 181.8l-1.6 0.3M340.7 160.3l1.9 1.6M340.7 160.3l0.3-1.4M340.8 114.6l0.2 0M341.3 143.3l-0.5-0.9M340.8 142.4l1.3-1.9M341.2 207.6l-0.4 0.1M341.3 196l-0.3 0M341 158.9l0.3-0.4M341 123.1l1.6 0M341 118l1.1-0.6M342.5 116.6l-1.5-2M341 114.6l1.1-1.6M341.6 137.9l-0.5-0.6M341.1 137.3l0.8-2.4M341.9 151.8l-0.8-2.2M341.1 149.6l0.3-0.7M341.1 213.2l2.1 2.4M341.1 213.2l0.4-0.9M341.2 201.7l1-0.1M341.7 179.8l-0.5-2M341.2 177.8l0-0.1M344.4 209.4l-3.2-1.8M341.2 207.6l2.6-2.2M342.5 104.2l-1.3-0.1M341.2 170.8l0.1 1.5M341.2 170.8l0.8-0.9M341.2 127.8l0.7 1.7M342.9 126.1l-1.7 1.7M342 177.1l-0.8 0.6M343 143.8l-1.7-0.5M341.3 157.8l0 0.7M341.3 157.8l0.7-1.2M341.3 139.6l0.8 0.9M341.3 139.6l0.3-1.7M341.3 172.3l1.4 0.4M341.3 158.5l2.2 1M343.3 197.8l-2-1.8M343.4 192.8l-2.1 3.2M344.1 148.3l-2.7 0.6M341.4 164.7l1.7 2M341.4 164.7l1.4-1.8M341.5 212.3l2.6-0.8M346.1 91.1l-4.6 0.4M341.5 217.6l1.7-2M344.1 137.7l-2.5 0.2M341.6 152.3l0.1 1.2M341.9 151.8l-0.3 0.5M342.7 180.3l-1-0.5M343.5 154.6l-1.8-1.1M342.2 176l-0.4-0.8M342.9 173.7l-1.1 1.5M341.8 111.5l0.3 1.5M341.8 111.5l1.1-1.2M341.9 134.9l0.5-0.2M343.9 151.4l-2 0.4M343.2 131.4l-1.3-1.7M341.9 129.7l0-0.2M343.8 128.6l-1.9 0.9M343.5 178l-1.5-0.9M342.2 176l-0.2 1.1M342.7 156.4l-0.7 0.2M342 169.6l0 0.3M342 169.6l2.3-1.9M344.1 171.4l-2.1-1.5M342.6 140.6l-0.5-0.1M342.1 93.3l1.3 1.7M342.1 113l2.4 0.6M342.1 108.3l0.8 2M343.4 106.6l-1.3 1.7M342.1 117.4l1.1 1.9M342.1 117.4l0.4-0.8M343.4 121.8l-1.3-1.2M343.2 119.3l-1.1 1.3M344.6 175.5l-2.4 0.5M342.2 201.6l1.6 3.8M342.3 201.5l-0.1 0.1M345.9 201.6l-3.6-0.1M343.3 197.8l-1 3.7M343.4 135.1l-1-0.4M342.4 134.7l0.2-2.2M343.6 98.7l-1.1-2M342.5 96.7l0.9-1.7M343.4 106.6l-0.9-2.4M344.1 102.7l-1.6 1.5M342.5 116.6l1.5-0.2M342.6 162.2l0.2 0.7M342.6 162.2l0-0.3M343.2 131.8l-0.6 0.7M342.6 161.9l1.1-1.8M343.8 124.7l-1.2-1.6M342.6 123.1l0.8-1.3M342.6 140.6l1.2 2.1M342.6 140.6l1.9-1.2M344.2 157.5l-1.5-1.1M343.5 154.6l-0.8 1.8M342.9 173.7l-0.2-1M344.1 171.4l-1.4 1.3M342.8 162.9l2.2 1.1M344.9 110.4l-2-0.1M343.1 126.1l-0.2 0M342.9 99.9l1.2 2.8M343.6 98.7l-0.7 1.2M345.1 174.8l-2.2-1.1M343.5 145.5l-0.5-1.7M343 143.8l0.8-1.1M343.1 126.1l0.4 0.5M343.8 124.7l-0.7 1.4M343.1 166.7l0.6 0.1M343.2 119.3l1.4 0.3M343.2 215.6l1 0M345.5 133l-2.3-1.2M343.2 131.8l0-0.4M344.8 130.1l-1.6 1.3M346.4 197.3l-3.1 0.5M344.2 121.6l-0.8 0.2M343.7 192.8l-0.3 0M344.4 137l-1-1.9M345.4 133.7l-2 1.4M343.4 106.6l2.2 0.6M344.8 94.8l-1.4 0.2M344.8 154.2l-1.3 0.4M344.5 146.4l-1-0.9M343.7 160.1l-0.2-0.6M343.5 159.5l0.7-2M345.9 126.9l-2.4-0.3M343.5 126.6l0.3 2M343.6 98.7l2.5-0.4M345.9 160.4l-2.2-0.3M343.7 166.8l0.6 0.9M345 164l-1.3 2.8M343.8 124.7l1.5-0.6M345.5 142.3l-1.7 0.4M345.2 205.5l-1.4-0.1M344.7 129.1l-0.9-0.5M343.9 151.4l0.9 0.6M344.1 148.3l-0.2 3.1M345.1 117.3l-1.1-0.9M344 116.4l0.8-1.8M344.5 139.4l-0.4-1.7M344.1 137.7l0.3-0.7M344.1 211.5l1.7 1.4M344.1 211.5l0.3-2.1M344.1 148.2l0 0.1M346.5 102.8l-2.4-0.1M344.4 171.4l-0.3 0M344.1 148.2l3.2 1.7M344.5 146.4l-0.4 1.8M344.2 215.6l1.7 1.9M344.2 215.6l1.6-2.7M344.2 157.5l1.5-0.5M344.2 121.6l1.5 1M344.6 119.6l-0.4 2M344.6 167.9l-0.3-0.2M346.3 208.5l-1.9 0.9M345.8 174l-1.4-2.6M344.4 171.4l0.7-0.9M345.9 136.7l-1.5 0.3M345 139.7l-0.5-0.3M344.5 146.4l1.7-0.8M344.5 220.8l1.5-1M344.8 114.6l-0.3-1M345.5 111.9l-1 1.7M344.7 119.5l-0.1 0.1M345.1 170.5l-0.5-2.6M347.5 167.2l-2.9 0.7M344.7 119.5l2 0.6M345.1 117.3l-0.4 2.2M344.8 130.1l-0.1-1M345.9 128.4l-1.2 0.7M344.8 152l0.4 1.7M344.8 152l2.7-1.8M346.5 96.8l-1.7-2M346.5 91.7l-1.7 3.1M346.4 131.1l-1.6-1M347.4 114.9l-2.6-0.3M344.8 154.2l0.9 2.8M344.8 154.2l0.4-0.5M344.9 110.4l0.6 1.5M346 108.9l-1.1 1.5M345.9 163.7l-0.9 0.3M345.5 142.3l-0.5-2.6M345 139.7l1.7-0.4M345.1 117.3l1.2 0M347.6 170.8l-2.5-0.3M345.2 153.7l2.3 0.1M346.3 208.5l-1.1-3M346.6 204.4l-1.4 1.1M346.9 125.7l-1.6-1.6M345.7 122.6l-0.4 1.5M346.4 135l-1-1.3M345.5 133l-0.1 0.7M346.5 132.1l-1 0.9M345.6 142.4l-0.1-0.1M347.5 112.4l-2-0.5M345.6 107.2l0.4 1.7M347 105.7l-1.4 1.5M345.6 142.4l0.7 3M345.6 142.4l2.4-0.7M345.8 122.6l-0.1 0M345.7 157l0.1 0M348.3 122.8l-2.5-0.2M346.7 120.1l-0.9 2.5M346.8 159.7l-1-2.7M345.8 157l2.1-0.9M345.8 212.9l1.7-0.2M345.9 163.7l1.6 3.5M346.3 163.4l-0.4 0.3M345.9 128.4l0-1.5M346.9 125.8l-1 1.1M347.3 137.5l-1.4-0.8M345.9 136.7l0.5-1.7M347.4 129.1l-1.5-0.7M345.9 201.6l0.7 2.8M348 199.4l-2.1 2.2M346 219.8l-0.1-2.3M345.9 217.5l3.6-2.6M346.3 163.4l-0.4-3M345.9 160.4l0.9-0.7M345.9 88.9l0.2 2.2M346 108.9l1.5 0.4M346 219.8l3 1M346.1 98.3l1.1 1.7M346.5 96.8l-0.4 1.5M346.1 91.1l0.3 0.3M346.2 145.6l1.7 1.5M346.2 145.6l0.1-0.2M346.3 163.4l2.7-0.2M347.1 118l-0.8-0.7M346.3 117.3l1.1-2.4M346.3 208.5l1.1 0.3M346.3 145.4l2.6-1.6M346.4 131.1l0.1 1M347.6 129.6l-1.2 1.5M346.5 91.7l-0.1-0.3M346.4 91.4l3.2-0.9M348.3 134.7l-1.9 0.3M346.5 91.7l3.1 3.6M348.3 132.8l-1.8-0.7M346.7 103l-0.2-0.2M346.5 102.8l0.7-2.8M349.6 95.3l-3.1 1.5M348.5 204.7l-1.9-0.3M347 119.9l-0.3 0.2M346.7 103l4 0.2M347 105.7l-0.3-2.7M348 141.7l-1.3-2.4M346.7 139.3l0.8-1M348.9 159.6l-2.1 0.1M346.9 125.7l0 0.1M346.9 125.7l1.8-1.7M348.3 127.1l-1.4-1.3M347 119.9l1.7 0.7M347 119.9l0.1-1.9M350.1 107.1l-3.1-1.4M348.5 117.6l-1.4 0.4M347.1 225l2.3-1.7M347.2 100l3.7-0.7M347.3 137.5l0.2 0.8M347.3 137.5l1.3-1.5M347.3 149.9l0.2 0.3M347.9 147.1l-0.6 2.8M347.6 129.6l-0.2-0.5M348.3 127.1l-0.9 2M347.4 208.8l0.1 3.9M349.5 207.9l-2.1 0.9M347.4 114.9l0.1 0M347.8 167.3l-0.3-0.1M349.4 138.8l-1.9-0.5M347.5 109.3l1.3 2.3M350 107.4l-2.5 1.9M348.5 150.8l-1-0.6M348.5 115.3l-1-0.4M347.5 112.4l0 2.5M348.8 111.6l-1.3 0.8M348.9 213.4l-1.4-0.7M347.9 156.1l-0.4-2.3M347.5 153.8l1.1-1.2M348.3 171.6l-0.7-0.8M347.6 170.8l0.3-3.3M347.6 129.6l0.9 0.3M347.9 167.5l-0.1-0.2M347.8 167.3l2.3-2.2M347.9 147.1l1.6-0.3M347.9 167.5l3.1 1.7M349.5 156.9l-1.6-0.8M348.9 141.9l-0.9-0.2M348.7 124l-0.4-1.2M348.9 121.7l-0.6 1.1M348.6 136l-0.3-1.3M348.3 134.7l0.5-1.1M348.3 132.8l0.5 0.8M348.3 132.8l0.8-1.9M348.9 127.1l-0.6 0M348.5 204.7l1.2 2M350.1 202l-1.6 2.7M349.1 130.9l-0.6-1M350.1 128.6l-1.6 1.3M348.5 117.6l1.3 1.9M349 116.6l-0.5 1M348.6 152.6l-0.1-1.8M350.4 149.8l-1.9 1M349 116.6l-0.5-1.3M350.9 114l-2.4 1.3M350.8 153.9l-2.2-1.3M350 136.7l-1.4-0.7M348.7 124l1.1 0.5M348.7 120.6l0.2 1.1M348.7 120.6l1.1-1.1M348.8 111.6l1.3 0M348.8 133.6l1.6 0M348.9 127.1l1.2 1.5M348.9 127.1l1.5-1.5M348.9 121.7l1.9 0.5M348.9 143.8l0-1.9M349.4 141.5l-0.5 0.4M349.5 214.9l-0.6-1.5M351.8 210l-2.9 3.4M348.9 159.6l0.9 1.5M349.7 157.5l-0.8 2.1M349.9 144.8l-1-1M349 163.2l1.1 1.9M349 163.2l0.8-2.1M351 117l-2-0.4M349.4 223.3l-0.4-2.5M349 220.8l2.3-1.7M350.5 131l-1.4-0.1M351.2 224.7l-1.8-1.4M350.9 141.5l-1.5 0M349.4 141.5l0-2.7M349.4 138.8l0.6-0.4M349.7 157.5l-0.2-0.6M349.5 156.9l1.3-3M349.5 207.9l2.3 2.1M349.7 206.7l-0.2 1.2M350.8 215.7l-1.3-0.8M349.5 146.8l1.6 1.4M349.9 144.8l-0.4 2M349.6 95.3l0.5 0.1M349.6 90.5l1.6 1.5M350.1 88.6l-0.5 1.9M349.7 206.7l1.7-0.9M349.7 157.5l2.5 0M349.8 119.5l0.7-0.2M350.4 125.6l-0.6-1.1M349.8 124.5l1.2-1.2M349.8 161.1l2 0M349.9 144.8l2.6-0.3M350.7 110.9l-0.7-3.5M350.1 107.1l-0.1 0.3M350 138.4l0-1.7M350 136.7l0.9-0.7M350 138.4l1.4 0.2M350.1 111.6l0.8 2.4M350.7 110.9l-0.6 0.7M350.1 228l1.3-2.1M350.1 165.1l0 0M350.1 165.1l2.1 2.9M352.3 164.2l-2.2 0.9M351.1 106.4l-1 0.7M350.1 128.6l0.4 0.1M350.7 96l-0.6-0.6M350.1 95.4l1.1-3.4M350.4 125.6l1.5 0.6M352.3 151.7l-1.9-1.9M350.4 149.8l0.8-1.5M350.9 136l-0.5-2.4M350.4 133.6l0.5-0.3M350.5 119.3l1.6 0.8M351 117l-0.5 2.3M350.5 131l0.7 1.6M351.3 129.7l-0.8 1.3M351.3 129.7l-0.8-1M350.5 128.7l1.4-1.9M353.3 110.4l-2.6 0.5M350.7 96l0.3 3.1M354 95.3l-3.3 0.7M351.5 104l-0.8-0.8M350.7 103.2l0.2-3.9M351.6 217.8l-0.8-2.1M353.5 213.6l-2.7 2.1M350.8 122.2l0.2 1.1M350.8 122.2l1.2-1.2M350.8 153.9l1.1-0.2M351 99.1l-0.1 0.2M350.9 141.5l1.9 2.1M350.9 141.5l1.3-1.4M352.9 134.5l-2-1.2M351.2 132.6l-0.3 0.7M351.7 114.4l-0.8-0.4M351.9 136.2l-1-0.2M351 117l0.2-0.2M355.1 100l-4.1-0.9M351 123.3l1.3 0.4M351.1 106.4l2.7 1.6M351.1 106.4l0.4-2.4M351.1 148.2l0.1 0.1M351.1 148.2l1.6-3M353.5 148.7l-2.3-0.4M351.2 92l3.2-1.1M351.4 225.9l-0.2-1.2M351.2 224.7l3.6-2.4M352.7 131.9l-1.5 0.7M351.2 116.8l2.1 0.9M351.2 116.8l0.5-2.4M354.8 222.2l-3.5-3.1M351.3 219.1l0.3-1.3M351.3 129.7l0.6 0.1M351.4 138.6l0.8 1.5M352.3 137.7l-0.9 0.9M351.4 225.9l2.7 1.2M351.5 104l2.4-0.7M355.3 217.3l-3.7 0.5M351.7 114.4l0.8-0.1M353 162.1l-1.2-1M351.8 161.1l1.1-2.8M353.3 210.1l-1.5-0.1M351.9 126.8l0-0.6M352.5 125.7l-0.6 0.5M353.4 128.5l-1.5-1.7M352.9 131.2l-1-1.4M351.9 129.8l1.5-1.3M351.9 88.1l2.4 2.5M351.9 153.7l1.2 0.8M352.3 151.7l-0.4 2M351.9 136.2l0.4 1.5M351.9 136.2l0.9-0.6M353.3 122.8l-1.3-1.8M352 121l0.1-0.9M353 119.6l-0.9 0.5M352.2 157.5l0.7 0.8M352.2 157.5l0.9-3M352.2 140.1l1.1 0M352.3 164.2l1.8 1.6M353 162.1l-0.7 2.1M352.3 137.7l1.5 0.3M352.3 123.7l0.2 2M353.3 122.8l-1 0.9M353.9 150.9l-1.6 0.8M352.5 114.3l1.7 2.2M354.1 113l-1.6 1.3M352.7 145.2l-0.2-0.7M352.8 143.6l-0.3 0.9M352.5 125.7l1.9-0.1M354.7 146.6l-2-1.4M354.3 133.4l-1.6-1.5M352.7 131.9l0.2-0.7M352.8 143.6l1.9-1.1M352.8 135.6l1.9 0.9M352.8 135.6l0.1-1.1M354.3 133.4l-1.4 1.1M352.9 158.3l2.5 0.2M354.6 130.5l-1.7 0.7M353 119.6l1 0.4M353.3 117.7l-0.3 1.9M355.3 161.9l-2.3 0.2M353.1 154.5l1.3 0M353.3 117.7l0.9-0.8M353.3 122.8l0.4 0M353.5 213.6l-0.2-3.5M353.3 210.1l0.4-0.2M354.2 140.8l-0.9-0.7M353.8 138l-0.5 2.1M353.3 110.4l0.9 1.1M353.8 108l-0.5 2.4M354.2 128.6l-0.8-0.1M353.5 148.7l0.7 1M353.5 148.7l1.2-2.1M353.5 213.6l2.1 0.9M353.7 122.8l1.1 1.8M355 121.7l-1.3 1.1M354.2 107.8l-0.4 0.2M353.8 138l0.6-0.4M355.7 105.5l-1.8-2.2M353.9 103.3l1.5-2.7M355.2 152.1l-1.3-1.2M354.2 149.7l-0.3 1.2M354 95.3l2 1.3M354.6 91.1l-0.6 4.2M354 229.1l0.1-2M354 120l1 1.7M356.4 118.6l-2.4 1.4M354.1 113l1.8 1.3M354.1 113l0.1-1.5M355.4 226.4l-1.3 0.7M354.2 149.7l2.5-0.5M356.4 118.4l-2.2-1.5M354.2 116.5l0 0.4M354.7 142.4l-0.5-1.6M354.2 140.8l1.7-1.7M356.7 111l-2.5 0.5M357.1 109.1l-2.9-1.3M355.7 105.5l-1.5 2.3M354.6 130.5l-0.4-1.9M354.5 128.4l-0.3 0.2M355.9 115l-1.7 1.5M354.5 133.4l-0.2 0M354.3 90.6l0.1 0.3M356 87l-1.7 3.6M354.6 125.9l-0.2-0.3M354.8 124.6l-0.4 1M354.6 91.1l-0.2-0.2M354.4 137.6l1.5 1.5M354.7 136.5l-0.3 1.1M354.4 154.5l1.6 1.1M355.2 152.1l-0.8 2.4M354.5 133.4l0.9 2.2M354.5 133.4l1.4-1.2M354.5 128.4l0.1-2.5M356.7 128.3l-2.2 0.1M357.1 126.6l-2.5-0.7M355.8 131.4l-1.2-0.9M357.7 91.8l-3.1-0.7M356.8 145l-2.1-2.5M354.7 142.4l0 0.1M354.7 142.4l2.8-1.2M354.7 136.5l0.6-0.5M354.7 146.6l1.5-0.2M356.3 123.9l-1.5 0.7M354.8 222.3l0-0.1M354.8 222.2l2.3-3.5M355.8 223.4l-1-1.1M355.9 121.8l-0.9-0.1M355.1 100l0.3 0.6M356 96.6l-0.9 3.4M357.2 151.7l-2 0.4M355.4 162l-0.1-0.1M355.3 161.9l0.1-3.3M355.3 136l1.9 1.2M355.4 135.6l-0.1 0.4M357.1 218.7l-1.8-1.4M355.3 217.3l0.3-2.8M355.4 158.6l0-0.1M355.4 158.5l0.8-2.2M358.7 159.4l-3.3-0.8M357.4 101.3l-2-0.7M356.8 227.2l-1.4-0.8M355.4 226.4l0.4-3M355.4 135.6l2.2-1.2M355.5 86.1l0.5 0.9M356.2 214.2l-0.6 0.3M357.9 105.4l-2.2 0.1M355.8 223.4l2.1 0.2M356 131.7l-0.2-0.3M355.8 131.4l1.1-2.4M355.9 132.2l1.7 2M355.9 132.2l0.1-0.5M355.9 114.3l0 0.7M355.9 114.3l1.4-1M356.3 123.9l-0.4-2.1M356.6 121.4l-0.7 0.4M355.9 115l1.1 1M356.4 139.1l-0.5 0M356 87l3.4 0.8M356 155.6l0.2 0.7M357.6 153.8l-1.6 1.8M358.6 131.2l-2.6 0.5M356 96.6l2-0.8M359.4 156.9l-3.2-0.6M357.1 148l-0.9-1.6M356.2 146.4l0.6-1.4M357.2 124.3l-0.9-0.4M357.8 140.4l-1.4-1.3M356.4 139.1l0.8-1.9M356.9 119.5l-0.5-0.9M356.4 118.4l0 0.2M357 117.8l-0.6 0.6M358.4 122.2l-1.8-0.8M356.9 119.5l-0.3 1.9M357.4 111.8l-0.7-0.8M357.1 109.1l-0.4 1.9M356.7 149.2l0.8 1.9M356.7 149.2l0.4-1.2M356.9 129l-0.2-0.7M357.3 127.4l-0.6 0.9M356.8 145l0.1 0M358.6 130.1l-1.7-1.1M359.7 119.9l-2.8-0.4M359.7 145.6l-2.8-0.6M356.9 145l1.4-2M357 117.8l0-1.8M359.6 117.5l-2.6 0.3M358.7 82.9l-1.7 0.3M359 115.3l-2 0.7M357.1 148l2.6-0.1M357.3 127.4l-0.2-0.8M357.6 125.4l-0.5 1.2M357.1 109.1l0.7-0.4M357.1 218.7l0.3 0M357.6 153.8l-0.4-2.1M357.2 151.7l0.3-0.6M357.6 125.4l-0.4-1.1M358.7 122.8l-1.5 1.5M357.7 137.1l-0.5 0.1M359.1 127.7l-1.8-0.3M357.3 113.3l1.9 1.2M357.4 111.8l-0.1 1.5M358.4 104.1l-1-2.8M359.7 100l-2.3 1.3M359.5 111.5l-2.1 0.3M358.3 143l-0.8-1.8M357.5 141.2l0.3-0.8M359.4 151l-1.9 0.1M357.5 78.8l2 1M357.6 134.2l0 0.2M357.6 134.2l1.7-1.8M357.6 134.4l1 1M359.7 125.3l-2.1 0.1M357.6 153.8l2 0.4M357.7 91.8l0.3 4M357.7 91.8l0.4-0.3M359.1 138.4l-1.4-1.3M358.6 135.4l-0.9 1.7M359.6 109.8l-1.8-1.1M358.5 106.6l-0.7 2.1M357.8 140.4l0.2-0.1M358.5 106.6l-0.6-1.2M357.9 105.4l0.5-1.3M358 95.8l1.8 0.8M360.1 140.9l-2.1-0.6M359.1 138.4l-1.1 1.9M362.3 92.5l-4.2-1M358.1 91.5l1.3-3.7M360.5 143.1l-2.2-0.1M358.7 122.8l-0.3-0.6M358.4 122.2l1.3-2.3M358.4 104.1l3.1-0.5M358.5 106.6l2.3 0.6M358.8 135.5l-0.2-0.1M358.6 131.2l0.6 0.7M358.6 130.1l0 1.1M359.7 129l-1.1 1.1M358.7 82.9l1.2 4.3M359.7 81.9l-1 1M358.7 122.8l1.3 0.6M359 160.1l-0.3-0.7M358.7 159.4l0.9-2.4M358.8 135.5l2 1.6M358.8 135.5l2-1.6M359.8 117.1l-0.8-1.8M359.2 114.5l-0.2 0.8M359.1 138.4l1.7-0.5M359.7 129l-0.6-1.3M360.4 126.1l-1.3 1.6M360.1 113.9l-0.9 0.6M359.2 131.9l0.1 0.5M359.2 131.9l2.1-1M359.3 132.4l1.5 1.5M359.4 87.8l0.3-0.2M359.4 151l1 1.1M360.2 149.3l-0.8 1.7M359.6 157l-0.2-0.1M359.4 156.9l0.2-2.7M359.5 111.5l0.7 0.7M359.5 111.5l0.1-1.7M359.5 79.8l0.4 0.7M360.6 76l-1.1 3.8M360.2 153.6l-0.6 0.6M359.6 157l2 0.2M359.6 117.5l0.3 2.3M359.8 117.1l-0.2 0.4M359.6 109.8l1.3-0.6M362.8 89.8l-3.1-2.2M359.9 87.2l-0.2 0.4M362.9 83.9l-3.2-2M359.7 81.9l0.2-1.4M359.7 125.3l0.7 0.8M360 123.4l-0.3 1.9M361.9 102.1l-2.2-2.1M359.7 100l0.7-2.5M360.2 147.2l-0.5-1.6M359.7 145.6l1.3-2M360.2 149.3l-0.5-1.4M359.7 147.9l0.5-0.7M360.5 129.1l-0.8-0.1M359.7 119.9l0.2-0.1M361.6 116.8l-1.8 0.3M359.8 96.6l0.6 0.9M362.4 92.6l-2.6 4M363.2 85.3l-3.3 1.9M364.3 79.3l-4.4 1.2M360.7 120.1l-0.8-0.3M360 123.4l1.3-0.6M360.1 113.9l1.7 0.8M360.2 112.2l-0.1 1.7M360.1 74.9l0.5 1.1M360.1 140.9l0.4 2.2M361.6 139.6l-1.5 1.3M362.8 146.9l-2.6 0.3M360.2 149.3l2.5 0.4M360.2 112.2l1.8-0.6M362.2 154.6l-2-1M360.4 152.1l-0.2 1.5M362.7 151.4l-2.3 0.7M361.6 126.4l-1.2-0.3M363.3 97.8l-2.9-0.3M360.5 129.1l0.8 1.8M360.5 129.1l1.5-1.2M361 143.6l-0.5-0.5M360.6 76l3.5 1.2M361.4 122.6l-0.7-2.5M361.9 119.5l-1.2 0.6M361.3 134l-0.5-0.1M360.8 137.1l0 0.8M360.8 137.1l1.1-1.6M360.8 107.2l0.1 2M360.8 107.2l1.4-1M361.3 138.4l-0.5-0.5M360.9 109.2l1.2 0.7M362 143.6l-1 0M361.3 122.8l1.1 2.8M361.4 122.6l-0.1 0.2M361.6 139.6l-0.3-1.2M361.3 138.4l2.3-0.9M361.3 130.9l0.4 0.2M361.9 135.5l-0.6-1.5M362.4 132.9l-1.1 1.1M361.4 122.6l2.1-0.3M362.6 105.2l-1.1-1.6M361.5 103.6l0.4-1.5M362.4 158.1l-0.8-0.9M361.6 157.2l0.6-2.6M363.4 140.7l-1.8-1.1M362 127.9l-0.4-1.5M362.4 125.6l-0.8 0.8M362.2 117.2l-0.6-0.4M361.9 114.9l-0.3 1.9M361.7 131.1l0.8 1.3M363.5 129.1l-1.8 2M361.9 114.9l-0.1-0.2M361.8 114.7l1.3-2.2M361.9 135.5l2.1 0.5M363.8 101.1l-1.9 1M363.2 119.9l-1.3-0.4M361.9 119.5l0.3-2.3M364.2 115.2l-2.3-0.3M363.1 112.5l-1.1-0.9M362 111.6l0.1-1.7M362.9 144.8l-0.9-1.2M362 143.6l1.7-2.3M362 127.9l1.5 1M362.1 109.9l1.7-0.8M363.2 117.3l-1-0.1M362.2 106.2l1.7 2.5M362.6 105.2l-0.4 1M364.1 153.8l-1.9 0.8M362.4 92.6l-0.1-0.1M362.3 92.5l0.5-2.7M362.4 92.6l0.9 0.4M364.8 134.6l-2.4-1.7M362.5 132.4l-0.1 0.5M363.3 125.4l-0.9 0.2M364.3 131.6l-1.8 0.8M362.6 105.2l3.1-0.4M362.9 150.1l-0.2-0.4M362.7 149.7l0.1-2.8M364.1 153.3l-1.4-1.9M362.9 150.1l-0.2 1.3M362.9 146.8l-0.1 0.1M364.4 88.8l-1.6 1M365.3 147.4l-2.4-0.6M362.9 146.8l0-2M365.3 144.5l-2.4 0.3M362.9 83.9l0.3 1.4M362.9 83.9l2.1-2.4M365.1 149.5l-2.2 0.6M363.5 112.5l-0.4 0M363.2 85.3l0.7 0.4M363.8 101.1l-0.5-3.3M364.7 96.9l-1.4 0.9M364.8 96.7l-1.5-3.7M366.6 92.2l-3.3 0.8M364.2 125.9l-0.9-0.5M363.3 125.4l0.8-2.3M363.7 141.3l-0.3-0.6M364.3 138.6l-0.9 2.1M363.5 122.3l0.6 0.8M363.6 121.8l-0.1 0.5M363.5 112.5l1.1 1.7M363.5 112.5l1.4-1.2M363.5 129.1l0-0.2M364.6 127.7l-1.1 1.2M363.5 129.1l0.9 0.9M364.3 138.6l-0.7-1.1M363.6 137.5l0.4-1.5M365.5 141.6l-1.8-0.3M364.9 111.3l-1.1-2.2M363.8 109.1l0.1-0.4M365.5 101.8l-1.7-0.7M363.9 85.7l0.5 3.1M363.9 85.7l4.1-0.8M363.9 72.4l1 3.8M366.3 107.6l-2.4 1.1M364.7 135.6l-0.7 0.4M364.1 153.8l0-0.5M364.1 153.3l2.4-2.6M364.1 153.8l0.5 0.4M364.1 77.2l0.2 2.1M364.1 77.2l0.8-1M364.2 115.2l0.1 0.3M364.2 115.2l0.4-1M364.2 125.9l0.4 1.8M365.2 125.5l-1 0.4M365.2 132.3l-0.9-0.7M364.4 130l-0.1 1.6M364.3 117l0.3-0.6M364.3 79.3l0.6 0.7M364.6 118.3l-0.3-0.7M366.1 138.4l-1.8 0.2M364.6 118.3l-0.2 0.5M366.5 129.9l-2.1 0.1M365.7 89.1l-1.3-0.3M364.5 116l0.1 0.4M364.5 120.4l2.2 0.5M366.1 127.8l-1.5-0.1M364.6 118.3l2.5 0.2M364.6 116.4l2.4-0.3M364.6 114.2l1.2-0.3M366.6 136.9l-1.9-1.3M364.7 135.6l0.1-1M364.7 96.9l2.9 2.5M364.7 96.9l0.1-0.2M367.6 94.8l-2.8 1.9M365.3 134l-0.5 0.6M364.9 76.2l2.2-0.4M364.9 111.3l0.8 0M365 81.5l-0.1-1.5M368 79.5l-3.1 0.5M365 81.5l3.3 3M365.1 149.5l1.4 1.2M365.3 147.4l-0.2 2.1M365.3 134l-0.1-1.7M366.8 131.4l-1.6 0.9M367.2 133.8l-1.9 0.2M365.3 147.4l1.3-0.9M365.3 144.5l1.3 1.6M365.3 144.5l0.5-2.5M365.5 101.8l0.7 2.2M365.5 101.8l2.1-2.4M365.5 141.6l0.3 0.4M365.5 141.6l1.1-1.6M365.6 123.3l0.6 0.1M365.7 104.8l0.6 2.8M366.2 104l-0.5 0.8M365.7 111.3l0.7 1.1M365.7 111.3l1.3-1.5M366.9 91.5l-1.2-2.4M368 87.2l-2.3 1.9M365.8 142l1.7 0.7M365.8 113.9l1.5 1.5M365.8 113.9l0.6-1.5M366 71.9l2.1 1.9M366.1 138.4l0.5 1.6M366.1 138.4l0.5-1.5M366.1 124.4l0.1-1M366.3 123.3l-0.1 0.1M366.2 104l3.1-0.2M368.6 123.8l-2.3-0.5M366.7 120.9l-0.4 2.4M366.3 107.6l0.5 0.3M366.4 112.4l1.6 0.3M366.5 150.7l0 0M368.6 152.7l-2.1-2M368.6 148.3l-2.1 2.4M367.6 94.8l-1-2.6M366.9 91.5l-0.3 0.7M366.6 146.5l2 1.7M366.6 146.1l0 0.4M366.6 140l2.4-0.2M366.6 146.1l1.6-1.5M367.5 136.7l-0.9 0.2M367.5 120.4l-0.8 0.5M366.8 107.9l0.2 1.9M366.8 107.9l2.7-0.5M369.5 90.9l-2.6 0.6M367 116.1l0.5 1.6M367 116.1l0.3-0.7M367 109.8l1.8 1M368.6 77.7l-1.5-1.9M368.1 73.8l-1 2M367.5 120.4l-0.4-1.9M367.5 117.7l-0.4 0.8M367.3 115.4l0.8-0.5M367.5 120.4l0.1 0M367.5 136.7l1.2 0.4M367.5 136.7l0.2-2.8M368.2 144.6l-0.7-1.9M369.5 141.5l-2 1.2M367.5 117.7l2.6-0.1M367.6 99.4l0.7-0.1M370.1 95.6l-2.5-0.8M367.6 120.4l1.9 1.9M367.6 120.4l2.6-1M367.7 126.4l0.9-0.5M369.8 81.4l-1.8-1.9M368 79.5l0.6-1.8M368 84.9l0 2.3M368.3 84.5l-0.3 0.4M369.8 89l-1.8-1.8M368.1 114l-0.1-1.3M368.9 112.1l-0.9 0.6M368.1 114.9l0-0.7M368.5 115l-0.4-0.1M368.1 73.8l1.6-0.4M370.1 144.7l-1.9-0.1M368.3 84.5l0.2-0.1M369.5 100.4l-1.2-1.1M370.1 95.7l-1.8 3.6M369.9 128.9l-1.4-0.1M368.5 84.4l3.8 1.2M369.8 81.4l-1.3 3M370.1 126.4l-1.5-0.5M368.6 123.8l0 2.1M369.3 123.2l-0.7 0.6M370.5 151.4l-1.9-3.1M368.6 148.2l0 0.1M369.8 147.6l-1.2 0.6M370.8 77l-2.2 0.7M368.7 137.1l0.3 2.7M369 137l-0.3 0.1M368.9 112.1l-0.1-1.3M370.1 109.7l-1.3 1.1M368.9 131.2l1.3-0.5M370.5 112.9l-1.6-0.8M371.5 137.5l-2.5-0.5M370 135l-1 2M369.7 140.4l-0.7-0.6M369.1 115l1.3-1.1M369.7 104.1l-0.4-0.3M369.5 100.4l-0.2 3.4M369.3 123.2l1.6 1.2M369.3 123.2l0.2-0.9M371 144.2l-1.5-2.7M369.7 140.4l-0.2 1.1M369.5 107.4l0.6 2.3M369.6 107.3l-0.1 0.1M372.6 100.2l-3.1 0.2M369.5 90.9l1.8 1.8M369.5 90.9l0.3-1.9M369.5 122.3l1.3-0.7M372 107.4l-2.4-0.1M369.7 104.1l-0.1 3.2M372.3 104l-2.6 0.1M371 140l-1.3 0.4M369.7 73.4l2.1 1.2M369.8 71.1l-0.1 2.3M372.6 80.5l-2.8 0.9M372.6 148.3l-2.8-0.7M369.8 147.6l0.3-2.9M369.8 89l3.3-1.4M370.6 129.6l-0.7-0.7M369.9 128.9l0.2-2.5M372.4 110.5l-2.3-0.8M370.1 126.4l0.7-0.3M370.1 95.6l0 0.1M371.3 92.7l-1.2 2.9M372.8 97.2l-2.7-1.5M371 144.2l-0.9 0.5M370.2 119.4l0.6 2.2M370.2 119.4l0.5-1M372.2 115.6l-1.8-1.7M370.5 112.9l-0.1 1M372.4 111.8l-1.9 1.1M371.4 121.7l-0.6-0.1M372.6 80.5l-1.8-3.5M370.8 77l1.1-2.3M371.8 126.4l-1-0.3M370.8 126.1l0.1-1.7M372.3 123.5l-1.4 0.9M371.9 144.2l-0.9 0M372.6 141.4l-1.6-1.4M371 140l1-1.7M371.3 92.7l1.4-0.4M371.4 121.7l0.9 1.8M372.6 120.8l-1.2 0.9M371.9 74.7l-0.1-0.1M374.7 70.3l-2.9 4.3M374.9 76.3l-3-1.6M372.3 144.4l-0.4-0.2M372.6 141.4l-0.7 2.8M372.2 115.6l-0.2 1.1M372 107.4l0.7 2.6M373.4 105.8l-1.4 1.6M373.5 114.4l-1.3 1.2M372.7 148.1l-0.4-3.7M374.8 144.3l-2.5 0.1M372.3 104l1.1 1.8M372.3 104l1.2-2.2M372.8 123.7l-0.5-0.2M373.1 87.6l-0.8-2M373.9 83.1l-1.6 2.5M373.5 113l-1.1-1.2M372.4 110.5l0 1.3M372.7 110l-0.3 0.5M372.9 80.6l-0.3-0.1M372.6 100.2l0.9 1M372.6 100.2l0.2-3M373.7 141.1l-1.1 0.3M372.7 92.3l3.1 1.6M372.7 92.3l1.2-4.1M374.3 109.6l-1.6 0.4M372.8 97.2l2.9-1.2M372.9 80.6l1 2.5M374 79.8l-1.1 0.8M373.1 87.6l0.8 0.6M373.5 105.8l-0.1 0M373.5 113l0 1.4M376 112.1l-2.5 0.9M374.9 107.9l-1.4-2.1M373.5 105.8l2.3-0.8M373.5 101.8l2.7 1.8M373.5 101.2l0 0.6M373.5 101.2l3.5-1.5M374.7 115l-1.2-0.6M373.9 88.2l1.1 0M373.9 83.1l2.2 0.5M376.9 80l-2.9-0.2M374 79.8l0.9-3.5M376.4 110.9l-2.1-1.3M374.9 107.9l-0.6 1.7M374.6 70l0.1 0.3M377.7 72.6l-3-2.3M374.9 107.9l1.4-0.3M375.8 76l-0.9 0.3M375 88.2l2 2.2M375 88.2l2.4-2.4M375.7 96l1.3 1.6M375.7 96l0.2-1.9M378.1 78l-2.3-2M377.7 72.6l-1.9 3.4M375.9 94.1l-0.1-0.2M375.8 93.9l1.2-3.5M379.3 93.7l-3.4 0.4M376.1 83.6l1.3 2.2M376.1 83.6l1.6-2.1M376.3 104.3l-0.1-0.7M377.7 102.1l-1.5 1.5M376.9 80l0.8 1.5M376.9 80l1.2-2M377 90.4l2.4-0.3M377 99.7l0-2.1M377 97.6l2.6-0.6M377 99.7l0.7 0.7M377.4 85.8l0.9 0.1M377.7 81.5l2.7 0.4M377.7 102.1l1.4 1.3M377.7 102.1l0.1-0.7M378 72.6l-0.3 0M378 72.6l2.2 1.7M378 72.6l3.1-3.5M378.1 78l1.7-0.2M379.9 89.1l-1.6-3.2M379.3 85.2l-1 0.7M380.4 94.9l-1.1-1.2M379.3 93.7l0.8-2.1M382.4 86l-3.1-0.8M380.4 81.9l-1.1 3.3M380.1 91.6l-0.7-1.5M379.9 89.1l-0.5 1M379.6 97l1.1 0.9M379.6 97l0.8-2.1M379.8 77.8l0.9 0.7M380.2 74.3l-0.4 3.5M382.9 88.1l-3 1M380.1 91.6l2.4 0.4M382.9 74l-2.7 0.3M380.9 81.6l-0.5 0.3M380.4 94.9l2.4-0.1M381.3 102.3l-0.7-1.9M381.3 80.6l-0.6-2.1M383.4 76.9l-2.7 1.6M380.8 68.5l0.3 0.6M380.9 81.6l2.6 2.6M381.3 80.6l-0.4 1M381.1 69.1l2.5 0.7M381.3 80.6l2.8-0.3M382.4 86l0.5 2.1M383.5 84.2l-1.1 1.8M382.5 92l0.3 2.8M383.7 90.8l-1.2 1.2M382.8 94.8l0.3 0.1M383.4 88.4l-0.5-0.3M382.9 74l0.5 2.9M383 73.9l-0.1 0.1M387.6 74.4l-4.6-0.5M383.6 69.8l-0.6 4.1M383.3 97.3l-0.2-2.4M383.1 94.9l2.8-0.8M383.4 88.4l0.3 2.4M386 87.7l-2.6 0.7M385.3 78l-1.9-1.1M383.5 84.2l1.8-0.4M384.3 69.5l-0.7 0.3M384.3 100.5l-0.7-1.2M385.5 91.6l-1.8-0.8M384.1 80.3l1.9 2.5M385.3 78l-1.2 2.3M388.1 71.5l-3.8-2M386.4 64.7l-2.1 4.8M385.3 83.8l1.3 2.7M386 82.8l-0.7 1M387.4 77.5l-2.1 0.5M385.5 91.6l0.4 2.5M387.5 90.3l-2 1.3M385.8 63.5l0.6 1.2M386.4 94.4l-0.5-0.3M386 87.7l1.6 2.3M386.6 86.5l-0.6 1.2M386 82.8l1.6-0.6M391 59.6l-4.8 2.3M391.9 67.8l-5.5-3.1M386.9 96l-0.5-1.6M389.2 93l-2.8 1.4M389 86.2l-2.4 0.3M392 55.9l-5.4-1.4M387.4 77.5l0.2 4.7M388.4 76.4l-1 1.1M387.5 90.3l1.8 2.5M387.6 90l-0.1 0.3M390.6 88.3l-3 1.7M388.4 76.4l-0.8-2M387.6 74.4l0.5-2.9M389.6 82.8l-2-0.6M391.7 69.1l-3.6 2.4M391.7 77.1l-3.3-0.7M388.9 47.6l4.6 4.4M390.2 87.5l-1.2-1.3M389.6 82.8l-0.6 3.4M390 94.2l-0.8-1.2M389.3 92.8l-0.1 0.2M391.7 91.2l-2.4 1.6M390 82.7l-0.4 0.1M390.7 88.1l-0.5-0.6M390.6 88.3l1.1 2.9M390.7 88.1l-0.1 0.2M391.3 87.8l-0.6 0.3M391 59.6l4 5.1M391 59.6l1-3.7M393.9 92.1l-2.2-0.9M391.7 69.1l3.3 4.9M391.9 67.8l-0.2 1.3M391.9 67.8l3.1-3.1M392 55.9l0.7-0.6M392.7 55.3l5.8 2.6M393.5 52l-0.8 3.3M398.1 49.1l-4.6 2.9M394.1 92.4l-0.2-0.3M394.3 90.7l-0.4 1.4M395.3 64.7l-0.3 0M395.2 88.2l0 0M398.6 66.6l-3.3-1.9M395.3 64.7l3.5-5.5M398.8 59.2l-0.3-1.3M400.3 55.5l-1.8 2.4M398.6 66.6l0.4 2.3M403.5 64.9l-4.9 1.7M403.5 61.5l-4.7-2.3M403.5 64.9l1.4 1.2M403.5 61.5l0 3.4M405.2 60.1l-1.7 1.4" fill="none" stroke="#808080" stroke-width="0.44"/>
<path d="M81.1 54.8 84.3 56.0 86.9 57.1 86.5 61.0 88.8 62.4 95.1 63.5 99.2 63.8 104.7 63.5 108.3 63.5 119.9 66.0M119.9 66.0 120.1 62.7 124.9 43.8M119.9 66.0 121.0 69.3 121.5 70.2 119.3 73.7 116.6 77.0 116.7 79.4 115.1 82.2 111.7 95.6M69.3 85.4 94.1 91.7 111.7 95.6 129.6 98.9 147.6 101.8M94.1 91.7 87.6 113.9 114.2 150.8M114.2 150.8 114.1 152.4 115.0 157.2 113.7 158.6 112.7 161.5 111.0 162.8 111.7 166.0 111.6 167.1 109.7 167.8M114.2 150.8 115.2 147.1 115.4 143.3 120.0 142.5 121.3 136.5M121.3 136.5 129.6 98.9M121.3 136.5 153.7 141.3 193.1 145.1 199.3 145.4 248.0 146.4M158.5 111.0 153.7 141.3 146.8 184.2M147.6 101.8 146.2 109.4 158.5 111.0M147.6 101.8 151.1 83.0 149.4 80.8 143.9 81.5 140.8 82.2 137.9 78.6 136.3 72.2 132.8 71.9 134.4 68.8 134.1 63.7 130.2 58.0 128.3 52.6 130.2 44.9M151.1 83.0 151.8 79.2 192.4 83.7M158.5 111.0 189.3 114.1 201.7 114.9 199.3 145.4M189.3 114.1 195.5 53.7M201.1 122.5 243.5 123.5M190.9 98.9 224.3 100.5 227.3 101.7 230.9 101.8 233.3 102.3 235.7 103.7 236.9 104.5M193.2 76.6 236.4 78.3M233.0 55.3 233.7 59.0 234.1 62.8 235.2 68.0 236.2 73.3 236.4 78.3 236.3 83.2 236.9 83.2 236.7 96.9M236.7 96.9 268.1 96.1M236.7 96.9 235.8 100.7 236.9 104.5M236.9 104.5 238.7 109.8 240.2 114.4 240.7 119.1 243.5 123.5 246.1 126.6 247.9 130.2 248.0 146.4 248.1 150.3 249.4 158.7 249.2 172.1M240.7 119.1 267.9 120.0M193.1 145.1 192.8 148.9 212.5 149.9 211.7 164.7 217.1 166.1 221.7 168.5 225.8 170.1 230.5 171.3 234.7 170.6 240.1 170.6 243.6 170.4 249.0 172.1 252.2 172.7M192.8 148.9 189.3 183.1 164.5 181.1 164.9 182.8M252.2 172.7 252.3 176.8 252.4 184.6 254.9 190.6 256.0 195.9 255.0 198.9 254.0 202.0M252.3 176.8 272.2 176.3M272.2 176.3 272.1 180.1 273.9 182.3 271.6 185.4 270.3 188.5 269.6 191.6 283.0 190.9 282.8 194.7 284.3 197.1M272.2 176.3 272.4 172.4 273.6 168.5 275.5 165.4 277.3 162.2 277.9 160.7 279.7 156.0 280.8 152.8 281.9 148.9 283.9 145.0 281.5 142.8 278.6 138.4 276.3 133.2 273.6 130.3 270.9 127.3 268.2 123.6 267.9 120.0 269.8 116.7 270.5 113.6 273.2 111.1 274.9 108.8 272.3 105.1 271.9 103.6 269.3 99.9 268.1 96.1 266.8 92.8 261.4 89.2 258.3 87.0 258.6 85.1 258.7 80.6 261.0 76.8 260.9 72.9 261.9 71.7M248.1 150.3 277.6 149.2 276.4 153.1 280.8 152.8M281.9 148.9 291.4 148.3 291.3 146.9 320.1 144.6M271.9 103.6 289.2 102.4M271.7 72.6 273.4 74.3 279.4 75.7 285.9 77.5 287.3 80.8 288.6 82.6M291.3 108.4 292.9 126.3 292.9 130.5 291.3 134.5 290.6 138.3M290.6 138.3 289.9 141.1 288.1 143.9 283.9 145.0M295.6 107.5 308.1 106.8 316.3 105.6M308.1 106.8 310.3 126.5M310.3 126.5 306.9 129.6 305.1 133.4 301.8 135.8 298.6 136.5 293.4 136.8 290.6 138.3M310.3 126.5 312.3 126.3 317.9 129.1 322.3 128.2 325.1 129.7 327.2 126.7 329.7 124.1 332.3 121.8 334.7 118.7 335.4 115.5 335.0 111.4M333.8 101.2 335.5 111.3 336.7 118.3 343.2 117.3M343.2 117.3 366.1 113.1 368.3 112.1M368.3 112.1 369.9 110.2 372.0 108.6 369.5 107.1 368.0 104.7 368.1 102.7 369.9 99.5M369.9 99.5 367.1 97.1 364.9 95.6 338.3 100.4 338.0 98.3M369.9 99.5 374.8 101.3 375.4 101.2M377.0 101.0 377.6 99.9 375.8 92.8 375.9 87.3 374.4 81.3 372.6 76.7 371.1 70.8M375.8 92.8 386.0 90.7 388.5 90.1 388.8 91.0 391.1 93.6M386.0 90.7 387.1 96.0M375.9 87.3 380.7 86.4 387.6 85.0 390.0 83.1M380.7 86.4 379.9 82.1 380.5 77.3 381.6 68.3M390.3 81.3 387.1 76.5 383.4 65.6M366.1 113.1 368.3 122.5 372.9 121.7M372.5 125.1 370.0 126.2 368.4 126.5M343.2 117.3 343.9 121.2 346.6 118.8 350.1 117.0 354.3 118.6 356.3 119.0 359.2 120.5 360.6 123.7 363.6 125.5 365.8 126.6M354.8 118.4 351.0 118.4 348.6 122.7 346.6 126.2 344.2 127.3 342.4 131.5 341.0 134.8 337.4 136.9 334.1 137.4 332.3 138.4 330.2 136.1M325.1 129.7 325.4 131.6 327.8 135.2 330.2 136.1M330.2 136.1 325.9 140.0 320.1 144.6M320.1 144.6 333.2 143.0 371.0 136.9M333.2 143.0 331.5 146.2 327.9 148.7 324.8 150.6 322.3 152.4 319.2 154.4 317.4 157.3M325.6 156.3 330.0 154.2 339.1 153.3 339.9 153.5 341.1 155.5 348.7 154.5 357.5 160.3M325.6 156.3 317.4 157.3 291.4 159.8 277.9 160.7M325.6 156.3 328.3 159.0 333.0 164.9 335.6 168.1 339.0 172.2 342.5 176.3 344.0 176.5M308.8 158.2 313.4 174.2 315.3 178.2 315.2 183.6 316.4 188.1M316.4 188.1 317.7 190.2 336.6 188.9 337.9 190.0 338.5 186.9 341.8 187.2M298.1 189.8 316.4 188.1M298.1 189.8 299.3 195.0M291.4 159.8 292.1 160.5 291.4 183.5 292.8 195.0" fill="none" stroke="#1a1a1a" stroke-width="1.15"/>
<path d="M82.5 38.3 84.7 39.9 86.3 41.1 88.7 42.1 90.5 42.6 92.3 43.1 92.4 44.4 92.1 46.3 90.6 48.6 88.9 50.3 90.5 49.8 92.1 49.4 93.1 47.7 94.1 46.0 95.0 44.7 94.8 42.3 94.7 40.3 95.2 38.9 94.4 36.7 109.0 40.4 124.9 43.8 130.2 44.9 140.9 46.8 157.5 49.5 173.9 51.6 195.5 53.7 212.3 54.7 233.0 55.3 244.5 55.3 244.5 52.4 246.3 52.8 247.0 56.4 247.5 57.3 250.9 57.8 252.0 58.7 253.9 58.2 256.7 57.9 258.7 59.1 260.4 59.8 263.2 60.8 265.5 61.8 268.5 60.5 271.6 61.1 275.5 61.6 273.4 63.1 270.1 64.7 267.4 67.0 264.4 69.5 261.9 71.7 263.6 72.1 265.9 71.3 268.1 70.6 269.2 69.9 269.1 72.4 271.7 72.6 274.4 70.7 277.5 70.0 279.7 68.9 282.2 67.2 284.0 65.5 285.9 64.9 284.4 66.7 283.1 68.3 282.7 70.3 284.6 69.3 286.6 69.5 288.8 71.7 291.7 72.1 293.2 72.2 295.0 70.5 296.8 69.9 299.5 69.4 302.5 68.6 302.2 70.5 304.5 70.6 306.2 70.2 307.6 71.6 309.0 73.3 309.3 73.9 307.6 74.0 305.9 74.2 304.7 75.2 302.4 74.5 300.0 74.0 298.1 74.9 295.8 75.5 294.1 78.0 292.8 76.6 291.4 77.4 290.1 79.1 288.6 82.6 287.2 84.4 286.5 87.1 288.1 86.1 289.4 84.2 291.0 82.4 292.3 80.8 291.6 83.1 290.1 84.8 289.7 87.4 289.0 90.3 288.9 92.9 288.2 96.4 288.2 98.4 289.1 100.7 289.0 102.4 289.1 104.0 290.7 107.0 291.4 108.5 292.5 108.9 295.2 107.9 296.9 106.7 297.5 104.8 298.5 102.2 298.6 99.3 297.9 96.1 296.5 93.4 296.2 90.7 297.1 87.6 296.8 85.0 298.4 83.3 300.0 80.8 300.8 83.4 301.5 81.8 301.8 79.7 303.5 78.9 302.8 77.5 304.7 75.9 306.4 76.7 308.6 77.6 310.3 78.0 312.9 80.4 314.1 83.0 314.2 85.2 313.1 86.6 311.6 89.1 311.7 91.4 313.6 90.4 314.9 88.7 316.6 87.7 318.8 88.9 320.2 92.2 321.1 95.3 321.1 98.3 319.3 98.5 318.9 100.5 317.8 101.4 317.5 103.3 316.3 105.6 318.5 106.3 321.1 107.1 323.6 107.0 327.2 105.9 329.9 103.6 332.2 102.1 336.1 99.7 338.0 98.3 340.3 96.3 342.3 92.9 340.9 90.3 344.0 89.0 349.4 88.8 353.5 87.7 355.6 86.0 357.2 85.0 356.9 82.4 355.5 80.9 357.6 78.7 359.3 75.7 362.3 72.7 367.4 71.7 371.1 70.8 376.0 69.7 381.6 68.3 383.4 65.6 384.9 65.8 385.7 64.3 386.5 60.1 386.4 58.6 387.2 56.4 386.5 53.9 389.1 47.3 391.4 48.8 394.0 46.7 397.7 48.0 400.4 56.0 403.2 58.1 406.1 61.0 407.6 62.9 406.3 65.0 403.9 66.9 401.9 68.6 399.7 69.3 398.2 68.5 397.8 71.3 395.9 73.0 394.0 75.1 391.8 76.9 390.7 80.7 390.0 81.5 390.0 83.1 391.8 84.4 390.1 86.3 390.2 87.5 391.9 87.9 393.2 89.5 394.0 90.8 395.5 90.7 396.7 89.4 395.2 88.2 396.8 88.4 397.7 90.5 395.9 91.4 393.8 92.5 392.2 92.5 391.3 93.6 390.1 94.1 389.4 94.8 387.1 96.0 385.6 96.3 383.3 97.3 380.8 97.8 379.4 99.1 377.0 101.0 376.4 102.1 378.0 101.2 381.0 100.3 383.3 99.6 385.1 97.8 387.6 97.8 384.2 100.6 380.3 102.8 378.0 103.9 375.9 104.4 375.8 105.2 376.3 107.2 376.4 108.8 376.5 110.7 375.2 114.1 374.0 116.4 372.7 118.0 371.6 116.1 369.1 115.0 367.8 113.7 368.9 115.8 370.5 118.3 372.1 119.2 372.9 121.7 373.0 122.6 372.5 125.3 371.8 126.2 370.9 128.7 369.7 132.1 369.3 132.8 368.7 130.7 368.2 126.9 365.9 124.2 364.5 120.6 364.3 116.8 364.8 114.7 363.1 117.4 363.2 120.9 364.7 124.5 365.8 126.6 366.6 130.4 367.1 133.8 369.5 134.2 371.1 136.9 373.9 141.4 375.5 146.3 372.6 148.2 369.9 152.3 364.9 153.7 361.5 159.7 357.5 160.3 355.4 161.9 354.1 166.0 349.9 170.2 346.3 173.4 344.8 175.2 344.0 176.5 342.6 180.9 341.6 183.8 341.8 187.2 342.5 189.4 343.8 193.0 346.8 198.0 351.0 203.1 350.9 205.0 353.3 209.2 357.0 215.5 357.9 223.7 357.0 226.9 355.7 228.6 352.8 229.5 350.9 229.7 349.7 227.3 345.7 223.7 343.9 219.4 340.9 217.1 337.7 213.4 336.3 211.6 335.2 208.7 335.4 204.9 335.3 201.9 332.1 200.4 329.2 197.3 325.2 195.1 323.0 194.4 321.7 195.5 319.7 196.9 317.6 198.2 315.1 198.3 314.2 196.7 312.2 195.0 306.3 193.8 301.4 194.6 298.9 195.3 295.7 195.9 294.9 194.3 292.8 195.0 291.7 195.3 289.2 195.1 286.1 196.0 284.3 197.1 283.7 198.1 285.9 198.3 287.1 200.1 286.1 202.1 288.2 205.4 285.9 203.6 282.6 203.9 280.5 205.6 276.9 205.7 272.5 204.8 268.8 203.0 265.2 202.8 260.1 201.5 254.0 202.0 249.3 203.6 247.1 205.2 243.5 208.2 238.4 210.5 235.5 212.0 232.5 214.3 229.5 216.5 228.3 219.5 227.9 224.1 228.9 227.8 229.6 230.4 227.7 231.2 225.4 230.0 221.7 229.4 218.7 228.0 215.1 226.4 212.6 222.2 212.5 218.4 209.7 215.3 206.9 212.2 205.6 209.1 203.0 204.1 199.7 200.7 195.4 200.3 192.5 200.5 190.2 201.5 188.5 204.4 186.2 206.0 184.1 204.7 180.7 202.7 177.3 200.2 176.3 196.7 174.6 192.3 170.7 188.6 166.9 185.5 164.9 182.8 153.2 181.5 152.7 184.9 132.7 182.3 108.7 169.4 109.7 167.8 93.1 166.1 92.8 163.5 92.5 160.7 91.0 158.4 87.6 155.6 86.9 155.2 86.7 153.2 83.2 151.6 82.0 150.0 79.7 148.5 74.7 146.9 73.8 145.7 74.7 143.3 74.2 139.5 72.1 136.4 71.5 133.8 70.4 128.8 71.5 127.4 70.5 126.0 68.6 123.5 68.7 121.2 69.4 119.1 67.8 117.7 66.8 116.7 67.5 114.5 64.7 108.9 65.3 105.1 66.0 102.0 64.3 96.4 66.4 94.1 67.3 92.4 68.8 87.2 69.3 85.4 69.4 78.7 72.2 75.4 75.0 70.9 76.7 66.7 79.5 60.3 81.1 54.8 82.0 51.4 82.0 49.5 82.6 45.3 82.0 42.0 82.5 38.3Z" fill="none" stroke="#000" stroke-width="1.1"/>
<path d="M133.1 250.8 136.9 251.9 141.5 252.7 146.9 253.5 150.8 255.0 154.6 257.3 159.2 260.4 162.3 263.5 166.9 266.5 171.5 269.6 176.2 273.5 180.8 277.0 164.4 306.2 167.1 308.3 169.8 310.6 172.0 312.0 175.5 313.0 177.5 316.0 179.5 320.5 181.5 326.0 183.6 330.0 183.0 334.0 179.5 335.3 176.3 333.2 174.2 329.0 172.3 324.0 170.8 319.5 169.2 316.0 167.3 312.5 165.3 309.8 163.5 307.5 161.5 305.8 159.0 304.2 157.0 302.3 155.0 300.2 153.2 298.3 151.6 296.8 150.0 296.5 148.9 297.5 147.5 297.8 146.0 296.8 144.5 296.8 142.9 296.2 141.0 295.8 139.5 295.5 137.0 294.5 134.0 294.0 131.0 294.2 128.0 293.8 126.0 292.5 125.5 291.5 122.0 292.5 119.0 293.3 115.0 294.3 112.1 294.6 108.0 294.4 104.0 293.4 100.0 291.8 103.0 291.5 107.0 292.8 111.0 293.2 115.0 292.5 119.0 291.5 122.5 290.3 124.2 289.2 121.5 287.5 119.9 285.8 117.5 284.0 116.4 282.3 118.0 280.5 119.0 278.8 117.5 277.0 116.4 275.4 116.2 273.0 116.0 270.5 118.5 268.8 122.3 268.1 125.0 267.8 127.5 266.5 130.0 265.5 133.0 265.0 136.0 264.5 138.5 263.5 136.5 262.0 134.0 261.0 131.0 260.0 128.5 259.5 126.0 258.5 124.6 257.3 123.8 255.8 126.0 255.3 128.5 254.5 131.0 253.5 132.3 252.3Z" fill="#fff" stroke="#000" stroke-width="0.7"/><path d="M141.5 288.0 144.0 285.5 149.0 284.8 155.0 285.8 157.7 288.5 155.5 292.5 151.0 294.2 146.0 293.8 142.5 291.5Z" fill="#b4c1ea"/><path d="M157.0 282.5 159.0 281.9 163.0 284.0 166.9 287.2 165.0 288.1 161.0 286.5 158.0 284.8Z" fill="#dba9a3"/><path d="M145.4 292.5 148.5 292.0 151.5 294.5 150.0 295.8 147.0 295.0Z" fill="#8c2a27"/><path d="M128.5 273.5 140.0 271.0 151.5 268.1 162.0 270.0 176.0 276.0M133.1 266.5 142.3 265.0 151.5 268.1M126.9 277.3 140.8 280.4 151.5 281.9 171.5 287.3M119.2 283.5 132.0 287.0 142.3 289.6 152.0 291.0M157.7 290.0 163.0 295.0 165.5 300.0M151.5 281.9 150.0 276.0 151.5 268.1" fill="none" stroke="#999" stroke-width="0.4"/><path d="M111.6 255.2 112.6 255.0 114.5 257.5 116.2 260.3 115.4 260.9 113.2 258.5ZM110.2 272.5 111.5 271.2 113.4 271.8 113.2 273.8 111.2 274.3ZM127.5 299.8 130.0 298.3 133.0 298.0 136.0 298.6 135.5 300.3 132.0 301.4 128.5 301.2Z" fill="#fff" stroke="#000" stroke-width="0.7"/><path d="M180.4 335.0 179.0 334.0 178.6 333.2 179.3 332.2 180.3 330.3 180.7 331.9 180.8 331.7ZM177.7 323.6 177.1 322.1 177.4 321.6 177.3 321.6 178.4 321.9ZM170.9 318.1 169.6 317.2 170.2 316.2 170.7 315.8 170.9 317.1ZM177.0 329.7 176.4 331.2 176.3 331.1 175.2 328.3 175.5 326.6 176.6 325.9 177.0 327.5ZM169.5 314.5 169.0 314.4 169.1 313.3 169.4 313.0 170.8 313.7ZM174.2 320.0 172.4 322.8 171.6 319.9 171.8 318.2 173.2 317.9ZM174.0 317.4 174.0 317.4 172.8 315.0 173.6 314.7 173.6 314.8 174.1 315.9ZM177.2 329.7 177.1 328.3 177.1 327.9 177.2 327.8 177.6 327.5 177.9 328.5 178.0 328.7ZM180.5 326.5 180.2 327.0 180.1 327.3 179.8 327.2 179.4 326.8 180.2 325.1 180.5 325.9ZM175.4 318.9 174.5 320.4 174.4 315.1 174.5 315.2 175.4 315.2 175.8 315.2 176.3 316.5ZM173.7 322.2 173.5 321.2 173.5 322.2 173.3 321.4 172.8 319.6 173.3 319.1 173.8 318.9ZM171.2 313.6 170.6 314.4 169.9 316.4 169.0 315.7 169.6 311.4 169.7 311.9 169.9 311.1ZM178.6 326.6 178.1 326.9 177.9 325.3 178.3 324.8 178.5 324.6 179.0 325.0 178.8 324.9ZM175.6 320.9 173.9 321.8 174.8 319.0 175.2 320.1 175.6 320.7ZM175.3 320.0 175.4 319.8 174.0 318.2 174.3 316.2 175.8 317.5 175.6 317.5ZM176.4 330.9 176.1 330.0 176.0 329.5 176.5 328.2 176.7 328.0ZM170.8 314.4 170.3 315.7 169.6 317.0 169.5 315.8 168.9 315.8 168.9 311.8 170.3 313.5ZM172.2 316.5 172.0 315.6 171.4 313.4 172.1 311.4 172.1 313.0 172.5 312.8ZM180.4 325.1 179.8 326.0 178.9 325.5 179.4 322.7 179.9 323.1 180.0 324.3ZM179.5 331.1 179.2 331.3 178.8 330.1 178.9 328.9 179.7 328.9 180.0 328.3ZM171.3 321.1 170.8 321.3 170.6 319.1 170.5 319.0 170.7 318.8 170.9 319.2 171.6 319.1ZM176.4 322.1 176.1 322.6 176.0 322.6 175.6 321.9 175.3 321.0 175.7 319.4 176.3 320.5ZM173.1 321.4 172.8 322.4 172.1 321.5 171.9 321.7 172.7 320.4 173.1 320.8ZM173.3 316.7 171.1 316.7 172.2 314.3 172.6 314.2 172.8 315.0 172.8 315.2ZM172.1 316.0 171.4 316.0 171.7 315.8 171.7 315.0 172.3 313.7 172.5 313.9ZM174.9 326.5 174.4 327.1 174.4 327.1 173.8 322.7 175.0 322.2 175.9 324.2 175.5 324.4ZM175.8 322.3 175.7 322.4 175.6 322.4 175.2 321.0 175.2 320.5ZM180.1 329.7 180.2 329.6 180.1 329.9 179.0 328.3 179.2 327.5 179.3 327.4 179.4 327.6ZM175.6 327.9 175.1 328.2 174.1 327.1 174.6 324.9 174.8 325.2ZM179.0 332.5 178.9 332.7 178.3 332.1 178.1 332.4 179.0 330.5Z" fill="#fff" stroke="#000" stroke-width="0.63"/><path d="M85.3 288.4 88.0 289.3 90.0 290.5 92.5 291.2 94.8 291.8M69.7 279.7 71.5 280.6 74.0 281.8M64.5 274.5 65.5 275.5M66.5 276.8 68.0 278.0M95.8 291.6 99.0 292.4" fill="none" stroke="#000" stroke-width="0.9799999999999999"/><path d="M103.8 219.5 106.5 222.7 106.9 226.9 102.3 227.3 99.1 225.0 100.4 222.7Z" fill="#fff" stroke="#333" stroke-width="0.6"/><path d="M90.8 197.0 92.5 196.3 93.9 197.6 93.2 199.6 91.3 199.6Z" fill="#fff" stroke="#555" stroke-width="0.6"/><path d="M87.2 196.0 88.3 196.6" stroke="#000" stroke-width="0.78"/><path d="M96.3 205.0 98.0 204.8 98.9 206.8 97.6 207.8 96.3 206.8Z" fill="#7a1d1c" stroke="#333" stroke-width="0.48"/><path d="M99.6 209.8 101.5 210.6 102.8 211.5" fill="none" stroke="#000" stroke-width="0.78"/><path d="M101.8 212.8 103.5 213.0 105.4 214.8 104.8 216.6 102.8 216.4 102.2 214.5Z" fill="#b4c1ea" stroke="#333" stroke-width="0.48"/><path d="M75.8 151.2l1.6 0.4 1.4 0.3M86.2 157.5l0.9 1M86.6 160.3l0.5 1.4" stroke="#111" stroke-width="1" fill="none"/><path d="M93.1 40.6 94.6 41.2 94.8 44.0 93.7 47.5 91.9 49.8 90.5 48.7 91.3 45.8 92.5 43.5Z" fill="#111"/><circle cx="91.3" cy="39.4" r="0.8" fill="#111"/><g fill="none" stroke="#111" stroke-width="0.9"><ellipse cx="283.3" cy="199.3" rx="2.4" ry="1.1"/><path d="M281 203.5l2.5-0.6 2.2 1.2 2.6 1.5M284.5 202.5l1.5 3M279 202.2l-3 1.3-3-0.5M270 203.3l-2.5 0.6"/></g>
<g font-family="Liberation Sans, sans-serif" font-size="11" stroke="#000" stroke-width="0.15">
<text x="240.3" y="265.3" font-size="11.4" font-weight="bold">Recall Event Density (RED)</text>
<rect x="243.6" y="274.3" width="19.6" height="9.2" fill="#f4f3e9" stroke="#000" stroke-width="1.2"/><text x="268" y="282.5">No blood facility</text><rect x="243.6" y="291.6" width="19.6" height="9.2" fill="#b4c1ea" stroke="#000" stroke-width="1.2"/><text x="268" y="299.8">0</text><rect x="243.6" y="308.9" width="19.6" height="9.2" fill="#dba9a3" stroke="#000" stroke-width="1.2"/><text x="268" y="317.1">1</text><rect x="243.6" y="326.2" width="19.6" height="9.2" fill="#c47a6c" stroke="#000" stroke-width="1.2"/><text x="268" y="334.4">2 - 5</text><rect x="243.6" y="343.5" width="19.6" height="9.2" fill="#a84a44" stroke="#000" stroke-width="1.2"/><text x="268" y="351.7">6 - 15</text><rect x="243.6" y="360.8" width="19.6" height="9.2" fill="#8c2a27" stroke="#000" stroke-width="1.2"/><text x="268" y="369.0">16 - 35</text><rect x="243.6" y="378.1" width="19.6" height="9.2" fill="#6e1214" stroke="#000" stroke-width="1.2"/><text x="268" y="386.3">36 - 65</text></g><path d="M192.1 441.7 194.1 443.1 195.6 444.1 197.6 444.9 199.3 445.4 200.9 445.8 201.0 446.9 200.7 448.5 199.3 450.6 197.8 452.0 199.3 451.5 200.7 451.2 201.6 449.8 202.5 448.3 203.3 447.2 203.1 445.1 203.1 443.4 203.5 442.2 202.8 440.4 215.9 443.5 230.1 446.5 234.9 447.4 244.5 449.1 259.4 451.4 274.1 453.3 293.5 455.1 308.5 456.0 327.2 456.5 337.4 456.5 337.4 454.1 339.1 454.5 339.7 457.5 340.2 458.3 343.2 458.7 344.2 459.5 345.9 459.1 348.4 458.8 350.2 459.8 351.7 460.4 354.2 461.3 356.3 462.2 359.0 461.1 361.8 461.6 365.3 462.0 363.4 463.3 360.4 464.7 358.0 466.6 355.3 468.8 353.1 470.7 354.6 470.9 356.6 470.3 358.7 469.7 359.6 469.1 359.5 471.2 361.8 471.5 364.3 469.8 367.1 469.2 369.1 468.3 371.2 466.8 372.9 465.4 374.6 464.8 373.2 466.4 372.1 467.7 371.7 469.5 373.4 468.6 375.2 468.8 377.2 470.7 379.8 471.0 381.1 471.1 382.8 469.7 384.4 469.1 386.8 468.8 389.5 468.1 389.3 469.7 391.3 469.8 392.8 469.5 394.0 470.6 395.3 472.1 395.6 472.6 394.1 472.7 392.5 472.9 391.4 473.7 389.4 473.1 387.3 472.6 385.5 473.5 383.5 474.0 381.9 476.0 380.7 474.8 379.5 475.6 378.3 477.0 377.0 480.0 375.8 481.5 375.2 483.9 376.5 483.0 377.7 481.4 379.1 479.9 380.3 478.5 379.7 480.5 378.4 481.9 377.9 484.1 377.3 486.6 377.3 488.8 376.6 491.8 376.6 493.5 377.5 495.4 377.4 497.0 377.4 498.3 378.8 500.9 379.5 502.2 380.5 502.5 382.9 501.6 384.5 500.6 384.9 499.0 385.9 496.8 386.0 494.3 385.3 491.5 384.1 489.2 383.8 487.0 384.6 484.3 384.4 482.1 385.8 480.6 387.3 478.5 387.9 480.7 388.6 479.3 388.9 477.6 390.4 476.9 389.7 475.7 391.5 474.3 392.9 475.0 395.0 475.8 396.5 476.1 398.9 478.2 399.9 480.4 400.0 482.3 399.0 483.5 397.6 485.6 397.8 487.5 399.4 486.7 400.6 485.3 402.1 484.4 404.1 485.5 405.3 488.3 406.2 491.0 406.1 493.5 404.5 493.7 404.2 495.3 403.2 496.1 402.9 497.8 401.8 499.7 403.8 500.3 406.2 501.0 408.4 500.9 411.6 500.0 414.1 498.0 416.1 496.8 419.6 494.7 421.3 493.6 423.4 491.9 425.2 488.9 423.9 486.7 426.7 485.6 431.6 485.4 435.2 484.5 437.1 483.1 438.6 482.2 438.3 479.9 437.0 478.7 438.9 476.8 440.5 474.2 443.1 471.7 447.7 470.8 451.1 470.1 455.4 469.1 460.5 468.0 462.1 465.7 463.4 465.8 464.1 464.5 464.9 461.0 464.8 459.7 465.5 457.8 464.8 455.7 467.2 450.0 469.3 451.3 471.6 449.5 474.9 450.6 477.4 457.5 479.9 459.3 482.4 461.8 483.8 463.4 482.7 465.2 480.4 466.8 478.7 468.3 476.7 468.8 475.4 468.2 475.0 470.6 473.3 472.1 471.6 473.8 469.6 475.3 468.6 478.6 468.0 479.3 468.0 480.6 469.6 481.7 468.1 483.4 468.1 484.4 469.7 484.7 470.8 486.2 471.5 487.2 472.9 487.1 474.0 486.1 472.6 485.0 474.1 485.2 474.9 487.0 473.3 487.7 471.4 488.7 470.0 488.7 469.1 489.6 468.1 490.0 467.4 490.7 465.4 491.7 464.1 491.9 462.0 492.7 459.7 493.2 458.4 494.3 456.3 495.9 455.8 496.9 457.2 496.1 459.9 495.4 462.0 494.7 463.6 493.2 465.8 493.2 462.8 495.6 459.3 497.5 457.2 498.4 455.3 498.9 455.2 499.5 455.7 501.3 455.7 502.6 455.9 504.2 454.7 507.1 453.6 509.0 452.4 510.4 451.5 508.8 449.2 507.9 448.1 506.8 449.1 508.6 450.5 510.7 451.9 511.5 452.6 513.6 452.7 514.4 452.2 516.7 451.6 517.5 450.8 519.6 449.7 522.5 449.4 523.1 448.9 521.3 448.4 518.1 446.4 515.8 445.1 512.7 444.9 509.4 445.3 507.6 443.8 509.9 443.9 512.9 445.2 516.0 446.2 517.8 447.0 521.0 447.4 523.9 449.6 524.3 451.0 526.6 453.5 530.5 454.9 534.7 452.4 536.2 449.9 539.8 445.4 540.9 442.4 546.1 438.8 546.6 436.9 548.0 435.7 551.5 432.0 555.0 428.7 557.8 427.4 559.3 426.6 560.4 425.3 564.2 424.5 566.6 424.6 569.5 425.3 571.4 426.4 574.5 429.1 578.8 432.9 583.1 432.8 584.8 434.9 588.4 438.3 593.8 439.1 600.8 438.2 603.5 437.1 605.0 434.5 605.7 432.8 605.9 431.7 603.8 428.1 600.7 426.5 597.0 423.8 595.1 421.0 591.9 419.7 590.4 418.7 587.9 418.9 584.7 418.8 582.1 416.0 580.8 413.3 578.1 409.8 576.3 407.7 575.6 406.6 576.6 404.8 577.8 403.0 578.9 400.7 579.0 399.9 577.6 398.1 576.1 392.8 575.1 388.4 575.8 386.2 576.4 383.3 576.9 382.5 575.5 380.7 576.1 379.7 576.3 377.5 576.1 374.6 577.0 373.1 577.8 372.5 578.7 374.4 578.9 375.5 580.5 374.7 582.2 376.5 585.0 374.4 583.5 371.5 583.6 369.7 585.2 366.4 585.2 362.4 584.4 359.1 582.9 355.9 582.7 351.3 581.6 345.8 582.0 341.6 583.4 339.7 584.7 336.4 587.3 331.9 589.3 329.2 590.5 326.5 592.5 323.9 594.4 322.8 596.9 322.4 600.8 323.3 604.0 323.9 606.2 322.2 606.9 320.2 605.9 316.8 605.4 314.2 604.2 310.9 602.8 308.7 599.2 308.6 596.0 306.1 593.3 303.6 590.6 302.4 588.0 300.1 583.7 297.1 580.8 293.2 580.4 290.6 580.6 288.6 581.4 287.1 583.9 285.0 585.3 283.1 584.2 280.0 582.5 277.0 580.3 276.1 577.3 274.6 573.6 271.1 570.3 267.7 567.7 265.9 565.4 255.4 564.3 255.0 567.2 237.0 564.9 215.5 553.9 216.4 552.5 201.5 551.0 201.3 548.8 201.0 546.4 199.6 544.4 196.6 542.0 195.9 541.7 195.8 539.9 192.6 538.6 191.6 537.2 189.5 535.9 185.0 534.5 184.2 533.5 185.0 531.5 184.5 528.2 182.7 525.5 182.2 523.3 181.1 519.0 182.1 517.9 181.3 516.7 179.6 514.5 179.6 512.5 180.2 510.7 178.8 509.6 177.9 508.7 178.6 506.8 176.0 502.0 176.6 498.7 177.2 496.2 175.7 491.4 177.6 489.4 178.4 487.9 179.7 483.5 180.2 481.9 180.3 476.2 182.8 473.4 185.3 469.6 186.9 465.9 189.4 460.5 190.8 455.8 191.6 452.9 191.7 451.3 192.2 447.7 191.6 444.8 192.1 441.7Z" fill="#f3f2e8"/>
<path d="M187.1 531.3 189.7 526.5 195.1 523.2 201.8 522.5 201.8 527.2 204.5 530.6 216.0 531.9 220.7 537.3 221.3 541.3 219.7 544.5 218.3 547.6 221.2 548.5 227.7 549.6 229.2 536.5 231.2 536.9 235.4 541.2 237.7 542.7 238.8 545.0 239.2 548.1 240.4 551.2 237.7 551.2 235.4 552.7 233.1 554.2 233.1 556.5 242.3 558.1 242.7 562.3 236.2 563.5 236.5 564.7 215.5 553.9 216.4 552.5 201.5 551.0 201.3 548.8 201.0 546.4 199.6 544.4 196.6 542.0 195.9 541.7 195.8 539.9 192.6 538.6 191.6 537.2 189.5 535.9 185.0 534.5 184.8 534.2 187.1 531.3ZM429.1 578.8 432.9 583.1 432.8 584.8 434.9 588.4 438.3 593.8 439.1 600.8 438.2 603.5 437.1 605.0 434.5 605.7 432.8 605.9 431.7 603.8 428.1 600.7 426.5 597.0 423.8 595.1 421.0 591.9 419.7 590.4 418.7 587.9 418.9 584.7 418.8 582.1 416.0 580.8 414.1 578.9 413.8 577.2 427.1 575.6 429.1 578.8ZM427.3 596.0 430.1 598.2 432.8 597.2 431.4 592.1 428.8 588.6 424.2 588.9 425.1 592.3 427.3 596.0ZM432.3 603.4 433.6 602.9 432.8 600.1 431.1 600.3 432.3 603.4Z" fill="#b31b23" fill-rule="evenodd"/><path d="M185.4 537.8L190 538.3M194.2 543.3L195.7 544.6M193.4 546.2L194.5 547.7" stroke="#222" stroke-width="0.9" fill="none"/>
<path d="M190.8 455.8 193.7 456.9 196.1 457.8 195.6 461.1 197.8 462.3 203.4 463.3 207.1 463.5 212.0 463.3 215.2 463.3 225.7 465.5M225.7 465.5 225.8 462.6 230.1 446.5M225.7 465.5 226.6 468.3 227.1 469.1 225.1 472.0 222.7 474.9 222.7 476.9 221.4 479.3 218.3 490.7M180.2 481.9 202.5 487.4 218.3 490.7 234.3 493.6 250.5 496.1M202.5 487.4 196.6 506.4 220.4 538.0M220.4 538.0 220.3 539.3 221.2 543.4 220.0 544.6 219.1 547.1 217.6 548.2 218.2 550.9 218.1 551.9 216.4 552.5M220.4 538.0 221.4 534.8 221.6 531.5 225.7 530.9 226.9 525.7M226.9 525.7 234.3 493.6M226.9 525.7 255.9 529.9 291.3 533.2 296.8 533.5 340.6 534.5M260.2 504.0 255.9 529.9 249.7 566.6M250.5 496.1 249.2 502.6 260.2 504.0M250.5 496.1 253.6 480.1 252.1 478.2 247.1 478.8 244.3 479.3 241.8 476.3 240.4 470.8 237.2 470.6 238.7 467.8 238.4 463.5 234.9 458.6 233.2 454.0 234.9 447.4M253.6 480.1 254.2 476.8 290.7 480.8M260.2 504.0 287.9 506.7 299.0 507.4 296.8 533.5M287.9 506.7 293.5 455.1M298.5 514.0 336.5 514.9M289.3 493.7 319.3 495.2 322.0 496.2 325.2 496.3 327.4 496.7 329.5 497.9 330.6 498.6M291.4 474.7 330.1 476.2M327.2 456.5 327.7 459.7 328.2 462.9 329.1 467.4 330.0 472.0 330.1 476.2 330.1 480.4 330.6 480.4 330.5 492.1M330.5 492.1 358.6 491.5M330.5 492.1 329.6 495.3 330.6 498.6M330.6 498.6 332.2 503.2 333.5 507.1 334.0 511.1 336.5 514.9 338.9 517.5 340.5 520.6 340.6 534.5 340.6 537.8 341.8 545.0 341.6 556.4M334.0 511.1 358.4 511.9M291.3 533.2 290.9 536.5 308.7 537.4 307.9 550.0 312.8 551.3 316.9 553.3 320.6 554.7 324.8 555.7 328.5 555.1 333.4 555.1 336.5 554.9 341.4 556.5 344.3 557.0M290.9 536.5 287.8 565.7 265.5 563.9 265.9 565.4M344.3 557.0 344.3 560.5 344.4 567.1 346.6 572.3 347.7 576.8 346.8 579.4 345.8 582.0M344.3 560.5 362.2 560.0M362.2 560.0 362.1 563.3 363.7 565.2 361.7 567.9 360.5 570.5 359.8 573.2 371.9 572.6 371.7 575.8 373.1 577.8M362.2 560.0 362.4 556.8 363.5 553.4 365.2 550.8 366.8 548.1 367.4 546.7 368.9 542.7 369.9 540.0 370.9 536.7 372.7 533.3 370.6 531.5 368.0 527.7 365.9 523.2 363.5 520.7 361.1 518.2 358.7 515.0 358.4 511.9 360.1 509.1 360.8 506.5 363.2 504.4 364.7 502.3 362.3 499.2 362.0 497.9 359.6 494.8 358.6 491.5 357.5 488.7 352.5 485.6 349.8 483.7 350.1 482.1 350.2 478.2 352.2 475.0 352.1 471.7 353.1 470.7M340.6 537.8 367.1 536.9 365.9 540.2 369.9 540.0M370.9 536.7 379.5 536.1 379.4 535.0 405.2 533.1M362.0 497.9 377.5 497.0M361.8 471.5 363.4 472.9 368.7 474.1 374.6 475.7 375.9 478.5 377.0 480.0M379.4 502.0 380.9 517.3 380.8 520.9 379.3 524.3 378.8 527.7M378.8 527.7 378.1 530.0 376.5 532.4 372.7 533.3M383.3 501.3 394.4 500.7 401.8 499.7M394.4 500.7 396.4 517.6M396.4 517.6 393.4 520.2 391.8 523.4 388.8 525.5 385.9 526.1 381.3 526.4 378.8 527.7M396.4 517.6 398.3 517.4 403.2 519.8 407.2 519.0 409.7 520.4 411.6 517.8 413.9 515.6 416.2 513.6 418.3 511.0 419.0 508.3 418.6 504.7M417.5 496.0 419.1 504.7 420.1 510.6 426.0 509.7M426.0 509.7 446.5 506.3 448.5 505.4M448.5 505.4 449.9 503.7 451.8 502.4 449.6 501.1 448.2 499.1 448.4 497.4 450.0 494.6M450.0 494.6 447.4 492.5 445.4 491.2 421.6 495.3 421.3 493.6M450.0 494.6 454.3 496.2 454.9 496.1M456.3 495.9 456.9 495.0 455.3 488.9 455.4 484.2 454.0 479.0 452.4 475.2 451.1 470.1M455.3 488.9 464.4 487.2 466.6 486.7 466.9 487.4 469.0 489.6M464.4 487.2 465.4 491.7M455.4 484.2 459.6 483.5 465.8 482.3 468.0 480.6M459.6 483.5 458.9 479.8 459.4 475.7 460.5 468.0M468.2 479.1 465.4 475.0 462.1 465.7M446.5 506.3 448.5 514.3 452.6 513.6M452.2 516.5 450.0 517.4 448.6 517.7M426.0 509.7 426.6 513.1 429.0 511.1 432.2 509.6 435.9 510.9 437.7 511.3 440.3 512.5 441.5 515.3 444.2 516.8 446.2 517.8M436.3 510.7 433.0 510.8 430.8 514.4 429.1 517.4 426.9 518.4 425.2 521.9 424.0 524.8 420.7 526.5 417.8 526.9 416.2 527.8 414.3 525.8M409.7 520.4 409.9 522.0 412.2 525.0 414.3 525.8M414.3 525.8 410.5 529.2 405.2 533.1M405.2 533.1 416.9 531.7 450.9 526.6M416.9 531.7 415.5 534.5 412.2 536.6 409.4 538.2 407.2 539.8 404.4 541.4 402.8 543.9M410.1 543.1 414.1 541.3 422.3 540.5 423.0 540.8 424.1 542.5 430.9 541.6 438.8 546.6M410.1 543.1 402.8 543.9 379.4 546.0 367.4 546.7M410.1 543.1 412.6 545.4 416.8 550.5 419.1 553.2 422.2 556.7 425.3 560.2 426.6 560.4M395.1 544.7 399.2 558.4 400.9 561.8 400.8 566.4 401.9 570.2M401.9 570.2 403.0 572.1 420.0 571.0 421.1 572.0 421.7 569.3 424.6 569.5M385.4 571.7 401.9 570.2M385.4 571.7 386.5 576.2M379.4 546.0 380.1 546.6 379.4 566.2 380.7 576.1" fill="none" stroke="#5a5a5a" stroke-width="0.85"/>
<path d="M192.1 441.7 194.1 443.1 195.6 444.1 197.6 444.9 199.3 445.4 200.9 445.8 201.0 446.9 200.7 448.5 199.3 450.6 197.8 452.0 199.3 451.5 200.7 451.2 201.6 449.8 202.5 448.3 203.3 447.2 203.1 445.1 203.1 443.4 203.5 442.2 202.8 440.4 215.9 443.5 230.1 446.5 234.9 447.4 244.5 449.1 259.4 451.4 274.1 453.3 293.5 455.1 308.5 456.0 327.2 456.5 337.4 456.5 337.4 454.1 339.1 454.5 339.7 457.5 340.2 458.3 343.2 458.7 344.2 459.5 345.9 459.1 348.4 458.8 350.2 459.8 351.7 460.4 354.2 461.3 356.3 462.2 359.0 461.1 361.8 461.6 365.3 462.0 363.4 463.3 360.4 464.7 358.0 466.6 355.3 468.8 353.1 470.7 354.6 470.9 356.6 470.3 358.7 469.7 359.6 469.1 359.5 471.2 361.8 471.5 364.3 469.8 367.1 469.2 369.1 468.3 371.2 466.8 372.9 465.4 374.6 464.8 373.2 466.4 372.1 467.7 371.7 469.5 373.4 468.6 375.2 468.8 377.2 470.7 379.8 471.0 381.1 471.1 382.8 469.7 384.4 469.1 386.8 468.8 389.5 468.1 389.3 469.7 391.3 469.8 392.8 469.5 394.0 470.6 395.3 472.1 395.6 472.6 394.1 472.7 392.5 472.9 391.4 473.7 389.4 473.1 387.3 472.6 385.5 473.5 383.5 474.0 381.9 476.0 380.7 474.8 379.5 475.6 378.3 477.0 377.0 480.0 375.8 481.5 375.2 483.9 376.5 483.0 377.7 481.4 379.1 479.9 380.3 478.5 379.7 480.5 378.4 481.9 377.9 484.1 377.3 486.6 377.3 488.8 376.6 491.8 376.6 493.5 377.5 495.4 377.4 497.0 377.4 498.3 378.8 500.9 379.5 502.2 380.5 502.5 382.9 501.6 384.5 500.6 384.9 499.0 385.9 496.8 386.0 494.3 385.3 491.5 384.1 489.2 383.8 487.0 384.6 484.3 384.4 482.1 385.8 480.6 387.3 478.5 387.9 480.7 388.6 479.3 388.9 477.6 390.4 476.9 389.7 475.7 391.5 474.3 392.9 475.0 395.0 475.8 396.5 476.1 398.9 478.2 399.9 480.4 400.0 482.3 399.0 483.5 397.6 485.6 397.8 487.5 399.4 486.7 400.6 485.3 402.1 484.4 404.1 485.5 405.3 488.3 406.2 491.0 406.1 493.5 404.5 493.7 404.2 495.3 403.2 496.1 402.9 497.8 401.8 499.7 403.8 500.3 406.2 501.0 408.4 500.9 411.6 500.0 414.1 498.0 416.1 496.8 419.6 494.7 421.3 493.6 423.4 491.9 425.2 488.9 423.9 486.7 426.7 485.6 431.6 485.4 435.2 484.5 437.1 483.1 438.6 482.2 438.3 479.9 437.0 478.7 438.9 476.8 440.5 474.2 443.1 471.7 447.7 470.8 451.1 470.1 455.4 469.1 460.5 468.0 462.1 465.7 463.4 465.8 464.1 464.5 464.9 461.0 464.8 459.7 465.5 457.8 464.8 455.7 467.2 450.0 469.3 451.3 471.6 449.5 474.9 450.6 477.4 457.5 479.9 459.3 482.4 461.8 483.8 463.4 482.7 465.2 480.4 466.8 478.7 468.3 476.7 468.8 475.4 468.2 475.0 470.6 473.3 472.1 471.6 473.8 469.6 475.3 468.6 478.6 468.0 479.3 468.0 480.6 469.6 481.7 468.1 483.4 468.1 484.4 469.7 484.7 470.8 486.2 471.5 487.2 472.9 487.1 474.0 486.1 472.6 485.0 474.1 485.2 474.9 487.0 473.3 487.7 471.4 488.7 470.0 488.7 469.1 489.6 468.1 490.0 467.4 490.7 465.4 491.7 464.1 491.9 462.0 492.7 459.7 493.2 458.4 494.3 456.3 495.9 455.8 496.9 457.2 496.1 459.9 495.4 462.0 494.7 463.6 493.2 465.8 493.2 462.8 495.6 459.3 497.5 457.2 498.4 455.3 498.9 455.2 499.5 455.7 501.3 455.7 502.6 455.9 504.2 454.7 507.1 453.6 509.0 452.4 510.4 451.5 508.8 449.2 507.9 448.1 506.8 449.1 508.6 450.5 510.7 451.9 511.5 452.6 513.6 452.7 514.4 452.2 516.7 451.6 517.5 450.8 519.6 449.7 522.5 449.4 523.1 448.9 521.3 448.4 518.1 446.4 515.8 445.1 512.7 444.9 509.4 445.3 507.6 443.8 509.9 443.9 512.9 445.2 516.0 446.2 517.8 447.0 521.0 447.4 523.9 449.6 524.3 451.0 526.6 453.5 530.5 454.9 534.7 452.4 536.2 449.9 539.8 445.4 540.9 442.4 546.1 438.8 546.6 436.9 548.0 435.7 551.5 432.0 555.0 428.7 557.8 427.4 559.3 426.6 560.4 425.3 564.2 424.5 566.6 424.6 569.5 425.3 571.4 426.4 574.5 429.1 578.8 432.9 583.1 432.8 584.8 434.9 588.4 438.3 593.8 439.1 600.8 438.2 603.5 437.1 605.0 434.5 605.7 432.8 605.9 431.7 603.8 428.1 600.7 426.5 597.0 423.8 595.1 421.0 591.9 419.7 590.4 418.7 587.9 418.9 584.7 418.8 582.1 416.0 580.8 413.3 578.1 409.8 576.3 407.7 575.6 406.6 576.6 404.8 577.8 403.0 578.9 400.7 579.0 399.9 577.6 398.1 576.1 392.8 575.1 388.4 575.8 386.2 576.4 383.3 576.9 382.5 575.5 380.7 576.1 379.7 576.3 377.5 576.1 374.6 577.0 373.1 577.8 372.5 578.7 374.4 578.9 375.5 580.5 374.7 582.2 376.5 585.0 374.4 583.5 371.5 583.6 369.7 585.2 366.4 585.2 362.4 584.4 359.1 582.9 355.9 582.7 351.3 581.6 345.8 582.0 341.6 583.4 339.7 584.7 336.4 587.3 331.9 589.3 329.2 590.5 326.5 592.5 323.9 594.4 322.8 596.9 322.4 600.8 323.3 604.0 323.9 606.2 322.2 606.9 320.2 605.9 316.8 605.4 314.2 604.2 310.9 602.8 308.7 599.2 308.6 596.0 306.1 593.3 303.6 590.6 302.4 588.0 300.1 583.7 297.1 580.8 293.2 580.4 290.6 580.6 288.6 581.4 287.1 583.9 285.0 585.3 283.1 584.2 280.0 582.5 277.0 580.3 276.1 577.3 274.6 573.6 271.1 570.3 267.7 567.7 265.9 565.4 255.4 564.3 255.0 567.2 237.0 564.9 215.5 553.9 216.4 552.5 201.5 551.0 201.3 548.8 201.0 546.4 199.6 544.4 196.6 542.0 195.9 541.7 195.8 539.9 192.6 538.6 191.6 537.2 189.5 535.9 185.0 534.5 184.2 533.5 185.0 531.5 184.5 528.2 182.7 525.5 182.2 523.3 181.1 519.0 182.1 517.9 181.3 516.7 179.6 514.5 179.6 512.5 180.2 510.7 178.8 509.6 177.9 508.7 178.6 506.8 176.0 502.0 176.6 498.7 177.2 496.2 175.7 491.4 177.6 489.4 178.4 487.9 179.7 483.5 180.2 481.9 180.3 476.2 182.8 473.4 185.3 469.6 186.9 465.9 189.4 460.5 190.8 455.8 191.6 452.9 191.7 451.3 192.2 447.7 191.6 444.8 192.1 441.7Z" fill="none" stroke="#333" stroke-width="0.9"/>
<defs><marker id="dm" markerUnits="userSpaceOnUse" markerWidth="4" markerHeight="4" refX="2" refY="2" viewBox="0 0 4 4"><circle cx="2" cy="2" r="1.3" fill="#58943a" stroke="#1b3010" stroke-width="0.65"/></marker></defs>
<path d="M453.6 500.8L384.1 486.9L378.2 517.8L394.7 493.6L364.2 558.8L306.9 532.2L364.2 521.4L449.1 503.4L437.8 547.1L371.5 580.2L360.5 525.9L439.6 512.4L322.0 606.5L441.0 514.7L323.8 545.3L362.2 503.4L450.0 504.8L187.2 515.2L392.9 505.2L445.3 500.3L369.9 546.7L231.2 550.6L439.4 511.4L194.0 521.3L347.4 508.1L184.5 507.7L455.8 498.3L388.7 555.4L439.2 510.7L257.1 507.3L333.9 485.9L467.9 481.9L316.1 584.6L319.1 510.8L186.1 506.1L429.2 498.0L327.5 561.3L236.9 557.1L367.9 545.5L195.3 531.0L469.5 488.3L389.6 541.5L433.5 533.3L371.3 467.0L396.0 494.8L413.7 527.9L199.1 452.3L426.3 534.2L358.4 579.5L323.8 559.5L392.0 521.6L368.3 547.3L366.0 523.8L450.4 501.8L337.8 520.7L326.2 530.1L434.2 485.1L442.1 521.3L396.8 518.1L185.7 479.8L354.8 468.7L220.8 532.8L411.0 515.2L452.7 504.3L328.6 469.8L374.8 484.4L455.2 495.4L430.7 529.9L345.5 478.6L381.8 526.0L359.2 499.8L348.6 480.0L411.7 502.4L373.8 491.7L435.3 598.7L441.4 512.6L438.6 600.2L451.7 500.7L218.7 529.9L420.0 550.7L323.0 544.3L383.9 473.8L459.8 488.7L372.1 493.0L321.4 572.2L318.1 572.9L352.7 516.4L188.2 510.0L438.6 513.9L297.1 556.4L197.2 450.8L363.7 548.3L231.3 548.4L292.0 509.5L451.3 498.1L424.1 538.2L455.8 495.4L353.3 578.3L208.6 458.0L349.8 484.0L406.5 509.7L422.5 505.2L401.4 512.2L343.1 580.4L422.0 537.7L402.6 537.2L419.3 576.4L432.3 487.3L464.4 491.8L396.0 568.8L363.2 564.2L397.0 519.2L186.0 531.7L389.2 557.2L200.3 472.7L403.9 552.7L198.1 537.8L368.6 487.5L281.5 513.5L338.4 583.0L427.0 582.5L399.7 491.3L325.1 527.6L402.1 550.0L331.4 580.2L200.5 540.1L400.3 505.4L271.9 560.4L365.2 491.0L330.8 579.7L441.3 511.0L450.7 503.2L433.5 534.1L400.0 517.0L325.9 536.3L389.3 516.2L219.3 528.2L338.5 563.7L387.9 554.0L423.2 539.9L450.5 496.9L378.7 530.7L459.9 490.1L187.7 506.8L442.0 532.3L402.2 567.6L377.3 539.0L352.5 527.1L395.8 496.9L398.5 524.4L368.2 542.1L427.9 581.8L323.7 543.8L200.7 452.1L420.4 560.3L335.9 581.5L428.3 532.2L382.0 575.0L389.4 574.0L462.9 489.4L394.7 548.2L181.8 511.5L368.0 523.7L402.9 493.2L341.6 476.1L367.0 566.3L373.2 528.3L451.6 506.6L464.2 488.6L467.8 485.0L204.7 539.7L405.2 537.6L458.0 497.2L407.4 557.1L402.6 497.2L353.4 490.6L180.9 512.7L466.5 484.8L401.3 501.1L336.6 478.2L460.1 491.4L234.3 549.7L453.8 499.5L465.5 493.3L397.6 567.8L327.5 563.2L240.3 556.9L467.7 486.6L446.4 505.2L452.4 497.9L398.3 548.6L457.4 494.5L442.3 511.6L356.3 576.7L353.2 502.3L413.7 556.0L227.4 454.2L225.3 448.5L398.8 516.4L432.6 585.4L393.0 520.2L372.4 561.1L441.1 503.6L418.1 502.9L189.8 514.7L425.3 551.3L422.4 541.6L336.8 582.0L467.7 482.9L444.3 514.1L376.8 511.4L458.3 497.8L234.2 552.5L205.4 539.7L372.7 580.1L189.7 504.8L376.3 500.5L452.9 495.7L234.2 551.3L325.0 561.5L320.5 579.3L448.6 505.6L198.8 539.0L453.0 473.2L338.5 466.1L446.4 526.5L389.6 493.4L341.4 503.8L375.6 481.6L401.5 490.9L435.3 534.6L335.6 583.2L246.3 565.3L392.4 471.1L449.6 502.0L347.9 479.9L361.7 498.6L427.4 501.2L436.9 599.1L304.1 515.3L191.3 520.2L343.7 548.4L410.0 533.5L458.7 471.4L433.6 534.8L414.4 503.0L353.3 538.4L358.4 542.4L198.3 539.3L422.2 586.5L368.4 514.9L424.9 540.7L390.3 537.7L391.7 550.0L462.2 489.4L378.0 500.3L180.3 508.8L423.9 540.3L201.5 538.5L331.5 514.2L439.4 546.2L203.7 549.7L452.5 497.1L468.1 489.6L445.7 500.9L190.9 472.3L365.3 515.6L437.4 600.2L334.8 577.4L421.2 505.0L281.1 515.4L441.3 527.4L202.8 448.0L331.9 540.7L437.4 597.5L382.8 533.5L440.4 512.1L356.8 502.5L444.7 503.3L459.6 497.3L231.8 487.1L291.7 551.7L266.6 544.7L185.3 507.4L347.9 483.9L439.0 518.9L209.4 458.8L232.4 551.1L453.9 496.4L452.3 484.6L393.0 575.0L376.0 495.1L387.3 505.5L430.1 554.5L437.3 544.1L402.3 557.5L183.8 513.5L421.9 505.5L464.6 480.6L199.5 512.0L451.5 502.4L440.3 529.2L406.8 510.9L198.4 541.7L435.6 599.4L361.8 577.1L386.1 535.4L425.3 488.1L451.2 484.3L336.7 578.6L202.5 542.1L428.6 580.1L401.8 502.2L194.6 461.2L340.1 458.3L430.2 600.4L328.0 562.6L441.4 506.7L354.5 500.1L345.6 507.9L392.3 510.5L244.1 502.7L416.8 510.7L437.4 599.4L454.8 492.2L301.2 510.8L451.1 504.5L291.9 566.5L455.7 497.8L435.5 599.7L448.1 526.4L363.1 556.8L203.1 450.1L421.0 564.4L360.3 486.6L440.4 509.8L365.6 485.6L360.9 575.0L247.0 485.6L376.7 496.4L369.4 564.8L441.7 511.9L444.3 532.4L348.6 520.6L441.7 515.1L407.2 502.2L201.2 538.8L434.8 495.0L455.2 499.0L401.6 496.5L195.4 539.7L334.1 582.6L396.8 508.4L389.8 539.4L393.1 538.4L451.7 496.6L429.3 553.3L358.3 511.4L204.9 549.4L398.7 517.3L183.5 513.9L428.2 584.4L386.1 538.6L370.6 499.4L221.1 529.5L424.7 548.4L376.0 499.1L414.8 531.4L202.6 536.7L453.8 507.9L341.6 520.3L436.1 534.6L405.0 506.7L410.8 526.1L188.1 506.4L352.3 525.4L436.4 513.0L195.9 461.9L381.5 564.7L458.2 493.0L383.3 568.8L466.5 488.1L408.3 508.2L415.1 544.0L402.8 551.7L201.5 451.2L240.5 558.8L454.2 501.8L455.2 502.3L193.5 523.8L410.7 535.1L402.0 555.5L405.5 510.3L392.7 523.9L456.5 497.8L457.3 496.1L389.3 536.2L422.8 572.5L454.7 499.7L378.5 503.0L465.1 484.0L420.5 586.2L452.9 529.8L328.0 560.1L364.5 521.1L373.9 576.6L359.9 509.2L316.7 583.2L421.8 499.4L203.0 540.8L440.7 484.8L438.1 507.0L357.2 540.2L354.1 533.4L325.0 562.4L281.8 515.0L200.8 447.4L387.0 539.2L388.0 550.1L195.1 538.2L399.8 557.3L198.2 532.8L425.4 595.9L391.9 561.2L421.2 566.6L217.5 532.3L400.3 512.6L376.3 490.8L420.4 495.6L324.7 531.1L343.3 541.0L197.3 541.2L351.8 496.7L450.8 501.8L368.0 508.8L194.0 463.1L337.1 582.0L398.5 514.5L471.8 466.9L386.2 518.2L422.3 515.0L294.7 473.3L394.2 513.9L313.4 568.3L350.8 503.5L455.9 496.1L399.6 514.3L318.6 583.6L376.2 513.2L421.0 582.4L423.3 545.9L402.6 550.5L423.9 569.3L339.4 501.5L193.9 460.1L347.2 480.4L332.7 521.0L380.6 543.4L314.6 526.4L451.7 483.0L321.0 577.4L357.7 534.1L451.5 493.9L179.0 499.0L387.4 538.5L281.6 520.2L456.1 498.3L316.1 511.3L371.1 573.8L369.5 507.2L337.1 472.9L204.1 547.3L464.5 487.3L419.3 582.2L199.5 536.5L287.6 505.7L466.8 486.5L419.9 586.2L427.2 579.4L355.8 493.1L326.5 563.9L221.3 543.8L324.1 565.3L362.1 477.0L461.9 482.5L454.9 497.8L393.7 490.1L349.0 462.6L200.8 540.2L318.1 498.6L394.4 558.4L405.0 553.9L333.9 568.6L400.2 488.5L222.3 530.1L419.3 495.1L364.7 474.2L334.8 579.8L380.3 503.6L356.6 475.2L449.5 484.3L371.7 539.9L443.3 505.3L411.8 517.6L364.7 524.1L301.4 475.5L434.2 512.3L401.2 552.1L455.6 488.0L401.6 510.3L335.3 581.8L461.8 492.0L366.7 521.3L461.4 495.6L358.3 556.0L340.8 522.7L386.6 533.6L432.5 553.9L342.1 545.4L383.2 502.5L404.9 553.1L436.3 601.5L434.1 594.4L427.9 584.0L217.8 546.7L327.1 561.5L392.3 479.2L282.4 520.6L392.0 518.4L235.3 538.4L404.2 553.8L324.2 561.0L412.2 510.2L400.1 513.2L414.8 541.7L322.1 577.2L181.0 512.9L425.8 592.3L329.7 563.3L457.3 497.9L397.9 560.0L345.8 562.4L371.6 550.5L413.1 503.5L340.4 523.4L203.3 449.5L361.9 506.1L422.5 507.3L466.3 483.7L453.8 497.3L202.2 452.9L198.6 538.5L389.3 521.5L450.2 497.3L192.9 521.0L339.5 581.2L182.7 513.0L329.9 474.3L346.4 483.3L358.7 577.3L420.4 587.5L267.2 565.2L390.0 514.9L377.7 503.7L423.8 505.0L390.6 496.1L343.7 505.9L421.2 588.2L464.7 483.2L183.1 508.9L335.6 580.3L390.8 476.7L199.0 539.6L434.9 539.8L202.4 451.3L433.0 586.3L360.3 577.4L197.7 461.0L269.0 543.8L303.9 518.0L416.4 555.6L399.9 495.2L423.3 583.1L322.5 496.0L412.9 539.8L420.4 589.9L233.6 550.2L326.0 497.9L343.4 579.7L454.5 498.8L199.9 539.5L466.5 485.6L370.2 512.8L371.4 483.6L383.3 501.7L452.8 495.0L326.2 561.6L375.6 499.7L255.3 542.5L197.0 540.2L217.9 527.9L407.4 535.6L432.8 586.0L385.8 492.8L379.9 515.1L457.6 494.6L468.3 483.1L449.3 504.7L197.0 537.0L185.5 533.2L441.0 522.9L199.6 540.0L443.7 512.5L333.0 539.8L447.8 505.0L399.4 523.7L378.3 505.3L320.5 544.2L425.2 489.5L438.2 597.9L370.4 534.1L391.2 535.1L342.7 563.7L344.7 540.0L338.7 503.8L441.3 512.6L323.7 561.8L280.5 563.0L474.3 452.1L439.9 488.3L445.2 496.0L373.8 507.5L294.0 534.9L193.1 537.0L325.1 529.3L202.3 540.4L381.6 502.4L309.9 538.8L429.9 489.1L460.1 495.6L406.3 507.1L317.2 585.2L402.5 494.3L440.5 524.2L422.6 587.5L352.4 497.9L222.4 531.7L244.5 507.1L438.5 601.1L440.1 513.8L473.5 460.6L340.6 547.4L412.4 500.5L447.4 499.5L244.8 506.0L431.2 485.8L366.7 522.9L181.5 513.8L416.6 539.4L188.9 534.0L375.9 527.8L466.9 466.0L364.1 522.5L197.0 541.2L420.9 589.4L197.8 539.7L194.7 530.1L453.9 501.5L386.0 497.2L201.3 546.3L232.6 552.3L454.3 496.3L426.4 489.7L339.2 519.7L391.2 511.5L386.9 499.5L403.9 550.5L349.8 579.2L402.1 553.7L298.8 459.4L353.8 548.3L428.1 545.7L408.9 558.4L323.1 572.6L454.3 497.0L387.1 537.3L429.4 537.9L424.9 541.0L453.0 497.3L181.7 509.2L423.1 570.4L338.9 522.5L426.0 533.5L423.9 546.1L398.0 516.9L403.3 505.1L333.1 539.2L196.1 540.6L392.4 481.4L388.3 491.9L441.3 516.3L369.0 526.0L338.7 521.8L467.7 482.1L424.2 493.9L387.5 538.1L385.4 502.5L328.1 510.8L408.1 548.7L318.9 577.3L342.1 526.0L419.0 502.1L422.0 570.7L421.9 504.4L196.0 539.9L386.6 537.7L452.1 496.2L438.4 599.2L203.9 541.1L334.9 581.4L398.0 527.4L382.7 549.3L441.3 512.0L430.9 506.5L430.4 582.6L203.6 550.8L352.6 470.1L316.0 542.6L378.1 506.3L451.7 495.3L338.5 559.8L316.5 583.7L441.6 542.2L367.1 525.0L278.9 515.1L413.0 546.1L437.9 483.7L403.0 554.5L355.0 548.3L412.6 561.1L450.8 505.9L346.8 481.4L404.9 544.6L455.4 497.0L345.7 502.6L196.3 459.9L427.2 525.1L234.1 549.0L340.6 520.6L445.4 524.9L328.4 509.3L387.5 556.1L463.1 487.8L347.4 482.7L428.0 495.6L311.9 544.5L342.1 523.9L332.6 507.8L195.3 539.2L453.5 501.8L234.8 548.9L200.5 447.6L282.7 505.0L402.9 497.7L384.3 531.0L346.8 483.5L369.7 578.9L388.7 513.9L364.8 522.8L392.3 516.5L449.2 504.0L446.9 500.5L451.6 504.0L199.7 446.8L398.6 550.8L431.9 489.9L181.7 510.0L243.9 504.5L426.6 582.5L464.6 485.8L370.3 554.2L416.3 533.0L420.7 542.0L367.6 520.8L378.4 501.9L325.8 561.6L325.4 529.6L378.0 501.9L372.2 558.9L457.2 493.7L433.1 531.4L241.5 461.7L237.4 557.6L440.7 499.9L438.0 504.4L384.0 575.3L388.3 515.1L345.1 540.9L349.9 550.8L372.4 523.4L262.6 555.5L421.9 592.9L224.4 481.5L276.4 494.9L458.2 492.2L259.5 538.8L377.3 497.9L407.6 509.1L469.4 472.8L330.3 562.9L280.1 516.3L427.4 589.5L365.7 494.2L375.9 493.1L425.4 587.5L424.2 587.9L294.0 564.7L260.9 510.1L370.1 579.5L467.6 477.2L439.5 513.2L406.5 568.3L466.3 484.7L342.9 502.9L453.7 497.4L324.7 488.6L244.8 502.5L413.9 501.2L369.4 550.7L422.1 503.3L403.6 516.2L405.3 542.3L268.1 543.7L429.0 594.8L423.7 526.7L353.9 571.2L450.5 513.8L323.2 594.9L189.0 505.2L202.1 543.0L330.2 588.4L223.1 480.9L187.2 495.9L303.1 469.8L398.7 541.1L320.1 579.4L257.2 461.2L347.2 486.6L198.7 502.9L386.2 511.5L421.9 591.8L399.9 566.5L198.6 540.4L325.1 569.9L263.4 519.0L338.9 476.5L464.0 486.2L347.9 497.0L346.2 563.5L360.5 569.4L348.7 482.5L440.2 487.0L428.8 492.6L417.1 542.8L455.7 486.3L468.2 486.0L182.9 519.0L281.2 513.3L265.4 565.1L438.0 598.7L403.4 488.2L383.2 535.1L333.6 548.4L268.1 567.3L365.9 510.3L364.3 514.3L423.7 532.9L403.6 550.8L402.7 578.4L339.8 522.4L353.4 563.5L407.5 509.5L265.7 565.1L454.5 507.1L428.2 531.6L321.1 581.1L326.7 561.8L310.2 485.9L414.2 520.2L467.5 489.3L347.6 482.7L397.2 546.5L337.1 564.4L440.0 504.1L320.9 579.1L395.4 499.1L232.2 550.1L467.0 484.5L335.4 586.0L203.9 543.8L356.7 482.7L227.0 453.6L195.6 461.6L425.8 488.7L389.1 492.9L181.0 506.7L405.0 511.2L183.5 515.1L318.9 559.1L402.7 548.4L368.5 494.7L451.1 500.9L282.1 514.0L424.9 560.3L461.2 487.5L435.6 533.4L373.0 497.9L455.7 494.8L337.0 583.2L242.1 454.1L453.2 505.8L296.1 544.4L426.1 583.9L405.6 551.9L397.2 544.7L319.5 583.6L362.3 574.2L423.6 586.8L419.4 553.7L321.6 501.0L463.0 470.3L448.9 539.1L387.5 542.0L428.7 583.3L421.1 537.4L436.9 547.3L183.3 514.3L395.1 544.3L454.7 506.1L336.0 510.0L370.4 578.7L329.9 493.0L403.4 495.7L193.6 461.0L191.6 518.0L394.6 495.0L393.2 522.8L400.5 495.2L338.0 580.7L315.9 582.6L195.1 529.8L400.0 534.6L481.5 464.8L317.6 598.1L242.3 561.2L473.2 487.5L423.3 573.5L316.4 604.9L449.0 497.4L334.1 506.6L463.8 479.4L392.6 525.3L451.6 499.0L406.7 574.3L344.4 510.7L388.3 515.8L346.1 459.2L348.3 532.6L245.9 502.0L423.9 566.0L411.8 503.3L435.7 537.0L331.4 505.1L435.3 600.4L197.3 462.2L329.8 493.3L387.8 548.1L334.5 583.0L260.4 532.2L449.6 524.7L419.4 552.8L379.1 504.5L276.3 571.0L362.6 539.6L454.8 498.1L324.0 563.5L450.2 506.5L343.1 478.7L431.9 485.5L432.0 538.5L442.4 536.3L450.0 525.2L401.6 552.4L326.5 562.0L389.9 499.4L450.9 505.1L373.0 522.5L283.0 515.8L422.6 503.6L199.1 543.1L399.4 525.2L453.8 485.0L267.9 473.0L334.1 561.9L197.3 538.8L232.4 548.6L403.9 495.5L439.9 521.6L460.4 495.7L409.3 545.8L419.6 498.1L204.7 541.9L403.2 495.2L404.0 551.5L243.8 504.0L384.1 572.6L401.2 558.2L370.7 497.2L370.8 552.0L422.7 586.0L393.9 493.7L365.8 529.7L404.4 539.2L318.4 594.7L436.0 600.3L378.0 502.6L233.8 550.8L396.6 543.1L329.4 561.1L376.4 502.9L431.5 594.5L201.4 549.5L344.9 504.8L446.7 498.0L314.8 558.2L405.3 550.2L336.4 580.4L248.0 469.7L385.0 544.0L339.0 581.8L447.2 524.7L425.9 487.3L396.6 516.5L260.7 542.6L195.2 465.2L232.5 501.9L475.0 465.5L393.4 554.2L338.4 581.8L453.3 472.8L332.7 561.7L387.2 547.7L189.1 480.7L339.5 521.6L199.0 541.8L389.0 554.6L189.5 508.2L383.1 547.4L451.9 499.9L446.2 537.3L376.1 502.3L386.4 574.1L447.0 505.2L346.8 516.2L182.3 506.6L382.8 530.3L194.4 537.7L196.7 538.6L243.9 500.4L294.0 487.9L435.4 488.8L236.1 549.2L364.0 502.2L297.5 564.9L310.0 469.6L200.6 446.2L420.8 586.4" fill="none" stroke="none" marker-start="url(#dm)" marker-mid="url(#dm)" marker-end="url(#dm)"/>
<path d="M236.7 622.2 240.1 623.1 244.4 623.8 249.3 624.5 252.9 625.8 256.4 627.8 260.7 630.4 263.5 633.1 267.7 635.7 272.0 638.4 276.3 641.7 280.5 644.7 265.4 669.8 267.9 671.6 270.4 673.6 272.4 674.8 275.7 675.7 277.5 678.3 279.3 682.1 281.2 686.9 283.1 690.3 282.6 693.7 279.3 694.9 276.4 693.1 274.5 689.4 272.7 685.1 271.3 681.3 269.9 678.3 268.1 675.2 266.3 672.9 264.6 671.0 262.8 669.5 260.5 668.1 258.6 666.5 256.8 664.7 255.1 663.0 253.7 661.7 252.2 661.5 251.2 662.4 249.9 662.6 248.5 661.7 247.1 661.7 245.7 661.2 243.9 660.9 242.5 660.6 240.2 659.8 237.5 659.3 234.7 659.5 232.0 659.2 230.1 658.0 229.7 657.2 226.4 658.0 223.7 658.7 220.0 659.6 217.3 659.9 213.6 659.7 209.9 658.8 206.2 657.4 209.0 657.2 212.6 658.3 216.3 658.7 220.0 658.0 223.7 657.2 226.9 656.2 228.5 655.2 226.0 653.8 224.5 652.3 222.3 650.7 221.3 649.3 222.8 647.7 223.7 646.3 222.3 644.7 221.3 643.3 221.1 641.3 220.9 639.1 223.2 637.7 226.7 637.1 229.2 636.8 231.5 635.7 233.8 634.8 236.6 634.4 239.3 634.0 241.6 633.1 239.8 631.8 237.5 631.0 234.7 630.1 232.4 629.7 230.1 628.8 228.8 627.8 228.1 626.5 230.1 626.1 232.4 625.4 234.7 624.5 235.9 623.5Z" fill="#f3f2e8" stroke="#000" stroke-width="0.7"/><path d="M216.9 626.0 217.8 625.8 219.5 628.0 221.1 630.4 220.4 630.9 218.3 628.8ZM215.6 640.9 216.8 639.7 218.5 640.2 218.3 642.0 216.5 642.4ZM231.5 664.3 233.8 663.0 236.6 662.8 239.3 663.3 238.9 664.8 235.6 665.7 232.4 665.5Z" fill="#f3f2e8" stroke="#000" stroke-width="0.7"/><path d="M280.2 694.6 278.9 693.8 278.5 693.1 279.1 692.2 280.1 690.5 280.5 691.9 280.5 691.8ZM277.7 684.8 277.1 683.5 277.4 683.0 277.3 683.1 278.4 683.3ZM271.4 680.1 270.2 679.3 270.8 678.4 271.3 678.1 271.4 679.2ZM277.0 690.1 276.5 691.3 276.4 691.2 275.4 688.9 275.7 687.4 276.7 686.8 277.0 688.2ZM270.1 677.0 269.6 676.9 269.8 675.9 270.0 675.6 271.4 676.3ZM274.4 681.7 272.8 684.1 272.1 681.6 272.2 680.2 273.5 679.9ZM274.3 679.5 274.3 679.5 273.2 677.4 273.9 677.1 273.9 677.3 274.4 678.1ZM277.2 690.1 277.2 688.9 277.2 688.5 277.2 688.4 277.6 688.1 277.9 689.0 277.9 689.2ZM280.3 687.3 279.9 687.7 279.9 688.0 279.6 687.9 279.3 687.6 280.0 686.1 280.2 686.8ZM275.6 680.7 274.7 682.0 274.6 677.5 274.8 677.6 275.6 677.6 276.0 677.6 276.4 678.7ZM274.0 683.6 273.8 682.8 273.8 683.6 273.6 682.9 273.2 681.3 273.6 680.9 274.1 680.7ZM271.7 676.2 271.1 676.9 270.5 678.6 269.7 678.0 270.2 674.3 270.3 674.7 270.5 674.0ZM278.5 687.4 278.1 687.6 277.9 686.3 278.3 685.8 278.4 685.7 278.9 686.0 278.7 685.9ZM275.7 682.5 274.1 683.2 275.0 680.8 275.4 681.8 275.8 682.3ZM275.5 681.7 275.5 681.5 274.2 680.2 274.6 678.5 275.9 679.6 275.7 679.6ZM276.5 691.0 276.2 690.3 276.1 689.8 276.6 688.8 276.7 688.6ZM271.4 676.9 270.9 678.0 270.2 679.1 270.2 678.1 269.6 678.1 269.6 674.7 270.9 676.1ZM272.6 678.7 272.4 677.9 271.9 676.1 272.5 674.3 272.5 675.7 272.9 675.5ZM280.2 686.1 279.6 686.8 278.8 686.4 279.2 684.0 279.7 684.4 279.8 685.4ZM279.3 691.2 279.1 691.4 278.7 690.4 278.8 689.3 279.5 689.3 279.8 688.8ZM271.8 682.6 271.3 682.8 271.2 680.9 271.0 680.9 271.3 680.6 271.4 681.0 272.1 680.9ZM276.5 683.5 276.2 683.9 276.2 684.0 275.7 683.3 275.5 682.6 275.9 681.2 276.4 682.1ZM273.4 682.9 273.2 683.8 272.5 683.0 272.4 683.1 273.1 682.0 273.5 682.3ZM273.7 678.9 271.6 678.8 272.6 676.8 273.0 676.7 273.1 677.4 273.1 677.6ZM272.6 678.3 271.9 678.3 272.2 678.1 272.2 677.4 272.7 676.3 272.9 676.4ZM275.1 687.3 274.6 687.8 274.7 687.8 274.1 684.0 275.2 683.6 276.1 685.3 275.7 685.5ZM275.9 683.7 275.8 683.8 275.7 683.7 275.4 682.5 275.4 682.1ZM279.9 690.1 280.0 690.0 279.9 690.2 278.9 688.8 279.1 688.1 279.1 688.0 279.2 688.3ZM275.7 688.5 275.3 688.8 274.4 687.8 274.8 685.9 275.1 686.1ZM278.8 692.4 278.8 692.6 278.2 692.1 278.0 692.3 278.8 690.7Z" fill="#f3f2e8" stroke="#000" stroke-width="0.63"/><path d="M192.7 654.5 195.2 655.3 197.0 656.3 199.3 656.9 201.4 657.4M178.3 647.0 180.0 647.8 182.3 648.8M173.5 642.6 174.5 643.4M175.4 644.5 176.8 645.6M202.3 657.3 205.3 658.0" fill="none" stroke="#000" stroke-width="0.9799999999999999"/><path d="M209.7 595.3 212.2 598.0 212.5 601.6 208.3 602.0 205.4 600.0 206.6 598.0Z" fill="#f3f2e8" stroke="#333" stroke-width="0.65"/><path d="M197.7 575.9 199.3 575.3 200.6 576.4 199.9 578.2 198.2 578.2Z" fill="#f3f2e8" stroke="#555" stroke-width="0.65"/><path d="M194.4 575.1 195.4 575.6" stroke="#000" stroke-width="0.8450000000000001"/><path d="M202.8 582.8 204.4 582.6 205.2 584.3 204.0 585.2 202.8 584.3Z" fill="#f3f2e8" stroke="#333" stroke-width="0.52"/><path d="M205.8 586.9 207.6 587.6 208.8 588.4" fill="none" stroke="#000" stroke-width="0.8450000000000001"/><path d="M207.9 589.5 209.4 589.7 211.2 591.2 210.6 592.8 208.8 592.6 208.2 591.0Z" fill="#f3f2e8" stroke="#333" stroke-width="0.52"/><path d="M260 650.8L250 657.5" fill="none" stroke="none" marker-start="url(#dm)" marker-end="url(#dm)"/>
<g font-family="Liberation Sans, sans-serif" font-size="11.45" stroke="#000" stroke-width="0.15">
<rect x="343.3" y="665.2" width="20.6" height="8.9" fill="#f3f2e8" stroke="#000" stroke-width="1.3"/>
<text x="369" y="673.4">Not Significant</text>
<rect x="343.3" y="683.05" width="20.6" height="8.2" fill="#b01c22" stroke="#000" stroke-width="1.3"/>
<text x="369" y="691.3">Hot Spot - 99% Confidence</text>
<circle cx="353.6" cy="704.6" r="1.5" fill="#6aa843" stroke="#111" stroke-width="0.75"/>
<text x="369" y="707.8">Blood Facilites (3464)</text>
</g>
<g font-family="Liberation Sans, sans-serif" font-size="11.7" stroke="#000" stroke-width="0.18"><text x="32.5" y="448.3">Median</text><text x="87.3" y="448.3">2</text><text x="39.5" y="461.6">IQR</text><text x="80" y="461.6">1 - 4</text><rect x="73.7" y="474.4" width="34.8" height="212.2" fill="none" stroke="#000" stroke-width="1.5"/><line x1="68.6" y1="686.5" x2="73.7" y2="686.5" stroke="#000" stroke-width="1.2"/><text x="64.6" y="690.8" text-anchor="end" font-size="11.9" letter-spacing="1.4">0</text><line x1="68.6" y1="653.8" x2="73.7" y2="653.8" stroke="#000" stroke-width="1.2"/><text x="64.6" y="658.1" text-anchor="end" font-size="11.9" letter-spacing="1.4">10</text><line x1="68.6" y1="621.1" x2="73.7" y2="621.1" stroke="#000" stroke-width="1.2"/><text x="64.6" y="625.4" text-anchor="end" font-size="11.9" letter-spacing="1.4">20</text><line x1="68.6" y1="588.4" x2="73.7" y2="588.4" stroke="#000" stroke-width="1.2"/><text x="64.6" y="592.7" text-anchor="end" font-size="11.9" letter-spacing="1.4">30</text><line x1="68.6" y1="555.7" x2="73.7" y2="555.7" stroke="#000" stroke-width="1.2"/><text x="64.6" y="560.0" text-anchor="end" font-size="11.9" letter-spacing="1.4">40</text><line x1="68.6" y1="523.0" x2="73.7" y2="523.0" stroke="#000" stroke-width="1.2"/><text x="64.6" y="527.3" text-anchor="end" font-size="11.9" letter-spacing="1.4">50</text><line x1="68.6" y1="490.3" x2="73.7" y2="490.3" stroke="#000" stroke-width="1.2"/><text x="64.6" y="494.6" text-anchor="end" font-size="11.9" letter-spacing="1.4">60</text><line x1="70.8" y1="670.1" x2="73.7" y2="670.1" stroke="#000" stroke-width="1.1"/><line x1="70.8" y1="637.5" x2="73.7" y2="637.5" stroke="#000" stroke-width="1.1"/><line x1="70.8" y1="604.8" x2="73.7" y2="604.8" stroke="#000" stroke-width="1.1"/><line x1="70.8" y1="572.0" x2="73.7" y2="572.0" stroke="#000" stroke-width="1.1"/><line x1="70.8" y1="539.4" x2="73.7" y2="539.4" stroke="#000" stroke-width="1.1"/><line x1="70.8" y1="506.6" x2="73.7" y2="506.6" stroke="#000" stroke-width="1.1"/><text transform="translate(41.1,654.7) rotate(-90) scale(0.842,1)" font-size="12.2" stroke="#000" stroke-width="0.35">County level recall event density</text></g><g stroke="#000" stroke-width="1.4" fill="none">
<rect x="83.3" y="674" width="14.3" height="10.3" fill="#fff"/>
<line x1="83.3" y1="680" x2="97.6" y2="680"/>
<line x1="90.4" y1="661" x2="90.4" y2="671.8"/>
<line x1="83.8" y1="661" x2="97.9" y2="661"/>
<path d="M90.4 671.6L96.6 674.4L90.4 677.8L84.2 674.4Z"/>
</g>
<line x1="80" y1="674.1" x2="101.1" y2="674.1" stroke="#d4148c" stroke-width="1.6"/>
<g fill="#3b4768"><circle cx="90.6" cy="477.7" r="1.7"/><circle cx="90.6" cy="503.8" r="1.7"/><circle cx="90.3" cy="618.2" r="1.7"/><circle cx="90.3" cy="634.4" r="1.7"/><circle cx="86.9" cy="647.5" r="1.7"/><circle cx="90.3" cy="647.5" r="1.7"/><circle cx="93.2" cy="653.9" r="1.7"/><circle cx="90.1" cy="657.2" r="1.7"/><circle cx="91.4" cy="657.2" r="1.7"/></g></svg></body></html>
